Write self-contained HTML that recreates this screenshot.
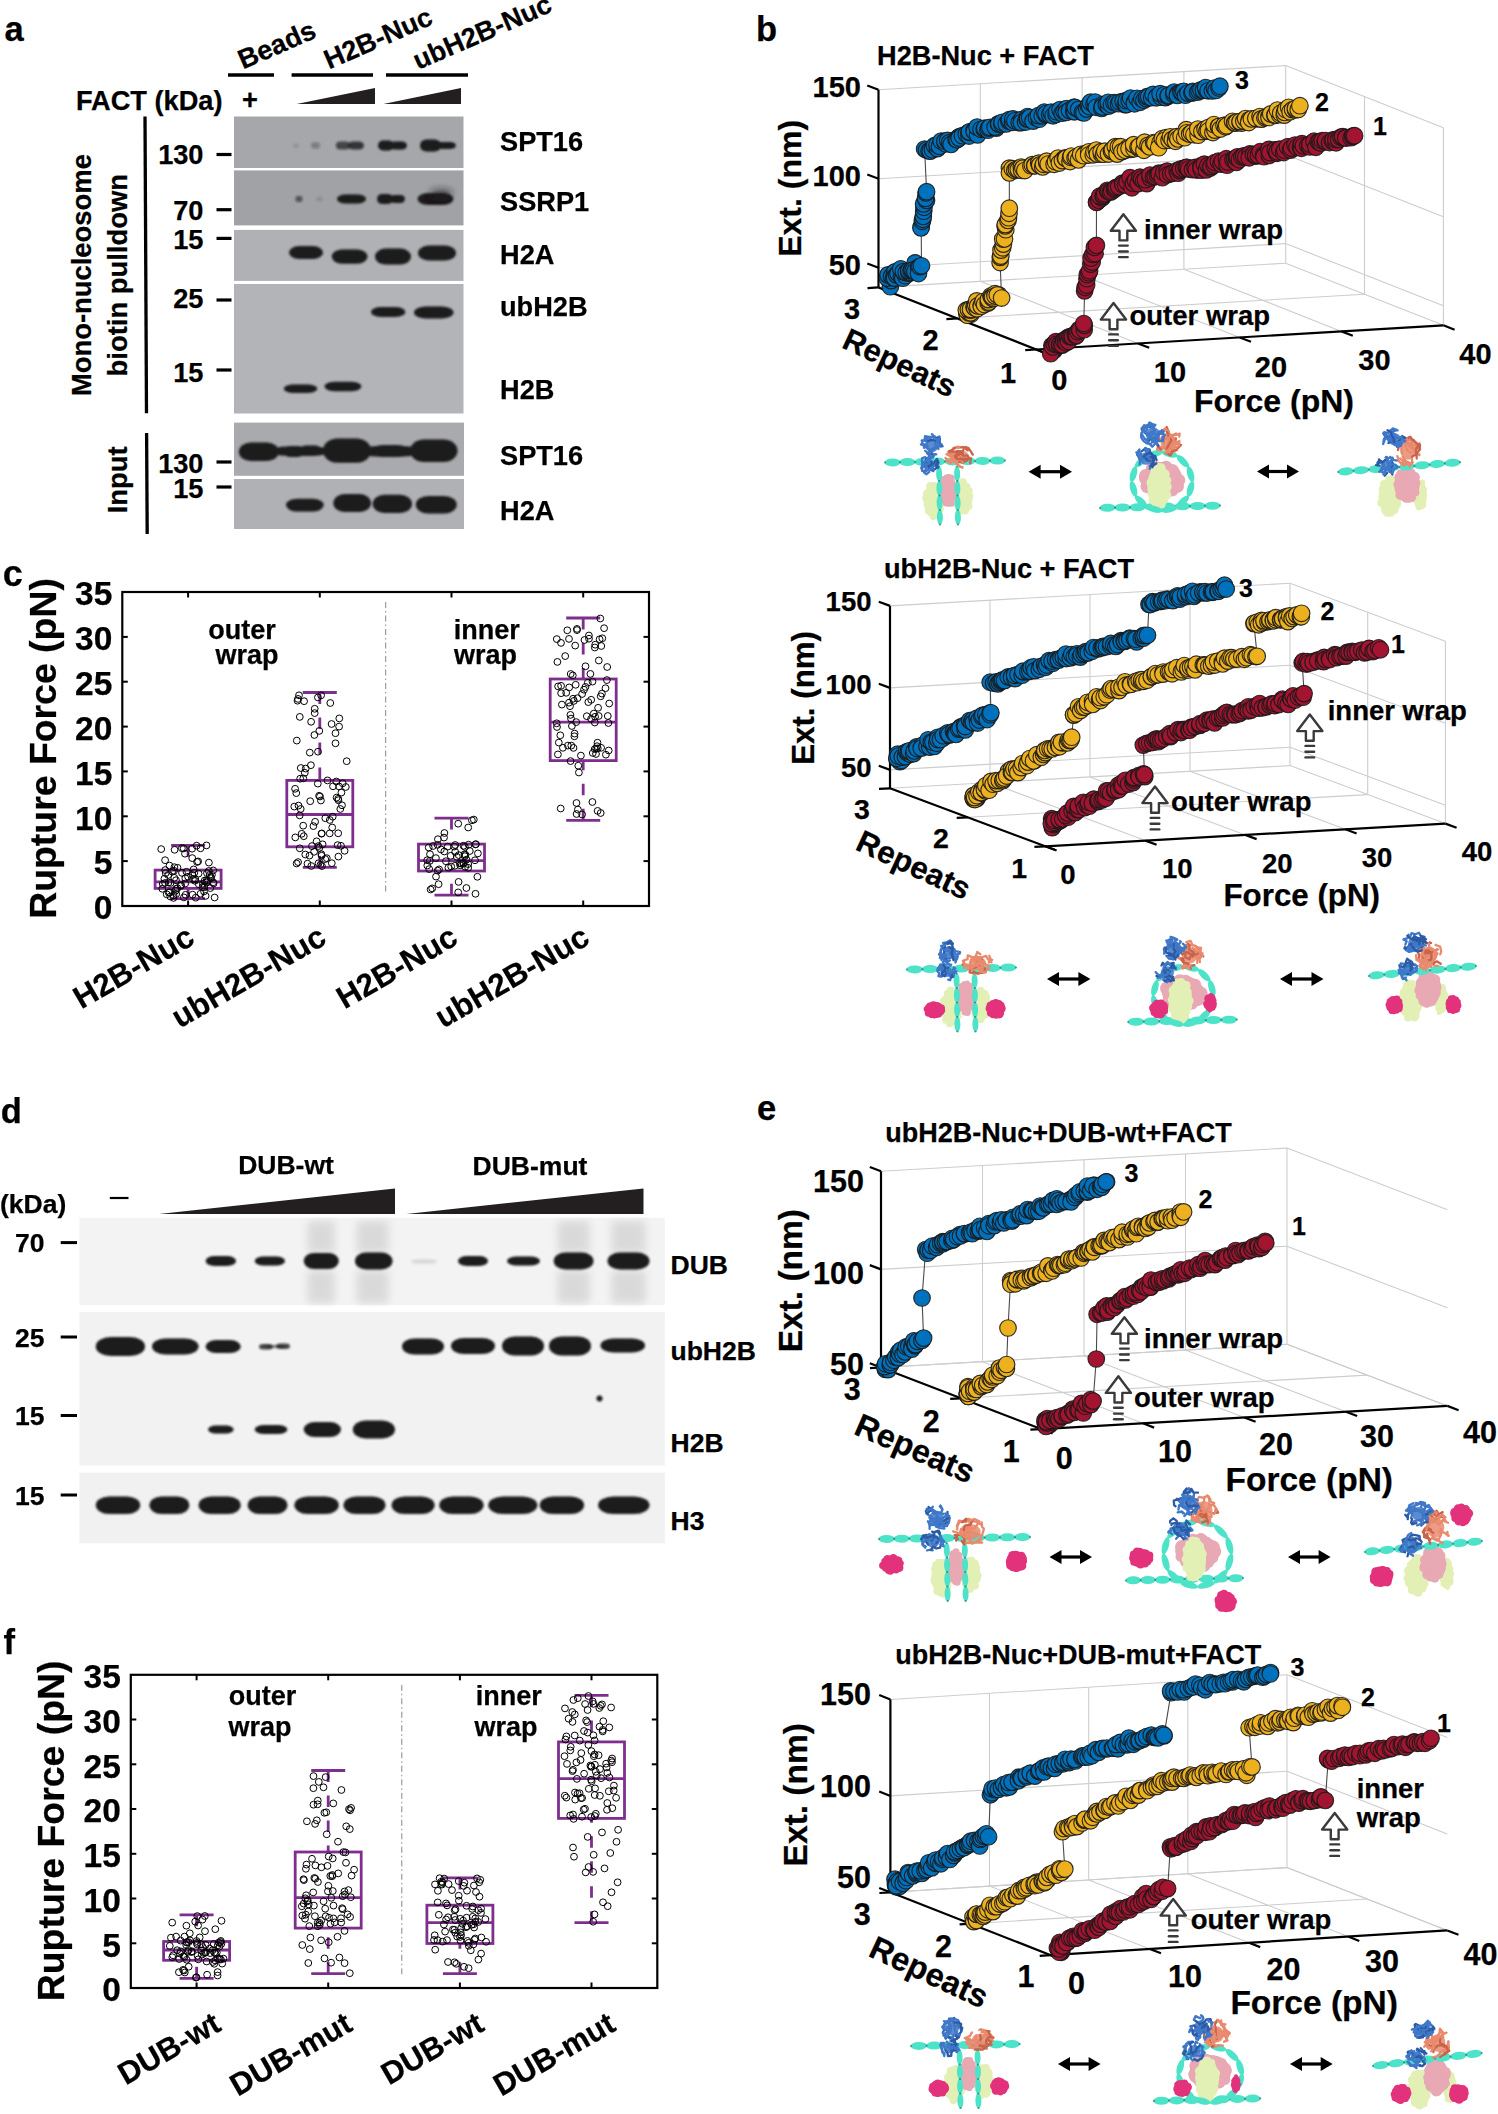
<!DOCTYPE html>
<html><head><meta charset="utf-8"><style>
html,body{margin:0;padding:0;background:#fff;}
svg{display:block;}
text{font-family:"Liberation Sans",sans-serif;font-weight:bold;fill:#000;stroke:#000;stroke-width:0.25px;}
</style></head><body>
<svg width="1498" height="2114" viewBox="0 0 1498 2114">
<defs>
<filter id="b1" x="-30%" y="-60%" width="160%" height="220%"><feGaussianBlur stdDeviation="1.3"/></filter>
<filter id="b2" x="-30%" y="-60%" width="160%" height="220%"><feGaussianBlur stdDeviation="3"/></filter>
<filter id="b3" x="-30%" y="-10%" width="160%" height="120%"><feGaussianBlur stdDeviation="4"/></filter>
<filter id="b05"><feGaussianBlur stdDeviation="0.5"/></filter>

</defs>
<rect width="1498" height="2114" fill="#fff"/>
<text x="4.5" y="41" font-size="34.5">a</text>
<text x="243" y="69.5" font-size="27.2" transform="rotate(-23.5 243 69.5)">Beads</text>
<text x="329" y="69.5" font-size="27.2" transform="rotate(-23.5 329 69.5)">H2B-Nuc</text>
<text x="418" y="70" font-size="27.2" transform="rotate(-23.5 418 70)">ubH2B-Nuc</text>
<line x1="228" y1="75" x2="274" y2="75" stroke="#000" stroke-width="3.5"/>
<line x1="291.6" y1="75" x2="373" y2="75" stroke="#000" stroke-width="3.5"/>
<line x1="386" y1="75" x2="468" y2="75" stroke="#000" stroke-width="3.5"/>
<text x="76" y="109.6" font-size="27.2">FACT (kDa)</text>
<text x="250" y="109" font-size="27.2" text-anchor="middle">+</text>
<polygon points="296.7,104 375,104 375,88" fill="#231f20"/>
<polygon points="383.4,104 461,104 461,88" fill="#231f20"/>
<line x1="145" y1="116.6" x2="146.5" y2="413.3" stroke="#000" stroke-width="3.3"/>
<line x1="146.6" y1="433" x2="147.2" y2="534" stroke="#000" stroke-width="3.3"/>
<text x="90.7" y="275.1" font-size="27.4" text-anchor="middle" transform="rotate(-90 90.7 275.1)">Mono-nucleosome</text>
<text x="126.8" y="275.2" font-size="27.4" text-anchor="middle" transform="rotate(-90 126.8 275.2)">biotin pulldown</text>
<text x="127.5" y="479.8" font-size="27.4" text-anchor="middle" transform="rotate(-90 127.5 479.8)">Input</text>
<text x="203.5" y="163.5" font-size="27.2" text-anchor="end">130</text>
<line x1="216.5" y1="154.5" x2="231.5" y2="154.5" stroke="#000" stroke-width="3.2"/>
<text x="203.5" y="219.7" font-size="27.2" text-anchor="end">70</text>
<line x1="216.5" y1="209.7" x2="231.5" y2="209.7" stroke="#000" stroke-width="3.2"/>
<text x="203.5" y="249" font-size="27.2" text-anchor="end">15</text>
<line x1="216.5" y1="238.4" x2="231.5" y2="238.4" stroke="#000" stroke-width="3.2"/>
<text x="203.5" y="308" font-size="27.2" text-anchor="end">25</text>
<line x1="216.5" y1="300" x2="231.5" y2="300" stroke="#000" stroke-width="3.2"/>
<text x="203.5" y="381.5" font-size="27.2" text-anchor="end">15</text>
<line x1="216.5" y1="370" x2="231.5" y2="370" stroke="#000" stroke-width="3.2"/>
<text x="203.5" y="472.8" font-size="27.2" text-anchor="end">130</text>
<line x1="216.5" y1="462" x2="231.5" y2="462" stroke="#000" stroke-width="3.2"/>
<text x="203.5" y="497.8" font-size="27.2" text-anchor="end">15</text>
<line x1="216.5" y1="487" x2="231.5" y2="487" stroke="#000" stroke-width="3.2"/>
<rect x="234" y="116.5" width="229.5" height="51.5" fill="#a6a7ab"/>
<rect x="234" y="170.4" width="229.5" height="55" fill="#a1a2a6"/>
<rect x="234" y="229.9" width="229.5" height="51" fill="#b0b1b5"/>
<rect x="234" y="284" width="229.5" height="129.5" fill="#b3b4b8"/>
<rect x="234" y="422.6" width="230" height="53.2" fill="#a9aaae"/>
<rect x="234" y="479" width="230" height="50" fill="#b0b1b5"/>
<g filter="url(#b1)">
<rect x="293" y="143" width="6" height="5" rx="2.5" ry="2.5" fill="#1c1a1b" opacity="0.1"/>
<rect x="311" y="142.5" width="9" height="6" rx="3" ry="3" fill="#1c1a1b" opacity="0.3"/>
<rect x="336" y="141.5" width="14" height="8" rx="4.2" ry="4" fill="#1c1a1b" opacity="0.7"/>
<rect x="348" y="141.5" width="16" height="8" rx="4.8" ry="4" fill="#1c1a1b" opacity="0.8"/>
<rect x="378" y="140.5" width="16" height="10" rx="5" ry="5" fill="#1c1a1b"/>
<rect x="390" y="141.5" width="17" height="8" rx="5.1" ry="4" fill="#1c1a1b"/>
<rect x="420" y="139.5" width="21" height="12" rx="6.3" ry="6" fill="#1c1a1b"/>
<rect x="436" y="142" width="20" height="7" rx="6" ry="3.5" fill="#1c1a1b"/>
<rect x="295.5" y="196" width="7" height="6" rx="3" ry="3" fill="#1c1a1b" opacity="0.6"/>
<rect x="316" y="196.5" width="7" height="5" rx="2.5" ry="2.5" fill="#1c1a1b" opacity="0.1"/>
<rect x="337" y="194.5" width="29" height="9" rx="8.7" ry="4.5" fill="#1c1a1b"/>
<rect x="377" y="194" width="16" height="10" rx="5" ry="5" fill="#1c1a1b"/>
<rect x="390" y="195" width="15" height="8" rx="4.5" ry="4" fill="#1c1a1b"/>
<rect x="417.5" y="193" width="36" height="12" rx="10.8" ry="6" fill="#1c1a1b"/>
<rect x="430" y="189" width="22" height="9" rx="6.6" ry="4.5" fill="#1c1a1b" filter="url(#b2)" opacity="0.6"/>
<rect x="289" y="246" width="34" height="13" rx="10.2" ry="6.5" fill="#1c1a1b"/>
<rect x="331.7" y="249.4" width="35.8" height="14.4" rx="10.7" ry="7.2" fill="#1c1a1b"/>
<rect x="375" y="248.6" width="36" height="16" rx="10.8" ry="8" fill="#1c1a1b"/>
<rect x="418" y="245.4" width="38" height="15.2" rx="11.4" ry="7.6" fill="#1c1a1b"/>
<rect x="371" y="307" width="34.4" height="10" rx="10.3" ry="5" fill="#1c1a1b"/>
<rect x="414" y="306.4" width="39.5" height="12.1" rx="11.8" ry="6.1" fill="#1c1a1b"/>
<rect x="283.7" y="384.5" width="33.6" height="8.5" rx="10.1" ry="4.2" fill="#1c1a1b"/>
<rect x="324.5" y="381.7" width="36.9" height="9.6" rx="11.1" ry="4.8" fill="#1c1a1b"/>
<rect x="238.8" y="442.6" width="40.1" height="18.4" rx="12" ry="9.2" fill="#1c1a1b"/>
<rect x="284.5" y="446" width="18.5" height="11" rx="5.5" ry="5.5" fill="#1c1a1b"/>
<rect x="300" y="445.5" width="21.3" height="10" rx="6.4" ry="5" fill="#1c1a1b"/>
<rect x="323" y="438.6" width="48" height="24.1" rx="14.4" ry="12" fill="#1c1a1b"/>
<rect x="371.8" y="445" width="36.8" height="12" rx="11" ry="6" fill="#1c1a1b"/>
<rect x="410" y="439.5" width="47.5" height="22.5" rx="14.2" ry="11.2" fill="#1c1a1b"/>
<rect x="270" y="446.5" width="60" height="9.5" rx="18" ry="4.8" fill="#1c1a1b"/>
<rect x="360" y="446" width="60" height="10.5" rx="18" ry="5.2" fill="#1c1a1b"/>
<rect x="286" y="498.7" width="37.7" height="12.8" rx="11.3" ry="6.4" fill="#1c1a1b"/>
<rect x="333.3" y="494" width="37.7" height="18" rx="11.3" ry="9" fill="#1c1a1b"/>
<rect x="372.6" y="494.7" width="39.4" height="18.3" rx="11.8" ry="9.2" fill="#1c1a1b"/>
<rect x="415.8" y="496" width="40.9" height="17.5" rx="12.3" ry="8.8" fill="#1c1a1b"/>
</g>
<text x="500" y="151" font-size="27.2">SPT16</text>
<text x="500" y="211.4" font-size="27.2">SSRP1</text>
<text x="500" y="264.4" font-size="27.2">H2A</text>
<text x="500" y="316.4" font-size="27.2">ubH2B</text>
<text x="500" y="398.6" font-size="27.2">H2B</text>
<text x="500" y="465.2" font-size="27.2">SPT16</text>
<text x="500" y="520.3" font-size="27.2">H2A</text>
<text x="2.8" y="586.4" font-size="36">c</text>
<line x1="385.7" y1="602" x2="385.7" y2="894" stroke="#888" stroke-width="1" stroke-dasharray="6 3 1.5 3"/>
<line x1="188.1" y1="845.3" x2="188.1" y2="870.1" stroke="#7e2f8e" stroke-width="2.8" stroke-dasharray="11.5 13.5"/>
<line x1="188.1" y1="898.6" x2="188.1" y2="888.4" stroke="#7e2f8e" stroke-width="2.8" stroke-dasharray="11.5 13.5"/>
<line x1="171.1" y1="845.3" x2="205.1" y2="845.3" stroke="#7e2f8e" stroke-width="2.8"/>
<line x1="171.1" y1="898.6" x2="205.1" y2="898.6" stroke="#7e2f8e" stroke-width="2.8"/>
<rect x="155.1" y="870.1" width="66" height="18.3" fill="none" stroke="#7e2f8e" stroke-width="2.8"/>
<line x1="155.1" y1="881.8" x2="221.1" y2="881.8" stroke="#7e2f8e" stroke-width="2.8"/>
<g fill="none" stroke="#000" stroke-width="1">
<circle cx="211" cy="878.2" r="3.4"/><circle cx="192.9" cy="879.1" r="3.4"/><circle cx="195.2" cy="879" r="3.4"/><circle cx="177.5" cy="867.8" r="3.4"/><circle cx="198.6" cy="873.6" r="3.4"/><circle cx="213.2" cy="870.4" r="3.4"/><circle cx="169.6" cy="892.3" r="3.4"/><circle cx="164.4" cy="878.7" r="3.4"/><circle cx="162.8" cy="884" r="3.4"/><circle cx="206.6" cy="880.4" r="3.4"/><circle cx="188.1" cy="876.7" r="3.4"/><circle cx="176.2" cy="893.9" r="3.4"/><circle cx="206.5" cy="845.4" r="3.4"/><circle cx="173.5" cy="895.4" r="3.4"/><circle cx="202.5" cy="887.1" r="3.4"/><circle cx="182" cy="872.9" r="3.4"/><circle cx="161.2" cy="849.1" r="3.4"/><circle cx="186.5" cy="871.8" r="3.4"/><circle cx="165.1" cy="860.2" r="3.4"/><circle cx="175.7" cy="890.7" r="3.4"/><circle cx="213.2" cy="882.3" r="3.4"/><circle cx="174.4" cy="867.2" r="3.4"/><circle cx="204.2" cy="887.3" r="3.4"/><circle cx="185.3" cy="878.2" r="3.4"/><circle cx="168.2" cy="875" r="3.4"/><circle cx="183.9" cy="897.4" r="3.4"/><circle cx="213.6" cy="883.5" r="3.4"/><circle cx="208.9" cy="862.6" r="3.4"/><circle cx="207.3" cy="881.2" r="3.4"/><circle cx="214.6" cy="897.5" r="3.4"/><circle cx="202.9" cy="883.7" r="3.4"/><circle cx="165.1" cy="883" r="3.4"/><circle cx="174.3" cy="877.8" r="3.4"/><circle cx="185.6" cy="894.8" r="3.4"/><circle cx="192.2" cy="858.1" r="3.4"/><circle cx="169.5" cy="865.6" r="3.4"/><circle cx="174.6" cy="849.8" r="3.4"/><circle cx="211.9" cy="874.9" r="3.4"/><circle cx="208.8" cy="871" r="3.4"/><circle cx="166.7" cy="894.3" r="3.4"/><circle cx="174" cy="870.8" r="3.4"/><circle cx="205.6" cy="895.9" r="3.4"/><circle cx="170.6" cy="883" r="3.4"/><circle cx="173.5" cy="897.9" r="3.4"/><circle cx="194.3" cy="872.8" r="3.4"/><circle cx="172.2" cy="871.6" r="3.4"/><circle cx="185.2" cy="883.5" r="3.4"/><circle cx="181.1" cy="885.2" r="3.4"/><circle cx="180.7" cy="886" r="3.4"/><circle cx="196.6" cy="845.7" r="3.4"/><circle cx="168.7" cy="892.6" r="3.4"/><circle cx="210.3" cy="888.1" r="3.4"/><circle cx="162.3" cy="888.8" r="3.4"/><circle cx="200.6" cy="893.7" r="3.4"/><circle cx="165.2" cy="870.1" r="3.4"/><circle cx="209.7" cy="874.9" r="3.4"/><circle cx="204" cy="891.4" r="3.4"/><circle cx="198.1" cy="861.4" r="3.4"/><circle cx="183.7" cy="848.5" r="3.4"/><circle cx="192.1" cy="848.7" r="3.4"/><circle cx="192.6" cy="894.7" r="3.4"/><circle cx="195.7" cy="897.7" r="3.4"/><circle cx="200.5" cy="848.3" r="3.4"/><circle cx="192.5" cy="875" r="3.4"/><circle cx="165.7" cy="873.1" r="3.4"/><circle cx="193.6" cy="869.4" r="3.4"/><circle cx="198.8" cy="884.2" r="3.4"/><circle cx="210.8" cy="877.2" r="3.4"/><circle cx="177.4" cy="888.2" r="3.4"/><circle cx="170.3" cy="896.5" r="3.4"/><circle cx="185" cy="853.7" r="3.4"/><circle cx="197.1" cy="862" r="3.4"/><circle cx="204.7" cy="880.5" r="3.4"/><circle cx="181.9" cy="848.2" r="3.4"/><circle cx="168.5" cy="882.6" r="3.4"/><circle cx="207" cy="873.1" r="3.4"/><circle cx="176.1" cy="888.9" r="3.4"/><circle cx="176" cy="880.2" r="3.4"/><circle cx="194.9" cy="880.8" r="3.4"/><circle cx="206.4" cy="882.6" r="3.4"/>
</g>
<line x1="319.8" y1="692.5" x2="319.8" y2="780.4" stroke="#7e2f8e" stroke-width="2.8" stroke-dasharray="11.5 13.5"/>
<line x1="319.8" y1="867.4" x2="319.8" y2="846.8" stroke="#7e2f8e" stroke-width="2.8" stroke-dasharray="11.5 13.5"/>
<line x1="302.8" y1="692.5" x2="336.8" y2="692.5" stroke="#7e2f8e" stroke-width="2.8"/>
<line x1="302.8" y1="867.4" x2="336.8" y2="867.4" stroke="#7e2f8e" stroke-width="2.8"/>
<rect x="286.8" y="780.4" width="66" height="66.4" fill="none" stroke="#7e2f8e" stroke-width="2.8"/>
<line x1="286.8" y1="814.5" x2="352.8" y2="814.5" stroke="#7e2f8e" stroke-width="2.8"/>
<g fill="none" stroke="#000" stroke-width="1">
<circle cx="296.8" cy="740.6" r="3.4"/><circle cx="295.1" cy="788.8" r="3.4"/><circle cx="309.5" cy="855.6" r="3.4"/><circle cx="300.2" cy="778.7" r="3.4"/><circle cx="337.6" cy="845.1" r="3.4"/><circle cx="295.3" cy="837.4" r="3.4"/><circle cx="326.8" cy="858.2" r="3.4"/><circle cx="344.6" cy="850.8" r="3.4"/><circle cx="318.5" cy="863.3" r="3.4"/><circle cx="318.3" cy="846.1" r="3.4"/><circle cx="307.5" cy="863.7" r="3.4"/><circle cx="320.9" cy="800.5" r="3.4"/><circle cx="314.1" cy="851.8" r="3.4"/><circle cx="297.5" cy="700.7" r="3.4"/><circle cx="299.8" cy="716.9" r="3.4"/><circle cx="342" cy="805.3" r="3.4"/><circle cx="340.3" cy="809" r="3.4"/><circle cx="317.9" cy="697.4" r="3.4"/><circle cx="331.8" cy="863.2" r="3.4"/><circle cx="331.6" cy="724" r="3.4"/><circle cx="345.8" cy="787" r="3.4"/><circle cx="335.5" cy="733.2" r="3.4"/><circle cx="339" cy="786.4" r="3.4"/><circle cx="316.6" cy="841.3" r="3.4"/><circle cx="319.1" cy="795.8" r="3.4"/><circle cx="296.3" cy="793.1" r="3.4"/><circle cx="310.9" cy="765.2" r="3.4"/><circle cx="300.8" cy="768" r="3.4"/><circle cx="338.2" cy="798.8" r="3.4"/><circle cx="319.4" cy="847.9" r="3.4"/><circle cx="304.8" cy="772.8" r="3.4"/><circle cx="332.2" cy="827.5" r="3.4"/><circle cx="338.4" cy="856.6" r="3.4"/><circle cx="313.4" cy="826.1" r="3.4"/><circle cx="304.1" cy="701.2" r="3.4"/><circle cx="321.1" cy="695.3" r="3.4"/><circle cx="321.8" cy="833.4" r="3.4"/><circle cx="294.3" cy="806.6" r="3.4"/><circle cx="314.4" cy="735" r="3.4"/><circle cx="319.3" cy="730.9" r="3.4"/><circle cx="321.9" cy="866.1" r="3.4"/><circle cx="342.7" cy="783.3" r="3.4"/><circle cx="299.7" cy="815.4" r="3.4"/><circle cx="341.4" cy="792.6" r="3.4"/><circle cx="303.2" cy="825.7" r="3.4"/><circle cx="299.8" cy="848.3" r="3.4"/><circle cx="303.3" cy="778.4" r="3.4"/><circle cx="310.2" cy="801.2" r="3.4"/><circle cx="298.5" cy="805.6" r="3.4"/><circle cx="320.4" cy="864.9" r="3.4"/><circle cx="321.5" cy="833.7" r="3.4"/><circle cx="315.1" cy="821.8" r="3.4"/><circle cx="303.8" cy="836.2" r="3.4"/><circle cx="321.4" cy="854.2" r="3.4"/><circle cx="339.1" cy="726.6" r="3.4"/><circle cx="336.6" cy="797.6" r="3.4"/><circle cx="309.8" cy="752.6" r="3.4"/><circle cx="346.7" cy="761.2" r="3.4"/><circle cx="305.7" cy="768.6" r="3.4"/><circle cx="298.1" cy="862.1" r="3.4"/><circle cx="335.5" cy="743.3" r="3.4"/><circle cx="329.8" cy="820" r="3.4"/><circle cx="329.7" cy="833.4" r="3.4"/><circle cx="299" cy="695.3" r="3.4"/><circle cx="320" cy="796.5" r="3.4"/><circle cx="296.6" cy="863.5" r="3.4"/><circle cx="322.6" cy="844.3" r="3.4"/><circle cx="300.7" cy="809" r="3.4"/><circle cx="338.2" cy="833.3" r="3.4"/><circle cx="298" cy="698.9" r="3.4"/><circle cx="317.8" cy="783.6" r="3.4"/><circle cx="318" cy="751.7" r="3.4"/><circle cx="325.3" cy="818.2" r="3.4"/><circle cx="338.4" cy="800.2" r="3.4"/><circle cx="332.7" cy="816.7" r="3.4"/><circle cx="301.7" cy="833.8" r="3.4"/><circle cx="341" cy="845.8" r="3.4"/><circle cx="339.3" cy="718.4" r="3.4"/><circle cx="325.2" cy="859.1" r="3.4"/><circle cx="336.3" cy="781.5" r="3.4"/><circle cx="333" cy="786.3" r="3.4"/><circle cx="314.7" cy="708.8" r="3.4"/><circle cx="330.3" cy="703" r="3.4"/><circle cx="314.7" cy="713.1" r="3.4"/><circle cx="311.3" cy="866" r="3.4"/><circle cx="312" cy="846.1" r="3.4"/><circle cx="305.3" cy="854.5" r="3.4"/><circle cx="311.1" cy="721.8" r="3.4"/><circle cx="321.6" cy="855.7" r="3.4"/><circle cx="327.5" cy="780.4" r="3.4"/>
</g>
<line x1="451.5" y1="818.1" x2="451.5" y2="844.1" stroke="#7e2f8e" stroke-width="2.8" stroke-dasharray="11.5 13.5"/>
<line x1="451.5" y1="895.2" x2="451.5" y2="871" stroke="#7e2f8e" stroke-width="2.8" stroke-dasharray="11.5 13.5"/>
<line x1="434.5" y1="818.1" x2="468.5" y2="818.1" stroke="#7e2f8e" stroke-width="2.8"/>
<line x1="434.5" y1="895.2" x2="468.5" y2="895.2" stroke="#7e2f8e" stroke-width="2.8"/>
<rect x="418.5" y="844.1" width="66" height="26.9" fill="none" stroke="#7e2f8e" stroke-width="2.8"/>
<line x1="418.5" y1="860.6" x2="484.5" y2="860.6" stroke="#7e2f8e" stroke-width="2.8"/>
<g fill="none" stroke="#000" stroke-width="1">
<circle cx="477.4" cy="876.8" r="3.4"/><circle cx="464.4" cy="854.4" r="3.4"/><circle cx="427.2" cy="860.2" r="3.4"/><circle cx="429.8" cy="860.9" r="3.4"/><circle cx="454.2" cy="846.6" r="3.4"/><circle cx="455.2" cy="845" r="3.4"/><circle cx="468.2" cy="827.5" r="3.4"/><circle cx="465.5" cy="854.9" r="3.4"/><circle cx="433.1" cy="846" r="3.4"/><circle cx="451.2" cy="866.5" r="3.4"/><circle cx="475.5" cy="893.8" r="3.4"/><circle cx="456.8" cy="856.8" r="3.4"/><circle cx="459.9" cy="863.3" r="3.4"/><circle cx="463.2" cy="863.4" r="3.4"/><circle cx="437.7" cy="870.6" r="3.4"/><circle cx="465.2" cy="866.8" r="3.4"/><circle cx="464.9" cy="846.9" r="3.4"/><circle cx="475.5" cy="844.4" r="3.4"/><circle cx="447.7" cy="846.6" r="3.4"/><circle cx="437.6" cy="844.8" r="3.4"/><circle cx="463.5" cy="845.8" r="3.4"/><circle cx="468.6" cy="844.7" r="3.4"/><circle cx="458.2" cy="892.4" r="3.4"/><circle cx="427.3" cy="865.5" r="3.4"/><circle cx="448.4" cy="867.7" r="3.4"/><circle cx="438.6" cy="884.2" r="3.4"/><circle cx="466.5" cy="859.7" r="3.4"/><circle cx="475.9" cy="844.2" r="3.4"/><circle cx="430.6" cy="889.5" r="3.4"/><circle cx="458.2" cy="823.7" r="3.4"/><circle cx="461.5" cy="863.7" r="3.4"/><circle cx="458.7" cy="855.1" r="3.4"/><circle cx="437.9" cy="839.2" r="3.4"/><circle cx="471.9" cy="820.3" r="3.4"/><circle cx="439.1" cy="869.4" r="3.4"/><circle cx="430" cy="854.2" r="3.4"/><circle cx="429.2" cy="869.1" r="3.4"/><circle cx="458.6" cy="881.9" r="3.4"/><circle cx="435.9" cy="858.1" r="3.4"/><circle cx="469.8" cy="851" r="3.4"/><circle cx="468.2" cy="867.8" r="3.4"/><circle cx="436" cy="876.6" r="3.4"/><circle cx="468.2" cy="864.1" r="3.4"/><circle cx="477.9" cy="853.4" r="3.4"/><circle cx="464.8" cy="856.2" r="3.4"/><circle cx="444.4" cy="833" r="3.4"/><circle cx="428.7" cy="847.5" r="3.4"/><circle cx="450.7" cy="855.8" r="3.4"/><circle cx="466.4" cy="888" r="3.4"/><circle cx="460.2" cy="865.3" r="3.4"/><circle cx="463.6" cy="862.8" r="3.4"/><circle cx="432.2" cy="888.4" r="3.4"/><circle cx="444.3" cy="851.5" r="3.4"/><circle cx="455.2" cy="851.9" r="3.4"/><circle cx="473.8" cy="819.6" r="3.4"/><circle cx="440.9" cy="849.4" r="3.4"/><circle cx="475" cy="860.3" r="3.4"/><circle cx="444" cy="837.6" r="3.4"/><circle cx="445.9" cy="861.2" r="3.4"/><circle cx="454.9" cy="865.8" r="3.4"/>
</g>
<line x1="583.2" y1="618" x2="583.2" y2="679" stroke="#7e2f8e" stroke-width="2.8" stroke-dasharray="11.5 13.5"/>
<line x1="583.2" y1="820.3" x2="583.2" y2="760.7" stroke="#7e2f8e" stroke-width="2.8" stroke-dasharray="11.5 13.5"/>
<line x1="566.2" y1="618" x2="600.2" y2="618" stroke="#7e2f8e" stroke-width="2.8"/>
<line x1="566.2" y1="820.3" x2="600.2" y2="820.3" stroke="#7e2f8e" stroke-width="2.8"/>
<rect x="550.2" y="679" width="66" height="81.6" fill="none" stroke="#7e2f8e" stroke-width="2.8"/>
<line x1="550.2" y1="722.1" x2="616.2" y2="722.1" stroke="#7e2f8e" stroke-width="2.8"/>
<g fill="none" stroke="#000" stroke-width="1">
<circle cx="601.3" cy="646" r="3.4"/><circle cx="597.1" cy="746.2" r="3.4"/><circle cx="557.4" cy="661.9" r="3.4"/><circle cx="586.8" cy="716.2" r="3.4"/><circle cx="599.6" cy="639.3" r="3.4"/><circle cx="598.7" cy="716" r="3.4"/><circle cx="596" cy="754" r="3.4"/><circle cx="590.4" cy="673.9" r="3.4"/><circle cx="591.2" cy="699.8" r="3.4"/><circle cx="597.5" cy="742.7" r="3.4"/><circle cx="577.5" cy="698.2" r="3.4"/><circle cx="592.5" cy="681.6" r="3.4"/><circle cx="595.1" cy="716.8" r="3.4"/><circle cx="578.3" cy="765.7" r="3.4"/><circle cx="602.3" cy="638.3" r="3.4"/><circle cx="604.1" cy="628.2" r="3.4"/><circle cx="584.5" cy="640" r="3.4"/><circle cx="578.9" cy="772.5" r="3.4"/><circle cx="596.2" cy="748.7" r="3.4"/><circle cx="565.2" cy="656.1" r="3.4"/><circle cx="571.9" cy="726" r="3.4"/><circle cx="572.8" cy="675.4" r="3.4"/><circle cx="598.1" cy="707.8" r="3.4"/><circle cx="580.9" cy="755.6" r="3.4"/><circle cx="558.1" cy="686.4" r="3.4"/><circle cx="567.9" cy="745.6" r="3.4"/><circle cx="588.3" cy="702.1" r="3.4"/><circle cx="571.3" cy="745.6" r="3.4"/><circle cx="573" cy="698.8" r="3.4"/><circle cx="582.1" cy="694" r="3.4"/><circle cx="605.5" cy="688.2" r="3.4"/><circle cx="607.8" cy="716" r="3.4"/><circle cx="558.8" cy="742.6" r="3.4"/><circle cx="577" cy="630.1" r="3.4"/><circle cx="571" cy="718.6" r="3.4"/><circle cx="569" cy="638.9" r="3.4"/><circle cx="576.2" cy="722.1" r="3.4"/><circle cx="588.9" cy="635.5" r="3.4"/><circle cx="573.5" cy="747.9" r="3.4"/><circle cx="584" cy="689.7" r="3.4"/><circle cx="570.6" cy="761.1" r="3.4"/><circle cx="597.8" cy="748.4" r="3.4"/><circle cx="601.9" cy="693.6" r="3.4"/><circle cx="570.7" cy="674" r="3.4"/><circle cx="582.1" cy="814.5" r="3.4"/><circle cx="587.8" cy="682.7" r="3.4"/><circle cx="598.8" cy="660.5" r="3.4"/><circle cx="561.1" cy="685.8" r="3.4"/><circle cx="585.5" cy="666.3" r="3.4"/><circle cx="601.1" cy="747.8" r="3.4"/><circle cx="560.3" cy="735.3" r="3.4"/><circle cx="594.8" cy="722.5" r="3.4"/><circle cx="561.9" cy="704.6" r="3.4"/><circle cx="608.4" cy="723" r="3.4"/><circle cx="556.8" cy="639.1" r="3.4"/><circle cx="569" cy="702.7" r="3.4"/><circle cx="556.7" cy="723.3" r="3.4"/><circle cx="567.3" cy="630.3" r="3.4"/><circle cx="576.5" cy="803" r="3.4"/><circle cx="574.4" cy="736.3" r="3.4"/><circle cx="570" cy="706.2" r="3.4"/><circle cx="573.9" cy="700.9" r="3.4"/><circle cx="595.2" cy="644.7" r="3.4"/><circle cx="561.1" cy="693.2" r="3.4"/><circle cx="592.8" cy="753" r="3.4"/><circle cx="577.9" cy="809.6" r="3.4"/><circle cx="561" cy="642.9" r="3.4"/><circle cx="562.9" cy="747.8" r="3.4"/><circle cx="605.9" cy="754.7" r="3.4"/><circle cx="591.1" cy="718.9" r="3.4"/><circle cx="577" cy="628.9" r="3.4"/><circle cx="557" cy="727" r="3.4"/><circle cx="609.2" cy="703.5" r="3.4"/><circle cx="589" cy="638.7" r="3.4"/><circle cx="574.6" cy="733.6" r="3.4"/><circle cx="576.6" cy="814" r="3.4"/><circle cx="600.7" cy="696.3" r="3.4"/><circle cx="597.6" cy="810.9" r="3.4"/><circle cx="575.2" cy="645.6" r="3.4"/><circle cx="594.7" cy="749.1" r="3.4"/><circle cx="594.8" cy="647.5" r="3.4"/><circle cx="607.2" cy="667" r="3.4"/><circle cx="560.7" cy="808.5" r="3.4"/><circle cx="593.8" cy="713.6" r="3.4"/><circle cx="575.7" cy="684.8" r="3.4"/><circle cx="608.7" cy="750.5" r="3.4"/><circle cx="585.5" cy="686.9" r="3.4"/><circle cx="570.4" cy="714.9" r="3.4"/><circle cx="600.3" cy="618.5" r="3.4"/><circle cx="600.7" cy="813" r="3.4"/><circle cx="569.2" cy="687.4" r="3.4"/><circle cx="566.2" cy="692.8" r="3.4"/><circle cx="557.9" cy="754.4" r="3.4"/><circle cx="606.9" cy="680.1" r="3.4"/><circle cx="592.4" cy="802" r="3.4"/>
</g>
<rect x="122.3" y="592" width="526.7" height="314" fill="none" stroke="#000" stroke-width="2.2"/>
<text x="112.3" y="919.3" font-size="33.5" text-anchor="end">0</text>
<line x1="122.3" y1="861.1" x2="127.8" y2="861.1" stroke="#000" stroke-width="2"/>
<line x1="649" y1="861.1" x2="643.5" y2="861.1" stroke="#000" stroke-width="2"/>
<text x="112.3" y="874.4" font-size="33.5" text-anchor="end">5</text>
<line x1="122.3" y1="816.3" x2="127.8" y2="816.3" stroke="#000" stroke-width="2"/>
<line x1="649" y1="816.3" x2="643.5" y2="816.3" stroke="#000" stroke-width="2"/>
<text x="112.3" y="829.6" font-size="33.5" text-anchor="end">10</text>
<line x1="122.3" y1="771.4" x2="127.8" y2="771.4" stroke="#000" stroke-width="2"/>
<line x1="649" y1="771.4" x2="643.5" y2="771.4" stroke="#000" stroke-width="2"/>
<text x="112.3" y="784.7" font-size="33.5" text-anchor="end">15</text>
<line x1="122.3" y1="726.6" x2="127.8" y2="726.6" stroke="#000" stroke-width="2"/>
<line x1="649" y1="726.6" x2="643.5" y2="726.6" stroke="#000" stroke-width="2"/>
<text x="112.3" y="739.9" font-size="33.5" text-anchor="end">20</text>
<line x1="122.3" y1="681.7" x2="127.8" y2="681.7" stroke="#000" stroke-width="2"/>
<line x1="649" y1="681.7" x2="643.5" y2="681.7" stroke="#000" stroke-width="2"/>
<text x="112.3" y="695" font-size="33.5" text-anchor="end">25</text>
<line x1="122.3" y1="636.9" x2="127.8" y2="636.9" stroke="#000" stroke-width="2"/>
<line x1="649" y1="636.9" x2="643.5" y2="636.9" stroke="#000" stroke-width="2"/>
<text x="112.3" y="650.2" font-size="33.5" text-anchor="end">30</text>
<text x="112.3" y="605.3" font-size="33.5" text-anchor="end">35</text>
<line x1="188.1" y1="906" x2="188.1" y2="900.5" stroke="#000" stroke-width="2"/>
<line x1="188.1" y1="592" x2="188.1" y2="597.5" stroke="#000" stroke-width="2"/>
<line x1="319.8" y1="906" x2="319.8" y2="900.5" stroke="#000" stroke-width="2"/>
<line x1="319.8" y1="592" x2="319.8" y2="597.5" stroke="#000" stroke-width="2"/>
<line x1="451.5" y1="906" x2="451.5" y2="900.5" stroke="#000" stroke-width="2"/>
<line x1="451.5" y1="592" x2="451.5" y2="597.5" stroke="#000" stroke-width="2"/>
<line x1="583.2" y1="906" x2="583.2" y2="900.5" stroke="#000" stroke-width="2"/>
<line x1="583.2" y1="592" x2="583.2" y2="597.5" stroke="#000" stroke-width="2"/>
<text x="56" y="748.5" font-size="37.4" text-anchor="middle" transform="rotate(-90 56 748.5)">Rupture Force (pN)</text>
<text x="196.4" y="943" font-size="31.5" text-anchor="end" transform="rotate(-30 196.4 943)">H2B-Nuc</text>
<text x="328.1" y="943" font-size="31.5" text-anchor="end" transform="rotate(-30 328.1 943)">ubH2B-Nuc</text>
<text x="459.8" y="943" font-size="31.5" text-anchor="end" transform="rotate(-30 459.8 943)">H2B-Nuc</text>
<text x="591.5" y="943" font-size="31.5" text-anchor="end" transform="rotate(-30 591.5 943)">ubH2B-Nuc</text>
<text x="242" y="639.3" font-size="27" text-anchor="middle">outer</text>
<text x="247" y="663.5" font-size="27" text-anchor="middle">wrap</text>
<text x="486.7" y="639.3" font-size="27" text-anchor="middle">inner</text>
<text x="485.5" y="663.5" font-size="27" text-anchor="middle">wrap</text>
<text x="3.6" y="1654" font-size="34.5">f</text>
<line x1="401.8" y1="1684.8" x2="401.8" y2="1976" stroke="#888" stroke-width="1" stroke-dasharray="6 3 1.5 3"/>
<line x1="196.6" y1="1914.8" x2="196.6" y2="1941.5" stroke="#7e2f8e" stroke-width="2.8" stroke-dasharray="11.5 13.5"/>
<line x1="196.6" y1="1978.3" x2="196.6" y2="1960.3" stroke="#7e2f8e" stroke-width="2.8" stroke-dasharray="11.5 13.5"/>
<line x1="179.6" y1="1914.8" x2="213.6" y2="1914.8" stroke="#7e2f8e" stroke-width="2.8"/>
<line x1="179.6" y1="1978.3" x2="213.6" y2="1978.3" stroke="#7e2f8e" stroke-width="2.8"/>
<rect x="163.6" y="1941.5" width="66" height="18.8" fill="none" stroke="#7e2f8e" stroke-width="2.8"/>
<line x1="163.6" y1="1950" x2="229.6" y2="1950" stroke="#7e2f8e" stroke-width="2.8"/>
<g fill="none" stroke="#000" stroke-width="1">
<circle cx="170.9" cy="1937.7" r="3.4"/><circle cx="176.1" cy="1936.6" r="3.4"/><circle cx="217.6" cy="1972.1" r="3.4"/><circle cx="186.9" cy="1942.2" r="3.4"/><circle cx="206.6" cy="1961.5" r="3.4"/><circle cx="172.2" cy="1922.6" r="3.4"/><circle cx="186.4" cy="1925.7" r="3.4"/><circle cx="201.1" cy="1944.3" r="3.4"/><circle cx="221.5" cy="1920.8" r="3.4"/><circle cx="202.7" cy="1947.1" r="3.4"/><circle cx="186.5" cy="1942.3" r="3.4"/><circle cx="204.8" cy="1916" r="3.4"/><circle cx="205.7" cy="1944.8" r="3.4"/><circle cx="198.3" cy="1959.3" r="3.4"/><circle cx="197" cy="1942.9" r="3.4"/><circle cx="205.3" cy="1952.6" r="3.4"/><circle cx="189.8" cy="1933.3" r="3.4"/><circle cx="201.8" cy="1954.7" r="3.4"/><circle cx="206" cy="1952.1" r="3.4"/><circle cx="223.4" cy="1958.6" r="3.4"/><circle cx="191.4" cy="1952.1" r="3.4"/><circle cx="197.3" cy="1916.1" r="3.4"/><circle cx="218" cy="1958.4" r="3.4"/><circle cx="188.5" cy="1950" r="3.4"/><circle cx="179.9" cy="1953.5" r="3.4"/><circle cx="212.6" cy="1950.2" r="3.4"/><circle cx="207.1" cy="1974.7" r="3.4"/><circle cx="214.3" cy="1952.5" r="3.4"/><circle cx="215.3" cy="1929.2" r="3.4"/><circle cx="201.2" cy="1950.4" r="3.4"/><circle cx="195.2" cy="1921.6" r="3.4"/><circle cx="188.7" cy="1966.7" r="3.4"/><circle cx="202.5" cy="1919.6" r="3.4"/><circle cx="196.6" cy="1941" r="3.4"/><circle cx="178.9" cy="1972.2" r="3.4"/><circle cx="184.1" cy="1970.5" r="3.4"/><circle cx="188.6" cy="1942.1" r="3.4"/><circle cx="183.4" cy="1956.2" r="3.4"/><circle cx="184.5" cy="1936.6" r="3.4"/><circle cx="180.8" cy="1951.4" r="3.4"/><circle cx="219.6" cy="1946.4" r="3.4"/><circle cx="190" cy="1940.4" r="3.4"/><circle cx="180.6" cy="1940.6" r="3.4"/><circle cx="210.1" cy="1953.1" r="3.4"/><circle cx="183.1" cy="1969.9" r="3.4"/><circle cx="173.1" cy="1955.3" r="3.4"/><circle cx="217.6" cy="1975.5" r="3.4"/><circle cx="196.5" cy="1977.3" r="3.4"/><circle cx="195.9" cy="1977.6" r="3.4"/><circle cx="169.8" cy="1945.9" r="3.4"/><circle cx="215.3" cy="1960.5" r="3.4"/><circle cx="177.2" cy="1950.2" r="3.4"/><circle cx="213.8" cy="1944" r="3.4"/><circle cx="204.2" cy="1953.1" r="3.4"/><circle cx="217.8" cy="1945.2" r="3.4"/><circle cx="215.4" cy="1953.5" r="3.4"/><circle cx="184.6" cy="1956.7" r="3.4"/><circle cx="197.1" cy="1944.5" r="3.4"/><circle cx="222.2" cy="1963.6" r="3.4"/><circle cx="216.8" cy="1952.6" r="3.4"/><circle cx="205" cy="1931.2" r="3.4"/><circle cx="172.3" cy="1957.2" r="3.4"/><circle cx="197.6" cy="1955.8" r="3.4"/><circle cx="199.7" cy="1937.4" r="3.4"/><circle cx="198.1" cy="1925.5" r="3.4"/><circle cx="220.8" cy="1940.9" r="3.4"/><circle cx="214.2" cy="1963.8" r="3.4"/><circle cx="179.2" cy="1959" r="3.4"/><circle cx="218.7" cy="1942.6" r="3.4"/><circle cx="209.6" cy="1948.6" r="3.4"/><circle cx="220.5" cy="1942" r="3.4"/><circle cx="212.9" cy="1962" r="3.4"/><circle cx="184.8" cy="1972.5" r="3.4"/><circle cx="219.6" cy="1959.2" r="3.4"/><circle cx="186.7" cy="1959.8" r="3.4"/><circle cx="187.6" cy="1951.9" r="3.4"/><circle cx="192" cy="1951.3" r="3.4"/><circle cx="186.2" cy="1945" r="3.4"/><circle cx="221.4" cy="1943.8" r="3.4"/><circle cx="220.9" cy="1959.5" r="3.4"/>
</g>
<line x1="328.2" y1="1770.5" x2="328.2" y2="1852" stroke="#7e2f8e" stroke-width="2.8" stroke-dasharray="11.5 13.5"/>
<line x1="328.2" y1="1973.7" x2="328.2" y2="1928" stroke="#7e2f8e" stroke-width="2.8" stroke-dasharray="11.5 13.5"/>
<line x1="311.2" y1="1770.5" x2="345.2" y2="1770.5" stroke="#7e2f8e" stroke-width="2.8"/>
<line x1="311.2" y1="1973.7" x2="345.2" y2="1973.7" stroke="#7e2f8e" stroke-width="2.8"/>
<rect x="295.2" y="1852" width="66" height="76.1" fill="none" stroke="#7e2f8e" stroke-width="2.8"/>
<line x1="295.2" y1="1897.6" x2="361.2" y2="1897.6" stroke="#7e2f8e" stroke-width="2.8"/>
<g fill="none" stroke="#000" stroke-width="1">
<circle cx="308.2" cy="1911.5" r="3.4"/><circle cx="308.7" cy="1904.4" r="3.4"/><circle cx="345.5" cy="1852.4" r="3.4"/><circle cx="344.5" cy="1891.5" r="3.4"/><circle cx="319.6" cy="1922.8" r="3.4"/><circle cx="332.7" cy="1858.5" r="3.4"/><circle cx="303.9" cy="1880.1" r="3.4"/><circle cx="337.5" cy="1936.8" r="3.4"/><circle cx="301.8" cy="1906.3" r="3.4"/><circle cx="325.7" cy="1916.3" r="3.4"/><circle cx="326.7" cy="1834.3" r="3.4"/><circle cx="302.3" cy="1945" r="3.4"/><circle cx="317.6" cy="1804.3" r="3.4"/><circle cx="351.6" cy="1875.6" r="3.4"/><circle cx="331.3" cy="1897.8" r="3.4"/><circle cx="350.8" cy="1897.2" r="3.4"/><circle cx="315.4" cy="1865.4" r="3.4"/><circle cx="313.4" cy="1788.2" r="3.4"/><circle cx="332.2" cy="1876.2" r="3.4"/><circle cx="331.1" cy="1962.7" r="3.4"/><circle cx="321.4" cy="1867.3" r="3.4"/><circle cx="313.5" cy="1804.7" r="3.4"/><circle cx="341" cy="1918.3" r="3.4"/><circle cx="317.9" cy="1882" r="3.4"/><circle cx="338" cy="1841.7" r="3.4"/><circle cx="308.3" cy="1963" r="3.4"/><circle cx="315.3" cy="1878.7" r="3.4"/><circle cx="344.9" cy="1894.5" r="3.4"/><circle cx="328.7" cy="1856.5" r="3.4"/><circle cx="321.3" cy="1920.4" r="3.4"/><circle cx="305.8" cy="1914.7" r="3.4"/><circle cx="325.2" cy="1908.7" r="3.4"/><circle cx="332.4" cy="1875" r="3.4"/><circle cx="347.6" cy="1914.4" r="3.4"/><circle cx="305" cy="1918.7" r="3.4"/><circle cx="351.1" cy="1807.9" r="3.4"/><circle cx="324.5" cy="1958.4" r="3.4"/><circle cx="344.6" cy="1963.1" r="3.4"/><circle cx="319.8" cy="1924.8" r="3.4"/><circle cx="350.1" cy="1916.9" r="3.4"/><circle cx="350.1" cy="1810.3" r="3.4"/><circle cx="309.8" cy="1949.1" r="3.4"/><circle cx="325.6" cy="1777.1" r="3.4"/><circle cx="334.7" cy="1922.4" r="3.4"/><circle cx="316.8" cy="1820.3" r="3.4"/><circle cx="310.4" cy="1937.5" r="3.4"/><circle cx="303.5" cy="1879.2" r="3.4"/><circle cx="346.2" cy="1826.3" r="3.4"/><circle cx="302.3" cy="1915.5" r="3.4"/><circle cx="342.1" cy="1908.2" r="3.4"/><circle cx="317.8" cy="1800.6" r="3.4"/><circle cx="321.1" cy="1940.3" r="3.4"/><circle cx="313.2" cy="1892.4" r="3.4"/><circle cx="305.3" cy="1898.3" r="3.4"/><circle cx="349.8" cy="1829.1" r="3.4"/><circle cx="349.8" cy="1973.2" r="3.4"/><circle cx="349" cy="1809.2" r="3.4"/><circle cx="309.3" cy="1926.1" r="3.4"/><circle cx="346" cy="1862.8" r="3.4"/><circle cx="307.3" cy="1901.4" r="3.4"/><circle cx="323.6" cy="1901.3" r="3.4"/><circle cx="314.3" cy="1878" r="3.4"/><circle cx="324.4" cy="1812.8" r="3.4"/><circle cx="315.1" cy="1823.9" r="3.4"/><circle cx="313.9" cy="1905.6" r="3.4"/><circle cx="339.4" cy="1957.5" r="3.4"/><circle cx="317.7" cy="1922.7" r="3.4"/><circle cx="312" cy="1858.8" r="3.4"/><circle cx="314.9" cy="1916.2" r="3.4"/><circle cx="313.5" cy="1776.1" r="3.4"/><circle cx="332.8" cy="1891" r="3.4"/><circle cx="342.7" cy="1896.2" r="3.4"/><circle cx="338.2" cy="1873.4" r="3.4"/><circle cx="326.3" cy="1812.3" r="3.4"/><circle cx="329" cy="1917.7" r="3.4"/><circle cx="303.7" cy="1903.6" r="3.4"/><circle cx="330.5" cy="1923.8" r="3.4"/><circle cx="328.4" cy="1885.8" r="3.4"/><circle cx="333.4" cy="1918.4" r="3.4"/><circle cx="328.7" cy="1942.2" r="3.4"/><circle cx="317.8" cy="1926.2" r="3.4"/><circle cx="306.9" cy="1821.3" r="3.4"/><circle cx="306.5" cy="1864.6" r="3.4"/><circle cx="348.4" cy="1890.1" r="3.4"/><circle cx="342.7" cy="1909.2" r="3.4"/><circle cx="333.5" cy="1905.6" r="3.4"/><circle cx="318.8" cy="1781.9" r="3.4"/><circle cx="307.8" cy="1900.4" r="3.4"/><circle cx="354.1" cy="1869.7" r="3.4"/><circle cx="341.2" cy="1922.5" r="3.4"/><circle cx="323.5" cy="1787.3" r="3.4"/><circle cx="341.4" cy="1790" r="3.4"/><circle cx="343.4" cy="1852.1" r="3.4"/><circle cx="306.1" cy="1895.3" r="3.4"/><circle cx="327.5" cy="1865.9" r="3.4"/><circle cx="305.9" cy="1868.8" r="3.4"/><circle cx="327.9" cy="1891.3" r="3.4"/><circle cx="344.5" cy="1930.9" r="3.4"/><circle cx="330.3" cy="1876" r="3.4"/><circle cx="333.3" cy="1803.4" r="3.4"/>
</g>
<line x1="459.9" y1="1877.9" x2="459.9" y2="1905.2" stroke="#7e2f8e" stroke-width="2.8" stroke-dasharray="11.5 13.5"/>
<line x1="459.9" y1="1973.7" x2="459.9" y2="1943.5" stroke="#7e2f8e" stroke-width="2.8" stroke-dasharray="11.5 13.5"/>
<line x1="442.9" y1="1877.9" x2="476.9" y2="1877.9" stroke="#7e2f8e" stroke-width="2.8"/>
<line x1="442.9" y1="1973.7" x2="476.9" y2="1973.7" stroke="#7e2f8e" stroke-width="2.8"/>
<rect x="426.9" y="1905.2" width="66" height="38.3" fill="none" stroke="#7e2f8e" stroke-width="2.8"/>
<line x1="426.9" y1="1922.7" x2="492.9" y2="1922.7" stroke="#7e2f8e" stroke-width="2.8"/>
<g fill="none" stroke="#000" stroke-width="1">
<circle cx="474.1" cy="1927.5" r="3.4"/><circle cx="472.2" cy="1908.9" r="3.4"/><circle cx="463.6" cy="1885.9" r="3.4"/><circle cx="468.6" cy="1942.8" r="3.4"/><circle cx="473.9" cy="1885.5" r="3.4"/><circle cx="448" cy="1917.3" r="3.4"/><circle cx="454.7" cy="1910.3" r="3.4"/><circle cx="442.7" cy="1941.6" r="3.4"/><circle cx="461.1" cy="1935.3" r="3.4"/><circle cx="437.5" cy="1940.1" r="3.4"/><circle cx="473.4" cy="1944.4" r="3.4"/><circle cx="475.2" cy="1938.5" r="3.4"/><circle cx="460.5" cy="1940.6" r="3.4"/><circle cx="479.5" cy="1896.7" r="3.4"/><circle cx="472.8" cy="1906.5" r="3.4"/><circle cx="477" cy="1878.4" r="3.4"/><circle cx="462.3" cy="1923.8" r="3.4"/><circle cx="464" cy="1966.8" r="3.4"/><circle cx="457.1" cy="1936.5" r="3.4"/><circle cx="452" cy="1890.1" r="3.4"/><circle cx="454.4" cy="1929.8" r="3.4"/><circle cx="445.1" cy="1931.6" r="3.4"/><circle cx="466.6" cy="1917.7" r="3.4"/><circle cx="468.8" cy="1945.8" r="3.4"/><circle cx="461.2" cy="1928.1" r="3.4"/><circle cx="437.9" cy="1890.8" r="3.4"/><circle cx="475.3" cy="1918.4" r="3.4"/><circle cx="434.7" cy="1935.3" r="3.4"/><circle cx="438.8" cy="1914.8" r="3.4"/><circle cx="463.1" cy="1920.7" r="3.4"/><circle cx="434" cy="1940" r="3.4"/><circle cx="455.5" cy="1909.2" r="3.4"/><circle cx="464.4" cy="1882.7" r="3.4"/><circle cx="478.2" cy="1922" r="3.4"/><circle cx="481.4" cy="1937.5" r="3.4"/><circle cx="454.5" cy="1962.3" r="3.4"/><circle cx="475.3" cy="1921.8" r="3.4"/><circle cx="472.7" cy="1916.8" r="3.4"/><circle cx="485.4" cy="1919.1" r="3.4"/><circle cx="468.6" cy="1968.2" r="3.4"/><circle cx="470.8" cy="1950.3" r="3.4"/><circle cx="444.2" cy="1878.6" r="3.4"/><circle cx="486.1" cy="1941.8" r="3.4"/><circle cx="466.1" cy="1927.2" r="3.4"/><circle cx="460" cy="1937" r="3.4"/><circle cx="471.5" cy="1924.8" r="3.4"/><circle cx="467" cy="1926.4" r="3.4"/><circle cx="481" cy="1912.9" r="3.4"/><circle cx="458.9" cy="1900.7" r="3.4"/><circle cx="454.3" cy="1916.8" r="3.4"/><circle cx="476" cy="1892" r="3.4"/><circle cx="455.2" cy="1920" r="3.4"/><circle cx="437.7" cy="1902.4" r="3.4"/><circle cx="456.3" cy="1963.8" r="3.4"/><circle cx="466.5" cy="1905.8" r="3.4"/><circle cx="479.2" cy="1882.3" r="3.4"/><circle cx="460.7" cy="1932.4" r="3.4"/><circle cx="458.7" cy="1881.1" r="3.4"/><circle cx="435" cy="1884.4" r="3.4"/><circle cx="435.2" cy="1949.7" r="3.4"/><circle cx="460.2" cy="1918.8" r="3.4"/><circle cx="447" cy="1940.1" r="3.4"/><circle cx="458.7" cy="1895.7" r="3.4"/><circle cx="455.2" cy="1932.7" r="3.4"/><circle cx="478.4" cy="1910.2" r="3.4"/><circle cx="473.5" cy="1924.3" r="3.4"/><circle cx="467" cy="1890.7" r="3.4"/><circle cx="481.1" cy="1953.6" r="3.4"/><circle cx="439.6" cy="1878.2" r="3.4"/><circle cx="448" cy="1962" r="3.4"/><circle cx="481.1" cy="1908.6" r="3.4"/><circle cx="443.9" cy="1924.5" r="3.4"/><circle cx="441.9" cy="1884.6" r="3.4"/><circle cx="447.1" cy="1905.4" r="3.4"/><circle cx="452.9" cy="1929.6" r="3.4"/><circle cx="446.1" cy="1919.5" r="3.4"/><circle cx="478.4" cy="1959.6" r="3.4"/><circle cx="441.2" cy="1881.8" r="3.4"/><circle cx="448.6" cy="1884.1" r="3.4"/><circle cx="474.6" cy="1939.7" r="3.4"/><circle cx="446" cy="1903.4" r="3.4"/><circle cx="467.5" cy="1940.9" r="3.4"/><circle cx="442.5" cy="1882.2" r="3.4"/><circle cx="441.3" cy="1883.8" r="3.4"/><circle cx="480.3" cy="1879.8" r="3.4"/>
</g>
<line x1="591.5" y1="1695.4" x2="591.5" y2="1741.9" stroke="#7e2f8e" stroke-width="2.8" stroke-dasharray="11.5 13.5"/>
<line x1="591.5" y1="1922.7" x2="591.5" y2="1818.4" stroke="#7e2f8e" stroke-width="2.8" stroke-dasharray="11.5 13.5"/>
<line x1="574.5" y1="1695.4" x2="608.5" y2="1695.4" stroke="#7e2f8e" stroke-width="2.8"/>
<line x1="574.5" y1="1922.7" x2="608.5" y2="1922.7" stroke="#7e2f8e" stroke-width="2.8"/>
<rect x="558.5" y="1741.9" width="66" height="76.5" fill="none" stroke="#7e2f8e" stroke-width="2.8"/>
<line x1="558.5" y1="1778.6" x2="624.5" y2="1778.6" stroke="#7e2f8e" stroke-width="2.8"/>
<g fill="none" stroke="#000" stroke-width="1">
<circle cx="593.4" cy="1703.9" r="3.4"/><circle cx="591.5" cy="1766.5" r="3.4"/><circle cx="612.3" cy="1808.2" r="3.4"/><circle cx="565.5" cy="1739.5" r="3.4"/><circle cx="611.5" cy="1892.3" r="3.4"/><circle cx="567" cy="1763.9" r="3.4"/><circle cx="587.7" cy="1732.6" r="3.4"/><circle cx="577.6" cy="1793.6" r="3.4"/><circle cx="573" cy="1814.5" r="3.4"/><circle cx="581.3" cy="1753.1" r="3.4"/><circle cx="573.4" cy="1700" r="3.4"/><circle cx="588.4" cy="1696" r="3.4"/><circle cx="591" cy="1766.8" r="3.4"/><circle cx="576.4" cy="1762.4" r="3.4"/><circle cx="582" cy="1816.7" r="3.4"/><circle cx="574.7" cy="1735.5" r="3.4"/><circle cx="564.8" cy="1795.7" r="3.4"/><circle cx="607.3" cy="1803" r="3.4"/><circle cx="602" cy="1704.4" r="3.4"/><circle cx="602.7" cy="1729.9" r="3.4"/><circle cx="588.4" cy="1744.9" r="3.4"/><circle cx="616.5" cy="1841.8" r="3.4"/><circle cx="599.5" cy="1726.7" r="3.4"/><circle cx="577.8" cy="1698.2" r="3.4"/><circle cx="573" cy="1847.5" r="3.4"/><circle cx="596.8" cy="1775.4" r="3.4"/><circle cx="572.5" cy="1771.1" r="3.4"/><circle cx="609.4" cy="1777.5" r="3.4"/><circle cx="594.5" cy="1914.4" r="3.4"/><circle cx="601.1" cy="1778.2" r="3.4"/><circle cx="593.2" cy="1921.7" r="3.4"/><circle cx="591.1" cy="1779.7" r="3.4"/><circle cx="580.6" cy="1760" r="3.4"/><circle cx="575.2" cy="1799.6" r="3.4"/><circle cx="607.7" cy="1906.2" r="3.4"/><circle cx="607" cy="1809.8" r="3.4"/><circle cx="599.9" cy="1795.8" r="3.4"/><circle cx="594.9" cy="1764.8" r="3.4"/><circle cx="609.3" cy="1727.4" r="3.4"/><circle cx="568.6" cy="1718.7" r="3.4"/><circle cx="564.5" cy="1756.2" r="3.4"/><circle cx="604.5" cy="1868.4" r="3.4"/><circle cx="570.7" cy="1746.8" r="3.4"/><circle cx="594.7" cy="1795" r="3.4"/><circle cx="588.8" cy="1788.8" r="3.4"/><circle cx="579.8" cy="1740.6" r="3.4"/><circle cx="606.1" cy="1763.7" r="3.4"/><circle cx="612.1" cy="1758.5" r="3.4"/><circle cx="607.3" cy="1772.9" r="3.4"/><circle cx="602.7" cy="1731.4" r="3.4"/><circle cx="613.7" cy="1790.5" r="3.4"/><circle cx="588.6" cy="1867" r="3.4"/><circle cx="594.8" cy="1816" r="3.4"/><circle cx="566.4" cy="1736.4" r="3.4"/><circle cx="587.7" cy="1836.9" r="3.4"/><circle cx="600" cy="1769.1" r="3.4"/><circle cx="593.8" cy="1756.2" r="3.4"/><circle cx="584" cy="1731" r="3.4"/><circle cx="610.3" cy="1853" r="3.4"/><circle cx="565" cy="1708.4" r="3.4"/><circle cx="606.6" cy="1767.5" r="3.4"/><circle cx="595.8" cy="1813.8" r="3.4"/><circle cx="576.9" cy="1778.9" r="3.4"/><circle cx="594.6" cy="1740.5" r="3.4"/><circle cx="572.3" cy="1712" r="3.4"/><circle cx="598.6" cy="1755.2" r="3.4"/><circle cx="585.1" cy="1704" r="3.4"/><circle cx="590.4" cy="1765.5" r="3.4"/><circle cx="603.3" cy="1721.2" r="3.4"/><circle cx="611.2" cy="1760.6" r="3.4"/><circle cx="600.7" cy="1705.8" r="3.4"/><circle cx="579.6" cy="1793.2" r="3.4"/><circle cx="584.1" cy="1773.7" r="3.4"/><circle cx="618.1" cy="1829.8" r="3.4"/><circle cx="595.8" cy="1771.8" r="3.4"/><circle cx="612" cy="1762.2" r="3.4"/><circle cx="573" cy="1769.8" r="3.4"/><circle cx="608.8" cy="1791.3" r="3.4"/><circle cx="592.7" cy="1701.4" r="3.4"/><circle cx="593.7" cy="1854.8" r="3.4"/><circle cx="616.1" cy="1797.8" r="3.4"/><circle cx="583.7" cy="1809.6" r="3.4"/><circle cx="585" cy="1808.8" r="3.4"/><circle cx="591.2" cy="1817" r="3.4"/><circle cx="586.1" cy="1720.4" r="3.4"/><circle cx="582.1" cy="1798" r="3.4"/><circle cx="613.9" cy="1785.6" r="3.4"/><circle cx="591.4" cy="1751.1" r="3.4"/><circle cx="585.7" cy="1872.4" r="3.4"/><circle cx="574.8" cy="1714.4" r="3.4"/><circle cx="595.1" cy="1788.4" r="3.4"/><circle cx="580.9" cy="1798.1" r="3.4"/><circle cx="611.1" cy="1707.5" r="3.4"/><circle cx="593.4" cy="1735.3" r="3.4"/><circle cx="593.1" cy="1871.9" r="3.4"/><circle cx="574" cy="1856.7" r="3.4"/><circle cx="566.4" cy="1797.6" r="3.4"/><circle cx="570.2" cy="1815.5" r="3.4"/><circle cx="603" cy="1902.3" r="3.4"/><circle cx="594.6" cy="1754.5" r="3.4"/><circle cx="587.1" cy="1722.1" r="3.4"/><circle cx="587.6" cy="1710" r="3.4"/><circle cx="599.3" cy="1708" r="3.4"/><circle cx="570.3" cy="1750.4" r="3.4"/><circle cx="575" cy="1792.5" r="3.4"/><circle cx="591.7" cy="1781.3" r="3.4"/><circle cx="602" cy="1832.4" r="3.4"/><circle cx="572.5" cy="1721.9" r="3.4"/><circle cx="573.6" cy="1818.9" r="3.4"/><circle cx="617.6" cy="1882.3" r="3.4"/>
</g>
<rect x="130.8" y="1674.8" width="526.5" height="313.2" fill="none" stroke="#000" stroke-width="2.2"/>
<text x="120.8" y="2001.3" font-size="33.5" text-anchor="end">0</text>
<line x1="130.8" y1="1943.3" x2="136.3" y2="1943.3" stroke="#000" stroke-width="2"/>
<line x1="657.3" y1="1943.3" x2="651.8" y2="1943.3" stroke="#000" stroke-width="2"/>
<text x="120.8" y="1956.6" font-size="33.5" text-anchor="end">5</text>
<line x1="130.8" y1="1898.5" x2="136.3" y2="1898.5" stroke="#000" stroke-width="2"/>
<line x1="657.3" y1="1898.5" x2="651.8" y2="1898.5" stroke="#000" stroke-width="2"/>
<text x="120.8" y="1911.8" font-size="33.5" text-anchor="end">10</text>
<line x1="130.8" y1="1853.8" x2="136.3" y2="1853.8" stroke="#000" stroke-width="2"/>
<line x1="657.3" y1="1853.8" x2="651.8" y2="1853.8" stroke="#000" stroke-width="2"/>
<text x="120.8" y="1867.1" font-size="33.5" text-anchor="end">15</text>
<line x1="130.8" y1="1809" x2="136.3" y2="1809" stroke="#000" stroke-width="2"/>
<line x1="657.3" y1="1809" x2="651.8" y2="1809" stroke="#000" stroke-width="2"/>
<text x="120.8" y="1822.3" font-size="33.5" text-anchor="end">20</text>
<line x1="130.8" y1="1764.3" x2="136.3" y2="1764.3" stroke="#000" stroke-width="2"/>
<line x1="657.3" y1="1764.3" x2="651.8" y2="1764.3" stroke="#000" stroke-width="2"/>
<text x="120.8" y="1777.6" font-size="33.5" text-anchor="end">25</text>
<line x1="130.8" y1="1719.5" x2="136.3" y2="1719.5" stroke="#000" stroke-width="2"/>
<line x1="657.3" y1="1719.5" x2="651.8" y2="1719.5" stroke="#000" stroke-width="2"/>
<text x="120.8" y="1732.8" font-size="33.5" text-anchor="end">30</text>
<text x="120.8" y="1688.1" font-size="33.5" text-anchor="end">35</text>
<line x1="196.6" y1="1988" x2="196.6" y2="1982.5" stroke="#000" stroke-width="2"/>
<line x1="196.6" y1="1674.8" x2="196.6" y2="1680.3" stroke="#000" stroke-width="2"/>
<line x1="328.2" y1="1988" x2="328.2" y2="1982.5" stroke="#000" stroke-width="2"/>
<line x1="328.2" y1="1674.8" x2="328.2" y2="1680.3" stroke="#000" stroke-width="2"/>
<line x1="459.9" y1="1988" x2="459.9" y2="1982.5" stroke="#000" stroke-width="2"/>
<line x1="459.9" y1="1674.8" x2="459.9" y2="1680.3" stroke="#000" stroke-width="2"/>
<line x1="591.5" y1="1988" x2="591.5" y2="1982.5" stroke="#000" stroke-width="2"/>
<line x1="591.5" y1="1674.8" x2="591.5" y2="1680.3" stroke="#000" stroke-width="2"/>
<text x="64" y="1830.9" font-size="37.4" text-anchor="middle" transform="rotate(-90 64 1830.9)">Rupture Force (pN)</text>
<text x="222.6" y="2029.5" font-size="31" text-anchor="end" transform="rotate(-30 222.6 2029.5)">DUB-wt</text>
<text x="354.2" y="2029.5" font-size="31" text-anchor="end" transform="rotate(-30 354.2 2029.5)">DUB-mut</text>
<text x="485.9" y="2029.5" font-size="31" text-anchor="end" transform="rotate(-30 485.9 2029.5)">DUB-wt</text>
<text x="617.5" y="2029.5" font-size="31" text-anchor="end" transform="rotate(-30 617.5 2029.5)">DUB-mut</text>
<text x="262.5" y="1704.7" font-size="27" text-anchor="middle">outer</text>
<text x="260" y="1735.5" font-size="27" text-anchor="middle">wrap</text>
<text x="508.8" y="1705" font-size="27" text-anchor="middle">inner</text>
<text x="506" y="1735.5" font-size="27" text-anchor="middle">wrap</text>
<text x="0.8" y="1122.5" font-size="34.5">d</text>
<text x="286" y="1173.5" font-size="26.5" text-anchor="middle">DUB-wt</text>
<text x="530" y="1175" font-size="26.5" text-anchor="middle">DUB-mut</text>
<text x="0" y="1213" font-size="26.5">(kDa)</text>
<line x1="109.8" y1="1198" x2="128.5" y2="1198" stroke="#000" stroke-width="2.2"/>
<polygon points="159,1214 395,1214 395,1188.4" fill="#231f20"/>
<polygon points="406.5,1214 643.5,1214 643.5,1188.4" fill="#231f20"/>
<rect x="79.4" y="1217.8" width="585.4" height="87.2" fill="#f3f3f3"/>
<rect x="79.4" y="1312.1" width="585.4" height="153.4" fill="#f2f2f2"/>
<rect x="79.4" y="1472.6" width="585.4" height="70.6" fill="#f1f1f1"/>
<text x="44.5" y="1252.1" font-size="26.5" text-anchor="end">70</text>
<line x1="60.7" y1="1242.6" x2="77" y2="1242.6" stroke="#000" stroke-width="3"/>
<text x="44.5" y="1346.5" font-size="26.5" text-anchor="end">25</text>
<line x1="60.7" y1="1337" x2="77" y2="1337" stroke="#000" stroke-width="3"/>
<text x="44.5" y="1425" font-size="26.5" text-anchor="end">15</text>
<line x1="60.7" y1="1415.5" x2="77" y2="1415.5" stroke="#000" stroke-width="3"/>
<text x="44.5" y="1504.5" font-size="26.5" text-anchor="end">15</text>
<line x1="60.7" y1="1495" x2="77" y2="1495" stroke="#000" stroke-width="3"/>
<rect x="307.7" y="1221" width="27.1" height="32" fill="#000" opacity="0.1" filter="url(#b3)"/>
<rect x="307.7" y="1270" width="27.1" height="33" fill="#000" opacity="0.1" filter="url(#b3)"/>
<rect x="356.8" y="1221" width="31.7" height="32" fill="#000" opacity="0.1" filter="url(#b3)"/>
<rect x="356.8" y="1270" width="31.7" height="33" fill="#000" opacity="0.1" filter="url(#b3)"/>
<rect x="557.7" y="1221" width="31.8" height="32" fill="#000" opacity="0.1" filter="url(#b3)"/>
<rect x="557.7" y="1270" width="31.8" height="33" fill="#000" opacity="0.1" filter="url(#b3)"/>
<rect x="611.5" y="1221" width="34" height="32" fill="#000" opacity="0.1" filter="url(#b3)"/>
<rect x="611.5" y="1270" width="34" height="33" fill="#000" opacity="0.1" filter="url(#b3)"/>
<g filter="url(#b1)">
<rect x="411" y="1259" width="26" height="5" rx="7.8" ry="2.5" fill="#1c1a1b" opacity="0.1"/>
<rect x="205.6" y="1256" width="30.4" height="10" rx="9.1" ry="5" fill="#1c1a1b"/>
<rect x="254.7" y="1256.5" width="30.3" height="9" rx="9.1" ry="4.5" fill="#1c1a1b"/>
<rect x="303.7" y="1253" width="35.1" height="16" rx="10.5" ry="8" fill="#1c1a1b"/>
<rect x="355" y="1252.5" width="37.5" height="17" rx="11.2" ry="8.5" fill="#1c1a1b"/>
<rect x="458" y="1256" width="30" height="10" rx="9" ry="5" fill="#1c1a1b"/>
<rect x="507" y="1256.5" width="33" height="9" rx="9.9" ry="4.5" fill="#1c1a1b"/>
<rect x="553.7" y="1252.5" width="39.8" height="17" rx="11.9" ry="8.5" fill="#1c1a1b"/>
<rect x="607.5" y="1252.5" width="42" height="17" rx="12.6" ry="8.5" fill="#1c1a1b"/>
<rect x="95.8" y="1337" width="49.2" height="19" rx="14.8" ry="9.5" fill="#1c1a1b"/>
<rect x="152" y="1338.5" width="46.6" height="16" rx="14" ry="8" fill="#1c1a1b"/>
<rect x="205.6" y="1340" width="35.1" height="13" rx="10.5" ry="6.5" fill="#1c1a1b"/>
<rect x="259" y="1344" width="14" height="5.5" rx="4.2" ry="2.8" fill="#1c1a1b" opacity="0.8"/>
<rect x="276" y="1343.5" width="14" height="5.5" rx="4.2" ry="2.8" fill="#1c1a1b" opacity="0.8"/>
<rect x="265" y="1345" width="20" height="3" rx="6" ry="1.5" fill="#1c1a1b" opacity="0.5"/>
<rect x="402" y="1338.5" width="42" height="16" rx="12.6" ry="8" fill="#1c1a1b"/>
<rect x="451" y="1338" width="44" height="16" rx="13.2" ry="8" fill="#1c1a1b"/>
<rect x="502" y="1336.5" width="42" height="19" rx="12.6" ry="9.5" fill="#1c1a1b"/>
<rect x="549" y="1336.5" width="42" height="19" rx="12.6" ry="9.5" fill="#1c1a1b"/>
<rect x="600.5" y="1338.5" width="44.5" height="14" rx="13.3" ry="7" fill="#1c1a1b"/>
<rect x="208" y="1425.5" width="25.6" height="8" rx="7.7" ry="4" fill="#1c1a1b"/>
<rect x="254.7" y="1425" width="32.7" height="9" rx="9.8" ry="4.5" fill="#1c1a1b"/>
<rect x="303.7" y="1422" width="37.3" height="15" rx="11.2" ry="7.5" fill="#1c1a1b"/>
<rect x="352.8" y="1420.5" width="42.2" height="18" rx="12.7" ry="9" fill="#1c1a1b"/>
<circle cx="599.5" cy="1398.5" r="3" fill="#1c1a1b"/>
<rect x="95.8" y="1496.5" width="44.4" height="17.5" rx="13.3" ry="8.8" fill="#1c1a1b"/>
<rect x="149.5" y="1496.5" width="39.8" height="17.5" rx="11.9" ry="8.8" fill="#1c1a1b"/>
<rect x="198.6" y="1496.5" width="42.1" height="17.5" rx="12.6" ry="8.8" fill="#1c1a1b"/>
<rect x="247.7" y="1496.5" width="39.7" height="17.5" rx="11.9" ry="8.8" fill="#1c1a1b"/>
<rect x="294.4" y="1496.5" width="44.4" height="17.5" rx="13.3" ry="8.8" fill="#1c1a1b"/>
<rect x="343.5" y="1496.5" width="42" height="17.5" rx="12.6" ry="8.8" fill="#1c1a1b"/>
<rect x="391.6" y="1496.5" width="43" height="17.5" rx="12.9" ry="8.8" fill="#1c1a1b"/>
<rect x="439.3" y="1496.5" width="44.3" height="17.5" rx="13.3" ry="8.8" fill="#1c1a1b"/>
<rect x="488.3" y="1496.5" width="49.1" height="17.5" rx="14.7" ry="8.8" fill="#1c1a1b"/>
<rect x="539.7" y="1496.5" width="44.4" height="17.5" rx="13.3" ry="8.8" fill="#1c1a1b"/>
<rect x="598.1" y="1496.5" width="51.4" height="17.5" rx="15.4" ry="8.8" fill="#1c1a1b"/>
</g>
<text x="670.5" y="1274.3" font-size="26.5">DUB</text>
<text x="670.5" y="1359.7" font-size="26.5">ubH2B</text>
<text x="670.5" y="1452.2" font-size="26.5">H2B</text>
<text x="670.5" y="1529.5" font-size="26.5">H3</text>
<line x1="980.3" y1="281.3" x2="980.3" y2="83.8" stroke="#cdcdcd" stroke-width="1.1"/>
<line x1="1082.1" y1="275.3" x2="1082.1" y2="77.7" stroke="#cdcdcd" stroke-width="1.1"/>
<line x1="1183.9" y1="269.2" x2="1183.9" y2="71.7" stroke="#cdcdcd" stroke-width="1.1"/>
<line x1="1285.7" y1="263.2" x2="1285.7" y2="65.6" stroke="#cdcdcd" stroke-width="1.1"/>
<line x1="878.5" y1="287.4" x2="1285.7" y2="263.2" stroke="#cdcdcd" stroke-width="1.1"/>
<line x1="878.5" y1="267.8" x2="1285.7" y2="243.6" stroke="#cdcdcd" stroke-width="1.1"/>
<line x1="878.5" y1="178.8" x2="1285.7" y2="154.6" stroke="#cdcdcd" stroke-width="1.1"/>
<line x1="878.5" y1="89.8" x2="1285.7" y2="65.6" stroke="#cdcdcd" stroke-width="1.1"/>
<line x1="980.3" y1="281.3" x2="1138" y2="343.4" stroke="#cdcdcd" stroke-width="1.1"/>
<line x1="1082.1" y1="275.3" x2="1239.8" y2="337.4" stroke="#cdcdcd" stroke-width="1.1"/>
<line x1="1183.9" y1="269.2" x2="1341.6" y2="331.4" stroke="#cdcdcd" stroke-width="1.1"/>
<line x1="957.4" y1="318.4" x2="1364.5" y2="294.2" stroke="#cdcdcd" stroke-width="1.1"/>
<line x1="1364.5" y1="294.2" x2="1364.5" y2="96.7" stroke="#cdcdcd" stroke-width="1.1"/>
<line x1="1443.4" y1="325.3" x2="1443.4" y2="127.7" stroke="#cdcdcd" stroke-width="1.1"/>
<line x1="1285.7" y1="263.2" x2="1443.4" y2="325.3" stroke="#cdcdcd" stroke-width="1.1"/>
<line x1="1285.7" y1="243.6" x2="1443.4" y2="305.7" stroke="#cdcdcd" stroke-width="1.1"/>
<line x1="1285.7" y1="154.6" x2="1443.4" y2="216.7" stroke="#cdcdcd" stroke-width="1.1"/>
<line x1="1285.7" y1="65.6" x2="1443.4" y2="127.7" stroke="#cdcdcd" stroke-width="1.1"/>
<line x1="878.5" y1="287.4" x2="878.5" y2="89.8" stroke="#000" stroke-width="2.2"/>
<line x1="878.5" y1="267.8" x2="867.3" y2="263.4" stroke="#000" stroke-width="2.2"/>
<line x1="878.5" y1="178.8" x2="867.3" y2="174.4" stroke="#000" stroke-width="2.2"/>
<line x1="878.5" y1="89.8" x2="867.3" y2="85.4" stroke="#000" stroke-width="2.2"/>
<line x1="878.5" y1="287.4" x2="1045.7" y2="353.2" stroke="#000" stroke-width="2.2"/>
<line x1="878.5" y1="287.4" x2="867.5" y2="288.1" stroke="#000" stroke-width="2.2"/>
<line x1="957.4" y1="318.4" x2="946.4" y2="319.1" stroke="#000" stroke-width="2.2"/>
<line x1="1036.2" y1="349.5" x2="1025.2" y2="350.2" stroke="#000" stroke-width="2.2"/>
<line x1="1036.2" y1="349.5" x2="1443.4" y2="325.3" stroke="#000" stroke-width="2.2"/>
<line x1="1036.2" y1="349.5" x2="1047.4" y2="353.9" stroke="#000" stroke-width="2.2"/>
<line x1="1138" y1="343.4" x2="1149.2" y2="347.8" stroke="#000" stroke-width="2.2"/>
<line x1="1239.8" y1="337.4" x2="1251" y2="341.8" stroke="#000" stroke-width="2.2"/>
<line x1="1341.6" y1="331.4" x2="1352.8" y2="335.7" stroke="#000" stroke-width="2.2"/>
<line x1="1443.4" y1="325.3" x2="1454.6" y2="329.7" stroke="#000" stroke-width="2.2"/>
<polyline points="887.3,278.1 888,274.9 891.6,276.3 894.5,272.6 894.9,271.9 893.6,277.7 894.6,278.1 896.6,274.9 898,273.4 901.4,276.9 902.8,278.2 900.8,268.8 905.5,275.7 903.4,271.6 906.2,272.6 909.2,273.1 908.8,271.2 910.1,272.4 908.8,270.7 911,270.5 915.1,262.9 911.9,270 913.2,270.5 914.9,271.5 918.6,267.2 918.5,273.5 919.9,266.6 921.5,265.8 921.2,227.1 921,227.9 922.3,221.3 922.8,219.3 923.3,216.4 923.7,211.2 924,207.2 923.6,203.9 926.5,200.4 925.5,198.4 926,192.9 926.6,191.7 924.6,149 926.5,150 929.1,150.9 930.3,151.2 932.5,149.8 934.5,145.7 937.4,148.6 937,144.8 939.5,146.4 941.2,141 945.4,143.8 944.9,141.2 947.6,140.4 949.5,142.6 951.1,144.4 956.1,139.2 957.1,139.8 959.1,137 959.6,136.5 959.1,138.1 962.4,135.7 966.3,134.1 969.1,136 969,132.3 969.4,131.8 974.2,130.3 974.2,131.5 977.6,134.9 977.1,127.1 981,129.3 984.2,129.3 985.9,128.6 984.7,128.2 988,130.2 988.7,128.1 989.9,127.3 996.3,128.1 995.1,127.1 998.4,123.9 998.9,124 1001.7,124.1 1002.1,122.3 1006.2,123.9 1008.9,121.1 1009.3,119.6 1012.5,122.3 1012.9,118.9 1014.9,120.8 1019.2,122.6 1021.6,119.6 1021.3,122.6 1025.6,122 1026.9,118.9 1027.5,116.5 1027.6,118.6 1029.6,117.6 1033.1,121.1 1036.5,117.9 1039.3,119.2 1038.4,115.6 1042.2,115.8 1045.8,114.7 1044.3,112.1 1046.1,113.6 1049.7,114.6 1051.1,112.2 1053.1,115.8 1056.1,114.4 1056.7,111.8 1060,109.6 1062.2,113.2 1064,111.4 1066.4,108.6 1066.2,112.4 1069.5,110.4 1073.7,111.7 1074.1,107 1074.9,111.7 1075.3,107.6 1078.6,109.4 1082.4,112.4 1084,113 1086.8,109.1 1088.4,105.5 1089.8,106.8 1090.5,102.2 1094,104.6 1095.2,102 1096.2,107.3 1101.7,108.4 1102.6,104.7 1102.4,106.9 1106.3,104.4 1108.4,106.2 1108.2,102.3 1111.5,104.8 1114,102.5 1115.9,103 1118.5,103.7 1119.9,102 1123.1,101.4 1125.1,104.7 1126.3,104.6 1126.3,100.7 1129.1,100.5 1130.6,98 1134.4,102.2 1134.5,103.8 1137,98.3 1140.1,102.3 1141.8,98.8 1143.9,100.2 1146.3,98.6 1146.9,96.7 1148.6,96.6 1151.6,97.7 1153.1,94.4 1156.9,96.4 1156.3,97.8 1161.1,97.2 1160.1,93.7 1165.3,97.6 1164.6,94.8 1168.1,96.3 1168.4,95.4 1173.8,94.4 1174.1,92.1 1177.9,93.5 1177.4,95.4 1180.9,92.1 1182.1,92.4 1183.8,91.3 1185.5,95.2 1187.9,93.1 1191.8,93.1 1192.8,91.3 1192.7,92 1197.6,92.2 1199.1,90.9 1200.9,89.9 1203.4,90.4 1206.1,88.5 1206.3,90.1 1205.6,87.6 1208.1,90.8 1212.4,91 1214.4,88.2 1216,90.5 1219,88 1219.9,86.2" fill="none" stroke="#4a4a4a" stroke-width="1.1"/>
<g fill="#0072bd" stroke="#1a1a1a" stroke-width="1.15" stroke-opacity="0.9">
<circle cx="889.2" cy="276.2" r="8.3"/><circle cx="891" cy="277.8" r="8.3"/><circle cx="891.1" cy="278.9" r="8.3"/><circle cx="892.2" cy="278.7" r="8.3"/><circle cx="889.3" cy="279.3" r="8.3"/><circle cx="890.4" cy="286.7" r="8.3"/><circle cx="892.2" cy="275" r="8.3"/><circle cx="888.8" cy="279" r="8.3"/><circle cx="891.2" cy="280.6" r="8.3"/><circle cx="891.7" cy="276.3" r="8.3"/><circle cx="887.3" cy="278.1" r="8.3"/><circle cx="888" cy="274.9" r="8.3"/><circle cx="891.6" cy="276.3" r="8.3"/><circle cx="894.5" cy="272.6" r="8.3"/><circle cx="894.9" cy="271.9" r="8.3"/><circle cx="893.6" cy="277.7" r="8.3"/><circle cx="894.6" cy="278.1" r="8.3"/><circle cx="896.6" cy="274.9" r="8.3"/><circle cx="898" cy="273.4" r="8.3"/><circle cx="901.4" cy="276.9" r="8.3"/><circle cx="902.8" cy="278.2" r="8.3"/><circle cx="900.8" cy="268.8" r="8.3"/><circle cx="905.5" cy="275.7" r="8.3"/><circle cx="903.4" cy="271.6" r="8.3"/><circle cx="906.2" cy="272.6" r="8.3"/><circle cx="909.2" cy="273.1" r="8.3"/><circle cx="908.8" cy="271.2" r="8.3"/><circle cx="910.1" cy="272.4" r="8.3"/><circle cx="908.8" cy="270.7" r="8.3"/><circle cx="911" cy="270.5" r="8.3"/><circle cx="915.1" cy="262.9" r="8.3"/><circle cx="911.9" cy="270" r="8.3"/><circle cx="913.2" cy="270.5" r="8.3"/><circle cx="914.9" cy="271.5" r="8.3"/><circle cx="918.6" cy="267.2" r="8.3"/><circle cx="918.5" cy="273.5" r="8.3"/><circle cx="919.9" cy="266.6" r="8.3"/><circle cx="921.5" cy="265.8" r="8.3"/><circle cx="921.2" cy="227.1" r="8.3"/><circle cx="921" cy="227.9" r="8.3"/><circle cx="922.3" cy="221.3" r="8.3"/><circle cx="922.8" cy="219.3" r="8.3"/><circle cx="923.3" cy="216.4" r="8.3"/><circle cx="923.7" cy="211.2" r="8.3"/><circle cx="924" cy="207.2" r="8.3"/><circle cx="923.6" cy="203.9" r="8.3"/><circle cx="926.5" cy="200.4" r="8.3"/><circle cx="925.5" cy="198.4" r="8.3"/><circle cx="926" cy="192.9" r="8.3"/><circle cx="926.6" cy="191.7" r="8.3"/><circle cx="924.6" cy="149" r="8.3"/><circle cx="926.5" cy="150" r="8.3"/><circle cx="929.1" cy="150.9" r="8.3"/><circle cx="930.3" cy="151.2" r="8.3"/><circle cx="932.5" cy="149.8" r="8.3"/><circle cx="934.5" cy="145.7" r="8.3"/><circle cx="937.4" cy="148.6" r="8.3"/><circle cx="937" cy="144.8" r="8.3"/><circle cx="939.5" cy="146.4" r="8.3"/><circle cx="941.2" cy="141" r="8.3"/><circle cx="945.4" cy="143.8" r="8.3"/><circle cx="944.9" cy="141.2" r="8.3"/><circle cx="947.6" cy="140.4" r="8.3"/><circle cx="949.5" cy="142.6" r="8.3"/><circle cx="951.1" cy="144.4" r="8.3"/><circle cx="956.1" cy="139.2" r="8.3"/><circle cx="957.1" cy="139.8" r="8.3"/><circle cx="959.1" cy="137" r="8.3"/><circle cx="959.6" cy="136.5" r="8.3"/><circle cx="959.1" cy="138.1" r="8.3"/><circle cx="962.4" cy="135.7" r="8.3"/><circle cx="966.3" cy="134.1" r="8.3"/><circle cx="969.1" cy="136" r="8.3"/><circle cx="969" cy="132.3" r="8.3"/><circle cx="969.4" cy="131.8" r="8.3"/><circle cx="974.2" cy="130.3" r="8.3"/><circle cx="974.2" cy="131.5" r="8.3"/><circle cx="977.6" cy="134.9" r="8.3"/><circle cx="977.1" cy="127.1" r="8.3"/><circle cx="981" cy="129.3" r="8.3"/><circle cx="984.2" cy="129.3" r="8.3"/><circle cx="985.9" cy="128.6" r="8.3"/><circle cx="984.7" cy="128.2" r="8.3"/><circle cx="988" cy="130.2" r="8.3"/><circle cx="988.7" cy="128.1" r="8.3"/><circle cx="989.9" cy="127.3" r="8.3"/><circle cx="996.3" cy="128.1" r="8.3"/><circle cx="995.1" cy="127.1" r="8.3"/><circle cx="998.4" cy="123.9" r="8.3"/><circle cx="998.9" cy="124" r="8.3"/><circle cx="1001.7" cy="124.1" r="8.3"/><circle cx="1002.1" cy="122.3" r="8.3"/><circle cx="1006.2" cy="123.9" r="8.3"/><circle cx="1008.9" cy="121.1" r="8.3"/><circle cx="1009.3" cy="119.6" r="8.3"/><circle cx="1012.5" cy="122.3" r="8.3"/><circle cx="1012.9" cy="118.9" r="8.3"/><circle cx="1014.9" cy="120.8" r="8.3"/><circle cx="1019.2" cy="122.6" r="8.3"/><circle cx="1021.6" cy="119.6" r="8.3"/><circle cx="1021.3" cy="122.6" r="8.3"/><circle cx="1025.6" cy="122" r="8.3"/><circle cx="1026.9" cy="118.9" r="8.3"/><circle cx="1027.5" cy="116.5" r="8.3"/><circle cx="1027.6" cy="118.6" r="8.3"/><circle cx="1029.6" cy="117.6" r="8.3"/><circle cx="1033.1" cy="121.1" r="8.3"/><circle cx="1036.5" cy="117.9" r="8.3"/><circle cx="1039.3" cy="119.2" r="8.3"/><circle cx="1038.4" cy="115.6" r="8.3"/><circle cx="1042.2" cy="115.8" r="8.3"/><circle cx="1045.8" cy="114.7" r="8.3"/><circle cx="1044.3" cy="112.1" r="8.3"/><circle cx="1046.1" cy="113.6" r="8.3"/><circle cx="1049.7" cy="114.6" r="8.3"/><circle cx="1051.1" cy="112.2" r="8.3"/><circle cx="1053.1" cy="115.8" r="8.3"/><circle cx="1056.1" cy="114.4" r="8.3"/><circle cx="1056.7" cy="111.8" r="8.3"/><circle cx="1060" cy="109.6" r="8.3"/><circle cx="1062.2" cy="113.2" r="8.3"/><circle cx="1064" cy="111.4" r="8.3"/><circle cx="1066.4" cy="108.6" r="8.3"/><circle cx="1066.2" cy="112.4" r="8.3"/><circle cx="1069.5" cy="110.4" r="8.3"/><circle cx="1073.7" cy="111.7" r="8.3"/><circle cx="1074.1" cy="107" r="8.3"/><circle cx="1074.9" cy="111.7" r="8.3"/><circle cx="1075.3" cy="107.6" r="8.3"/><circle cx="1078.6" cy="109.4" r="8.3"/><circle cx="1082.4" cy="112.4" r="8.3"/><circle cx="1084" cy="113" r="8.3"/><circle cx="1086.8" cy="109.1" r="8.3"/><circle cx="1088.4" cy="105.5" r="8.3"/><circle cx="1089.8" cy="106.8" r="8.3"/><circle cx="1090.5" cy="102.2" r="8.3"/><circle cx="1094" cy="104.6" r="8.3"/><circle cx="1095.2" cy="102" r="8.3"/><circle cx="1096.2" cy="107.3" r="8.3"/><circle cx="1101.7" cy="108.4" r="8.3"/><circle cx="1102.6" cy="104.7" r="8.3"/><circle cx="1102.4" cy="106.9" r="8.3"/><circle cx="1106.3" cy="104.4" r="8.3"/><circle cx="1108.4" cy="106.2" r="8.3"/><circle cx="1108.2" cy="102.3" r="8.3"/><circle cx="1111.5" cy="104.8" r="8.3"/><circle cx="1114" cy="102.5" r="8.3"/><circle cx="1115.9" cy="103" r="8.3"/><circle cx="1118.5" cy="103.7" r="8.3"/><circle cx="1119.9" cy="102" r="8.3"/><circle cx="1123.1" cy="101.4" r="8.3"/><circle cx="1125.1" cy="104.7" r="8.3"/><circle cx="1126.3" cy="104.6" r="8.3"/><circle cx="1126.3" cy="100.7" r="8.3"/><circle cx="1129.1" cy="100.5" r="8.3"/><circle cx="1130.6" cy="98" r="8.3"/><circle cx="1134.4" cy="102.2" r="8.3"/><circle cx="1134.5" cy="103.8" r="8.3"/><circle cx="1137" cy="98.3" r="8.3"/><circle cx="1140.1" cy="102.3" r="8.3"/><circle cx="1141.8" cy="98.8" r="8.3"/><circle cx="1143.9" cy="100.2" r="8.3"/><circle cx="1146.3" cy="98.6" r="8.3"/><circle cx="1146.9" cy="96.7" r="8.3"/><circle cx="1148.6" cy="96.6" r="8.3"/><circle cx="1151.6" cy="97.7" r="8.3"/><circle cx="1153.1" cy="94.4" r="8.3"/><circle cx="1156.9" cy="96.4" r="8.3"/><circle cx="1156.3" cy="97.8" r="8.3"/><circle cx="1161.1" cy="97.2" r="8.3"/><circle cx="1160.1" cy="93.7" r="8.3"/><circle cx="1165.3" cy="97.6" r="8.3"/><circle cx="1164.6" cy="94.8" r="8.3"/><circle cx="1168.1" cy="96.3" r="8.3"/><circle cx="1168.4" cy="95.4" r="8.3"/><circle cx="1173.8" cy="94.4" r="8.3"/><circle cx="1174.1" cy="92.1" r="8.3"/><circle cx="1177.9" cy="93.5" r="8.3"/><circle cx="1177.4" cy="95.4" r="8.3"/><circle cx="1180.9" cy="92.1" r="8.3"/><circle cx="1182.1" cy="92.4" r="8.3"/><circle cx="1183.8" cy="91.3" r="8.3"/><circle cx="1185.5" cy="95.2" r="8.3"/><circle cx="1187.9" cy="93.1" r="8.3"/><circle cx="1191.8" cy="93.1" r="8.3"/><circle cx="1192.8" cy="91.3" r="8.3"/><circle cx="1192.7" cy="92" r="8.3"/><circle cx="1197.6" cy="92.2" r="8.3"/><circle cx="1199.1" cy="90.9" r="8.3"/><circle cx="1200.9" cy="89.9" r="8.3"/><circle cx="1203.4" cy="90.4" r="8.3"/><circle cx="1206.1" cy="88.5" r="8.3"/><circle cx="1206.3" cy="90.1" r="8.3"/><circle cx="1205.6" cy="87.6" r="8.3"/><circle cx="1208.1" cy="90.8" r="8.3"/><circle cx="1212.4" cy="91" r="8.3"/><circle cx="1214.4" cy="88.2" r="8.3"/><circle cx="1216" cy="90.5" r="8.3"/><circle cx="1219" cy="88" r="8.3"/><circle cx="1219.9" cy="86.2" r="8.3"/>
</g>
<polyline points="966.3,310.2 970.7,312.8 968.4,309.6 971,310.1 970.5,309.3 974,306.9 974.7,307.8 977.1,308.8 975.6,304.5 976.7,300.9 977.7,305.9 981.3,305.4 981.3,306.2 985.4,302.8 983,301.5 984.5,304.5 988.2,303 988.8,302.1 988.4,299.6 991,295.8 991.5,297.1 993.1,298.6 992.5,296.9 995,293.7 995,295.9 998.7,294.9 997.3,294.9 1001.6,298 1000.1,262.5 1000.3,257.4 1000.8,256.1 1001,250.1 1002.7,247.8 1003.4,244.1 1002.7,239 1004.5,238.9 1005.8,229.7 1005.1,225.9 1005.3,224.6 1008,220.4 1008.5,217.7 1009,213.3 1009.3,208.2 1009.4,168.1 1009.4,172.9 1012.3,168.7 1014.8,170.4 1016.5,169.4 1018.3,169.6 1021.3,167 1021.6,170.4 1022.9,168.1 1024.8,170.5 1030.9,165.7 1032.3,164.7 1034.6,165.6 1035,165.8 1038.7,163.1 1039.6,165.2 1039.8,165 1042.7,166.9 1043.5,164.3 1046.8,163 1046.6,161.1 1048.2,164 1054.1,164.3 1056.1,160.3 1055.5,161.7 1058.1,158 1059.4,163 1063.6,159.1 1062.4,160.6 1065.3,157.9 1065.9,158.4 1070,161.5 1070.6,157.3 1071.3,156 1075.1,158 1076.3,157 1078.5,159.9 1080.6,154.3 1085.4,153.6 1083.7,155.7 1088.8,151.8 1088.7,155 1093.2,154.8 1094,151.8 1096.3,150 1097.4,154.1 1101.6,154.2 1101.1,151.6 1103.7,154.2 1104.8,151.2 1108.5,154 1111.5,151.1 1111.6,150.9 1112.4,149.8 1115.3,146.6 1117.1,154.1 1118.3,146.9 1120.6,146.7 1122,151.6 1127.6,147.9 1125.4,150.3 1130.6,149.4 1129,148.5 1134,148.8 1133.6,144.6 1138.4,148 1138.1,146.8 1139.3,146.2 1143.9,150.3 1146.3,143.8 1144.6,142.2 1148,145.4 1149.6,146.9 1153.6,142.5 1156.4,143.5 1154.9,143.1 1160,142.8 1158.7,147.7 1162.3,138.5 1166,137.7 1164.3,140.5 1169.1,140.2 1170.4,136.8 1172.3,139.4 1176.1,137.1 1175.5,141.3 1176.7,136.6 1177.9,138.9 1181.1,136 1184.7,137.7 1186.3,129.6 1186.7,132.8 1189.7,134.1 1191.5,132.9 1193.9,134.7 1198.1,135.2 1199.1,129.8 1197.8,129 1201.9,131.6 1205,129.1 1206.9,131.2 1208.3,127.5 1208.4,130.8 1212.9,132.5 1214.9,130.1 1213.9,124.5 1218.5,126.6 1218.9,126.5 1220.4,129 1224.7,125.3 1224,125.4 1225.7,126.8 1226.7,125.8 1232.5,121.3 1234.6,123.1 1235.1,122.9 1236.8,121.9 1240.1,122.2 1241.4,123.1 1240.1,121.5 1243.8,121.1 1245.6,118.6 1249.2,119.9 1248.7,122.5 1251.4,118.9 1256.5,118.8 1255.8,118.3 1260,116.5 1261.7,118.9 1261.1,119.1 1264.9,117.8 1266.2,116.9 1269.2,116 1269,117.5 1270.7,113.9 1274.9,115.4 1275.3,115 1279.6,114.7 1277.4,110 1280.7,113.2 1284.3,115.1 1284.6,112.4 1285.7,109.5 1288.6,107.3 1290.1,111.8 1292.6,109.6 1295.5,109.9 1295.4,108.4 1298.2,109.5 1299.9,105.7" fill="none" stroke="#4a4a4a" stroke-width="1.1"/>
<g fill="#edb120" stroke="#1a1a1a" stroke-width="1.15" stroke-opacity="0.9">
<circle cx="970" cy="312.5" r="8.3"/><circle cx="968" cy="312.7" r="8.3"/><circle cx="970.9" cy="314.2" r="8.3"/><circle cx="968" cy="314.7" r="8.3"/><circle cx="968" cy="313.7" r="8.3"/><circle cx="967.8" cy="314.7" r="8.3"/><circle cx="967.1" cy="313.7" r="8.3"/><circle cx="969.5" cy="313.5" r="8.3"/><circle cx="967.3" cy="315.2" r="8.3"/><circle cx="969" cy="312.9" r="8.3"/><circle cx="966.3" cy="310.2" r="8.3"/><circle cx="970.7" cy="312.8" r="8.3"/><circle cx="968.4" cy="309.6" r="8.3"/><circle cx="971" cy="310.1" r="8.3"/><circle cx="970.5" cy="309.3" r="8.3"/><circle cx="974" cy="306.9" r="8.3"/><circle cx="974.7" cy="307.8" r="8.3"/><circle cx="977.1" cy="308.8" r="8.3"/><circle cx="975.6" cy="304.5" r="8.3"/><circle cx="976.7" cy="300.9" r="8.3"/><circle cx="977.7" cy="305.9" r="8.3"/><circle cx="981.3" cy="305.4" r="8.3"/><circle cx="981.3" cy="306.2" r="8.3"/><circle cx="985.4" cy="302.8" r="8.3"/><circle cx="983" cy="301.5" r="8.3"/><circle cx="984.5" cy="304.5" r="8.3"/><circle cx="988.2" cy="303" r="8.3"/><circle cx="988.8" cy="302.1" r="8.3"/><circle cx="988.4" cy="299.6" r="8.3"/><circle cx="991" cy="295.8" r="8.3"/><circle cx="991.5" cy="297.1" r="8.3"/><circle cx="993.1" cy="298.6" r="8.3"/><circle cx="992.5" cy="296.9" r="8.3"/><circle cx="995" cy="293.7" r="8.3"/><circle cx="995" cy="295.9" r="8.3"/><circle cx="998.7" cy="294.9" r="8.3"/><circle cx="997.3" cy="294.9" r="8.3"/><circle cx="1001.6" cy="298" r="8.3"/><circle cx="1000.1" cy="262.5" r="8.3"/><circle cx="1000.3" cy="257.4" r="8.3"/><circle cx="1000.8" cy="256.1" r="8.3"/><circle cx="1001" cy="250.1" r="8.3"/><circle cx="1002.7" cy="247.8" r="8.3"/><circle cx="1003.4" cy="244.1" r="8.3"/><circle cx="1002.7" cy="239" r="8.3"/><circle cx="1004.5" cy="238.9" r="8.3"/><circle cx="1005.8" cy="229.7" r="8.3"/><circle cx="1005.1" cy="225.9" r="8.3"/><circle cx="1005.3" cy="224.6" r="8.3"/><circle cx="1008" cy="220.4" r="8.3"/><circle cx="1008.5" cy="217.7" r="8.3"/><circle cx="1009" cy="213.3" r="8.3"/><circle cx="1009.3" cy="208.2" r="8.3"/><circle cx="1009.4" cy="168.1" r="8.3"/><circle cx="1009.4" cy="172.9" r="8.3"/><circle cx="1012.3" cy="168.7" r="8.3"/><circle cx="1014.8" cy="170.4" r="8.3"/><circle cx="1016.5" cy="169.4" r="8.3"/><circle cx="1018.3" cy="169.6" r="8.3"/><circle cx="1021.3" cy="167" r="8.3"/><circle cx="1021.6" cy="170.4" r="8.3"/><circle cx="1022.9" cy="168.1" r="8.3"/><circle cx="1024.8" cy="170.5" r="8.3"/><circle cx="1030.9" cy="165.7" r="8.3"/><circle cx="1032.3" cy="164.7" r="8.3"/><circle cx="1034.6" cy="165.6" r="8.3"/><circle cx="1035" cy="165.8" r="8.3"/><circle cx="1038.7" cy="163.1" r="8.3"/><circle cx="1039.6" cy="165.2" r="8.3"/><circle cx="1039.8" cy="165" r="8.3"/><circle cx="1042.7" cy="166.9" r="8.3"/><circle cx="1043.5" cy="164.3" r="8.3"/><circle cx="1046.8" cy="163" r="8.3"/><circle cx="1046.6" cy="161.1" r="8.3"/><circle cx="1048.2" cy="164" r="8.3"/><circle cx="1054.1" cy="164.3" r="8.3"/><circle cx="1056.1" cy="160.3" r="8.3"/><circle cx="1055.5" cy="161.7" r="8.3"/><circle cx="1058.1" cy="158" r="8.3"/><circle cx="1059.4" cy="163" r="8.3"/><circle cx="1063.6" cy="159.1" r="8.3"/><circle cx="1062.4" cy="160.6" r="8.3"/><circle cx="1065.3" cy="157.9" r="8.3"/><circle cx="1065.9" cy="158.4" r="8.3"/><circle cx="1070" cy="161.5" r="8.3"/><circle cx="1070.6" cy="157.3" r="8.3"/><circle cx="1071.3" cy="156" r="8.3"/><circle cx="1075.1" cy="158" r="8.3"/><circle cx="1076.3" cy="157" r="8.3"/><circle cx="1078.5" cy="159.9" r="8.3"/><circle cx="1080.6" cy="154.3" r="8.3"/><circle cx="1085.4" cy="153.6" r="8.3"/><circle cx="1083.7" cy="155.7" r="8.3"/><circle cx="1088.8" cy="151.8" r="8.3"/><circle cx="1088.7" cy="155" r="8.3"/><circle cx="1093.2" cy="154.8" r="8.3"/><circle cx="1094" cy="151.8" r="8.3"/><circle cx="1096.3" cy="150" r="8.3"/><circle cx="1097.4" cy="154.1" r="8.3"/><circle cx="1101.6" cy="154.2" r="8.3"/><circle cx="1101.1" cy="151.6" r="8.3"/><circle cx="1103.7" cy="154.2" r="8.3"/><circle cx="1104.8" cy="151.2" r="8.3"/><circle cx="1108.5" cy="154" r="8.3"/><circle cx="1111.5" cy="151.1" r="8.3"/><circle cx="1111.6" cy="150.9" r="8.3"/><circle cx="1112.4" cy="149.8" r="8.3"/><circle cx="1115.3" cy="146.6" r="8.3"/><circle cx="1117.1" cy="154.1" r="8.3"/><circle cx="1118.3" cy="146.9" r="8.3"/><circle cx="1120.6" cy="146.7" r="8.3"/><circle cx="1122" cy="151.6" r="8.3"/><circle cx="1127.6" cy="147.9" r="8.3"/><circle cx="1125.4" cy="150.3" r="8.3"/><circle cx="1130.6" cy="149.4" r="8.3"/><circle cx="1129" cy="148.5" r="8.3"/><circle cx="1134" cy="148.8" r="8.3"/><circle cx="1133.6" cy="144.6" r="8.3"/><circle cx="1138.4" cy="148" r="8.3"/><circle cx="1138.1" cy="146.8" r="8.3"/><circle cx="1139.3" cy="146.2" r="8.3"/><circle cx="1143.9" cy="150.3" r="8.3"/><circle cx="1146.3" cy="143.8" r="8.3"/><circle cx="1144.6" cy="142.2" r="8.3"/><circle cx="1148" cy="145.4" r="8.3"/><circle cx="1149.6" cy="146.9" r="8.3"/><circle cx="1153.6" cy="142.5" r="8.3"/><circle cx="1156.4" cy="143.5" r="8.3"/><circle cx="1154.9" cy="143.1" r="8.3"/><circle cx="1160" cy="142.8" r="8.3"/><circle cx="1158.7" cy="147.7" r="8.3"/><circle cx="1162.3" cy="138.5" r="8.3"/><circle cx="1166" cy="137.7" r="8.3"/><circle cx="1164.3" cy="140.5" r="8.3"/><circle cx="1169.1" cy="140.2" r="8.3"/><circle cx="1170.4" cy="136.8" r="8.3"/><circle cx="1172.3" cy="139.4" r="8.3"/><circle cx="1176.1" cy="137.1" r="8.3"/><circle cx="1175.5" cy="141.3" r="8.3"/><circle cx="1176.7" cy="136.6" r="8.3"/><circle cx="1177.9" cy="138.9" r="8.3"/><circle cx="1181.1" cy="136" r="8.3"/><circle cx="1184.7" cy="137.7" r="8.3"/><circle cx="1186.3" cy="129.6" r="8.3"/><circle cx="1186.7" cy="132.8" r="8.3"/><circle cx="1189.7" cy="134.1" r="8.3"/><circle cx="1191.5" cy="132.9" r="8.3"/><circle cx="1193.9" cy="134.7" r="8.3"/><circle cx="1198.1" cy="135.2" r="8.3"/><circle cx="1199.1" cy="129.8" r="8.3"/><circle cx="1197.8" cy="129" r="8.3"/><circle cx="1201.9" cy="131.6" r="8.3"/><circle cx="1205" cy="129.1" r="8.3"/><circle cx="1206.9" cy="131.2" r="8.3"/><circle cx="1208.3" cy="127.5" r="8.3"/><circle cx="1208.4" cy="130.8" r="8.3"/><circle cx="1212.9" cy="132.5" r="8.3"/><circle cx="1214.9" cy="130.1" r="8.3"/><circle cx="1213.9" cy="124.5" r="8.3"/><circle cx="1218.5" cy="126.6" r="8.3"/><circle cx="1218.9" cy="126.5" r="8.3"/><circle cx="1220.4" cy="129" r="8.3"/><circle cx="1224.7" cy="125.3" r="8.3"/><circle cx="1224" cy="125.4" r="8.3"/><circle cx="1225.7" cy="126.8" r="8.3"/><circle cx="1226.7" cy="125.8" r="8.3"/><circle cx="1232.5" cy="121.3" r="8.3"/><circle cx="1234.6" cy="123.1" r="8.3"/><circle cx="1235.1" cy="122.9" r="8.3"/><circle cx="1236.8" cy="121.9" r="8.3"/><circle cx="1240.1" cy="122.2" r="8.3"/><circle cx="1241.4" cy="123.1" r="8.3"/><circle cx="1240.1" cy="121.5" r="8.3"/><circle cx="1243.8" cy="121.1" r="8.3"/><circle cx="1245.6" cy="118.6" r="8.3"/><circle cx="1249.2" cy="119.9" r="8.3"/><circle cx="1248.7" cy="122.5" r="8.3"/><circle cx="1251.4" cy="118.9" r="8.3"/><circle cx="1256.5" cy="118.8" r="8.3"/><circle cx="1255.8" cy="118.3" r="8.3"/><circle cx="1260" cy="116.5" r="8.3"/><circle cx="1261.7" cy="118.9" r="8.3"/><circle cx="1261.1" cy="119.1" r="8.3"/><circle cx="1264.9" cy="117.8" r="8.3"/><circle cx="1266.2" cy="116.9" r="8.3"/><circle cx="1269.2" cy="116" r="8.3"/><circle cx="1269" cy="117.5" r="8.3"/><circle cx="1270.7" cy="113.9" r="8.3"/><circle cx="1274.9" cy="115.4" r="8.3"/><circle cx="1275.3" cy="115" r="8.3"/><circle cx="1279.6" cy="114.7" r="8.3"/><circle cx="1277.4" cy="110" r="8.3"/><circle cx="1280.7" cy="113.2" r="8.3"/><circle cx="1284.3" cy="115.1" r="8.3"/><circle cx="1284.6" cy="112.4" r="8.3"/><circle cx="1285.7" cy="109.5" r="8.3"/><circle cx="1288.6" cy="107.3" r="8.3"/><circle cx="1290.1" cy="111.8" r="8.3"/><circle cx="1292.6" cy="109.6" r="8.3"/><circle cx="1295.5" cy="109.9" r="8.3"/><circle cx="1295.4" cy="108.4" r="8.3"/><circle cx="1298.2" cy="109.5" r="8.3"/><circle cx="1299.9" cy="105.7" r="8.3"/>
</g>
<polyline points="1050.7,353.7 1052.7,346.9 1054.2,344 1055.9,341.6 1056.8,344.2 1059.5,344.7 1059.8,344.5 1062,345.1 1063.6,340.4 1062.4,344.7 1063.8,341.1 1065.7,340.3 1066.2,342.8 1067.7,337.6 1068.4,341.4 1069.7,336.7 1071.1,336.5 1072.5,336.7 1075.8,336.2 1075.6,333.8 1075.5,334.5 1076.5,335.2 1077.8,331.8 1079.2,329.3 1079.9,330.2 1084.2,329.7 1084.3,325.4 1083.8,323.5 1084.6,290.9 1085.1,287.3 1086.6,285 1086.9,278.7 1087.3,274.5 1088.9,272.7 1089.6,270.8 1090.9,264.1 1092.2,262 1091.1,258 1092.8,254.4 1095.1,253.5 1094.4,247.4 1096.4,245.4 1096.5,202.3 1096.7,202.3 1098.8,200.2 1102,197.9 1099.7,196.2 1103.2,196.5 1103.5,195.1 1104.7,193.7 1107.4,190.3 1108.4,191.5 1110.4,192.2 1111.7,191.1 1114.4,189.5 1115.2,188.2 1116.3,187.3 1118.7,186.6 1122.5,183.1 1122.9,184.8 1125.4,184.9 1127.9,181.6 1127.2,181.9 1130.1,177.6 1131.9,187.8 1133.4,183.4 1135.4,180.4 1138.2,183.6 1140,177.1 1141.5,179.1 1143.7,180.8 1146.8,183.6 1145.5,179.7 1150,177.9 1150,175 1153.6,177 1155.2,176.5 1157.4,175.2 1158.7,173.2 1159.2,174 1162.3,177.7 1163.8,172.5 1167.2,171.1 1167.4,174.8 1171,173.5 1170.7,173.7 1173.3,172.9 1177,170.6 1178.2,173.2 1179.8,170.6 1180.4,169.1 1183.7,168.3 1186.1,167.4 1187.1,167.3 1188.6,169 1192.4,169.6 1195,167.4 1197.4,169.8 1196.3,169.8 1200.9,165.9 1201.3,170.1 1201.2,167.3 1204.3,164.1 1206.4,169.9 1207.9,165.6 1210.4,167.9 1211,166.4 1214,165.1 1214.8,162.5 1218.4,161.2 1221.1,164.1 1223.6,162.5 1222.4,161.3 1227.1,165.2 1226.3,158.7 1227.8,162 1232.9,159.6 1234.6,159 1236.3,162.4 1236.5,157.8 1237.4,156.8 1239.4,159.7 1241.9,156.9 1243.6,155.9 1245.8,156.9 1249.8,153.9 1249.2,157.8 1253.4,154.4 1255.9,156.1 1255.7,155.3 1258.3,155.3 1260.1,151.7 1263.5,154.9 1264.9,155.6 1264,156.7 1269.3,155.4 1268.8,149.4 1270,152.6 1275.2,149.9 1277,153.3 1278.4,149.7 1277.2,151.8 1279.8,149.2 1283.6,152.5 1284.7,150.2 1288.3,147 1287.4,146.8 1290.6,150.1 1291.5,148.1 1295,145 1297,147.3 1300.4,146.9 1301.5,148.3 1301.9,143.6 1303.4,145.8 1307.7,145.5 1309.7,146 1309.8,146.9 1310,144.2 1314,141.2 1315.9,147.3 1318.3,141.8 1319.6,141.6 1320.9,143 1322.3,140.7 1325.1,141.7 1325.5,140.5 1329.6,142.5 1332.4,141 1333.2,139.9 1336.1,142.8 1335.9,139.4 1338.5,139.4 1340.9,137.2 1343.2,137.4 1342.6,136.6 1345.9,137.3 1345.8,138.1 1351.1,137.7 1352.6,136.4 1353.4,135.8 1354.6,135.7" fill="none" stroke="#4a4a4a" stroke-width="1.1"/>
<g fill="#a2142f" stroke="#1a1a1a" stroke-width="1.15" stroke-opacity="0.9">
<circle cx="1051.9" cy="345.5" r="8.3"/><circle cx="1054.8" cy="346" r="8.3"/><circle cx="1054" cy="350.4" r="8.3"/><circle cx="1054.1" cy="347.7" r="8.3"/><circle cx="1054.9" cy="348.8" r="8.3"/><circle cx="1055.3" cy="345.2" r="8.3"/><circle cx="1052.3" cy="348.7" r="8.3"/><circle cx="1055.5" cy="347.8" r="8.3"/><circle cx="1055.1" cy="346.9" r="8.3"/><circle cx="1055.9" cy="343.8" r="8.3"/><circle cx="1050.7" cy="353.7" r="8.3"/><circle cx="1052.7" cy="346.9" r="8.3"/><circle cx="1054.2" cy="344" r="8.3"/><circle cx="1055.9" cy="341.6" r="8.3"/><circle cx="1056.8" cy="344.2" r="8.3"/><circle cx="1059.5" cy="344.7" r="8.3"/><circle cx="1059.8" cy="344.5" r="8.3"/><circle cx="1062" cy="345.1" r="8.3"/><circle cx="1063.6" cy="340.4" r="8.3"/><circle cx="1062.4" cy="344.7" r="8.3"/><circle cx="1063.8" cy="341.1" r="8.3"/><circle cx="1065.7" cy="340.3" r="8.3"/><circle cx="1066.2" cy="342.8" r="8.3"/><circle cx="1067.7" cy="337.6" r="8.3"/><circle cx="1068.4" cy="341.4" r="8.3"/><circle cx="1069.7" cy="336.7" r="8.3"/><circle cx="1071.1" cy="336.5" r="8.3"/><circle cx="1072.5" cy="336.7" r="8.3"/><circle cx="1075.8" cy="336.2" r="8.3"/><circle cx="1075.6" cy="333.8" r="8.3"/><circle cx="1075.5" cy="334.5" r="8.3"/><circle cx="1076.5" cy="335.2" r="8.3"/><circle cx="1077.8" cy="331.8" r="8.3"/><circle cx="1079.2" cy="329.3" r="8.3"/><circle cx="1079.9" cy="330.2" r="8.3"/><circle cx="1084.2" cy="329.7" r="8.3"/><circle cx="1084.3" cy="325.4" r="8.3"/><circle cx="1083.8" cy="323.5" r="8.3"/><circle cx="1084.6" cy="290.9" r="8.3"/><circle cx="1085.1" cy="287.3" r="8.3"/><circle cx="1086.6" cy="285" r="8.3"/><circle cx="1086.9" cy="278.7" r="8.3"/><circle cx="1087.3" cy="274.5" r="8.3"/><circle cx="1088.9" cy="272.7" r="8.3"/><circle cx="1089.6" cy="270.8" r="8.3"/><circle cx="1090.9" cy="264.1" r="8.3"/><circle cx="1092.2" cy="262" r="8.3"/><circle cx="1091.1" cy="258" r="8.3"/><circle cx="1092.8" cy="254.4" r="8.3"/><circle cx="1095.1" cy="253.5" r="8.3"/><circle cx="1094.4" cy="247.4" r="8.3"/><circle cx="1096.4" cy="245.4" r="8.3"/><circle cx="1096.5" cy="202.3" r="8.3"/><circle cx="1096.7" cy="202.3" r="8.3"/><circle cx="1098.8" cy="200.2" r="8.3"/><circle cx="1102" cy="197.9" r="8.3"/><circle cx="1099.7" cy="196.2" r="8.3"/><circle cx="1103.2" cy="196.5" r="8.3"/><circle cx="1103.5" cy="195.1" r="8.3"/><circle cx="1104.7" cy="193.7" r="8.3"/><circle cx="1107.4" cy="190.3" r="8.3"/><circle cx="1108.4" cy="191.5" r="8.3"/><circle cx="1110.4" cy="192.2" r="8.3"/><circle cx="1111.7" cy="191.1" r="8.3"/><circle cx="1114.4" cy="189.5" r="8.3"/><circle cx="1115.2" cy="188.2" r="8.3"/><circle cx="1116.3" cy="187.3" r="8.3"/><circle cx="1118.7" cy="186.6" r="8.3"/><circle cx="1122.5" cy="183.1" r="8.3"/><circle cx="1122.9" cy="184.8" r="8.3"/><circle cx="1125.4" cy="184.9" r="8.3"/><circle cx="1127.9" cy="181.6" r="8.3"/><circle cx="1127.2" cy="181.9" r="8.3"/><circle cx="1130.1" cy="177.6" r="8.3"/><circle cx="1131.9" cy="187.8" r="8.3"/><circle cx="1133.4" cy="183.4" r="8.3"/><circle cx="1135.4" cy="180.4" r="8.3"/><circle cx="1138.2" cy="183.6" r="8.3"/><circle cx="1140" cy="177.1" r="8.3"/><circle cx="1141.5" cy="179.1" r="8.3"/><circle cx="1143.7" cy="180.8" r="8.3"/><circle cx="1146.8" cy="183.6" r="8.3"/><circle cx="1145.5" cy="179.7" r="8.3"/><circle cx="1150" cy="177.9" r="8.3"/><circle cx="1150" cy="175" r="8.3"/><circle cx="1153.6" cy="177" r="8.3"/><circle cx="1155.2" cy="176.5" r="8.3"/><circle cx="1157.4" cy="175.2" r="8.3"/><circle cx="1158.7" cy="173.2" r="8.3"/><circle cx="1159.2" cy="174" r="8.3"/><circle cx="1162.3" cy="177.7" r="8.3"/><circle cx="1163.8" cy="172.5" r="8.3"/><circle cx="1167.2" cy="171.1" r="8.3"/><circle cx="1167.4" cy="174.8" r="8.3"/><circle cx="1171" cy="173.5" r="8.3"/><circle cx="1170.7" cy="173.7" r="8.3"/><circle cx="1173.3" cy="172.9" r="8.3"/><circle cx="1177" cy="170.6" r="8.3"/><circle cx="1178.2" cy="173.2" r="8.3"/><circle cx="1179.8" cy="170.6" r="8.3"/><circle cx="1180.4" cy="169.1" r="8.3"/><circle cx="1183.7" cy="168.3" r="8.3"/><circle cx="1186.1" cy="167.4" r="8.3"/><circle cx="1187.1" cy="167.3" r="8.3"/><circle cx="1188.6" cy="169" r="8.3"/><circle cx="1192.4" cy="169.6" r="8.3"/><circle cx="1195" cy="167.4" r="8.3"/><circle cx="1197.4" cy="169.8" r="8.3"/><circle cx="1196.3" cy="169.8" r="8.3"/><circle cx="1200.9" cy="165.9" r="8.3"/><circle cx="1201.3" cy="170.1" r="8.3"/><circle cx="1201.2" cy="167.3" r="8.3"/><circle cx="1204.3" cy="164.1" r="8.3"/><circle cx="1206.4" cy="169.9" r="8.3"/><circle cx="1207.9" cy="165.6" r="8.3"/><circle cx="1210.4" cy="167.9" r="8.3"/><circle cx="1211" cy="166.4" r="8.3"/><circle cx="1214" cy="165.1" r="8.3"/><circle cx="1214.8" cy="162.5" r="8.3"/><circle cx="1218.4" cy="161.2" r="8.3"/><circle cx="1221.1" cy="164.1" r="8.3"/><circle cx="1223.6" cy="162.5" r="8.3"/><circle cx="1222.4" cy="161.3" r="8.3"/><circle cx="1227.1" cy="165.2" r="8.3"/><circle cx="1226.3" cy="158.7" r="8.3"/><circle cx="1227.8" cy="162" r="8.3"/><circle cx="1232.9" cy="159.6" r="8.3"/><circle cx="1234.6" cy="159" r="8.3"/><circle cx="1236.3" cy="162.4" r="8.3"/><circle cx="1236.5" cy="157.8" r="8.3"/><circle cx="1237.4" cy="156.8" r="8.3"/><circle cx="1239.4" cy="159.7" r="8.3"/><circle cx="1241.9" cy="156.9" r="8.3"/><circle cx="1243.6" cy="155.9" r="8.3"/><circle cx="1245.8" cy="156.9" r="8.3"/><circle cx="1249.8" cy="153.9" r="8.3"/><circle cx="1249.2" cy="157.8" r="8.3"/><circle cx="1253.4" cy="154.4" r="8.3"/><circle cx="1255.9" cy="156.1" r="8.3"/><circle cx="1255.7" cy="155.3" r="8.3"/><circle cx="1258.3" cy="155.3" r="8.3"/><circle cx="1260.1" cy="151.7" r="8.3"/><circle cx="1263.5" cy="154.9" r="8.3"/><circle cx="1264.9" cy="155.6" r="8.3"/><circle cx="1264" cy="156.7" r="8.3"/><circle cx="1269.3" cy="155.4" r="8.3"/><circle cx="1268.8" cy="149.4" r="8.3"/><circle cx="1270" cy="152.6" r="8.3"/><circle cx="1275.2" cy="149.9" r="8.3"/><circle cx="1277" cy="153.3" r="8.3"/><circle cx="1278.4" cy="149.7" r="8.3"/><circle cx="1277.2" cy="151.8" r="8.3"/><circle cx="1279.8" cy="149.2" r="8.3"/><circle cx="1283.6" cy="152.5" r="8.3"/><circle cx="1284.7" cy="150.2" r="8.3"/><circle cx="1288.3" cy="147" r="8.3"/><circle cx="1287.4" cy="146.8" r="8.3"/><circle cx="1290.6" cy="150.1" r="8.3"/><circle cx="1291.5" cy="148.1" r="8.3"/><circle cx="1295" cy="145" r="8.3"/><circle cx="1297" cy="147.3" r="8.3"/><circle cx="1300.4" cy="146.9" r="8.3"/><circle cx="1301.5" cy="148.3" r="8.3"/><circle cx="1301.9" cy="143.6" r="8.3"/><circle cx="1303.4" cy="145.8" r="8.3"/><circle cx="1307.7" cy="145.5" r="8.3"/><circle cx="1309.7" cy="146" r="8.3"/><circle cx="1309.8" cy="146.9" r="8.3"/><circle cx="1310" cy="144.2" r="8.3"/><circle cx="1314" cy="141.2" r="8.3"/><circle cx="1315.9" cy="147.3" r="8.3"/><circle cx="1318.3" cy="141.8" r="8.3"/><circle cx="1319.6" cy="141.6" r="8.3"/><circle cx="1320.9" cy="143" r="8.3"/><circle cx="1322.3" cy="140.7" r="8.3"/><circle cx="1325.1" cy="141.7" r="8.3"/><circle cx="1325.5" cy="140.5" r="8.3"/><circle cx="1329.6" cy="142.5" r="8.3"/><circle cx="1332.4" cy="141" r="8.3"/><circle cx="1333.2" cy="139.9" r="8.3"/><circle cx="1336.1" cy="142.8" r="8.3"/><circle cx="1335.9" cy="139.4" r="8.3"/><circle cx="1338.5" cy="139.4" r="8.3"/><circle cx="1340.9" cy="137.2" r="8.3"/><circle cx="1343.2" cy="137.4" r="8.3"/><circle cx="1342.6" cy="136.6" r="8.3"/><circle cx="1345.9" cy="137.3" r="8.3"/><circle cx="1345.8" cy="138.1" r="8.3"/><circle cx="1351.1" cy="137.7" r="8.3"/><circle cx="1352.6" cy="136.4" r="8.3"/><circle cx="1353.4" cy="135.8" r="8.3"/><circle cx="1354.6" cy="135.7" r="8.3"/>
</g>
<text x="756" y="41.3" font-size="34.5">b</text>
<text x="877" y="64.9" font-size="27.2">H2B-Nuc + FACT</text>
<text x="861" y="96.7" font-size="29" text-anchor="end">150</text>
<text x="861" y="186" font-size="29" text-anchor="end">100</text>
<text x="861" y="275" font-size="29" text-anchor="end">50</text>
<text x="801" y="188.4" font-size="32" text-anchor="middle" transform="rotate(-90 801 188.4)">Ext. (nm)</text>
<text x="852" y="318.5" font-size="29" text-anchor="middle">3</text>
<text x="930.5" y="349.5" font-size="29" text-anchor="middle">2</text>
<text x="1008" y="382.5" font-size="29" text-anchor="middle">1</text>
<text x="840.5" y="347" font-size="31" transform="rotate(25 840.5 347)">Repeats</text>
<text x="1059.3" y="390" font-size="29" text-anchor="middle">0</text>
<text x="1170" y="381.5" font-size="29" text-anchor="middle">10</text>
<text x="1271" y="376.5" font-size="29" text-anchor="middle">20</text>
<text x="1374.5" y="370" font-size="29" text-anchor="middle">30</text>
<text x="1475.5" y="363.5" font-size="29" text-anchor="middle">40</text>
<text x="1194" y="412" font-size="32">Force (pN)</text>
<text x="1235" y="88.7" font-size="25">3</text>
<text x="1315" y="111.4" font-size="25">2</text>
<text x="1373" y="135.3" font-size="25">1</text>
<text x="1144" y="239" font-size="27.5">inner wrap</text>
<text x="1129.5" y="325" font-size="27.5">outer wrap</text>
<polygon points="1123.4,214.2 1136,230.8 1127.3,230.8 1127.3,240.4 1119.5,240.4 1119.5,230.8 1110.8,230.8" fill="#fff" stroke="#3a3a3a" stroke-width="2.4" stroke-linejoin="round"/>
<line x1="1119.1" y1="245.6" x2="1127.7" y2="245.6" stroke="#3a3a3a" stroke-width="2.4" stroke-linecap="round"/>
<line x1="1119.1" y1="251.5" x2="1127.7" y2="251.5" stroke="#3a3a3a" stroke-width="2.4" stroke-linecap="round"/>
<line x1="1119.1" y1="257.1" x2="1127.7" y2="257.1" stroke="#3a3a3a" stroke-width="2.4" stroke-linecap="round"/>
<polygon points="1113.5,303 1126.1,319.6 1117.4,319.6 1117.4,329.2 1109.6,329.2 1109.6,319.6 1100.9,319.6" fill="#fff" stroke="#3a3a3a" stroke-width="2.4" stroke-linejoin="round"/>
<line x1="1109.2" y1="334.4" x2="1117.8" y2="334.4" stroke="#3a3a3a" stroke-width="2.4" stroke-linecap="round"/>
<line x1="1109.2" y1="340.3" x2="1117.8" y2="340.3" stroke="#3a3a3a" stroke-width="2.4" stroke-linecap="round"/>
<line x1="1109.2" y1="345.9" x2="1117.8" y2="345.9" stroke="#3a3a3a" stroke-width="2.4" stroke-linecap="round"/>
<line x1="990" y1="782.6" x2="990" y2="600.3" stroke="#cdcdcd" stroke-width="1.1"/>
<line x1="1090" y1="776.9" x2="1090" y2="594.6" stroke="#cdcdcd" stroke-width="1.1"/>
<line x1="1190" y1="771.3" x2="1190" y2="588.9" stroke="#cdcdcd" stroke-width="1.1"/>
<line x1="1290" y1="765.6" x2="1290" y2="583.2" stroke="#cdcdcd" stroke-width="1.1"/>
<line x1="890" y1="788.3" x2="1290" y2="765.6" stroke="#cdcdcd" stroke-width="1.1"/>
<line x1="890" y1="769.9" x2="1290" y2="747.2" stroke="#cdcdcd" stroke-width="1.1"/>
<line x1="890" y1="687.9" x2="1290" y2="665.2" stroke="#cdcdcd" stroke-width="1.1"/>
<line x1="890" y1="605.9" x2="1290" y2="583.2" stroke="#cdcdcd" stroke-width="1.1"/>
<line x1="990" y1="782.6" x2="1145.4" y2="840.6" stroke="#cdcdcd" stroke-width="1.1"/>
<line x1="1090" y1="776.9" x2="1245.4" y2="834.9" stroke="#cdcdcd" stroke-width="1.1"/>
<line x1="1190" y1="771.3" x2="1345.4" y2="829.3" stroke="#cdcdcd" stroke-width="1.1"/>
<line x1="967.7" y1="817.3" x2="1367.7" y2="794.6" stroke="#cdcdcd" stroke-width="1.1"/>
<line x1="1367.7" y1="794.6" x2="1367.7" y2="612.2" stroke="#cdcdcd" stroke-width="1.1"/>
<line x1="1445.4" y1="823.6" x2="1445.4" y2="641.2" stroke="#cdcdcd" stroke-width="1.1"/>
<line x1="1290" y1="765.6" x2="1445.4" y2="823.6" stroke="#cdcdcd" stroke-width="1.1"/>
<line x1="1290" y1="747.2" x2="1445.4" y2="805.2" stroke="#cdcdcd" stroke-width="1.1"/>
<line x1="1290" y1="665.2" x2="1445.4" y2="723.2" stroke="#cdcdcd" stroke-width="1.1"/>
<line x1="1290" y1="583.2" x2="1445.4" y2="641.2" stroke="#cdcdcd" stroke-width="1.1"/>
<line x1="890" y1="788.3" x2="890" y2="605.9" stroke="#000" stroke-width="2.2"/>
<line x1="890" y1="769.9" x2="878.8" y2="765.7" stroke="#000" stroke-width="2.2"/>
<line x1="890" y1="687.9" x2="878.8" y2="683.7" stroke="#000" stroke-width="2.2"/>
<line x1="890" y1="605.9" x2="878.8" y2="601.7" stroke="#000" stroke-width="2.2"/>
<line x1="890" y1="788.3" x2="1054.7" y2="849.8" stroke="#000" stroke-width="2.2"/>
<line x1="890" y1="788.3" x2="879" y2="788.9" stroke="#000" stroke-width="2.2"/>
<line x1="967.7" y1="817.3" x2="956.7" y2="817.9" stroke="#000" stroke-width="2.2"/>
<line x1="1045.4" y1="846.3" x2="1034.4" y2="846.9" stroke="#000" stroke-width="2.2"/>
<line x1="1045.4" y1="846.3" x2="1445.4" y2="823.6" stroke="#000" stroke-width="2.2"/>
<line x1="1045.4" y1="846.3" x2="1056.6" y2="850.5" stroke="#000" stroke-width="2.2"/>
<line x1="1145.4" y1="840.6" x2="1156.6" y2="844.8" stroke="#000" stroke-width="2.2"/>
<line x1="1245.4" y1="834.9" x2="1256.6" y2="839.1" stroke="#000" stroke-width="2.2"/>
<line x1="1345.4" y1="829.3" x2="1356.6" y2="833.5" stroke="#000" stroke-width="2.2"/>
<line x1="1445.4" y1="823.6" x2="1456.6" y2="827.8" stroke="#000" stroke-width="2.2"/>
<polyline points="896.9,758.2 898.3,756 902.3,757 905.4,756.6 906.5,751.8 908.1,753.3 910.5,754.3 908.4,751.3 909.5,750.8 913.6,753.6 914.2,750.9 916.6,746.9 917.1,748.5 922.1,747.1 922.6,745 921.2,748.1 927,746.2 929.7,747.1 928.1,739.8 931.2,742.1 934.3,746.4 932.9,742.2 937.7,737.3 936.8,743.2 937.7,739.5 943.3,738 940.4,739.5 943.2,735.7 947.7,732.9 949,735.2 949,734.3 953.5,731.6 954.5,733.5 955.8,732.6 956,734.4 958.7,729.1 960.9,726.9 960.1,728.1 965.3,729.9 964.5,725.4 965.3,726.5 969.6,720.5 971.5,721.7 972.7,720 973.4,722.6 977.1,718.2 977.7,723 979.3,720 981.9,716.6 982.8,715.1 985.8,714.7 987.1,719.5 990.1,712.8 990.2,714.7 990.9,712.8 990.2,682.2 993.7,683.2 996.1,681.9 997.9,683.9 999.3,682.4 1001,681.3 1001.7,680.4 1002.7,679.9 1004.5,680.6 1008.2,676.9 1011.7,676.6 1011.5,677.2 1015.1,678.6 1014.6,675.3 1018,674.6 1022.2,675.2 1023.4,671.9 1022.9,671.2 1028.7,670.8 1027.9,671.6 1029.9,671.1 1031.1,667.5 1033.7,666.8 1034.9,670.6 1040.2,667.4 1039.3,669.3 1041.2,666.3 1044.6,665 1045.7,667.3 1046.9,665 1049.1,660.6 1052.9,663.3 1052.1,661 1055.6,659.6 1058.2,659.5 1058.6,660.1 1061,658 1063.3,657.3 1066.2,658.5 1065.9,654 1070.3,657.9 1071.7,654.5 1074.3,656.6 1076.9,653.8 1076.9,655.5 1080.3,657.1 1081.5,654.6 1084.1,653.6 1085.6,651.6 1086.8,652.9 1088.4,652.8 1092.2,651.2 1093.5,647.5 1098,648.9 1097,648 1101.3,647.9 1102.7,646.7 1103.3,646.3 1104.1,647 1106.5,646.7 1110.6,645.7 1110.9,643.4 1113.7,645.1 1115.9,646.4 1117.6,644.5 1121.1,640.6 1121.5,641.7 1124.2,641.1 1124.8,641.4 1127,640.3 1129.7,638.1 1129.8,639 1134.4,638.6 1136.6,641.9 1135.9,639.2 1141.3,638 1143.3,638.2 1143.2,635.7 1145,635.4 1147.5,635.3 1149,604.4 1150.3,604.5 1152.4,601.6 1154.1,602.9 1154.2,602.6 1158.7,601.7 1161.2,601.3 1162.1,600.2 1162.6,600.8 1165.6,600.7 1167.1,599.1 1169,599.5 1172.8,600.6 1175.4,597.5 1177.6,595.8 1178.2,597 1179.7,599.1 1180.5,596.8 1185.6,596.8 1185.6,594.6 1189.4,595.5 1189.1,593.3 1192.5,591.3 1193.8,596.4 1195,594.7 1200.1,591.9 1198.7,592.9 1203.2,592.9 1202.9,592 1205.2,591.7 1207.1,593 1211.4,591.9 1212.7,592.3 1213.6,591.8 1217.8,590.9 1218.6,591.3 1221.1,589.3 1223.1,588.3 1224.5,585.2 1226.2,589" fill="none" stroke="#4a4a4a" stroke-width="1.1"/>
<g fill="#0072bd" stroke="#1a1a1a" stroke-width="1.15" stroke-opacity="0.9">
<circle cx="900.1" cy="758.3" r="8.3"/><circle cx="901.7" cy="754.1" r="8.3"/><circle cx="900.7" cy="759" r="8.3"/><circle cx="899.3" cy="758.2" r="8.3"/><circle cx="901.7" cy="755.3" r="8.3"/><circle cx="897.6" cy="754.2" r="8.3"/><circle cx="899.3" cy="758.6" r="8.3"/><circle cx="899.9" cy="761.6" r="8.3"/><circle cx="897.1" cy="758.9" r="8.3"/><circle cx="901.6" cy="760.5" r="8.3"/><circle cx="896.9" cy="758.2" r="8.3"/><circle cx="898.3" cy="756" r="8.3"/><circle cx="902.3" cy="757" r="8.3"/><circle cx="905.4" cy="756.6" r="8.3"/><circle cx="906.5" cy="751.8" r="8.3"/><circle cx="908.1" cy="753.3" r="8.3"/><circle cx="910.5" cy="754.3" r="8.3"/><circle cx="908.4" cy="751.3" r="8.3"/><circle cx="909.5" cy="750.8" r="8.3"/><circle cx="913.6" cy="753.6" r="8.3"/><circle cx="914.2" cy="750.9" r="8.3"/><circle cx="916.6" cy="746.9" r="8.3"/><circle cx="917.1" cy="748.5" r="8.3"/><circle cx="922.1" cy="747.1" r="8.3"/><circle cx="922.6" cy="745" r="8.3"/><circle cx="921.2" cy="748.1" r="8.3"/><circle cx="927" cy="746.2" r="8.3"/><circle cx="929.7" cy="747.1" r="8.3"/><circle cx="928.1" cy="739.8" r="8.3"/><circle cx="931.2" cy="742.1" r="8.3"/><circle cx="934.3" cy="746.4" r="8.3"/><circle cx="932.9" cy="742.2" r="8.3"/><circle cx="937.7" cy="737.3" r="8.3"/><circle cx="936.8" cy="743.2" r="8.3"/><circle cx="937.7" cy="739.5" r="8.3"/><circle cx="943.3" cy="738" r="8.3"/><circle cx="940.4" cy="739.5" r="8.3"/><circle cx="943.2" cy="735.7" r="8.3"/><circle cx="947.7" cy="732.9" r="8.3"/><circle cx="949" cy="735.2" r="8.3"/><circle cx="949" cy="734.3" r="8.3"/><circle cx="953.5" cy="731.6" r="8.3"/><circle cx="954.5" cy="733.5" r="8.3"/><circle cx="955.8" cy="732.6" r="8.3"/><circle cx="956" cy="734.4" r="8.3"/><circle cx="958.7" cy="729.1" r="8.3"/><circle cx="960.9" cy="726.9" r="8.3"/><circle cx="960.1" cy="728.1" r="8.3"/><circle cx="965.3" cy="729.9" r="8.3"/><circle cx="964.5" cy="725.4" r="8.3"/><circle cx="965.3" cy="726.5" r="8.3"/><circle cx="969.6" cy="720.5" r="8.3"/><circle cx="971.5" cy="721.7" r="8.3"/><circle cx="972.7" cy="720" r="8.3"/><circle cx="973.4" cy="722.6" r="8.3"/><circle cx="977.1" cy="718.2" r="8.3"/><circle cx="977.7" cy="723" r="8.3"/><circle cx="979.3" cy="720" r="8.3"/><circle cx="981.9" cy="716.6" r="8.3"/><circle cx="982.8" cy="715.1" r="8.3"/><circle cx="985.8" cy="714.7" r="8.3"/><circle cx="987.1" cy="719.5" r="8.3"/><circle cx="990.1" cy="712.8" r="8.3"/><circle cx="990.2" cy="714.7" r="8.3"/><circle cx="990.9" cy="712.8" r="8.3"/><circle cx="990.2" cy="682.2" r="8.3"/><circle cx="993.7" cy="683.2" r="8.3"/><circle cx="996.1" cy="681.9" r="8.3"/><circle cx="997.9" cy="683.9" r="8.3"/><circle cx="999.3" cy="682.4" r="8.3"/><circle cx="1001" cy="681.3" r="8.3"/><circle cx="1001.7" cy="680.4" r="8.3"/><circle cx="1002.7" cy="679.9" r="8.3"/><circle cx="1004.5" cy="680.6" r="8.3"/><circle cx="1008.2" cy="676.9" r="8.3"/><circle cx="1011.7" cy="676.6" r="8.3"/><circle cx="1011.5" cy="677.2" r="8.3"/><circle cx="1015.1" cy="678.6" r="8.3"/><circle cx="1014.6" cy="675.3" r="8.3"/><circle cx="1018" cy="674.6" r="8.3"/><circle cx="1022.2" cy="675.2" r="8.3"/><circle cx="1023.4" cy="671.9" r="8.3"/><circle cx="1022.9" cy="671.2" r="8.3"/><circle cx="1028.7" cy="670.8" r="8.3"/><circle cx="1027.9" cy="671.6" r="8.3"/><circle cx="1029.9" cy="671.1" r="8.3"/><circle cx="1031.1" cy="667.5" r="8.3"/><circle cx="1033.7" cy="666.8" r="8.3"/><circle cx="1034.9" cy="670.6" r="8.3"/><circle cx="1040.2" cy="667.4" r="8.3"/><circle cx="1039.3" cy="669.3" r="8.3"/><circle cx="1041.2" cy="666.3" r="8.3"/><circle cx="1044.6" cy="665" r="8.3"/><circle cx="1045.7" cy="667.3" r="8.3"/><circle cx="1046.9" cy="665" r="8.3"/><circle cx="1049.1" cy="660.6" r="8.3"/><circle cx="1052.9" cy="663.3" r="8.3"/><circle cx="1052.1" cy="661" r="8.3"/><circle cx="1055.6" cy="659.6" r="8.3"/><circle cx="1058.2" cy="659.5" r="8.3"/><circle cx="1058.6" cy="660.1" r="8.3"/><circle cx="1061" cy="658" r="8.3"/><circle cx="1063.3" cy="657.3" r="8.3"/><circle cx="1066.2" cy="658.5" r="8.3"/><circle cx="1065.9" cy="654" r="8.3"/><circle cx="1070.3" cy="657.9" r="8.3"/><circle cx="1071.7" cy="654.5" r="8.3"/><circle cx="1074.3" cy="656.6" r="8.3"/><circle cx="1076.9" cy="653.8" r="8.3"/><circle cx="1076.9" cy="655.5" r="8.3"/><circle cx="1080.3" cy="657.1" r="8.3"/><circle cx="1081.5" cy="654.6" r="8.3"/><circle cx="1084.1" cy="653.6" r="8.3"/><circle cx="1085.6" cy="651.6" r="8.3"/><circle cx="1086.8" cy="652.9" r="8.3"/><circle cx="1088.4" cy="652.8" r="8.3"/><circle cx="1092.2" cy="651.2" r="8.3"/><circle cx="1093.5" cy="647.5" r="8.3"/><circle cx="1098" cy="648.9" r="8.3"/><circle cx="1097" cy="648" r="8.3"/><circle cx="1101.3" cy="647.9" r="8.3"/><circle cx="1102.7" cy="646.7" r="8.3"/><circle cx="1103.3" cy="646.3" r="8.3"/><circle cx="1104.1" cy="647" r="8.3"/><circle cx="1106.5" cy="646.7" r="8.3"/><circle cx="1110.6" cy="645.7" r="8.3"/><circle cx="1110.9" cy="643.4" r="8.3"/><circle cx="1113.7" cy="645.1" r="8.3"/><circle cx="1115.9" cy="646.4" r="8.3"/><circle cx="1117.6" cy="644.5" r="8.3"/><circle cx="1121.1" cy="640.6" r="8.3"/><circle cx="1121.5" cy="641.7" r="8.3"/><circle cx="1124.2" cy="641.1" r="8.3"/><circle cx="1124.8" cy="641.4" r="8.3"/><circle cx="1127" cy="640.3" r="8.3"/><circle cx="1129.7" cy="638.1" r="8.3"/><circle cx="1129.8" cy="639" r="8.3"/><circle cx="1134.4" cy="638.6" r="8.3"/><circle cx="1136.6" cy="641.9" r="8.3"/><circle cx="1135.9" cy="639.2" r="8.3"/><circle cx="1141.3" cy="638" r="8.3"/><circle cx="1143.3" cy="638.2" r="8.3"/><circle cx="1143.2" cy="635.7" r="8.3"/><circle cx="1145" cy="635.4" r="8.3"/><circle cx="1147.5" cy="635.3" r="8.3"/><circle cx="1149" cy="604.4" r="8.3"/><circle cx="1150.3" cy="604.5" r="8.3"/><circle cx="1152.4" cy="601.6" r="8.3"/><circle cx="1154.1" cy="602.9" r="8.3"/><circle cx="1154.2" cy="602.6" r="8.3"/><circle cx="1158.7" cy="601.7" r="8.3"/><circle cx="1161.2" cy="601.3" r="8.3"/><circle cx="1162.1" cy="600.2" r="8.3"/><circle cx="1162.6" cy="600.8" r="8.3"/><circle cx="1165.6" cy="600.7" r="8.3"/><circle cx="1167.1" cy="599.1" r="8.3"/><circle cx="1169" cy="599.5" r="8.3"/><circle cx="1172.8" cy="600.6" r="8.3"/><circle cx="1175.4" cy="597.5" r="8.3"/><circle cx="1177.6" cy="595.8" r="8.3"/><circle cx="1178.2" cy="597" r="8.3"/><circle cx="1179.7" cy="599.1" r="8.3"/><circle cx="1180.5" cy="596.8" r="8.3"/><circle cx="1185.6" cy="596.8" r="8.3"/><circle cx="1185.6" cy="594.6" r="8.3"/><circle cx="1189.4" cy="595.5" r="8.3"/><circle cx="1189.1" cy="593.3" r="8.3"/><circle cx="1192.5" cy="591.3" r="8.3"/><circle cx="1193.8" cy="596.4" r="8.3"/><circle cx="1195" cy="594.7" r="8.3"/><circle cx="1200.1" cy="591.9" r="8.3"/><circle cx="1198.7" cy="592.9" r="8.3"/><circle cx="1203.2" cy="592.9" r="8.3"/><circle cx="1202.9" cy="592" r="8.3"/><circle cx="1205.2" cy="591.7" r="8.3"/><circle cx="1207.1" cy="593" r="8.3"/><circle cx="1211.4" cy="591.9" r="8.3"/><circle cx="1212.7" cy="592.3" r="8.3"/><circle cx="1213.6" cy="591.8" r="8.3"/><circle cx="1217.8" cy="590.9" r="8.3"/><circle cx="1218.6" cy="591.3" r="8.3"/><circle cx="1221.1" cy="589.3" r="8.3"/><circle cx="1223.1" cy="588.3" r="8.3"/><circle cx="1224.5" cy="585.2" r="8.3"/><circle cx="1226.2" cy="589" r="8.3"/>
</g>
<polyline points="974.6,797.6 977,795.7 978.8,792 981.5,793 982.2,789.4 981.3,792.5 985.2,790.8 984.4,789.4 985.8,785.5 989.1,790.2 991,781.4 993.1,784.2 997.1,783.4 996,780.6 999.2,780.5 1002.8,780.7 1003.2,779.5 1004.3,778.1 1008.4,771.4 1006.7,776 1011.4,772.5 1011.5,769.1 1012.3,772.4 1013.9,769.1 1016.6,768.7 1017.9,772.6 1022,766.7 1021.2,767.6 1022.6,763.5 1026.8,765.7 1028,762.1 1032,759.2 1029.8,758.5 1034.3,760.7 1033.5,760.9 1036.8,754.7 1041.3,757.3 1043.6,754.4 1044.5,751.7 1045.2,752.6 1044.8,750.4 1047.6,748.8 1050.1,748.6 1052.2,748.9 1055.4,747.4 1058.6,745.5 1058.9,742.4 1059.6,746.8 1062.7,742.9 1061.4,742.3 1067.4,742.9 1068.5,740 1069.8,740.6 1070.9,740 1071.7,737.2 1073.6,715.1 1073.6,714.7 1075.8,713.8 1078.5,706.8 1080.6,710.4 1082.7,707.2 1084.6,707 1087.5,705.5 1087.5,702.3 1092.5,701.3 1092.7,704.4 1096.6,696.8 1099.6,699.5 1100.5,700.5 1100.4,697.7 1104.2,696.8 1106.9,694.7 1110.1,690 1113.5,688.8 1111.2,688.5 1113.7,689.3 1119,690.6 1119,687 1122,687.2 1125,681.8 1126.2,685.2 1130.4,684 1130.9,684.4 1135.7,681.3 1136.8,682.7 1139.2,680.2 1141.5,681.4 1142,679.7 1143.8,681.3 1147,680.2 1151.5,676.8 1151.3,676.6 1155,675.3 1155.5,673.5 1158.2,674.8 1163.3,672 1163,674.1 1168.5,671.9 1170.2,672.2 1172.1,673.8 1172.9,669.6 1176.8,667.7 1181.3,671.9 1183.1,669.8 1184.3,665.5 1188,670 1187.9,668.2 1190.5,667.3 1192.9,666.6 1194.9,669.9 1196.3,664.2 1203.3,664.9 1204.5,664.8 1205,665.4 1208.8,666.2 1211.5,665.2 1214.8,665 1213.4,662 1217.7,661.1 1222.3,662.1 1222.6,663.9 1224.5,658.1 1227.8,661.1 1230.1,657.7 1231.8,657.7 1233.8,659.1 1236.9,659.1 1241.8,656.7 1244.4,659.3 1247.4,656.8 1246.6,657.7 1250.4,654.7 1252.2,655.5 1255.9,656.5 1257.2,656.3 1253.9,623.6 1254.4,623 1257.3,622 1258.7,624.8 1261.6,620.4 1261.4,623.2 1264.4,622.2 1264,620.8 1268,621.5 1269.6,620.8 1270,619.9 1273.2,619.9 1273.6,620.8 1275.9,619.7 1275.8,617.6 1280.5,619.8 1280.9,619.6 1282.3,618.2 1282.7,618.8 1286.5,616.5 1286.5,617.9 1287.9,621.6 1289.7,615.9 1292.1,618.4 1294.1,616.6 1297.6,615.4 1296.8,614.9 1300.3,616.5 1301.3,616.8 1301.6,613.3" fill="none" stroke="#4a4a4a" stroke-width="1.1"/>
<g fill="#edb120" stroke="#1a1a1a" stroke-width="1.15" stroke-opacity="0.9">
<circle cx="973.4" cy="798.9" r="8.3"/><circle cx="976.9" cy="798.4" r="8.3"/><circle cx="973.6" cy="795.5" r="8.3"/><circle cx="973.4" cy="797.5" r="8.3"/><circle cx="975.1" cy="798.5" r="8.3"/><circle cx="975.9" cy="797.5" r="8.3"/><circle cx="976.5" cy="798.4" r="8.3"/><circle cx="973.2" cy="798.1" r="8.3"/><circle cx="974.9" cy="799.5" r="8.3"/><circle cx="973.5" cy="795.6" r="8.3"/><circle cx="974.6" cy="797.6" r="8.3"/><circle cx="977" cy="795.7" r="8.3"/><circle cx="978.8" cy="792" r="8.3"/><circle cx="981.5" cy="793" r="8.3"/><circle cx="982.2" cy="789.4" r="8.3"/><circle cx="981.3" cy="792.5" r="8.3"/><circle cx="985.2" cy="790.8" r="8.3"/><circle cx="984.4" cy="789.4" r="8.3"/><circle cx="985.8" cy="785.5" r="8.3"/><circle cx="989.1" cy="790.2" r="8.3"/><circle cx="991" cy="781.4" r="8.3"/><circle cx="993.1" cy="784.2" r="8.3"/><circle cx="997.1" cy="783.4" r="8.3"/><circle cx="996" cy="780.6" r="8.3"/><circle cx="999.2" cy="780.5" r="8.3"/><circle cx="1002.8" cy="780.7" r="8.3"/><circle cx="1003.2" cy="779.5" r="8.3"/><circle cx="1004.3" cy="778.1" r="8.3"/><circle cx="1008.4" cy="771.4" r="8.3"/><circle cx="1006.7" cy="776" r="8.3"/><circle cx="1011.4" cy="772.5" r="8.3"/><circle cx="1011.5" cy="769.1" r="8.3"/><circle cx="1012.3" cy="772.4" r="8.3"/><circle cx="1013.9" cy="769.1" r="8.3"/><circle cx="1016.6" cy="768.7" r="8.3"/><circle cx="1017.9" cy="772.6" r="8.3"/><circle cx="1022" cy="766.7" r="8.3"/><circle cx="1021.2" cy="767.6" r="8.3"/><circle cx="1022.6" cy="763.5" r="8.3"/><circle cx="1026.8" cy="765.7" r="8.3"/><circle cx="1028" cy="762.1" r="8.3"/><circle cx="1032" cy="759.2" r="8.3"/><circle cx="1029.8" cy="758.5" r="8.3"/><circle cx="1034.3" cy="760.7" r="8.3"/><circle cx="1033.5" cy="760.9" r="8.3"/><circle cx="1036.8" cy="754.7" r="8.3"/><circle cx="1041.3" cy="757.3" r="8.3"/><circle cx="1043.6" cy="754.4" r="8.3"/><circle cx="1044.5" cy="751.7" r="8.3"/><circle cx="1045.2" cy="752.6" r="8.3"/><circle cx="1044.8" cy="750.4" r="8.3"/><circle cx="1047.6" cy="748.8" r="8.3"/><circle cx="1050.1" cy="748.6" r="8.3"/><circle cx="1052.2" cy="748.9" r="8.3"/><circle cx="1055.4" cy="747.4" r="8.3"/><circle cx="1058.6" cy="745.5" r="8.3"/><circle cx="1058.9" cy="742.4" r="8.3"/><circle cx="1059.6" cy="746.8" r="8.3"/><circle cx="1062.7" cy="742.9" r="8.3"/><circle cx="1061.4" cy="742.3" r="8.3"/><circle cx="1067.4" cy="742.9" r="8.3"/><circle cx="1068.5" cy="740" r="8.3"/><circle cx="1069.8" cy="740.6" r="8.3"/><circle cx="1070.9" cy="740" r="8.3"/><circle cx="1071.7" cy="737.2" r="8.3"/><circle cx="1073.6" cy="715.1" r="8.3"/><circle cx="1073.6" cy="714.7" r="8.3"/><circle cx="1075.8" cy="713.8" r="8.3"/><circle cx="1078.5" cy="706.8" r="8.3"/><circle cx="1080.6" cy="710.4" r="8.3"/><circle cx="1082.7" cy="707.2" r="8.3"/><circle cx="1084.6" cy="707" r="8.3"/><circle cx="1087.5" cy="705.5" r="8.3"/><circle cx="1087.5" cy="702.3" r="8.3"/><circle cx="1092.5" cy="701.3" r="8.3"/><circle cx="1092.7" cy="704.4" r="8.3"/><circle cx="1096.6" cy="696.8" r="8.3"/><circle cx="1099.6" cy="699.5" r="8.3"/><circle cx="1100.5" cy="700.5" r="8.3"/><circle cx="1100.4" cy="697.7" r="8.3"/><circle cx="1104.2" cy="696.8" r="8.3"/><circle cx="1106.9" cy="694.7" r="8.3"/><circle cx="1110.1" cy="690" r="8.3"/><circle cx="1113.5" cy="688.8" r="8.3"/><circle cx="1111.2" cy="688.5" r="8.3"/><circle cx="1113.7" cy="689.3" r="8.3"/><circle cx="1119" cy="690.6" r="8.3"/><circle cx="1119" cy="687" r="8.3"/><circle cx="1122" cy="687.2" r="8.3"/><circle cx="1125" cy="681.8" r="8.3"/><circle cx="1126.2" cy="685.2" r="8.3"/><circle cx="1130.4" cy="684" r="8.3"/><circle cx="1130.9" cy="684.4" r="8.3"/><circle cx="1135.7" cy="681.3" r="8.3"/><circle cx="1136.8" cy="682.7" r="8.3"/><circle cx="1139.2" cy="680.2" r="8.3"/><circle cx="1141.5" cy="681.4" r="8.3"/><circle cx="1142" cy="679.7" r="8.3"/><circle cx="1143.8" cy="681.3" r="8.3"/><circle cx="1147" cy="680.2" r="8.3"/><circle cx="1151.5" cy="676.8" r="8.3"/><circle cx="1151.3" cy="676.6" r="8.3"/><circle cx="1155" cy="675.3" r="8.3"/><circle cx="1155.5" cy="673.5" r="8.3"/><circle cx="1158.2" cy="674.8" r="8.3"/><circle cx="1163.3" cy="672" r="8.3"/><circle cx="1163" cy="674.1" r="8.3"/><circle cx="1168.5" cy="671.9" r="8.3"/><circle cx="1170.2" cy="672.2" r="8.3"/><circle cx="1172.1" cy="673.8" r="8.3"/><circle cx="1172.9" cy="669.6" r="8.3"/><circle cx="1176.8" cy="667.7" r="8.3"/><circle cx="1181.3" cy="671.9" r="8.3"/><circle cx="1183.1" cy="669.8" r="8.3"/><circle cx="1184.3" cy="665.5" r="8.3"/><circle cx="1188" cy="670" r="8.3"/><circle cx="1187.9" cy="668.2" r="8.3"/><circle cx="1190.5" cy="667.3" r="8.3"/><circle cx="1192.9" cy="666.6" r="8.3"/><circle cx="1194.9" cy="669.9" r="8.3"/><circle cx="1196.3" cy="664.2" r="8.3"/><circle cx="1203.3" cy="664.9" r="8.3"/><circle cx="1204.5" cy="664.8" r="8.3"/><circle cx="1205" cy="665.4" r="8.3"/><circle cx="1208.8" cy="666.2" r="8.3"/><circle cx="1211.5" cy="665.2" r="8.3"/><circle cx="1214.8" cy="665" r="8.3"/><circle cx="1213.4" cy="662" r="8.3"/><circle cx="1217.7" cy="661.1" r="8.3"/><circle cx="1222.3" cy="662.1" r="8.3"/><circle cx="1222.6" cy="663.9" r="8.3"/><circle cx="1224.5" cy="658.1" r="8.3"/><circle cx="1227.8" cy="661.1" r="8.3"/><circle cx="1230.1" cy="657.7" r="8.3"/><circle cx="1231.8" cy="657.7" r="8.3"/><circle cx="1233.8" cy="659.1" r="8.3"/><circle cx="1236.9" cy="659.1" r="8.3"/><circle cx="1241.8" cy="656.7" r="8.3"/><circle cx="1244.4" cy="659.3" r="8.3"/><circle cx="1247.4" cy="656.8" r="8.3"/><circle cx="1246.6" cy="657.7" r="8.3"/><circle cx="1250.4" cy="654.7" r="8.3"/><circle cx="1252.2" cy="655.5" r="8.3"/><circle cx="1255.9" cy="656.5" r="8.3"/><circle cx="1257.2" cy="656.3" r="8.3"/><circle cx="1253.9" cy="623.6" r="8.3"/><circle cx="1254.4" cy="623" r="8.3"/><circle cx="1257.3" cy="622" r="8.3"/><circle cx="1258.7" cy="624.8" r="8.3"/><circle cx="1261.6" cy="620.4" r="8.3"/><circle cx="1261.4" cy="623.2" r="8.3"/><circle cx="1264.4" cy="622.2" r="8.3"/><circle cx="1264" cy="620.8" r="8.3"/><circle cx="1268" cy="621.5" r="8.3"/><circle cx="1269.6" cy="620.8" r="8.3"/><circle cx="1270" cy="619.9" r="8.3"/><circle cx="1273.2" cy="619.9" r="8.3"/><circle cx="1273.6" cy="620.8" r="8.3"/><circle cx="1275.9" cy="619.7" r="8.3"/><circle cx="1275.8" cy="617.6" r="8.3"/><circle cx="1280.5" cy="619.8" r="8.3"/><circle cx="1280.9" cy="619.6" r="8.3"/><circle cx="1282.3" cy="618.2" r="8.3"/><circle cx="1282.7" cy="618.8" r="8.3"/><circle cx="1286.5" cy="616.5" r="8.3"/><circle cx="1286.5" cy="617.9" r="8.3"/><circle cx="1287.9" cy="621.6" r="8.3"/><circle cx="1289.7" cy="615.9" r="8.3"/><circle cx="1292.1" cy="618.4" r="8.3"/><circle cx="1294.1" cy="616.6" r="8.3"/><circle cx="1297.6" cy="615.4" r="8.3"/><circle cx="1296.8" cy="614.9" r="8.3"/><circle cx="1300.3" cy="616.5" r="8.3"/><circle cx="1301.3" cy="616.8" r="8.3"/><circle cx="1301.6" cy="613.3" r="8.3"/>
</g>
<polyline points="1051.3,823.6 1053.9,822.3 1054.6,820.3 1059.6,820.9 1060.3,820.4 1059.2,819.5 1062.7,818.9 1068,817.2 1065.6,815.2 1067.6,812.9 1072.1,811.1 1075.2,812.6 1073.7,806.4 1077.3,809.7 1078.8,809.6 1078.4,805.9 1083.2,802.3 1084.7,807.6 1087.2,805.1 1089.3,806.2 1088.6,802.2 1093.8,799.1 1092.3,803.2 1097.8,801.1 1098.4,801.5 1099,799.9 1102.1,799.9 1103.9,798.6 1105.9,798.2 1106.6,790.8 1108.6,790.8 1110.6,792.7 1114.7,790.9 1115.2,789.6 1118.4,785.2 1118.7,789.8 1121.4,786.1 1122,783 1122.8,785.9 1125.4,780.3 1128.7,784 1132.9,782.6 1133.6,780 1133.6,778.2 1134,777.6 1138.7,775.5 1139.3,776.9 1143.4,773.9 1144.8,776.6 1144.5,774.6 1143.3,745.1 1146.8,743.4 1149.7,742.8 1152.8,742.4 1154.9,739.6 1156.6,738.9 1158.3,741.7 1158.5,739.6 1160.8,740 1163,738.8 1166.7,736.3 1170.5,736.6 1169.7,733.7 1170.7,735.8 1175.5,732.6 1178,729.6 1181,732.5 1181.9,729.6 1184.6,729.3 1184.1,730.4 1188.7,729.8 1189.6,730.2 1191.4,727.2 1191.7,727.7 1195.1,726.4 1199.8,725.4 1200.1,725 1200,723.7 1204.1,723.4 1207,720.1 1209.9,720.3 1210.6,720.7 1212.6,719.1 1214.6,722.9 1217.5,718.3 1219.6,717.6 1222.7,717.9 1222.8,715.3 1224.6,713.7 1226.8,712.4 1230.3,714 1232,714.8 1234.7,714 1235.5,714.8 1239.1,713.7 1240.6,712.7 1242.2,710.6 1246.3,709.2 1248.3,706.8 1248.3,710.9 1251,710.1 1254.2,706.7 1257.5,705.3 1258.7,708.2 1259.6,703.5 1262.4,707.8 1265.9,706.6 1266.4,706.8 1270.1,705.4 1271.8,703.9 1274.4,705.6 1275.2,703.6 1279,704.5 1282.3,699.2 1282.4,700.5 1285.9,703.3 1288.2,704.4 1290.7,698.4 1291.3,699 1293.1,695.8 1295.3,700 1298.4,697 1300.9,695.7 1303.1,697.2 1304.1,693.6 1302.2,663 1303.3,661.4 1306.3,664 1307.2,661.6 1308.7,663.3 1314.4,661.1 1313,662.3 1318.2,659.8 1317.7,660.9 1323.6,661.6 1324.1,657.4 1325.3,659.4 1329.3,658.3 1329.8,659.5 1334.7,654.7 1336.8,655.2 1336.5,657.7 1340,656.4 1342,656 1346,656.1 1347.2,652.4 1349.1,652.2 1352.1,651.3 1352.4,652.4 1355.3,652.3 1357.8,651.3 1361.8,650.1 1364.5,652.9 1367.2,652.1 1369.5,648.8 1369,648.4 1373.1,651.5 1375,650.4 1378.7,647.8 1380.5,649.8" fill="none" stroke="#4a4a4a" stroke-width="1.1"/>
<g fill="#a2142f" stroke="#1a1a1a" stroke-width="1.15" stroke-opacity="0.9">
<circle cx="1052.3" cy="820.2" r="8.3"/><circle cx="1052.3" cy="827.6" r="8.3"/><circle cx="1054.1" cy="819.5" r="8.3"/><circle cx="1051.6" cy="818.7" r="8.3"/><circle cx="1054.8" cy="822.9" r="8.3"/><circle cx="1054.2" cy="824.5" r="8.3"/><circle cx="1055.2" cy="822.8" r="8.3"/><circle cx="1055.9" cy="823.1" r="8.3"/><circle cx="1052.9" cy="820.9" r="8.3"/><circle cx="1052.3" cy="820.5" r="8.3"/><circle cx="1051.3" cy="823.6" r="8.3"/><circle cx="1053.9" cy="822.3" r="8.3"/><circle cx="1054.6" cy="820.3" r="8.3"/><circle cx="1059.6" cy="820.9" r="8.3"/><circle cx="1060.3" cy="820.4" r="8.3"/><circle cx="1059.2" cy="819.5" r="8.3"/><circle cx="1062.7" cy="818.9" r="8.3"/><circle cx="1068" cy="817.2" r="8.3"/><circle cx="1065.6" cy="815.2" r="8.3"/><circle cx="1067.6" cy="812.9" r="8.3"/><circle cx="1072.1" cy="811.1" r="8.3"/><circle cx="1075.2" cy="812.6" r="8.3"/><circle cx="1073.7" cy="806.4" r="8.3"/><circle cx="1077.3" cy="809.7" r="8.3"/><circle cx="1078.8" cy="809.6" r="8.3"/><circle cx="1078.4" cy="805.9" r="8.3"/><circle cx="1083.2" cy="802.3" r="8.3"/><circle cx="1084.7" cy="807.6" r="8.3"/><circle cx="1087.2" cy="805.1" r="8.3"/><circle cx="1089.3" cy="806.2" r="8.3"/><circle cx="1088.6" cy="802.2" r="8.3"/><circle cx="1093.8" cy="799.1" r="8.3"/><circle cx="1092.3" cy="803.2" r="8.3"/><circle cx="1097.8" cy="801.1" r="8.3"/><circle cx="1098.4" cy="801.5" r="8.3"/><circle cx="1099" cy="799.9" r="8.3"/><circle cx="1102.1" cy="799.9" r="8.3"/><circle cx="1103.9" cy="798.6" r="8.3"/><circle cx="1105.9" cy="798.2" r="8.3"/><circle cx="1106.6" cy="790.8" r="8.3"/><circle cx="1108.6" cy="790.8" r="8.3"/><circle cx="1110.6" cy="792.7" r="8.3"/><circle cx="1114.7" cy="790.9" r="8.3"/><circle cx="1115.2" cy="789.6" r="8.3"/><circle cx="1118.4" cy="785.2" r="8.3"/><circle cx="1118.7" cy="789.8" r="8.3"/><circle cx="1121.4" cy="786.1" r="8.3"/><circle cx="1122" cy="783" r="8.3"/><circle cx="1122.8" cy="785.9" r="8.3"/><circle cx="1125.4" cy="780.3" r="8.3"/><circle cx="1128.7" cy="784" r="8.3"/><circle cx="1132.9" cy="782.6" r="8.3"/><circle cx="1133.6" cy="780" r="8.3"/><circle cx="1133.6" cy="778.2" r="8.3"/><circle cx="1134" cy="777.6" r="8.3"/><circle cx="1138.7" cy="775.5" r="8.3"/><circle cx="1139.3" cy="776.9" r="8.3"/><circle cx="1143.4" cy="773.9" r="8.3"/><circle cx="1144.8" cy="776.6" r="8.3"/><circle cx="1144.5" cy="774.6" r="8.3"/><circle cx="1143.3" cy="745.1" r="8.3"/><circle cx="1146.8" cy="743.4" r="8.3"/><circle cx="1149.7" cy="742.8" r="8.3"/><circle cx="1152.8" cy="742.4" r="8.3"/><circle cx="1154.9" cy="739.6" r="8.3"/><circle cx="1156.6" cy="738.9" r="8.3"/><circle cx="1158.3" cy="741.7" r="8.3"/><circle cx="1158.5" cy="739.6" r="8.3"/><circle cx="1160.8" cy="740" r="8.3"/><circle cx="1163" cy="738.8" r="8.3"/><circle cx="1166.7" cy="736.3" r="8.3"/><circle cx="1170.5" cy="736.6" r="8.3"/><circle cx="1169.7" cy="733.7" r="8.3"/><circle cx="1170.7" cy="735.8" r="8.3"/><circle cx="1175.5" cy="732.6" r="8.3"/><circle cx="1178" cy="729.6" r="8.3"/><circle cx="1181" cy="732.5" r="8.3"/><circle cx="1181.9" cy="729.6" r="8.3"/><circle cx="1184.6" cy="729.3" r="8.3"/><circle cx="1184.1" cy="730.4" r="8.3"/><circle cx="1188.7" cy="729.8" r="8.3"/><circle cx="1189.6" cy="730.2" r="8.3"/><circle cx="1191.4" cy="727.2" r="8.3"/><circle cx="1191.7" cy="727.7" r="8.3"/><circle cx="1195.1" cy="726.4" r="8.3"/><circle cx="1199.8" cy="725.4" r="8.3"/><circle cx="1200.1" cy="725" r="8.3"/><circle cx="1200" cy="723.7" r="8.3"/><circle cx="1204.1" cy="723.4" r="8.3"/><circle cx="1207" cy="720.1" r="8.3"/><circle cx="1209.9" cy="720.3" r="8.3"/><circle cx="1210.6" cy="720.7" r="8.3"/><circle cx="1212.6" cy="719.1" r="8.3"/><circle cx="1214.6" cy="722.9" r="8.3"/><circle cx="1217.5" cy="718.3" r="8.3"/><circle cx="1219.6" cy="717.6" r="8.3"/><circle cx="1222.7" cy="717.9" r="8.3"/><circle cx="1222.8" cy="715.3" r="8.3"/><circle cx="1224.6" cy="713.7" r="8.3"/><circle cx="1226.8" cy="712.4" r="8.3"/><circle cx="1230.3" cy="714" r="8.3"/><circle cx="1232" cy="714.8" r="8.3"/><circle cx="1234.7" cy="714" r="8.3"/><circle cx="1235.5" cy="714.8" r="8.3"/><circle cx="1239.1" cy="713.7" r="8.3"/><circle cx="1240.6" cy="712.7" r="8.3"/><circle cx="1242.2" cy="710.6" r="8.3"/><circle cx="1246.3" cy="709.2" r="8.3"/><circle cx="1248.3" cy="706.8" r="8.3"/><circle cx="1248.3" cy="710.9" r="8.3"/><circle cx="1251" cy="710.1" r="8.3"/><circle cx="1254.2" cy="706.7" r="8.3"/><circle cx="1257.5" cy="705.3" r="8.3"/><circle cx="1258.7" cy="708.2" r="8.3"/><circle cx="1259.6" cy="703.5" r="8.3"/><circle cx="1262.4" cy="707.8" r="8.3"/><circle cx="1265.9" cy="706.6" r="8.3"/><circle cx="1266.4" cy="706.8" r="8.3"/><circle cx="1270.1" cy="705.4" r="8.3"/><circle cx="1271.8" cy="703.9" r="8.3"/><circle cx="1274.4" cy="705.6" r="8.3"/><circle cx="1275.2" cy="703.6" r="8.3"/><circle cx="1279" cy="704.5" r="8.3"/><circle cx="1282.3" cy="699.2" r="8.3"/><circle cx="1282.4" cy="700.5" r="8.3"/><circle cx="1285.9" cy="703.3" r="8.3"/><circle cx="1288.2" cy="704.4" r="8.3"/><circle cx="1290.7" cy="698.4" r="8.3"/><circle cx="1291.3" cy="699" r="8.3"/><circle cx="1293.1" cy="695.8" r="8.3"/><circle cx="1295.3" cy="700" r="8.3"/><circle cx="1298.4" cy="697" r="8.3"/><circle cx="1300.9" cy="695.7" r="8.3"/><circle cx="1303.1" cy="697.2" r="8.3"/><circle cx="1304.1" cy="693.6" r="8.3"/><circle cx="1302.2" cy="663" r="8.3"/><circle cx="1303.3" cy="661.4" r="8.3"/><circle cx="1306.3" cy="664" r="8.3"/><circle cx="1307.2" cy="661.6" r="8.3"/><circle cx="1308.7" cy="663.3" r="8.3"/><circle cx="1314.4" cy="661.1" r="8.3"/><circle cx="1313" cy="662.3" r="8.3"/><circle cx="1318.2" cy="659.8" r="8.3"/><circle cx="1317.7" cy="660.9" r="8.3"/><circle cx="1323.6" cy="661.6" r="8.3"/><circle cx="1324.1" cy="657.4" r="8.3"/><circle cx="1325.3" cy="659.4" r="8.3"/><circle cx="1329.3" cy="658.3" r="8.3"/><circle cx="1329.8" cy="659.5" r="8.3"/><circle cx="1334.7" cy="654.7" r="8.3"/><circle cx="1336.8" cy="655.2" r="8.3"/><circle cx="1336.5" cy="657.7" r="8.3"/><circle cx="1340" cy="656.4" r="8.3"/><circle cx="1342" cy="656" r="8.3"/><circle cx="1346" cy="656.1" r="8.3"/><circle cx="1347.2" cy="652.4" r="8.3"/><circle cx="1349.1" cy="652.2" r="8.3"/><circle cx="1352.1" cy="651.3" r="8.3"/><circle cx="1352.4" cy="652.4" r="8.3"/><circle cx="1355.3" cy="652.3" r="8.3"/><circle cx="1357.8" cy="651.3" r="8.3"/><circle cx="1361.8" cy="650.1" r="8.3"/><circle cx="1364.5" cy="652.9" r="8.3"/><circle cx="1367.2" cy="652.1" r="8.3"/><circle cx="1369.5" cy="648.8" r="8.3"/><circle cx="1369" cy="648.4" r="8.3"/><circle cx="1373.1" cy="651.5" r="8.3"/><circle cx="1375" cy="650.4" r="8.3"/><circle cx="1378.7" cy="647.8" r="8.3"/><circle cx="1380.5" cy="649.8" r="8.3"/>
</g>
<text x="884" y="578" font-size="27.2">ubH2B-Nuc + FACT</text>
<text x="871.5" y="610.5" font-size="27.5" text-anchor="end">150</text>
<text x="871.5" y="693.5" font-size="27.5" text-anchor="end">100</text>
<text x="871.5" y="777" font-size="27.5" text-anchor="end">50</text>
<text x="813.6" y="697.9" font-size="31.3" text-anchor="middle" transform="rotate(-90 813.6 697.9)">Ext. (nm)</text>
<text x="862" y="819" font-size="28.5" text-anchor="middle">3</text>
<text x="941" y="847.5" font-size="28.5" text-anchor="middle">2</text>
<text x="1019.3" y="877.5" font-size="28.5" text-anchor="middle">1</text>
<text x="854" y="849" font-size="31.3" transform="rotate(25 854 849)">Repeats</text>
<text x="1067.8" y="883.5" font-size="27.5" text-anchor="middle">0</text>
<text x="1177.3" y="878.4" font-size="27.5" text-anchor="middle">10</text>
<text x="1277.2" y="872.5" font-size="27.5" text-anchor="middle">20</text>
<text x="1377" y="866.8" font-size="27.5" text-anchor="middle">30</text>
<text x="1477" y="861" font-size="27.5" text-anchor="middle">40</text>
<text x="1223.5" y="906" font-size="31.3">Force (pN)</text>
<text x="1239" y="597" font-size="25">3</text>
<text x="1320.5" y="620" font-size="25">2</text>
<text x="1391" y="653" font-size="25">1</text>
<text x="1327.7" y="720" font-size="27.5">inner wrap</text>
<text x="1170.9" y="811" font-size="27.5">outer wrap</text>
<polygon points="1309.8,714.5 1322.4,731.1 1313.7,731.1 1313.7,740.7 1305.9,740.7 1305.9,731.1 1297.2,731.1" fill="#fff" stroke="#3a3a3a" stroke-width="2.4" stroke-linejoin="round"/>
<line x1="1305.5" y1="745.9" x2="1314.1" y2="745.9" stroke="#3a3a3a" stroke-width="2.4" stroke-linecap="round"/>
<line x1="1305.5" y1="751.8" x2="1314.1" y2="751.8" stroke="#3a3a3a" stroke-width="2.4" stroke-linecap="round"/>
<line x1="1305.5" y1="757.4" x2="1314.1" y2="757.4" stroke="#3a3a3a" stroke-width="2.4" stroke-linecap="round"/>
<polygon points="1155,786.5 1167.6,803.1 1158.9,803.1 1158.9,812.7 1151.1,812.7 1151.1,803.1 1142.4,803.1" fill="#fff" stroke="#3a3a3a" stroke-width="2.4" stroke-linejoin="round"/>
<line x1="1150.7" y1="817.9" x2="1159.3" y2="817.9" stroke="#3a3a3a" stroke-width="2.4" stroke-linecap="round"/>
<line x1="1150.7" y1="823.8" x2="1159.3" y2="823.8" stroke="#3a3a3a" stroke-width="2.4" stroke-linecap="round"/>
<line x1="1150.7" y1="829.4" x2="1159.3" y2="829.4" stroke="#3a3a3a" stroke-width="2.4" stroke-linecap="round"/>
<line x1="982.5" y1="1361.7" x2="982.5" y2="1165.5" stroke="#cdcdcd" stroke-width="1.1"/>
<line x1="1084" y1="1355.9" x2="1084" y2="1159.7" stroke="#cdcdcd" stroke-width="1.1"/>
<line x1="1185.5" y1="1350.1" x2="1185.5" y2="1153.9" stroke="#cdcdcd" stroke-width="1.1"/>
<line x1="1287" y1="1344.3" x2="1287" y2="1148.1" stroke="#cdcdcd" stroke-width="1.1"/>
<line x1="881" y1="1367.5" x2="1287" y2="1344.3" stroke="#cdcdcd" stroke-width="1.1"/>
<line x1="881" y1="1367.5" x2="1287" y2="1344.3" stroke="#cdcdcd" stroke-width="1.1"/>
<line x1="881" y1="1269.4" x2="1287" y2="1246.2" stroke="#cdcdcd" stroke-width="1.1"/>
<line x1="881" y1="1171.3" x2="1287" y2="1148.1" stroke="#cdcdcd" stroke-width="1.1"/>
<line x1="982.5" y1="1361.7" x2="1142.9" y2="1423.3" stroke="#cdcdcd" stroke-width="1.1"/>
<line x1="1084" y1="1355.9" x2="1244.4" y2="1417.5" stroke="#cdcdcd" stroke-width="1.1"/>
<line x1="1185.5" y1="1350.1" x2="1345.9" y2="1411.7" stroke="#cdcdcd" stroke-width="1.1"/>
<line x1="961.2" y1="1398.3" x2="1367.2" y2="1375.1" stroke="#cdcdcd" stroke-width="1.1"/>
<line x1="1287" y1="1344.3" x2="1447.4" y2="1405.9" stroke="#cdcdcd" stroke-width="1.1"/>
<line x1="1287" y1="1344.3" x2="1447.4" y2="1405.9" stroke="#cdcdcd" stroke-width="1.1"/>
<line x1="1287" y1="1246.2" x2="1447.4" y2="1307.8" stroke="#cdcdcd" stroke-width="1.1"/>
<line x1="1287" y1="1148.1" x2="1447.4" y2="1209.7" stroke="#cdcdcd" stroke-width="1.1"/>
<line x1="881" y1="1367.5" x2="881" y2="1171.3" stroke="#000" stroke-width="2.2"/>
<line x1="881" y1="1367.5" x2="869.8" y2="1363.2" stroke="#000" stroke-width="2.2"/>
<line x1="881" y1="1269.4" x2="869.8" y2="1265.1" stroke="#000" stroke-width="2.2"/>
<line x1="881" y1="1171.3" x2="869.8" y2="1167" stroke="#000" stroke-width="2.2"/>
<line x1="881" y1="1367.5" x2="1051" y2="1432.8" stroke="#000" stroke-width="2.2"/>
<line x1="881" y1="1367.5" x2="870" y2="1368.1" stroke="#000" stroke-width="2.2"/>
<line x1="961.2" y1="1398.3" x2="950.2" y2="1398.9" stroke="#000" stroke-width="2.2"/>
<line x1="1041.4" y1="1429.1" x2="1030.4" y2="1429.7" stroke="#000" stroke-width="2.2"/>
<line x1="1041.4" y1="1429.1" x2="1447.4" y2="1405.9" stroke="#000" stroke-width="2.2"/>
<line x1="1041.4" y1="1429.1" x2="1052.6" y2="1433.4" stroke="#000" stroke-width="2.2"/>
<line x1="1142.9" y1="1423.3" x2="1154.1" y2="1427.6" stroke="#000" stroke-width="2.2"/>
<line x1="1244.4" y1="1417.5" x2="1255.6" y2="1421.8" stroke="#000" stroke-width="2.2"/>
<line x1="1345.9" y1="1411.7" x2="1357.1" y2="1416" stroke="#000" stroke-width="2.2"/>
<line x1="1447.4" y1="1405.9" x2="1458.6" y2="1410.2" stroke="#000" stroke-width="2.2"/>
<polyline points="884.7,1366.6 885.6,1363.8 890.3,1364.9 890.4,1364.7 890.6,1362.4 893.9,1360.2 895.7,1357.1 898.3,1357.6 898.7,1352.2 899.7,1354 900.9,1350.1 903,1354.5 905.2,1351.9 906.2,1346.8 908.8,1346.4 912,1345.9 911.9,1349.1 915,1345.8 913.8,1340.8 915.1,1344.7 915.4,1344.6 917.4,1341.3 921.9,1340.4 923.6,1338.1 922,1298 925.7,1249.6 927.2,1253.2 928.2,1250.1 930.7,1250.3 932.3,1246 936.6,1247.4 937.6,1244.8 940.7,1243.3 942.8,1241.6 943,1243.8 942.9,1242.1 945.3,1241.9 947.2,1241.6 951.9,1240.5 952.3,1238.3 953.8,1239.4 959.8,1234.7 957.4,1236.8 960.5,1236 964.5,1234 964.5,1233.5 969.5,1233.1 971.1,1232.1 972.3,1233.7 975,1230.4 978.3,1231.2 979.8,1230.6 979.8,1226.3 980.3,1229.7 984.6,1227.8 986.9,1231.4 988.7,1223.7 989,1225.8 994.2,1225.6 995.1,1221.8 996.6,1220.7 1000.5,1222.2 1001.4,1219.8 1003.7,1222.9 1006.4,1220.1 1006.2,1220.2 1010.9,1219.5 1011.8,1221.1 1013.2,1217.3 1013,1219.7 1019.1,1215.8 1020.8,1216.2 1020.5,1213.9 1023.6,1214.3 1026.7,1215.6 1027.5,1209.6 1031.4,1210.3 1032.2,1211.2 1032.9,1210.9 1036.5,1211.4 1038.9,1211.2 1040.2,1206 1042.1,1207.3 1043.3,1207.9 1047.7,1204.6 1049.2,1204.2 1051.5,1204 1052.9,1200.4 1056.6,1204.4 1056.8,1198.8 1058.3,1200.6 1060.2,1203 1063,1201.6 1067,1201.4 1066.1,1201.4 1071.5,1198.9 1071,1201.9 1075.2,1197.2 1074.6,1197.3 1076.1,1195 1079.1,1193.5 1079.8,1191.8 1084.3,1190.9 1087.3,1192.1 1087.5,1191.5 1087.5,1186 1090.8,1190.1 1094.1,1185.2 1092.9,1185.7 1097.1,1189.3 1100.4,1186.5 1101.7,1187.4 1102.4,1184.3 1106.6,1181.8 1106.1,1181.9" fill="none" stroke="#4a4a4a" stroke-width="1.1"/>
<g fill="#0072bd" stroke="#1a1a1a" stroke-width="1.15" stroke-opacity="0.9">
<circle cx="886.6" cy="1368.6" r="8.3"/><circle cx="885.4" cy="1369.4" r="8.3"/><circle cx="887.7" cy="1365.9" r="8.3"/><circle cx="887.5" cy="1367.1" r="8.3"/><circle cx="885.2" cy="1365.6" r="8.3"/><circle cx="885.5" cy="1366.9" r="8.3"/><circle cx="887.1" cy="1367.1" r="8.3"/><circle cx="886.1" cy="1365.4" r="8.3"/><circle cx="888.1" cy="1369.6" r="8.3"/><circle cx="887" cy="1365.4" r="8.3"/><circle cx="884.7" cy="1366.6" r="8.3"/><circle cx="885.6" cy="1363.8" r="8.3"/><circle cx="890.3" cy="1364.9" r="8.3"/><circle cx="890.4" cy="1364.7" r="8.3"/><circle cx="890.6" cy="1362.4" r="8.3"/><circle cx="893.9" cy="1360.2" r="8.3"/><circle cx="895.7" cy="1357.1" r="8.3"/><circle cx="898.3" cy="1357.6" r="8.3"/><circle cx="898.7" cy="1352.2" r="8.3"/><circle cx="899.7" cy="1354" r="8.3"/><circle cx="900.9" cy="1350.1" r="8.3"/><circle cx="903" cy="1354.5" r="8.3"/><circle cx="905.2" cy="1351.9" r="8.3"/><circle cx="906.2" cy="1346.8" r="8.3"/><circle cx="908.8" cy="1346.4" r="8.3"/><circle cx="912" cy="1345.9" r="8.3"/><circle cx="911.9" cy="1349.1" r="8.3"/><circle cx="915" cy="1345.8" r="8.3"/><circle cx="913.8" cy="1340.8" r="8.3"/><circle cx="915.1" cy="1344.7" r="8.3"/><circle cx="915.4" cy="1344.6" r="8.3"/><circle cx="917.4" cy="1341.3" r="8.3"/><circle cx="921.9" cy="1340.4" r="8.3"/><circle cx="923.6" cy="1338.1" r="8.3"/><circle cx="922" cy="1298" r="8.3"/><circle cx="925.7" cy="1249.6" r="8.3"/><circle cx="927.2" cy="1253.2" r="8.3"/><circle cx="928.2" cy="1250.1" r="8.3"/><circle cx="930.7" cy="1250.3" r="8.3"/><circle cx="932.3" cy="1246" r="8.3"/><circle cx="936.6" cy="1247.4" r="8.3"/><circle cx="937.6" cy="1244.8" r="8.3"/><circle cx="940.7" cy="1243.3" r="8.3"/><circle cx="942.8" cy="1241.6" r="8.3"/><circle cx="943" cy="1243.8" r="8.3"/><circle cx="942.9" cy="1242.1" r="8.3"/><circle cx="945.3" cy="1241.9" r="8.3"/><circle cx="947.2" cy="1241.6" r="8.3"/><circle cx="951.9" cy="1240.5" r="8.3"/><circle cx="952.3" cy="1238.3" r="8.3"/><circle cx="953.8" cy="1239.4" r="8.3"/><circle cx="959.8" cy="1234.7" r="8.3"/><circle cx="957.4" cy="1236.8" r="8.3"/><circle cx="960.5" cy="1236" r="8.3"/><circle cx="964.5" cy="1234" r="8.3"/><circle cx="964.5" cy="1233.5" r="8.3"/><circle cx="969.5" cy="1233.1" r="8.3"/><circle cx="971.1" cy="1232.1" r="8.3"/><circle cx="972.3" cy="1233.7" r="8.3"/><circle cx="975" cy="1230.4" r="8.3"/><circle cx="978.3" cy="1231.2" r="8.3"/><circle cx="979.8" cy="1230.6" r="8.3"/><circle cx="979.8" cy="1226.3" r="8.3"/><circle cx="980.3" cy="1229.7" r="8.3"/><circle cx="984.6" cy="1227.8" r="8.3"/><circle cx="986.9" cy="1231.4" r="8.3"/><circle cx="988.7" cy="1223.7" r="8.3"/><circle cx="989" cy="1225.8" r="8.3"/><circle cx="994.2" cy="1225.6" r="8.3"/><circle cx="995.1" cy="1221.8" r="8.3"/><circle cx="996.6" cy="1220.7" r="8.3"/><circle cx="1000.5" cy="1222.2" r="8.3"/><circle cx="1001.4" cy="1219.8" r="8.3"/><circle cx="1003.7" cy="1222.9" r="8.3"/><circle cx="1006.4" cy="1220.1" r="8.3"/><circle cx="1006.2" cy="1220.2" r="8.3"/><circle cx="1010.9" cy="1219.5" r="8.3"/><circle cx="1011.8" cy="1221.1" r="8.3"/><circle cx="1013.2" cy="1217.3" r="8.3"/><circle cx="1013" cy="1219.7" r="8.3"/><circle cx="1019.1" cy="1215.8" r="8.3"/><circle cx="1020.8" cy="1216.2" r="8.3"/><circle cx="1020.5" cy="1213.9" r="8.3"/><circle cx="1023.6" cy="1214.3" r="8.3"/><circle cx="1026.7" cy="1215.6" r="8.3"/><circle cx="1027.5" cy="1209.6" r="8.3"/><circle cx="1031.4" cy="1210.3" r="8.3"/><circle cx="1032.2" cy="1211.2" r="8.3"/><circle cx="1032.9" cy="1210.9" r="8.3"/><circle cx="1036.5" cy="1211.4" r="8.3"/><circle cx="1038.9" cy="1211.2" r="8.3"/><circle cx="1040.2" cy="1206" r="8.3"/><circle cx="1042.1" cy="1207.3" r="8.3"/><circle cx="1043.3" cy="1207.9" r="8.3"/><circle cx="1047.7" cy="1204.6" r="8.3"/><circle cx="1049.2" cy="1204.2" r="8.3"/><circle cx="1051.5" cy="1204" r="8.3"/><circle cx="1052.9" cy="1200.4" r="8.3"/><circle cx="1056.6" cy="1204.4" r="8.3"/><circle cx="1056.8" cy="1198.8" r="8.3"/><circle cx="1058.3" cy="1200.6" r="8.3"/><circle cx="1060.2" cy="1203" r="8.3"/><circle cx="1063" cy="1201.6" r="8.3"/><circle cx="1067" cy="1201.4" r="8.3"/><circle cx="1066.1" cy="1201.4" r="8.3"/><circle cx="1071.5" cy="1198.9" r="8.3"/><circle cx="1071" cy="1201.9" r="8.3"/><circle cx="1075.2" cy="1197.2" r="8.3"/><circle cx="1074.6" cy="1197.3" r="8.3"/><circle cx="1076.1" cy="1195" r="8.3"/><circle cx="1079.1" cy="1193.5" r="8.3"/><circle cx="1079.8" cy="1191.8" r="8.3"/><circle cx="1084.3" cy="1190.9" r="8.3"/><circle cx="1087.3" cy="1192.1" r="8.3"/><circle cx="1087.5" cy="1191.5" r="8.3"/><circle cx="1087.5" cy="1186" r="8.3"/><circle cx="1090.8" cy="1190.1" r="8.3"/><circle cx="1094.1" cy="1185.2" r="8.3"/><circle cx="1092.9" cy="1185.7" r="8.3"/><circle cx="1097.1" cy="1189.3" r="8.3"/><circle cx="1100.4" cy="1186.5" r="8.3"/><circle cx="1101.7" cy="1187.4" r="8.3"/><circle cx="1102.4" cy="1184.3" r="8.3"/><circle cx="1106.6" cy="1181.8" r="8.3"/><circle cx="1106.1" cy="1181.9" r="8.3"/>
</g>
<polyline points="968.1,1387.8 969.6,1391.2 973.7,1387.6 974,1392.1 974.1,1389 977,1387.6 976.5,1389.5 981.2,1386.6 980.3,1383.4 982.7,1385.3 986.7,1384.6 988.4,1380.5 987.6,1381.9 990.2,1378.7 991.5,1379.5 992.6,1376.9 992.6,1375.3 997.2,1375.8 999.6,1372.2 999.4,1368.1 1001.1,1370.3 1004.5,1367.5 1006.4,1368.4 1006.6,1364.5 1008,1328 1010.6,1280.6 1011.9,1281.4 1010.8,1284.2 1015.4,1283.8 1017.3,1279.9 1016.9,1279.4 1022,1278.4 1021.3,1280.1 1024,1280.8 1025.7,1279.5 1030.4,1276.5 1030.9,1277.8 1032.9,1276.5 1032.6,1276 1035.6,1275.2 1036.3,1275 1040.6,1273.4 1041.4,1272 1041.9,1273.5 1047.5,1270.7 1046.2,1273.3 1047.9,1265.9 1051.9,1270 1052.1,1271 1053.7,1268.2 1057.5,1264.5 1059,1265.6 1059.1,1265.4 1060.8,1265.2 1064.4,1264.7 1065.4,1263.2 1068.5,1260.5 1068.7,1259.1 1071.7,1260.7 1072.1,1258.9 1075,1258.9 1077.4,1257.3 1076.9,1257.7 1081.2,1258 1083.3,1252.3 1084.2,1253.3 1085.4,1252.1 1087.9,1251.7 1088.2,1251.4 1090.1,1249.4 1092.4,1251.9 1093.9,1246.8 1094.5,1247.3 1099.1,1245.8 1102.2,1245.8 1100.3,1245.6 1101.8,1245.3 1104.1,1240.4 1107.2,1241 1109,1240.8 1109.4,1242.6 1112,1237.5 1114.1,1239.2 1115.2,1237.2 1120.1,1238.7 1118.9,1239.6 1122.4,1236.5 1122.1,1232.2 1127.4,1237 1127.2,1234.3 1130,1233.6 1132.6,1230.1 1133.1,1229 1135.2,1231.3 1136.2,1233.7 1137.1,1227.4 1138.2,1226.3 1142.6,1226.4 1142.5,1227.4 1145.5,1228.4 1148.2,1224.1 1148.3,1227.1 1149.5,1222.9 1154,1221.5 1157,1222.5 1155,1220.4 1158.1,1221.9 1162.1,1218.3 1162.7,1218.7 1164.1,1218.6 1167.8,1220.7 1167.3,1217.3 1172.2,1218.2 1171.3,1217.1 1172,1220.2 1175.1,1217.9 1180.3,1212 1180.1,1215.4 1180.7,1217.3 1183.6,1211.9" fill="none" stroke="#4a4a4a" stroke-width="1.1"/>
<g fill="#edb120" stroke="#1a1a1a" stroke-width="1.15" stroke-opacity="0.9">
<circle cx="967.5" cy="1392.9" r="8.3"/><circle cx="968" cy="1393.2" r="8.3"/><circle cx="968.6" cy="1391.1" r="8.3"/><circle cx="968.4" cy="1396.5" r="8.3"/><circle cx="969.5" cy="1393.5" r="8.3"/><circle cx="967.1" cy="1394.6" r="8.3"/><circle cx="968.3" cy="1396.5" r="8.3"/><circle cx="969.8" cy="1392.9" r="8.3"/><circle cx="967.9" cy="1386.7" r="8.3"/><circle cx="967.5" cy="1393.4" r="8.3"/><circle cx="968.1" cy="1387.8" r="8.3"/><circle cx="969.6" cy="1391.2" r="8.3"/><circle cx="973.7" cy="1387.6" r="8.3"/><circle cx="974" cy="1392.1" r="8.3"/><circle cx="974.1" cy="1389" r="8.3"/><circle cx="977" cy="1387.6" r="8.3"/><circle cx="976.5" cy="1389.5" r="8.3"/><circle cx="981.2" cy="1386.6" r="8.3"/><circle cx="980.3" cy="1383.4" r="8.3"/><circle cx="982.7" cy="1385.3" r="8.3"/><circle cx="986.7" cy="1384.6" r="8.3"/><circle cx="988.4" cy="1380.5" r="8.3"/><circle cx="987.6" cy="1381.9" r="8.3"/><circle cx="990.2" cy="1378.7" r="8.3"/><circle cx="991.5" cy="1379.5" r="8.3"/><circle cx="992.6" cy="1376.9" r="8.3"/><circle cx="992.6" cy="1375.3" r="8.3"/><circle cx="997.2" cy="1375.8" r="8.3"/><circle cx="999.6" cy="1372.2" r="8.3"/><circle cx="999.4" cy="1368.1" r="8.3"/><circle cx="1001.1" cy="1370.3" r="8.3"/><circle cx="1004.5" cy="1367.5" r="8.3"/><circle cx="1006.4" cy="1368.4" r="8.3"/><circle cx="1006.6" cy="1364.5" r="8.3"/><circle cx="1008" cy="1328" r="8.3"/><circle cx="1010.6" cy="1280.6" r="8.3"/><circle cx="1011.9" cy="1281.4" r="8.3"/><circle cx="1010.8" cy="1284.2" r="8.3"/><circle cx="1015.4" cy="1283.8" r="8.3"/><circle cx="1017.3" cy="1279.9" r="8.3"/><circle cx="1016.9" cy="1279.4" r="8.3"/><circle cx="1022" cy="1278.4" r="8.3"/><circle cx="1021.3" cy="1280.1" r="8.3"/><circle cx="1024" cy="1280.8" r="8.3"/><circle cx="1025.7" cy="1279.5" r="8.3"/><circle cx="1030.4" cy="1276.5" r="8.3"/><circle cx="1030.9" cy="1277.8" r="8.3"/><circle cx="1032.9" cy="1276.5" r="8.3"/><circle cx="1032.6" cy="1276" r="8.3"/><circle cx="1035.6" cy="1275.2" r="8.3"/><circle cx="1036.3" cy="1275" r="8.3"/><circle cx="1040.6" cy="1273.4" r="8.3"/><circle cx="1041.4" cy="1272" r="8.3"/><circle cx="1041.9" cy="1273.5" r="8.3"/><circle cx="1047.5" cy="1270.7" r="8.3"/><circle cx="1046.2" cy="1273.3" r="8.3"/><circle cx="1047.9" cy="1265.9" r="8.3"/><circle cx="1051.9" cy="1270" r="8.3"/><circle cx="1052.1" cy="1271" r="8.3"/><circle cx="1053.7" cy="1268.2" r="8.3"/><circle cx="1057.5" cy="1264.5" r="8.3"/><circle cx="1059" cy="1265.6" r="8.3"/><circle cx="1059.1" cy="1265.4" r="8.3"/><circle cx="1060.8" cy="1265.2" r="8.3"/><circle cx="1064.4" cy="1264.7" r="8.3"/><circle cx="1065.4" cy="1263.2" r="8.3"/><circle cx="1068.5" cy="1260.5" r="8.3"/><circle cx="1068.7" cy="1259.1" r="8.3"/><circle cx="1071.7" cy="1260.7" r="8.3"/><circle cx="1072.1" cy="1258.9" r="8.3"/><circle cx="1075" cy="1258.9" r="8.3"/><circle cx="1077.4" cy="1257.3" r="8.3"/><circle cx="1076.9" cy="1257.7" r="8.3"/><circle cx="1081.2" cy="1258" r="8.3"/><circle cx="1083.3" cy="1252.3" r="8.3"/><circle cx="1084.2" cy="1253.3" r="8.3"/><circle cx="1085.4" cy="1252.1" r="8.3"/><circle cx="1087.9" cy="1251.7" r="8.3"/><circle cx="1088.2" cy="1251.4" r="8.3"/><circle cx="1090.1" cy="1249.4" r="8.3"/><circle cx="1092.4" cy="1251.9" r="8.3"/><circle cx="1093.9" cy="1246.8" r="8.3"/><circle cx="1094.5" cy="1247.3" r="8.3"/><circle cx="1099.1" cy="1245.8" r="8.3"/><circle cx="1102.2" cy="1245.8" r="8.3"/><circle cx="1100.3" cy="1245.6" r="8.3"/><circle cx="1101.8" cy="1245.3" r="8.3"/><circle cx="1104.1" cy="1240.4" r="8.3"/><circle cx="1107.2" cy="1241" r="8.3"/><circle cx="1109" cy="1240.8" r="8.3"/><circle cx="1109.4" cy="1242.6" r="8.3"/><circle cx="1112" cy="1237.5" r="8.3"/><circle cx="1114.1" cy="1239.2" r="8.3"/><circle cx="1115.2" cy="1237.2" r="8.3"/><circle cx="1120.1" cy="1238.7" r="8.3"/><circle cx="1118.9" cy="1239.6" r="8.3"/><circle cx="1122.4" cy="1236.5" r="8.3"/><circle cx="1122.1" cy="1232.2" r="8.3"/><circle cx="1127.4" cy="1237" r="8.3"/><circle cx="1127.2" cy="1234.3" r="8.3"/><circle cx="1130" cy="1233.6" r="8.3"/><circle cx="1132.6" cy="1230.1" r="8.3"/><circle cx="1133.1" cy="1229" r="8.3"/><circle cx="1135.2" cy="1231.3" r="8.3"/><circle cx="1136.2" cy="1233.7" r="8.3"/><circle cx="1137.1" cy="1227.4" r="8.3"/><circle cx="1138.2" cy="1226.3" r="8.3"/><circle cx="1142.6" cy="1226.4" r="8.3"/><circle cx="1142.5" cy="1227.4" r="8.3"/><circle cx="1145.5" cy="1228.4" r="8.3"/><circle cx="1148.2" cy="1224.1" r="8.3"/><circle cx="1148.3" cy="1227.1" r="8.3"/><circle cx="1149.5" cy="1222.9" r="8.3"/><circle cx="1154" cy="1221.5" r="8.3"/><circle cx="1157" cy="1222.5" r="8.3"/><circle cx="1155" cy="1220.4" r="8.3"/><circle cx="1158.1" cy="1221.9" r="8.3"/><circle cx="1162.1" cy="1218.3" r="8.3"/><circle cx="1162.7" cy="1218.7" r="8.3"/><circle cx="1164.1" cy="1218.6" r="8.3"/><circle cx="1167.8" cy="1220.7" r="8.3"/><circle cx="1167.3" cy="1217.3" r="8.3"/><circle cx="1172.2" cy="1218.2" r="8.3"/><circle cx="1171.3" cy="1217.1" r="8.3"/><circle cx="1172" cy="1220.2" r="8.3"/><circle cx="1175.1" cy="1217.9" r="8.3"/><circle cx="1180.3" cy="1212" r="8.3"/><circle cx="1180.1" cy="1215.4" r="8.3"/><circle cx="1180.7" cy="1217.3" r="8.3"/><circle cx="1183.6" cy="1211.9" r="8.3"/>
</g>
<polyline points="1047.3,1421.7 1046.6,1421.8 1049.9,1420.4 1054.4,1418.6 1055.7,1420 1057.1,1417.6 1058.9,1419.2 1062,1416.7 1062.3,1415.8 1067.6,1413.5 1066.9,1415.2 1068.5,1414.2 1072.9,1409.1 1072.7,1410.8 1074.1,1412.4 1078,1410.2 1079,1410.2 1083.3,1413 1081.5,1403.4 1085.1,1406.2 1087,1403.6 1090.8,1404.6 1090.6,1399.7 1093.1,1401.1 1096.3,1359 1097.1,1314.3 1100.6,1312.9 1103,1312.3 1102.1,1312.9 1103.9,1308.1 1107.5,1312.1 1106.7,1305.9 1108.1,1310.5 1111.5,1306.1 1113.4,1305.4 1114,1307.7 1117.1,1304.2 1116.7,1304.9 1120,1301.5 1120.4,1300.5 1122.5,1299.5 1125.6,1300 1124.7,1296.7 1127.2,1298.5 1130.4,1295.2 1133.2,1296.2 1133.6,1293.3 1137.6,1294.5 1135.7,1292.3 1139.5,1290.6 1141.5,1287.4 1140.9,1291.6 1143.4,1286.5 1145.5,1285 1147.2,1287.8 1150.7,1287.1 1150.3,1287 1150.9,1280.1 1156.8,1282.6 1156.5,1282.4 1159.1,1282.1 1159.3,1280 1162.8,1280.9 1162.7,1278.8 1164.9,1279.8 1168.9,1279 1168.5,1277.8 1169.9,1276.1 1173,1275 1174.7,1274.4 1176.8,1273 1177.9,1275 1179.1,1273.8 1180.7,1269.8 1182.3,1273.6 1184.8,1273.2 1185.8,1270.5 1190.7,1269.7 1189.6,1268 1192.4,1268.8 1197.2,1267.9 1198,1264.7 1200.2,1268.2 1202.5,1265.9 1201.2,1266.3 1204,1264.1 1205.2,1260.6 1206.6,1264.2 1209.1,1264.6 1212.7,1263.3 1215.2,1263.7 1214.9,1264.6 1216.9,1262.5 1220.5,1258.6 1222.1,1258.6 1222.3,1257.6 1225.6,1256.1 1225.2,1260.1 1227,1257.5 1232.1,1255.1 1232.7,1255.6 1231.9,1255.4 1235.6,1250.5 1236,1253.6 1237.9,1254.7 1240.1,1252.6 1242.9,1250.8 1245,1250.3 1247.8,1250.6 1248.5,1250.9 1252,1247.7 1252.1,1249.4 1253.7,1246.5 1257.4,1245.2 1258.9,1248.6 1258.5,1246.3 1261.8,1247.5 1262.7,1244.3 1265.1,1241.3 1265.8,1242.9" fill="none" stroke="#4a4a4a" stroke-width="1.1"/>
<g fill="#a2142f" stroke="#1a1a1a" stroke-width="1.15" stroke-opacity="0.9">
<circle cx="1045.8" cy="1424.1" r="8.3"/><circle cx="1045" cy="1422.1" r="8.3"/><circle cx="1049.8" cy="1424.8" r="8.3"/><circle cx="1045.6" cy="1424.2" r="8.3"/><circle cx="1046.8" cy="1422.1" r="8.3"/><circle cx="1049.1" cy="1423.7" r="8.3"/><circle cx="1045.2" cy="1420.1" r="8.3"/><circle cx="1047.4" cy="1418.6" r="8.3"/><circle cx="1046" cy="1426.5" r="8.3"/><circle cx="1046.8" cy="1423" r="8.3"/><circle cx="1047.3" cy="1421.7" r="8.3"/><circle cx="1046.6" cy="1421.8" r="8.3"/><circle cx="1049.9" cy="1420.4" r="8.3"/><circle cx="1054.4" cy="1418.6" r="8.3"/><circle cx="1055.7" cy="1420" r="8.3"/><circle cx="1057.1" cy="1417.6" r="8.3"/><circle cx="1058.9" cy="1419.2" r="8.3"/><circle cx="1062" cy="1416.7" r="8.3"/><circle cx="1062.3" cy="1415.8" r="8.3"/><circle cx="1067.6" cy="1413.5" r="8.3"/><circle cx="1066.9" cy="1415.2" r="8.3"/><circle cx="1068.5" cy="1414.2" r="8.3"/><circle cx="1072.9" cy="1409.1" r="8.3"/><circle cx="1072.7" cy="1410.8" r="8.3"/><circle cx="1074.1" cy="1412.4" r="8.3"/><circle cx="1078" cy="1410.2" r="8.3"/><circle cx="1079" cy="1410.2" r="8.3"/><circle cx="1083.3" cy="1413" r="8.3"/><circle cx="1081.5" cy="1403.4" r="8.3"/><circle cx="1085.1" cy="1406.2" r="8.3"/><circle cx="1087" cy="1403.6" r="8.3"/><circle cx="1090.8" cy="1404.6" r="8.3"/><circle cx="1090.6" cy="1399.7" r="8.3"/><circle cx="1093.1" cy="1401.1" r="8.3"/><circle cx="1096.3" cy="1359" r="8.3"/><circle cx="1097.1" cy="1314.3" r="8.3"/><circle cx="1100.6" cy="1312.9" r="8.3"/><circle cx="1103" cy="1312.3" r="8.3"/><circle cx="1102.1" cy="1312.9" r="8.3"/><circle cx="1103.9" cy="1308.1" r="8.3"/><circle cx="1107.5" cy="1312.1" r="8.3"/><circle cx="1106.7" cy="1305.9" r="8.3"/><circle cx="1108.1" cy="1310.5" r="8.3"/><circle cx="1111.5" cy="1306.1" r="8.3"/><circle cx="1113.4" cy="1305.4" r="8.3"/><circle cx="1114" cy="1307.7" r="8.3"/><circle cx="1117.1" cy="1304.2" r="8.3"/><circle cx="1116.7" cy="1304.9" r="8.3"/><circle cx="1120" cy="1301.5" r="8.3"/><circle cx="1120.4" cy="1300.5" r="8.3"/><circle cx="1122.5" cy="1299.5" r="8.3"/><circle cx="1125.6" cy="1300" r="8.3"/><circle cx="1124.7" cy="1296.7" r="8.3"/><circle cx="1127.2" cy="1298.5" r="8.3"/><circle cx="1130.4" cy="1295.2" r="8.3"/><circle cx="1133.2" cy="1296.2" r="8.3"/><circle cx="1133.6" cy="1293.3" r="8.3"/><circle cx="1137.6" cy="1294.5" r="8.3"/><circle cx="1135.7" cy="1292.3" r="8.3"/><circle cx="1139.5" cy="1290.6" r="8.3"/><circle cx="1141.5" cy="1287.4" r="8.3"/><circle cx="1140.9" cy="1291.6" r="8.3"/><circle cx="1143.4" cy="1286.5" r="8.3"/><circle cx="1145.5" cy="1285" r="8.3"/><circle cx="1147.2" cy="1287.8" r="8.3"/><circle cx="1150.7" cy="1287.1" r="8.3"/><circle cx="1150.3" cy="1287" r="8.3"/><circle cx="1150.9" cy="1280.1" r="8.3"/><circle cx="1156.8" cy="1282.6" r="8.3"/><circle cx="1156.5" cy="1282.4" r="8.3"/><circle cx="1159.1" cy="1282.1" r="8.3"/><circle cx="1159.3" cy="1280" r="8.3"/><circle cx="1162.8" cy="1280.9" r="8.3"/><circle cx="1162.7" cy="1278.8" r="8.3"/><circle cx="1164.9" cy="1279.8" r="8.3"/><circle cx="1168.9" cy="1279" r="8.3"/><circle cx="1168.5" cy="1277.8" r="8.3"/><circle cx="1169.9" cy="1276.1" r="8.3"/><circle cx="1173" cy="1275" r="8.3"/><circle cx="1174.7" cy="1274.4" r="8.3"/><circle cx="1176.8" cy="1273" r="8.3"/><circle cx="1177.9" cy="1275" r="8.3"/><circle cx="1179.1" cy="1273.8" r="8.3"/><circle cx="1180.7" cy="1269.8" r="8.3"/><circle cx="1182.3" cy="1273.6" r="8.3"/><circle cx="1184.8" cy="1273.2" r="8.3"/><circle cx="1185.8" cy="1270.5" r="8.3"/><circle cx="1190.7" cy="1269.7" r="8.3"/><circle cx="1189.6" cy="1268" r="8.3"/><circle cx="1192.4" cy="1268.8" r="8.3"/><circle cx="1197.2" cy="1267.9" r="8.3"/><circle cx="1198" cy="1264.7" r="8.3"/><circle cx="1200.2" cy="1268.2" r="8.3"/><circle cx="1202.5" cy="1265.9" r="8.3"/><circle cx="1201.2" cy="1266.3" r="8.3"/><circle cx="1204" cy="1264.1" r="8.3"/><circle cx="1205.2" cy="1260.6" r="8.3"/><circle cx="1206.6" cy="1264.2" r="8.3"/><circle cx="1209.1" cy="1264.6" r="8.3"/><circle cx="1212.7" cy="1263.3" r="8.3"/><circle cx="1215.2" cy="1263.7" r="8.3"/><circle cx="1214.9" cy="1264.6" r="8.3"/><circle cx="1216.9" cy="1262.5" r="8.3"/><circle cx="1220.5" cy="1258.6" r="8.3"/><circle cx="1222.1" cy="1258.6" r="8.3"/><circle cx="1222.3" cy="1257.6" r="8.3"/><circle cx="1225.6" cy="1256.1" r="8.3"/><circle cx="1225.2" cy="1260.1" r="8.3"/><circle cx="1227" cy="1257.5" r="8.3"/><circle cx="1232.1" cy="1255.1" r="8.3"/><circle cx="1232.7" cy="1255.6" r="8.3"/><circle cx="1231.9" cy="1255.4" r="8.3"/><circle cx="1235.6" cy="1250.5" r="8.3"/><circle cx="1236" cy="1253.6" r="8.3"/><circle cx="1237.9" cy="1254.7" r="8.3"/><circle cx="1240.1" cy="1252.6" r="8.3"/><circle cx="1242.9" cy="1250.8" r="8.3"/><circle cx="1245" cy="1250.3" r="8.3"/><circle cx="1247.8" cy="1250.6" r="8.3"/><circle cx="1248.5" cy="1250.9" r="8.3"/><circle cx="1252" cy="1247.7" r="8.3"/><circle cx="1252.1" cy="1249.4" r="8.3"/><circle cx="1253.7" cy="1246.5" r="8.3"/><circle cx="1257.4" cy="1245.2" r="8.3"/><circle cx="1258.9" cy="1248.6" r="8.3"/><circle cx="1258.5" cy="1246.3" r="8.3"/><circle cx="1261.8" cy="1247.5" r="8.3"/><circle cx="1262.7" cy="1244.3" r="8.3"/><circle cx="1265.1" cy="1241.3" r="8.3"/><circle cx="1265.8" cy="1242.9" r="8.3"/>
</g>
<text x="757" y="1119.5" font-size="34.5">e</text>
<text x="885.3" y="1141.8" font-size="27">ubH2B-Nuc+DUB-wt+FACT</text>
<text x="864" y="1192" font-size="30.5" text-anchor="end">150</text>
<text x="864" y="1283.5" font-size="30.5" text-anchor="end">100</text>
<text x="864" y="1375" font-size="30.5" text-anchor="end">50</text>
<text x="802" y="1280.7" font-size="33.5" text-anchor="middle" transform="rotate(-90 802 1280.7)">Ext. (nm)</text>
<text x="852.3" y="1400.3" font-size="30.5" text-anchor="middle">3</text>
<text x="931.2" y="1432.4" font-size="30.5" text-anchor="middle">2</text>
<text x="1011.2" y="1462" font-size="30.5" text-anchor="middle">1</text>
<text x="852.6" y="1433.5" font-size="32.5" transform="rotate(23.5 852.6 1433.5)">Repeats</text>
<text x="1064.2" y="1469.3" font-size="30.5" text-anchor="middle">0</text>
<text x="1175" y="1462" font-size="30.5" text-anchor="middle">10</text>
<text x="1276" y="1454.5" font-size="30.5" text-anchor="middle">20</text>
<text x="1377" y="1447" font-size="30.5" text-anchor="middle">30</text>
<text x="1480" y="1443" font-size="30.5" text-anchor="middle">40</text>
<text x="1225.5" y="1491" font-size="33.5">Force (pN)</text>
<text x="1124.4" y="1182" font-size="25">3</text>
<text x="1198.4" y="1208" font-size="25">2</text>
<text x="1292" y="1235" font-size="25">1</text>
<text x="1144" y="1347.5" font-size="27.5">inner wrap</text>
<text x="1134" y="1406.5" font-size="27.5">outer wrap</text>
<polygon points="1124.4,1317.2 1137,1333.8 1128.3,1333.8 1128.3,1343.4 1120.5,1343.4 1120.5,1333.8 1111.8,1333.8" fill="#fff" stroke="#3a3a3a" stroke-width="2.4" stroke-linejoin="round"/>
<line x1="1120.1" y1="1348.6" x2="1128.7" y2="1348.6" stroke="#3a3a3a" stroke-width="2.4" stroke-linecap="round"/>
<line x1="1120.1" y1="1354.5" x2="1128.7" y2="1354.5" stroke="#3a3a3a" stroke-width="2.4" stroke-linecap="round"/>
<line x1="1120.1" y1="1360.1" x2="1128.7" y2="1360.1" stroke="#3a3a3a" stroke-width="2.4" stroke-linecap="round"/>
<polygon points="1118.4,1376.3 1131,1392.9 1122.3,1392.9 1122.3,1402.5 1114.5,1402.5 1114.5,1392.9 1105.8,1392.9" fill="#fff" stroke="#3a3a3a" stroke-width="2.4" stroke-linejoin="round"/>
<line x1="1114.1" y1="1407.7" x2="1122.7" y2="1407.7" stroke="#3a3a3a" stroke-width="2.4" stroke-linecap="round"/>
<line x1="1114.1" y1="1413.6" x2="1122.7" y2="1413.6" stroke="#3a3a3a" stroke-width="2.4" stroke-linecap="round"/>
<line x1="1114.1" y1="1419.2" x2="1122.7" y2="1419.2" stroke="#3a3a3a" stroke-width="2.4" stroke-linecap="round"/>
<line x1="989.5" y1="1886.1" x2="989.5" y2="1693.3" stroke="#cdcdcd" stroke-width="1.1"/>
<line x1="1088.7" y1="1880" x2="1088.7" y2="1687.2" stroke="#cdcdcd" stroke-width="1.1"/>
<line x1="1187.8" y1="1873.8" x2="1187.8" y2="1681" stroke="#cdcdcd" stroke-width="1.1"/>
<line x1="1287" y1="1867.6" x2="1287" y2="1674.8" stroke="#cdcdcd" stroke-width="1.1"/>
<line x1="890.4" y1="1892.3" x2="1287" y2="1867.6" stroke="#cdcdcd" stroke-width="1.1"/>
<line x1="890.4" y1="1892.3" x2="1287" y2="1867.6" stroke="#cdcdcd" stroke-width="1.1"/>
<line x1="890.4" y1="1795.9" x2="1287" y2="1771.2" stroke="#cdcdcd" stroke-width="1.1"/>
<line x1="890.4" y1="1699.5" x2="1287" y2="1674.8" stroke="#cdcdcd" stroke-width="1.1"/>
<line x1="989.5" y1="1886.1" x2="1149.8" y2="1948.9" stroke="#cdcdcd" stroke-width="1.1"/>
<line x1="1088.7" y1="1880" x2="1249" y2="1942.8" stroke="#cdcdcd" stroke-width="1.1"/>
<line x1="1187.8" y1="1873.8" x2="1348.1" y2="1936.6" stroke="#cdcdcd" stroke-width="1.1"/>
<line x1="970.5" y1="1923.7" x2="1367.2" y2="1899" stroke="#cdcdcd" stroke-width="1.1"/>
<line x1="1287" y1="1867.6" x2="1447.3" y2="1930.4" stroke="#cdcdcd" stroke-width="1.1"/>
<line x1="1287" y1="1867.6" x2="1447.3" y2="1930.4" stroke="#cdcdcd" stroke-width="1.1"/>
<line x1="1287" y1="1771.2" x2="1447.3" y2="1834" stroke="#cdcdcd" stroke-width="1.1"/>
<line x1="1287" y1="1674.8" x2="1447.3" y2="1737.6" stroke="#cdcdcd" stroke-width="1.1"/>
<line x1="890.4" y1="1892.3" x2="890.4" y2="1699.5" stroke="#000" stroke-width="2.2"/>
<line x1="890.4" y1="1892.3" x2="879.2" y2="1887.9" stroke="#000" stroke-width="2.2"/>
<line x1="890.4" y1="1795.9" x2="879.2" y2="1791.5" stroke="#000" stroke-width="2.2"/>
<line x1="890.4" y1="1699.5" x2="879.2" y2="1695.1" stroke="#000" stroke-width="2.2"/>
<line x1="890.4" y1="1892.3" x2="1060.3" y2="1958.9" stroke="#000" stroke-width="2.2"/>
<line x1="890.4" y1="1892.3" x2="879.4" y2="1893" stroke="#000" stroke-width="2.2"/>
<line x1="970.5" y1="1923.7" x2="959.6" y2="1924.4" stroke="#000" stroke-width="2.2"/>
<line x1="1050.7" y1="1955.1" x2="1039.7" y2="1955.8" stroke="#000" stroke-width="2.2"/>
<line x1="1050.7" y1="1955.1" x2="1447.3" y2="1930.4" stroke="#000" stroke-width="2.2"/>
<line x1="1050.7" y1="1955.1" x2="1061.9" y2="1959.5" stroke="#000" stroke-width="2.2"/>
<line x1="1149.8" y1="1948.9" x2="1161" y2="1953.3" stroke="#000" stroke-width="2.2"/>
<line x1="1249" y1="1942.8" x2="1260.2" y2="1947.1" stroke="#000" stroke-width="2.2"/>
<line x1="1348.1" y1="1936.6" x2="1359.3" y2="1941" stroke="#000" stroke-width="2.2"/>
<line x1="1447.3" y1="1930.4" x2="1458.5" y2="1934.8" stroke="#000" stroke-width="2.2"/>
<polyline points="897.3,1881.3 896.3,1885.7 900.6,1881.2 899.6,1881.8 903.8,1881.8 903.1,1883.2 906,1880.7 906.8,1877.5 908.2,1872.6 908.9,1873.7 912.6,1875.9 916.5,1873.9 915.9,1872.3 916.9,1871.1 921.9,1873.4 920.2,1870.9 925,1870.4 927.1,1868 926.8,1869.4 929,1866.8 928.7,1862.8 931.7,1867.9 935.4,1863.3 934.8,1862.2 935.6,1860 938.6,1861.7 940.9,1863.8 942.4,1859.3 942.9,1857.7 947,1855.1 946.4,1857.5 947.6,1853.6 949.9,1859.5 953.6,1855.4 955,1852.9 954.7,1851.8 959.4,1849.8 957.6,1850.6 960.4,1848.8 963.2,1847.1 964,1847.7 967.3,1845 968,1845.3 967.9,1844.5 969.4,1843.4 970.6,1841.2 974.5,1840.4 977.9,1841.3 979.7,1846 980.2,1839.5 981.4,1838.3 983.3,1836.2 985.3,1835.8 986.4,1833.8 988.6,1836.7 990.4,1794.8 991.8,1792.8 992.1,1788.8 995.8,1789.6 995.4,1788 998.3,1789.5 1001.5,1787.6 1003.7,1784.6 1006.4,1787.8 1009.5,1786.9 1008.6,1782.5 1012.5,1782.2 1012.1,1782 1018.8,1777.2 1018.5,1780.8 1020.9,1777.9 1021.8,1778.3 1026.6,1776.9 1026.3,1775.2 1030.4,1773.6 1030.3,1773.2 1034.8,1776.1 1038.6,1771.4 1040.8,1771.9 1039.6,1770.6 1043.3,1767.9 1044.1,1772 1047.1,1766.7 1048.7,1766.2 1051.4,1768.1 1054.6,1768.4 1055.7,1764.2 1059.2,1763.6 1063.1,1763.8 1063,1762.1 1065.1,1759.3 1068.9,1762.6 1068.8,1760.8 1071,1759 1075.4,1761 1075,1759.4 1081.7,1757 1082.3,1755.8 1083.9,1756 1085.3,1757.2 1088.2,1757 1090.4,1753 1091.9,1755.8 1096.7,1750.7 1095.7,1749.7 1098.5,1752.4 1101.7,1748.7 1103.2,1748.3 1106.8,1749 1106.9,1748 1112.4,1748 1113.2,1748.1 1117.9,1748.8 1116.1,1744.6 1120.2,1742.4 1123.3,1744.7 1127,1744.9 1128.5,1743.7 1128.9,1738.1 1132.1,1741 1133.4,1744.3 1135.1,1741.8 1138.2,1740.9 1139.5,1740.7 1143.3,1739.2 1143.4,1738.3 1146.6,1736.5 1151.3,1735.1 1154.2,1737.4 1154.9,1737.1 1156.3,1736.9 1157.9,1737.9 1162.3,1733.9 1164,1735.9 1164,1735.3 1171.1,1692.7 1170.6,1690.9 1174,1691.3 1177.6,1692 1180.2,1689.5 1184.1,1691.9 1183.7,1689.7 1188.3,1688.5 1191.6,1686.8 1193.3,1687 1195.5,1684 1199.8,1685.3 1201.7,1687.8 1205.2,1689.8 1206.1,1686.3 1209.7,1682.6 1212.2,1684.1 1215.6,1684.1 1215.6,1684.7 1220.3,1683.8 1223.5,1682.3 1225,1683.7 1228.6,1681.9 1232.5,1682 1231.2,1680.8 1233.2,1679.6 1237.8,1679.4 1241.5,1680.7 1243.8,1681.8 1245.8,1679.4 1248.8,1677.4 1251.8,1676.8 1254.9,1676.1 1256.5,1675.6 1257.8,1675.1 1262.8,1677.2 1264.4,1676.1 1266.5,1674.4 1270.5,1672.5 1270.4,1674" fill="none" stroke="#4a4a4a" stroke-width="1.1"/>
<g fill="#0072bd" stroke="#1a1a1a" stroke-width="1.15" stroke-opacity="0.9">
<circle cx="897.3" cy="1883.5" r="8.3"/><circle cx="899.3" cy="1885.5" r="8.3"/><circle cx="895" cy="1879.2" r="8.3"/><circle cx="895.4" cy="1884.4" r="8.3"/><circle cx="897.8" cy="1884" r="8.3"/><circle cx="896.9" cy="1884" r="8.3"/><circle cx="898.5" cy="1880.7" r="8.3"/><circle cx="895.8" cy="1885.7" r="8.3"/><circle cx="896.2" cy="1886.8" r="8.3"/><circle cx="899.6" cy="1886.4" r="8.3"/><circle cx="897.3" cy="1881.3" r="8.3"/><circle cx="896.3" cy="1885.7" r="8.3"/><circle cx="900.6" cy="1881.2" r="8.3"/><circle cx="899.6" cy="1881.8" r="8.3"/><circle cx="903.8" cy="1881.8" r="8.3"/><circle cx="903.1" cy="1883.2" r="8.3"/><circle cx="906" cy="1880.7" r="8.3"/><circle cx="906.8" cy="1877.5" r="8.3"/><circle cx="908.2" cy="1872.6" r="8.3"/><circle cx="908.9" cy="1873.7" r="8.3"/><circle cx="912.6" cy="1875.9" r="8.3"/><circle cx="916.5" cy="1873.9" r="8.3"/><circle cx="915.9" cy="1872.3" r="8.3"/><circle cx="916.9" cy="1871.1" r="8.3"/><circle cx="921.9" cy="1873.4" r="8.3"/><circle cx="920.2" cy="1870.9" r="8.3"/><circle cx="925" cy="1870.4" r="8.3"/><circle cx="927.1" cy="1868" r="8.3"/><circle cx="926.8" cy="1869.4" r="8.3"/><circle cx="929" cy="1866.8" r="8.3"/><circle cx="928.7" cy="1862.8" r="8.3"/><circle cx="931.7" cy="1867.9" r="8.3"/><circle cx="935.4" cy="1863.3" r="8.3"/><circle cx="934.8" cy="1862.2" r="8.3"/><circle cx="935.6" cy="1860" r="8.3"/><circle cx="938.6" cy="1861.7" r="8.3"/><circle cx="940.9" cy="1863.8" r="8.3"/><circle cx="942.4" cy="1859.3" r="8.3"/><circle cx="942.9" cy="1857.7" r="8.3"/><circle cx="947" cy="1855.1" r="8.3"/><circle cx="946.4" cy="1857.5" r="8.3"/><circle cx="947.6" cy="1853.6" r="8.3"/><circle cx="949.9" cy="1859.5" r="8.3"/><circle cx="953.6" cy="1855.4" r="8.3"/><circle cx="955" cy="1852.9" r="8.3"/><circle cx="954.7" cy="1851.8" r="8.3"/><circle cx="959.4" cy="1849.8" r="8.3"/><circle cx="957.6" cy="1850.6" r="8.3"/><circle cx="960.4" cy="1848.8" r="8.3"/><circle cx="963.2" cy="1847.1" r="8.3"/><circle cx="964" cy="1847.7" r="8.3"/><circle cx="967.3" cy="1845" r="8.3"/><circle cx="968" cy="1845.3" r="8.3"/><circle cx="967.9" cy="1844.5" r="8.3"/><circle cx="969.4" cy="1843.4" r="8.3"/><circle cx="970.6" cy="1841.2" r="8.3"/><circle cx="974.5" cy="1840.4" r="8.3"/><circle cx="977.9" cy="1841.3" r="8.3"/><circle cx="979.7" cy="1846" r="8.3"/><circle cx="980.2" cy="1839.5" r="8.3"/><circle cx="981.4" cy="1838.3" r="8.3"/><circle cx="983.3" cy="1836.2" r="8.3"/><circle cx="985.3" cy="1835.8" r="8.3"/><circle cx="986.4" cy="1833.8" r="8.3"/><circle cx="988.6" cy="1836.7" r="8.3"/><circle cx="990.4" cy="1794.8" r="8.3"/><circle cx="991.8" cy="1792.8" r="8.3"/><circle cx="992.1" cy="1788.8" r="8.3"/><circle cx="995.8" cy="1789.6" r="8.3"/><circle cx="995.4" cy="1788" r="8.3"/><circle cx="998.3" cy="1789.5" r="8.3"/><circle cx="1001.5" cy="1787.6" r="8.3"/><circle cx="1003.7" cy="1784.6" r="8.3"/><circle cx="1006.4" cy="1787.8" r="8.3"/><circle cx="1009.5" cy="1786.9" r="8.3"/><circle cx="1008.6" cy="1782.5" r="8.3"/><circle cx="1012.5" cy="1782.2" r="8.3"/><circle cx="1012.1" cy="1782" r="8.3"/><circle cx="1018.8" cy="1777.2" r="8.3"/><circle cx="1018.5" cy="1780.8" r="8.3"/><circle cx="1020.9" cy="1777.9" r="8.3"/><circle cx="1021.8" cy="1778.3" r="8.3"/><circle cx="1026.6" cy="1776.9" r="8.3"/><circle cx="1026.3" cy="1775.2" r="8.3"/><circle cx="1030.4" cy="1773.6" r="8.3"/><circle cx="1030.3" cy="1773.2" r="8.3"/><circle cx="1034.8" cy="1776.1" r="8.3"/><circle cx="1038.6" cy="1771.4" r="8.3"/><circle cx="1040.8" cy="1771.9" r="8.3"/><circle cx="1039.6" cy="1770.6" r="8.3"/><circle cx="1043.3" cy="1767.9" r="8.3"/><circle cx="1044.1" cy="1772" r="8.3"/><circle cx="1047.1" cy="1766.7" r="8.3"/><circle cx="1048.7" cy="1766.2" r="8.3"/><circle cx="1051.4" cy="1768.1" r="8.3"/><circle cx="1054.6" cy="1768.4" r="8.3"/><circle cx="1055.7" cy="1764.2" r="8.3"/><circle cx="1059.2" cy="1763.6" r="8.3"/><circle cx="1063.1" cy="1763.8" r="8.3"/><circle cx="1063" cy="1762.1" r="8.3"/><circle cx="1065.1" cy="1759.3" r="8.3"/><circle cx="1068.9" cy="1762.6" r="8.3"/><circle cx="1068.8" cy="1760.8" r="8.3"/><circle cx="1071" cy="1759" r="8.3"/><circle cx="1075.4" cy="1761" r="8.3"/><circle cx="1075" cy="1759.4" r="8.3"/><circle cx="1081.7" cy="1757" r="8.3"/><circle cx="1082.3" cy="1755.8" r="8.3"/><circle cx="1083.9" cy="1756" r="8.3"/><circle cx="1085.3" cy="1757.2" r="8.3"/><circle cx="1088.2" cy="1757" r="8.3"/><circle cx="1090.4" cy="1753" r="8.3"/><circle cx="1091.9" cy="1755.8" r="8.3"/><circle cx="1096.7" cy="1750.7" r="8.3"/><circle cx="1095.7" cy="1749.7" r="8.3"/><circle cx="1098.5" cy="1752.4" r="8.3"/><circle cx="1101.7" cy="1748.7" r="8.3"/><circle cx="1103.2" cy="1748.3" r="8.3"/><circle cx="1106.8" cy="1749" r="8.3"/><circle cx="1106.9" cy="1748" r="8.3"/><circle cx="1112.4" cy="1748" r="8.3"/><circle cx="1113.2" cy="1748.1" r="8.3"/><circle cx="1117.9" cy="1748.8" r="8.3"/><circle cx="1116.1" cy="1744.6" r="8.3"/><circle cx="1120.2" cy="1742.4" r="8.3"/><circle cx="1123.3" cy="1744.7" r="8.3"/><circle cx="1127" cy="1744.9" r="8.3"/><circle cx="1128.5" cy="1743.7" r="8.3"/><circle cx="1128.9" cy="1738.1" r="8.3"/><circle cx="1132.1" cy="1741" r="8.3"/><circle cx="1133.4" cy="1744.3" r="8.3"/><circle cx="1135.1" cy="1741.8" r="8.3"/><circle cx="1138.2" cy="1740.9" r="8.3"/><circle cx="1139.5" cy="1740.7" r="8.3"/><circle cx="1143.3" cy="1739.2" r="8.3"/><circle cx="1143.4" cy="1738.3" r="8.3"/><circle cx="1146.6" cy="1736.5" r="8.3"/><circle cx="1151.3" cy="1735.1" r="8.3"/><circle cx="1154.2" cy="1737.4" r="8.3"/><circle cx="1154.9" cy="1737.1" r="8.3"/><circle cx="1156.3" cy="1736.9" r="8.3"/><circle cx="1157.9" cy="1737.9" r="8.3"/><circle cx="1162.3" cy="1733.9" r="8.3"/><circle cx="1164" cy="1735.9" r="8.3"/><circle cx="1164" cy="1735.3" r="8.3"/><circle cx="1171.1" cy="1692.7" r="8.3"/><circle cx="1170.6" cy="1690.9" r="8.3"/><circle cx="1174" cy="1691.3" r="8.3"/><circle cx="1177.6" cy="1692" r="8.3"/><circle cx="1180.2" cy="1689.5" r="8.3"/><circle cx="1184.1" cy="1691.9" r="8.3"/><circle cx="1183.7" cy="1689.7" r="8.3"/><circle cx="1188.3" cy="1688.5" r="8.3"/><circle cx="1191.6" cy="1686.8" r="8.3"/><circle cx="1193.3" cy="1687" r="8.3"/><circle cx="1195.5" cy="1684" r="8.3"/><circle cx="1199.8" cy="1685.3" r="8.3"/><circle cx="1201.7" cy="1687.8" r="8.3"/><circle cx="1205.2" cy="1689.8" r="8.3"/><circle cx="1206.1" cy="1686.3" r="8.3"/><circle cx="1209.7" cy="1682.6" r="8.3"/><circle cx="1212.2" cy="1684.1" r="8.3"/><circle cx="1215.6" cy="1684.1" r="8.3"/><circle cx="1215.6" cy="1684.7" r="8.3"/><circle cx="1220.3" cy="1683.8" r="8.3"/><circle cx="1223.5" cy="1682.3" r="8.3"/><circle cx="1225" cy="1683.7" r="8.3"/><circle cx="1228.6" cy="1681.9" r="8.3"/><circle cx="1232.5" cy="1682" r="8.3"/><circle cx="1231.2" cy="1680.8" r="8.3"/><circle cx="1233.2" cy="1679.6" r="8.3"/><circle cx="1237.8" cy="1679.4" r="8.3"/><circle cx="1241.5" cy="1680.7" r="8.3"/><circle cx="1243.8" cy="1681.8" r="8.3"/><circle cx="1245.8" cy="1679.4" r="8.3"/><circle cx="1248.8" cy="1677.4" r="8.3"/><circle cx="1251.8" cy="1676.8" r="8.3"/><circle cx="1254.9" cy="1676.1" r="8.3"/><circle cx="1256.5" cy="1675.6" r="8.3"/><circle cx="1257.8" cy="1675.1" r="8.3"/><circle cx="1262.8" cy="1677.2" r="8.3"/><circle cx="1264.4" cy="1676.1" r="8.3"/><circle cx="1266.5" cy="1674.4" r="8.3"/><circle cx="1270.5" cy="1672.5" r="8.3"/><circle cx="1270.4" cy="1674" r="8.3"/>
</g>
<polyline points="976.5,1920.6 976.6,1914.3 976.4,1914.1 980.3,1914.7 981.7,1914.8 983.2,1916.4 983.7,1914 984.8,1914.9 985.2,1912.1 987.9,1909.8 989.9,1905.3 993,1911.6 994.3,1906.6 996.6,1906.1 996.7,1906.7 1000.8,1904.2 999.4,1903.8 1002.9,1903.3 1005.6,1899.7 1004.7,1901.7 1006.4,1897.7 1008.1,1897.3 1010.3,1898.7 1014.9,1895.7 1012.9,1895 1016.6,1895.4 1016.4,1895.3 1017.4,1896.1 1018.7,1890.7 1021.5,1890.6 1024.3,1887.4 1024.9,1889 1026.5,1887.8 1030.7,1885.2 1029,1885.5 1034.5,1885.7 1036.5,1882.2 1034.2,1884 1035.4,1883.7 1038.1,1885 1042.2,1881.1 1042.9,1882 1044.5,1882.8 1047.7,1879.6 1045.4,1882 1046.8,1877.4 1049.9,1874.3 1053.4,1873.2 1052.9,1873 1055.9,1875.2 1059.4,1868.8 1059.9,1871.7 1061.5,1872.4 1060.4,1869.5 1064.8,1869.1 1062.4,1831.7 1063.9,1828.5 1067.8,1827.2 1069.1,1827.9 1072.3,1825.2 1072.8,1827.2 1075.1,1823.5 1076.8,1826.6 1082.1,1823 1084.3,1820.2 1084.5,1819.8 1085,1819.2 1090.5,1820.8 1092.6,1817.3 1095.4,1813.5 1096.9,1811.4 1097.2,1814 1099.9,1812.1 1103.9,1810.2 1104.6,1810.4 1106.4,1806.5 1109.4,1807.2 1110.9,1806.1 1114.9,1802.9 1118.1,1806 1120.9,1801.7 1119.8,1803 1123.5,1801.5 1126.1,1796.3 1131.2,1797.9 1130.4,1800.4 1132.7,1795.3 1135,1794.1 1138.4,1795.1 1139.7,1790.6 1140.5,1790.5 1146.6,1789.6 1147,1790.7 1151.4,1787.2 1153.6,1785.1 1153.9,1786.7 1157.1,1786.4 1159.9,1784.2 1161.4,1780.7 1164,1782.8 1167.8,1781.9 1170.5,1781.1 1172.1,1782.1 1172,1778.4 1173.8,1777.2 1177,1778.3 1181.7,1778.1 1183.5,1778.4 1186.1,1776.9 1189.1,1776.4 1190.2,1775.1 1194,1776.3 1195.3,1775.9 1196.4,1777.4 1200.2,1775.5 1203.2,1772.9 1207,1773.1 1207.7,1775.7 1212.4,1774.6 1212.1,1772.3 1215,1773.2 1216.4,1773.9 1221.2,1771.1 1226,1774.5 1228.5,1771.9 1229.3,1771.5 1232.5,1769.9 1234.9,1771.2 1237.1,1769.7 1238.4,1771.5 1243.5,1768.9 1246.8,1775.3 1246.1,1772.8 1249.9,1766.8 1252,1766.9 1249.1,1727.7 1252.9,1726.5 1255,1727.3 1256.7,1724.8 1260.3,1726 1260.6,1722.8 1266.4,1723.9 1267.7,1726.4 1268.4,1723 1271.9,1721.2 1275.6,1718.7 1277.7,1722.8 1279.9,1721.9 1280.5,1719.4 1284.8,1720.1 1287.1,1720.3 1287.9,1721.3 1290.6,1717.3 1293.2,1722.6 1294.3,1718.2 1298.1,1715.3 1298.9,1716 1304.7,1716.4 1305.1,1715.1 1308.3,1717.2 1312.2,1710.8 1312.9,1714.1 1315.9,1713.4 1318.1,1712.1 1320.9,1712.9 1321.6,1712 1325.4,1709.5 1328,1707.3 1330.6,1713.1 1332.4,1708.5 1335,1707.2 1338,1710.5 1337.4,1705.6 1342,1705.8 1342.4,1707.3" fill="none" stroke="#4a4a4a" stroke-width="1.1"/>
<g fill="#edb120" stroke="#1a1a1a" stroke-width="1.15" stroke-opacity="0.9">
<circle cx="977.8" cy="1917.5" r="8.3"/><circle cx="976.5" cy="1918.6" r="8.3"/><circle cx="973" cy="1917" r="8.3"/><circle cx="977.4" cy="1915.8" r="8.3"/><circle cx="975.6" cy="1918.3" r="8.3"/><circle cx="976.8" cy="1915.5" r="8.3"/><circle cx="973.8" cy="1921.6" r="8.3"/><circle cx="977.9" cy="1917.8" r="8.3"/><circle cx="975.4" cy="1916.4" r="8.3"/><circle cx="977.4" cy="1916.7" r="8.3"/><circle cx="976.5" cy="1920.6" r="8.3"/><circle cx="976.6" cy="1914.3" r="8.3"/><circle cx="976.4" cy="1914.1" r="8.3"/><circle cx="980.3" cy="1914.7" r="8.3"/><circle cx="981.7" cy="1914.8" r="8.3"/><circle cx="983.2" cy="1916.4" r="8.3"/><circle cx="983.7" cy="1914" r="8.3"/><circle cx="984.8" cy="1914.9" r="8.3"/><circle cx="985.2" cy="1912.1" r="8.3"/><circle cx="987.9" cy="1909.8" r="8.3"/><circle cx="989.9" cy="1905.3" r="8.3"/><circle cx="993" cy="1911.6" r="8.3"/><circle cx="994.3" cy="1906.6" r="8.3"/><circle cx="996.6" cy="1906.1" r="8.3"/><circle cx="996.7" cy="1906.7" r="8.3"/><circle cx="1000.8" cy="1904.2" r="8.3"/><circle cx="999.4" cy="1903.8" r="8.3"/><circle cx="1002.9" cy="1903.3" r="8.3"/><circle cx="1005.6" cy="1899.7" r="8.3"/><circle cx="1004.7" cy="1901.7" r="8.3"/><circle cx="1006.4" cy="1897.7" r="8.3"/><circle cx="1008.1" cy="1897.3" r="8.3"/><circle cx="1010.3" cy="1898.7" r="8.3"/><circle cx="1014.9" cy="1895.7" r="8.3"/><circle cx="1012.9" cy="1895" r="8.3"/><circle cx="1016.6" cy="1895.4" r="8.3"/><circle cx="1016.4" cy="1895.3" r="8.3"/><circle cx="1017.4" cy="1896.1" r="8.3"/><circle cx="1018.7" cy="1890.7" r="8.3"/><circle cx="1021.5" cy="1890.6" r="8.3"/><circle cx="1024.3" cy="1887.4" r="8.3"/><circle cx="1024.9" cy="1889" r="8.3"/><circle cx="1026.5" cy="1887.8" r="8.3"/><circle cx="1030.7" cy="1885.2" r="8.3"/><circle cx="1029" cy="1885.5" r="8.3"/><circle cx="1034.5" cy="1885.7" r="8.3"/><circle cx="1036.5" cy="1882.2" r="8.3"/><circle cx="1034.2" cy="1884" r="8.3"/><circle cx="1035.4" cy="1883.7" r="8.3"/><circle cx="1038.1" cy="1885" r="8.3"/><circle cx="1042.2" cy="1881.1" r="8.3"/><circle cx="1042.9" cy="1882" r="8.3"/><circle cx="1044.5" cy="1882.8" r="8.3"/><circle cx="1047.7" cy="1879.6" r="8.3"/><circle cx="1045.4" cy="1882" r="8.3"/><circle cx="1046.8" cy="1877.4" r="8.3"/><circle cx="1049.9" cy="1874.3" r="8.3"/><circle cx="1053.4" cy="1873.2" r="8.3"/><circle cx="1052.9" cy="1873" r="8.3"/><circle cx="1055.9" cy="1875.2" r="8.3"/><circle cx="1059.4" cy="1868.8" r="8.3"/><circle cx="1059.9" cy="1871.7" r="8.3"/><circle cx="1061.5" cy="1872.4" r="8.3"/><circle cx="1060.4" cy="1869.5" r="8.3"/><circle cx="1064.8" cy="1869.1" r="8.3"/><circle cx="1062.4" cy="1831.7" r="8.3"/><circle cx="1063.9" cy="1828.5" r="8.3"/><circle cx="1067.8" cy="1827.2" r="8.3"/><circle cx="1069.1" cy="1827.9" r="8.3"/><circle cx="1072.3" cy="1825.2" r="8.3"/><circle cx="1072.8" cy="1827.2" r="8.3"/><circle cx="1075.1" cy="1823.5" r="8.3"/><circle cx="1076.8" cy="1826.6" r="8.3"/><circle cx="1082.1" cy="1823" r="8.3"/><circle cx="1084.3" cy="1820.2" r="8.3"/><circle cx="1084.5" cy="1819.8" r="8.3"/><circle cx="1085" cy="1819.2" r="8.3"/><circle cx="1090.5" cy="1820.8" r="8.3"/><circle cx="1092.6" cy="1817.3" r="8.3"/><circle cx="1095.4" cy="1813.5" r="8.3"/><circle cx="1096.9" cy="1811.4" r="8.3"/><circle cx="1097.2" cy="1814" r="8.3"/><circle cx="1099.9" cy="1812.1" r="8.3"/><circle cx="1103.9" cy="1810.2" r="8.3"/><circle cx="1104.6" cy="1810.4" r="8.3"/><circle cx="1106.4" cy="1806.5" r="8.3"/><circle cx="1109.4" cy="1807.2" r="8.3"/><circle cx="1110.9" cy="1806.1" r="8.3"/><circle cx="1114.9" cy="1802.9" r="8.3"/><circle cx="1118.1" cy="1806" r="8.3"/><circle cx="1120.9" cy="1801.7" r="8.3"/><circle cx="1119.8" cy="1803" r="8.3"/><circle cx="1123.5" cy="1801.5" r="8.3"/><circle cx="1126.1" cy="1796.3" r="8.3"/><circle cx="1131.2" cy="1797.9" r="8.3"/><circle cx="1130.4" cy="1800.4" r="8.3"/><circle cx="1132.7" cy="1795.3" r="8.3"/><circle cx="1135" cy="1794.1" r="8.3"/><circle cx="1138.4" cy="1795.1" r="8.3"/><circle cx="1139.7" cy="1790.6" r="8.3"/><circle cx="1140.5" cy="1790.5" r="8.3"/><circle cx="1146.6" cy="1789.6" r="8.3"/><circle cx="1147" cy="1790.7" r="8.3"/><circle cx="1151.4" cy="1787.2" r="8.3"/><circle cx="1153.6" cy="1785.1" r="8.3"/><circle cx="1153.9" cy="1786.7" r="8.3"/><circle cx="1157.1" cy="1786.4" r="8.3"/><circle cx="1159.9" cy="1784.2" r="8.3"/><circle cx="1161.4" cy="1780.7" r="8.3"/><circle cx="1164" cy="1782.8" r="8.3"/><circle cx="1167.8" cy="1781.9" r="8.3"/><circle cx="1170.5" cy="1781.1" r="8.3"/><circle cx="1172.1" cy="1782.1" r="8.3"/><circle cx="1172" cy="1778.4" r="8.3"/><circle cx="1173.8" cy="1777.2" r="8.3"/><circle cx="1177" cy="1778.3" r="8.3"/><circle cx="1181.7" cy="1778.1" r="8.3"/><circle cx="1183.5" cy="1778.4" r="8.3"/><circle cx="1186.1" cy="1776.9" r="8.3"/><circle cx="1189.1" cy="1776.4" r="8.3"/><circle cx="1190.2" cy="1775.1" r="8.3"/><circle cx="1194" cy="1776.3" r="8.3"/><circle cx="1195.3" cy="1775.9" r="8.3"/><circle cx="1196.4" cy="1777.4" r="8.3"/><circle cx="1200.2" cy="1775.5" r="8.3"/><circle cx="1203.2" cy="1772.9" r="8.3"/><circle cx="1207" cy="1773.1" r="8.3"/><circle cx="1207.7" cy="1775.7" r="8.3"/><circle cx="1212.4" cy="1774.6" r="8.3"/><circle cx="1212.1" cy="1772.3" r="8.3"/><circle cx="1215" cy="1773.2" r="8.3"/><circle cx="1216.4" cy="1773.9" r="8.3"/><circle cx="1221.2" cy="1771.1" r="8.3"/><circle cx="1226" cy="1774.5" r="8.3"/><circle cx="1228.5" cy="1771.9" r="8.3"/><circle cx="1229.3" cy="1771.5" r="8.3"/><circle cx="1232.5" cy="1769.9" r="8.3"/><circle cx="1234.9" cy="1771.2" r="8.3"/><circle cx="1237.1" cy="1769.7" r="8.3"/><circle cx="1238.4" cy="1771.5" r="8.3"/><circle cx="1243.5" cy="1768.9" r="8.3"/><circle cx="1246.8" cy="1775.3" r="8.3"/><circle cx="1246.1" cy="1772.8" r="8.3"/><circle cx="1249.9" cy="1766.8" r="8.3"/><circle cx="1252" cy="1766.9" r="8.3"/><circle cx="1249.1" cy="1727.7" r="8.3"/><circle cx="1252.9" cy="1726.5" r="8.3"/><circle cx="1255" cy="1727.3" r="8.3"/><circle cx="1256.7" cy="1724.8" r="8.3"/><circle cx="1260.3" cy="1726" r="8.3"/><circle cx="1260.6" cy="1722.8" r="8.3"/><circle cx="1266.4" cy="1723.9" r="8.3"/><circle cx="1267.7" cy="1726.4" r="8.3"/><circle cx="1268.4" cy="1723" r="8.3"/><circle cx="1271.9" cy="1721.2" r="8.3"/><circle cx="1275.6" cy="1718.7" r="8.3"/><circle cx="1277.7" cy="1722.8" r="8.3"/><circle cx="1279.9" cy="1721.9" r="8.3"/><circle cx="1280.5" cy="1719.4" r="8.3"/><circle cx="1284.8" cy="1720.1" r="8.3"/><circle cx="1287.1" cy="1720.3" r="8.3"/><circle cx="1287.9" cy="1721.3" r="8.3"/><circle cx="1290.6" cy="1717.3" r="8.3"/><circle cx="1293.2" cy="1722.6" r="8.3"/><circle cx="1294.3" cy="1718.2" r="8.3"/><circle cx="1298.1" cy="1715.3" r="8.3"/><circle cx="1298.9" cy="1716" r="8.3"/><circle cx="1304.7" cy="1716.4" r="8.3"/><circle cx="1305.1" cy="1715.1" r="8.3"/><circle cx="1308.3" cy="1717.2" r="8.3"/><circle cx="1312.2" cy="1710.8" r="8.3"/><circle cx="1312.9" cy="1714.1" r="8.3"/><circle cx="1315.9" cy="1713.4" r="8.3"/><circle cx="1318.1" cy="1712.1" r="8.3"/><circle cx="1320.9" cy="1712.9" r="8.3"/><circle cx="1321.6" cy="1712" r="8.3"/><circle cx="1325.4" cy="1709.5" r="8.3"/><circle cx="1328" cy="1707.3" r="8.3"/><circle cx="1330.6" cy="1713.1" r="8.3"/><circle cx="1332.4" cy="1708.5" r="8.3"/><circle cx="1335" cy="1707.2" r="8.3"/><circle cx="1338" cy="1710.5" r="8.3"/><circle cx="1337.4" cy="1705.6" r="8.3"/><circle cx="1342" cy="1705.8" r="8.3"/><circle cx="1342.4" cy="1707.3" r="8.3"/>
</g>
<polyline points="1059,1949 1060.6,1945 1063.8,1943.1 1062.9,1946.1 1067.3,1942.5 1066.5,1942.5 1069.5,1938 1073.2,1936.3 1072,1938.2 1075.2,1938.4 1077.4,1937.8 1080.3,1935.3 1082.3,1930.9 1085,1933.4 1085.6,1931.5 1086,1931 1089.3,1928.8 1093.4,1929.5 1094.6,1930.2 1097.3,1925.7 1098.7,1927.4 1100.1,1924 1100.8,1924.2 1102.8,1921.2 1107.4,1919.1 1105.9,1922.2 1110.2,1921.4 1110.7,1914 1115.7,1916.4 1115.5,1911.7 1117.3,1912.4 1120.4,1908.6 1119.4,1912.4 1123.2,1912 1124.5,1909.9 1127.3,1907.1 1130,1909.8 1129.7,1906.8 1133.5,1904.9 1134.7,1903.5 1138.3,1904.5 1142.6,1896.8 1141.7,1902.3 1144.7,1900.9 1146.1,1893.6 1147,1898.8 1150.9,1899.5 1153.2,1895.8 1153.5,1896.5 1153.7,1896.4 1156.8,1892.3 1158.8,1889.7 1162.1,1891.3 1163,1887.3 1167.6,1888.6 1170.4,1846.8 1171,1848.8 1173.5,1847.6 1174.6,1845.7 1175.6,1847.4 1176.4,1847 1182.3,1844.3 1182.6,1841.5 1185.5,1843.1 1186.9,1839.1 1190.8,1841.5 1192.3,1838.6 1191.7,1835 1194.3,1835.9 1196.6,1831.5 1196.7,1835.7 1199.3,1831.6 1202.2,1831.6 1205.4,1832.3 1206.2,1826.9 1209.5,1831.7 1210.7,1825.9 1210.9,1828.3 1215.3,1827.4 1214.3,1827.6 1217.4,1824.7 1221.3,1824.7 1222.8,1823.6 1225.9,1820.6 1228.5,1821.6 1228.9,1821.5 1230.6,1818.4 1232.7,1821.2 1234.2,1814.5 1237.3,1815.4 1240.2,1815.7 1241.4,1815.1 1243.6,1814.9 1244.9,1812.9 1249.5,1815.6 1249.7,1813.2 1253,1813.5 1255.5,1817.5 1254.9,1811.5 1256.6,1813.4 1259,1812.3 1262.1,1809 1264.7,1807.9 1269.1,1806 1268.1,1810.7 1270.3,1809.3 1275.4,1809.8 1277.2,1807.3 1277.2,1807.6 1281.8,1806.6 1282.7,1808.2 1283.5,1804 1285.7,1802.7 1288.6,1804.3 1290,1805.1 1292.2,1800.7 1295.9,1798.8 1299.1,1802.4 1298.8,1803.1 1302.1,1800.6 1302.9,1798.7 1307.1,1800.6 1308.5,1801 1310.5,1801.3 1314.5,1800.4 1314.3,1800.5 1319.3,1799.7 1320.2,1797.8 1320.9,1796.9 1325.3,1800.4 1328.2,1759.8 1327.6,1758.4 1331.5,1761.2 1334,1758.5 1338.9,1758.4 1340.7,1756.4 1344.6,1757.1 1344.9,1755 1348.4,1757.4 1350.2,1755.3 1352.3,1756.6 1355.9,1753.5 1359.7,1755.7 1360,1753.3 1365.8,1754.9 1367.1,1752.8 1368.6,1750.8 1371.3,1750.6 1374.8,1753.3 1378.6,1748.7 1381.6,1750.9 1383.7,1748.3 1385.2,1749.9 1390.2,1748.8 1391.9,1748.3 1394,1744.6 1397.8,1746.6 1401.3,1745.6 1402.5,1744.1 1405.5,1747.3 1406.8,1744.7 1409,1744.4 1414.1,1741.8 1415.1,1742.3 1417.5,1743.3 1420.5,1743.2 1422.7,1741.7 1425.1,1743.3 1429.5,1740.8 1431,1738.3" fill="none" stroke="#4a4a4a" stroke-width="1.1"/>
<g fill="#a2142f" stroke="#1a1a1a" stroke-width="1.15" stroke-opacity="0.9">
<circle cx="1059.3" cy="1945.8" r="8.3"/><circle cx="1061.2" cy="1948.1" r="8.3"/><circle cx="1059.2" cy="1948.6" r="8.3"/><circle cx="1059.5" cy="1944.3" r="8.3"/><circle cx="1059.3" cy="1948.9" r="8.3"/><circle cx="1061.3" cy="1952.3" r="8.3"/><circle cx="1061.9" cy="1950.6" r="8.3"/><circle cx="1059.9" cy="1942.3" r="8.3"/><circle cx="1059.3" cy="1952.2" r="8.3"/><circle cx="1057.4" cy="1948.1" r="8.3"/><circle cx="1059" cy="1949" r="8.3"/><circle cx="1060.6" cy="1945" r="8.3"/><circle cx="1063.8" cy="1943.1" r="8.3"/><circle cx="1062.9" cy="1946.1" r="8.3"/><circle cx="1067.3" cy="1942.5" r="8.3"/><circle cx="1066.5" cy="1942.5" r="8.3"/><circle cx="1069.5" cy="1938" r="8.3"/><circle cx="1073.2" cy="1936.3" r="8.3"/><circle cx="1072" cy="1938.2" r="8.3"/><circle cx="1075.2" cy="1938.4" r="8.3"/><circle cx="1077.4" cy="1937.8" r="8.3"/><circle cx="1080.3" cy="1935.3" r="8.3"/><circle cx="1082.3" cy="1930.9" r="8.3"/><circle cx="1085" cy="1933.4" r="8.3"/><circle cx="1085.6" cy="1931.5" r="8.3"/><circle cx="1086" cy="1931" r="8.3"/><circle cx="1089.3" cy="1928.8" r="8.3"/><circle cx="1093.4" cy="1929.5" r="8.3"/><circle cx="1094.6" cy="1930.2" r="8.3"/><circle cx="1097.3" cy="1925.7" r="8.3"/><circle cx="1098.7" cy="1927.4" r="8.3"/><circle cx="1100.1" cy="1924" r="8.3"/><circle cx="1100.8" cy="1924.2" r="8.3"/><circle cx="1102.8" cy="1921.2" r="8.3"/><circle cx="1107.4" cy="1919.1" r="8.3"/><circle cx="1105.9" cy="1922.2" r="8.3"/><circle cx="1110.2" cy="1921.4" r="8.3"/><circle cx="1110.7" cy="1914" r="8.3"/><circle cx="1115.7" cy="1916.4" r="8.3"/><circle cx="1115.5" cy="1911.7" r="8.3"/><circle cx="1117.3" cy="1912.4" r="8.3"/><circle cx="1120.4" cy="1908.6" r="8.3"/><circle cx="1119.4" cy="1912.4" r="8.3"/><circle cx="1123.2" cy="1912" r="8.3"/><circle cx="1124.5" cy="1909.9" r="8.3"/><circle cx="1127.3" cy="1907.1" r="8.3"/><circle cx="1130" cy="1909.8" r="8.3"/><circle cx="1129.7" cy="1906.8" r="8.3"/><circle cx="1133.5" cy="1904.9" r="8.3"/><circle cx="1134.7" cy="1903.5" r="8.3"/><circle cx="1138.3" cy="1904.5" r="8.3"/><circle cx="1142.6" cy="1896.8" r="8.3"/><circle cx="1141.7" cy="1902.3" r="8.3"/><circle cx="1144.7" cy="1900.9" r="8.3"/><circle cx="1146.1" cy="1893.6" r="8.3"/><circle cx="1147" cy="1898.8" r="8.3"/><circle cx="1150.9" cy="1899.5" r="8.3"/><circle cx="1153.2" cy="1895.8" r="8.3"/><circle cx="1153.5" cy="1896.5" r="8.3"/><circle cx="1153.7" cy="1896.4" r="8.3"/><circle cx="1156.8" cy="1892.3" r="8.3"/><circle cx="1158.8" cy="1889.7" r="8.3"/><circle cx="1162.1" cy="1891.3" r="8.3"/><circle cx="1163" cy="1887.3" r="8.3"/><circle cx="1167.6" cy="1888.6" r="8.3"/><circle cx="1170.4" cy="1846.8" r="8.3"/><circle cx="1171" cy="1848.8" r="8.3"/><circle cx="1173.5" cy="1847.6" r="8.3"/><circle cx="1174.6" cy="1845.7" r="8.3"/><circle cx="1175.6" cy="1847.4" r="8.3"/><circle cx="1176.4" cy="1847" r="8.3"/><circle cx="1182.3" cy="1844.3" r="8.3"/><circle cx="1182.6" cy="1841.5" r="8.3"/><circle cx="1185.5" cy="1843.1" r="8.3"/><circle cx="1186.9" cy="1839.1" r="8.3"/><circle cx="1190.8" cy="1841.5" r="8.3"/><circle cx="1192.3" cy="1838.6" r="8.3"/><circle cx="1191.7" cy="1835" r="8.3"/><circle cx="1194.3" cy="1835.9" r="8.3"/><circle cx="1196.6" cy="1831.5" r="8.3"/><circle cx="1196.7" cy="1835.7" r="8.3"/><circle cx="1199.3" cy="1831.6" r="8.3"/><circle cx="1202.2" cy="1831.6" r="8.3"/><circle cx="1205.4" cy="1832.3" r="8.3"/><circle cx="1206.2" cy="1826.9" r="8.3"/><circle cx="1209.5" cy="1831.7" r="8.3"/><circle cx="1210.7" cy="1825.9" r="8.3"/><circle cx="1210.9" cy="1828.3" r="8.3"/><circle cx="1215.3" cy="1827.4" r="8.3"/><circle cx="1214.3" cy="1827.6" r="8.3"/><circle cx="1217.4" cy="1824.7" r="8.3"/><circle cx="1221.3" cy="1824.7" r="8.3"/><circle cx="1222.8" cy="1823.6" r="8.3"/><circle cx="1225.9" cy="1820.6" r="8.3"/><circle cx="1228.5" cy="1821.6" r="8.3"/><circle cx="1228.9" cy="1821.5" r="8.3"/><circle cx="1230.6" cy="1818.4" r="8.3"/><circle cx="1232.7" cy="1821.2" r="8.3"/><circle cx="1234.2" cy="1814.5" r="8.3"/><circle cx="1237.3" cy="1815.4" r="8.3"/><circle cx="1240.2" cy="1815.7" r="8.3"/><circle cx="1241.4" cy="1815.1" r="8.3"/><circle cx="1243.6" cy="1814.9" r="8.3"/><circle cx="1244.9" cy="1812.9" r="8.3"/><circle cx="1249.5" cy="1815.6" r="8.3"/><circle cx="1249.7" cy="1813.2" r="8.3"/><circle cx="1253" cy="1813.5" r="8.3"/><circle cx="1255.5" cy="1817.5" r="8.3"/><circle cx="1254.9" cy="1811.5" r="8.3"/><circle cx="1256.6" cy="1813.4" r="8.3"/><circle cx="1259" cy="1812.3" r="8.3"/><circle cx="1262.1" cy="1809" r="8.3"/><circle cx="1264.7" cy="1807.9" r="8.3"/><circle cx="1269.1" cy="1806" r="8.3"/><circle cx="1268.1" cy="1810.7" r="8.3"/><circle cx="1270.3" cy="1809.3" r="8.3"/><circle cx="1275.4" cy="1809.8" r="8.3"/><circle cx="1277.2" cy="1807.3" r="8.3"/><circle cx="1277.2" cy="1807.6" r="8.3"/><circle cx="1281.8" cy="1806.6" r="8.3"/><circle cx="1282.7" cy="1808.2" r="8.3"/><circle cx="1283.5" cy="1804" r="8.3"/><circle cx="1285.7" cy="1802.7" r="8.3"/><circle cx="1288.6" cy="1804.3" r="8.3"/><circle cx="1290" cy="1805.1" r="8.3"/><circle cx="1292.2" cy="1800.7" r="8.3"/><circle cx="1295.9" cy="1798.8" r="8.3"/><circle cx="1299.1" cy="1802.4" r="8.3"/><circle cx="1298.8" cy="1803.1" r="8.3"/><circle cx="1302.1" cy="1800.6" r="8.3"/><circle cx="1302.9" cy="1798.7" r="8.3"/><circle cx="1307.1" cy="1800.6" r="8.3"/><circle cx="1308.5" cy="1801" r="8.3"/><circle cx="1310.5" cy="1801.3" r="8.3"/><circle cx="1314.5" cy="1800.4" r="8.3"/><circle cx="1314.3" cy="1800.5" r="8.3"/><circle cx="1319.3" cy="1799.7" r="8.3"/><circle cx="1320.2" cy="1797.8" r="8.3"/><circle cx="1320.9" cy="1796.9" r="8.3"/><circle cx="1325.3" cy="1800.4" r="8.3"/><circle cx="1328.2" cy="1759.8" r="8.3"/><circle cx="1327.6" cy="1758.4" r="8.3"/><circle cx="1331.5" cy="1761.2" r="8.3"/><circle cx="1334" cy="1758.5" r="8.3"/><circle cx="1338.9" cy="1758.4" r="8.3"/><circle cx="1340.7" cy="1756.4" r="8.3"/><circle cx="1344.6" cy="1757.1" r="8.3"/><circle cx="1344.9" cy="1755" r="8.3"/><circle cx="1348.4" cy="1757.4" r="8.3"/><circle cx="1350.2" cy="1755.3" r="8.3"/><circle cx="1352.3" cy="1756.6" r="8.3"/><circle cx="1355.9" cy="1753.5" r="8.3"/><circle cx="1359.7" cy="1755.7" r="8.3"/><circle cx="1360" cy="1753.3" r="8.3"/><circle cx="1365.8" cy="1754.9" r="8.3"/><circle cx="1367.1" cy="1752.8" r="8.3"/><circle cx="1368.6" cy="1750.8" r="8.3"/><circle cx="1371.3" cy="1750.6" r="8.3"/><circle cx="1374.8" cy="1753.3" r="8.3"/><circle cx="1378.6" cy="1748.7" r="8.3"/><circle cx="1381.6" cy="1750.9" r="8.3"/><circle cx="1383.7" cy="1748.3" r="8.3"/><circle cx="1385.2" cy="1749.9" r="8.3"/><circle cx="1390.2" cy="1748.8" r="8.3"/><circle cx="1391.9" cy="1748.3" r="8.3"/><circle cx="1394" cy="1744.6" r="8.3"/><circle cx="1397.8" cy="1746.6" r="8.3"/><circle cx="1401.3" cy="1745.6" r="8.3"/><circle cx="1402.5" cy="1744.1" r="8.3"/><circle cx="1405.5" cy="1747.3" r="8.3"/><circle cx="1406.8" cy="1744.7" r="8.3"/><circle cx="1409" cy="1744.4" r="8.3"/><circle cx="1414.1" cy="1741.8" r="8.3"/><circle cx="1415.1" cy="1742.3" r="8.3"/><circle cx="1417.5" cy="1743.3" r="8.3"/><circle cx="1420.5" cy="1743.2" r="8.3"/><circle cx="1422.7" cy="1741.7" r="8.3"/><circle cx="1425.1" cy="1743.3" r="8.3"/><circle cx="1429.5" cy="1740.8" r="8.3"/><circle cx="1431" cy="1738.3" r="8.3"/>
</g>
<text x="895.2" y="1663.5" font-size="27">ubH2B-Nuc+DUB-mut+FACT</text>
<text x="871" y="1704.5" font-size="30.5" text-anchor="end">150</text>
<text x="871" y="1796.5" font-size="30.5" text-anchor="end">100</text>
<text x="871" y="1888" font-size="30.5" text-anchor="end">50</text>
<text x="807.5" y="1794.8" font-size="33.5" text-anchor="middle" transform="rotate(-90 807.5 1794.8)">Ext. (nm)</text>
<text x="862.2" y="1925" font-size="30.5" text-anchor="middle">3</text>
<text x="943.5" y="1957" font-size="30.5" text-anchor="middle">2</text>
<text x="1026" y="1987" font-size="30.5" text-anchor="middle">1</text>
<text x="867" y="1955.5" font-size="32.5" transform="rotate(25 867 1955.5)">Repeats</text>
<text x="1076.5" y="1994" font-size="30.5" text-anchor="middle">0</text>
<text x="1185" y="1987" font-size="30.5" text-anchor="middle">10</text>
<text x="1283.4" y="1979.5" font-size="30.5" text-anchor="middle">20</text>
<text x="1382" y="1972" font-size="30.5" text-anchor="middle">30</text>
<text x="1480.5" y="1964.5" font-size="30.5" text-anchor="middle">40</text>
<text x="1230.4" y="2014" font-size="33.5">Force (pN)</text>
<text x="1290.5" y="1676" font-size="25">3</text>
<text x="1361" y="1706" font-size="25">2</text>
<text x="1437" y="1731.8" font-size="25">1</text>
<text x="1356.7" y="1798" font-size="27.5">inner</text>
<text x="1356.7" y="1827" font-size="27.5">wrap</text>
<text x="1190.7" y="1928.5" font-size="27.5">outer wrap</text>
<polygon points="1334.7,1813 1347.3,1829.6 1338.6,1829.6 1338.6,1839.2 1330.8,1839.2 1330.8,1829.6 1322.1,1829.6" fill="#fff" stroke="#3a3a3a" stroke-width="2.4" stroke-linejoin="round"/>
<line x1="1330.4" y1="1844.4" x2="1339" y2="1844.4" stroke="#3a3a3a" stroke-width="2.4" stroke-linecap="round"/>
<line x1="1330.4" y1="1850.3" x2="1339" y2="1850.3" stroke="#3a3a3a" stroke-width="2.4" stroke-linecap="round"/>
<line x1="1330.4" y1="1855.9" x2="1339" y2="1855.9" stroke="#3a3a3a" stroke-width="2.4" stroke-linecap="round"/>
<polygon points="1173.2,1899 1185.8,1915.6 1177.1,1915.6 1177.1,1925.2 1169.3,1925.2 1169.3,1915.6 1160.6,1915.6" fill="#fff" stroke="#3a3a3a" stroke-width="2.4" stroke-linejoin="round"/>
<line x1="1168.9" y1="1930.4" x2="1177.5" y2="1930.4" stroke="#3a3a3a" stroke-width="2.4" stroke-linecap="round"/>
<line x1="1168.9" y1="1936.3" x2="1177.5" y2="1936.3" stroke="#3a3a3a" stroke-width="2.4" stroke-linecap="round"/>
<line x1="1168.9" y1="1941.9" x2="1177.5" y2="1941.9" stroke="#3a3a3a" stroke-width="2.4" stroke-linecap="round"/>
<g fill="#e2f0b6">
<ellipse cx="934" cy="500.5" rx="10.3" ry="18.1" fill="#e2f0b6"/>
<circle cx="941" cy="501.4" r="3.4" fill="#e2f0b6"/>
<circle cx="940.6" cy="509.2" r="3.2" fill="#e2f0b6"/>
<circle cx="938.5" cy="512" r="3.8" fill="#e2f0b6"/>
<circle cx="936.9" cy="515.4" r="3.8" fill="#e2f0b6"/>
<circle cx="933.1" cy="517.1" r="3.1" fill="#e2f0b6"/>
<circle cx="928.4" cy="511.3" r="3.3" fill="#e2f0b6"/>
<circle cx="926.9" cy="504.4" r="3.2" fill="#e2f0b6"/>
<circle cx="926.4" cy="498.2" r="4.1" fill="#e2f0b6"/>
<circle cx="926.7" cy="493.5" r="3.8" fill="#e2f0b6"/>
<circle cx="930" cy="486.1" r="3.8" fill="#e2f0b6"/>
<circle cx="933" cy="485.5" r="3.5" fill="#e2f0b6"/>
<circle cx="934.4" cy="485.7" r="3.4" fill="#e2f0b6"/>
<circle cx="938.9" cy="488.9" r="3.4" fill="#e2f0b6"/>
<circle cx="940.9" cy="492.1" r="3.9" fill="#e2f0b6"/>
</g>
<g fill="#e2f0b6">
<ellipse cx="963" cy="497.5" rx="9.5" ry="16.3" fill="#e2f0b6"/>
<circle cx="970.1" cy="495.7" r="3.3" fill="#e2f0b6"/>
<circle cx="968.7" cy="506.2" r="3.7" fill="#e2f0b6"/>
<circle cx="966.7" cy="509.3" r="2.9" fill="#e2f0b6"/>
<circle cx="965" cy="510.5" r="4" fill="#e2f0b6"/>
<circle cx="960.5" cy="511.2" r="3.3" fill="#e2f0b6"/>
<circle cx="957.9" cy="506.7" r="3.1" fill="#e2f0b6"/>
<circle cx="956.9" cy="503.5" r="3.9" fill="#e2f0b6"/>
<circle cx="956.4" cy="498.1" r="3.4" fill="#e2f0b6"/>
<circle cx="956.8" cy="493.7" r="3.6" fill="#e2f0b6"/>
<circle cx="959.4" cy="486.2" r="3.3" fill="#e2f0b6"/>
<circle cx="962.8" cy="482.1" r="3.9" fill="#e2f0b6"/>
<circle cx="963.2" cy="482.8" r="3.5" fill="#e2f0b6"/>
<circle cx="966.9" cy="486.3" r="3.4" fill="#e2f0b6"/>
<circle cx="969.6" cy="490.7" r="3.1" fill="#e2f0b6"/>
</g>
<g fill="#e8a8b4">
<ellipse cx="948" cy="490.5" rx="8.6" ry="16.3" fill="#e8a8b4"/>
<circle cx="954" cy="490.5" r="3.5" fill="#e8a8b4"/>
<circle cx="954" cy="495.9" r="2.7" fill="#e8a8b4"/>
<circle cx="951.4" cy="503.4" r="3.2" fill="#e8a8b4"/>
<circle cx="950.5" cy="502.8" r="3.6" fill="#e8a8b4"/>
<circle cx="945.6" cy="503.7" r="2.6" fill="#e8a8b4"/>
<circle cx="943" cy="499.8" r="3.1" fill="#e8a8b4"/>
<circle cx="942.7" cy="499.4" r="2.7" fill="#e8a8b4"/>
<circle cx="941.7" cy="490.6" r="3.5" fill="#e8a8b4"/>
<circle cx="942.5" cy="484.5" r="3.4" fill="#e8a8b4"/>
<circle cx="943.7" cy="479.4" r="3.3" fill="#e8a8b4"/>
<circle cx="946.4" cy="477.2" r="2.8" fill="#e8a8b4"/>
<circle cx="949" cy="476.7" r="2.8" fill="#e8a8b4"/>
<circle cx="951.1" cy="478.2" r="3.6" fill="#e8a8b4"/>
<circle cx="953.6" cy="486.3" r="3.3" fill="#e8a8b4"/>
</g>
<ellipse cx="939.1" cy="473.8" rx="7.7" ry="3" fill="#4de3c9" transform="rotate(89 939.1 473.8)"/>
<ellipse cx="939.4" cy="488.2" rx="7.7" ry="3" fill="#4de3c9" transform="rotate(89 939.4 488.2)"/>
<ellipse cx="939.6" cy="502.8" rx="7.7" ry="3" fill="#4de3c9" transform="rotate(89 939.6 502.8)"/>
<ellipse cx="939.9" cy="517.2" rx="7.7" ry="3" fill="#4de3c9" transform="rotate(89 939.9 517.2)"/>
<circle cx="939" cy="466.5" r="1.1" fill="#1f5f55" opacity="0.6"/>
<circle cx="939.2" cy="481" r="1.1" fill="#1f5f55" opacity="0.6"/>
<circle cx="939.5" cy="495.5" r="1.1" fill="#1f5f55" opacity="0.6"/>
<circle cx="939.8" cy="510" r="1.1" fill="#1f5f55" opacity="0.6"/>
<circle cx="940" cy="524.5" r="1.1" fill="#1f5f55" opacity="0.6"/>
<ellipse cx="957.1" cy="473.8" rx="7.7" ry="3" fill="#4de3c9" transform="rotate(89 957.1 473.8)"/>
<ellipse cx="957.4" cy="488.2" rx="7.7" ry="3" fill="#4de3c9" transform="rotate(89 957.4 488.2)"/>
<ellipse cx="957.6" cy="502.8" rx="7.7" ry="3" fill="#4de3c9" transform="rotate(89 957.6 502.8)"/>
<ellipse cx="957.9" cy="517.2" rx="7.7" ry="3" fill="#4de3c9" transform="rotate(89 957.9 517.2)"/>
<circle cx="957" cy="466.5" r="1.1" fill="#1f5f55" opacity="0.6"/>
<circle cx="957.2" cy="481" r="1.1" fill="#1f5f55" opacity="0.6"/>
<circle cx="957.5" cy="495.5" r="1.1" fill="#1f5f55" opacity="0.6"/>
<circle cx="957.8" cy="510" r="1.1" fill="#1f5f55" opacity="0.6"/>
<circle cx="958" cy="524.5" r="1.1" fill="#1f5f55" opacity="0.6"/>
<ellipse cx="892.5" cy="462.4" rx="7.9" ry="4" fill="#4de3c9" transform="rotate(-1 892.5 462.4)"/>
<ellipse cx="907.5" cy="462.1" rx="7.9" ry="4" fill="#4de3c9" transform="rotate(-1 907.5 462.1)"/>
<ellipse cx="922.5" cy="461.9" rx="7.9" ry="4" fill="#4de3c9" transform="rotate(-1 922.5 461.9)"/>
<ellipse cx="937.5" cy="461.6" rx="7.9" ry="4" fill="#4de3c9" transform="rotate(-1 937.5 461.6)"/>
<ellipse cx="952.5" cy="461.4" rx="7.9" ry="4" fill="#4de3c9" transform="rotate(-1 952.5 461.4)"/>
<ellipse cx="967.5" cy="461.1" rx="7.9" ry="4" fill="#4de3c9" transform="rotate(-1 967.5 461.1)"/>
<ellipse cx="982.5" cy="460.9" rx="7.9" ry="4" fill="#4de3c9" transform="rotate(-1 982.5 460.9)"/>
<ellipse cx="997.5" cy="460.6" rx="7.9" ry="4" fill="#4de3c9" transform="rotate(-1 997.5 460.6)"/>
<circle cx="885" cy="462.5" r="1.1" fill="#1f5f55" opacity="0.6"/>
<circle cx="900" cy="462.2" r="1.1" fill="#1f5f55" opacity="0.6"/>
<circle cx="915" cy="462" r="1.1" fill="#1f5f55" opacity="0.6"/>
<circle cx="930" cy="461.8" r="1.1" fill="#1f5f55" opacity="0.6"/>
<circle cx="945" cy="461.5" r="1.1" fill="#1f5f55" opacity="0.6"/>
<circle cx="960" cy="461.2" r="1.1" fill="#1f5f55" opacity="0.6"/>
<circle cx="975" cy="461" r="1.1" fill="#1f5f55" opacity="0.6"/>
<circle cx="990" cy="460.8" r="1.1" fill="#1f5f55" opacity="0.6"/>
<circle cx="1005" cy="460.5" r="1.1" fill="#1f5f55" opacity="0.6"/>
<g fill="none" stroke-linecap="round" stroke-linejoin="round">
<ellipse cx="960" cy="456.5" rx="8.8" ry="6.6" fill="#e98a6e" opacity="0.85"/>
<polyline points="961.1,460.1 966.1,459.4 971.1,458.4 970.6,459.5 970.3,463.3" fill="none" stroke="#c8644a" stroke-width="2.3"/>
<polyline points="967.3,460.3 963.1,462.5 958,461.9 954.1,459.4 957.3,456.4" fill="none" stroke="#c8644a" stroke-width="2.3"/>
<polyline points="953.5,459.9 953,456.1 948.4,454.3 948.5,454.2 948.4,454.7" fill="none" stroke="#c8644a" stroke-width="2.3"/>
<polyline points="960,466.3 956.4,463.5 953.5,460.4 949,462.2 946.7,458.7" fill="none" stroke="#e98a6e" stroke-width="2.3"/>
<polyline points="972.8,454.6 970.6,451.1 968.2,447.8 963.1,447.1 958.1,447.7" fill="none" stroke="#c8644a" stroke-width="2.3"/>
<polyline points="950.2,463.5 950.1,462.8 950.4,462.7 951.2,463 946.7,461.2" fill="none" stroke="#e98a6e" stroke-width="2.3"/>
<polyline points="949.2,453.5 954,454.7 952.8,458.5 950.3,461.8 951.1,462.4" fill="none" stroke="#e98a6e" stroke-width="2.3"/>
<polyline points="969.7,459.2 967.6,455.7 962.5,455.5 962.3,451.7 957.2,451" fill="none" stroke="#c8644a" stroke-width="2.3"/>
<polyline points="950.8,451.8 955.7,452.8 956,456.6 959.9,459.1 962.7,462.3" fill="none" stroke="#e98a6e" stroke-width="2.3"/>
<polyline points="950.9,460.3 950.7,456.4 946.5,454.3 949.5,452.4 949.4,452.5" fill="none" stroke="#e98a6e" stroke-width="2.3"/>
<polyline points="956.5,451.6 951.7,452.9 952.4,456.7 953.8,460.4 948.9,461.3" fill="none" stroke="#e98a6e" stroke-width="2.3"/>
<polyline points="965.6,458.6 960.5,458.9 958.3,455.5 961.9,452.7 963.7,449.1" fill="none" stroke="#c8644a" stroke-width="2.3"/>
<polyline points="965.7,449.1 966.3,449.2 967.7,450.4 965.8,446.9 966.1,447.6" fill="none" stroke="#c8644a" stroke-width="2.3"/>
<polyline points="953.2,448 957.9,446.6 958.3,446.9 959.1,447.1 957.3,447.7" fill="none" stroke="#e98a6e" stroke-width="2.3"/>
<polyline points="958.8,452 953.7,451.7 948.5,451.5 951.2,450.3 955.2,447.9" fill="none" stroke="#c8644a" stroke-width="2.3"/>
<polyline points="953.7,459 956.9,462 958.1,465.7 962.4,467.8 962.5,467" fill="none" stroke="#e98a6e" stroke-width="2.3"/>
<polyline points="958.8,456.9 958.1,460.7 953.1,461.3 948,461.3 945.5,458" fill="none" stroke="#e98a6e" stroke-width="2.3"/>
<polyline points="962.9,459.4 957.8,459.1 955.1,455.9 958,452.7 962.9,453.9" fill="none" stroke="#c8644a" stroke-width="2.3"/>
</g>
<g fill="none" stroke-linecap="round" stroke-linejoin="round">
<ellipse cx="932" cy="445.5" rx="6.3" ry="6.6" fill="#3f78c8" opacity="0.85"/>
<polyline points="932,448.8 935.6,448.2 939,446.5 942.6,446.3 940.4,443.6" fill="none" stroke="#3f78c8" stroke-width="2.3"/>
<polyline points="938.4,437.9 939,440.3 939.3,436.5 939,437.4 937.7,437.2" fill="none" stroke="#3f78c8" stroke-width="2.3"/>
<polyline points="934.9,436.5 933.1,436.7 934.1,437.1 931.8,434.1 933.1,435.2" fill="none" stroke="#3f78c8" stroke-width="2.3"/>
<polyline points="933.5,454.6 931.4,453.9 927.7,453.6 927.2,453.1 929.7,455.9" fill="none" stroke="#2b5aa6" stroke-width="2.3"/>
<polyline points="927.7,453.9 930,450.8 933.2,449.1 935.9,446.4 938.5,449" fill="none" stroke="#3f78c8" stroke-width="2.3"/>
<polyline points="935.1,444.2 936.4,440.6 939.9,441.6 939.8,441.5 939.2,437.7" fill="none" stroke="#3f78c8" stroke-width="2.3"/>
<polyline points="931.3,439.8 928.5,437.4 925,436.1 924.9,437.4 924.5,440.4" fill="none" stroke="#3f78c8" stroke-width="2.3"/>
<polyline points="941.4,445.6 939.2,442.5 939.8,438.7 939.1,438.7 937.6,438.1" fill="none" stroke="#2b5aa6" stroke-width="2.3"/>
<polyline points="929.1,440.5 925.4,440.7 925.4,440.5 921.7,440.5 922.6,443.5" fill="none" stroke="#3f78c8" stroke-width="2.3"/>
<polyline points="927.7,448.7 930.8,450.7 929.4,454.2 928.1,453.2 925.2,450.8" fill="none" stroke="#3f78c8" stroke-width="2.3"/>
<polyline points="929.7,452.7 932.6,450.3 934.9,447.2 937.8,444.9 941.4,444.3" fill="none" stroke="#3f78c8" stroke-width="2.3"/>
<polyline points="927.8,447.2 926.2,443.7 927.9,440.3 925.9,437.1 925.3,440.5" fill="none" stroke="#3f78c8" stroke-width="2.3"/>
<polyline points="928.2,441.1 931.7,439.9 935.3,440.7 938.2,438.3 936.2,437.8" fill="none" stroke="#2b5aa6" stroke-width="2.3"/>
<polyline points="932.2,452.5 929.7,449.7 926.6,447.7 924.5,444.5 920.9,444.5" fill="none" stroke="#3f78c8" stroke-width="2.3"/>
<polyline points="927.2,445.7 924.1,447.9 924,446.6 922.2,443.2 922.6,444.4" fill="none" stroke="#3f78c8" stroke-width="2.3"/>
<polyline points="936.3,454.4 934.4,454.4 935,454 933.1,457.2 931.7,456.2" fill="none" stroke="#3f78c8" stroke-width="2.3"/>
<polyline points="927.2,436.7 929.8,436.9 933.4,437.5 936.6,439.4 937.9,443" fill="none" stroke="#3f78c8" stroke-width="2.3"/>
<polyline points="935.5,438.9 939.2,439.4 939.6,441.4 939.2,440.8 939.4,437" fill="none" stroke="#3f78c8" stroke-width="2.3"/>
</g>
<g fill="none" stroke-linecap="round" stroke-linejoin="round">
<ellipse cx="929" cy="464.5" rx="5.5" ry="5.5" fill="#3f78c8" opacity="0.85"/>
<polyline points="929.6,458.4 926.4,458.2 925.5,461.2 926.7,464.2 929.6,465.6" fill="none" stroke="#2b5aa6" stroke-width="2.3"/>
<polyline points="925.9,463.7 924.4,466.5 921.5,467.8 922.2,470.9 925.4,470.9" fill="none" stroke="#3f78c8" stroke-width="2.3"/>
<polyline points="925.7,466.5 923.4,464.2 921.9,461.4 922.2,458.2 925.3,457.2" fill="none" stroke="#3f78c8" stroke-width="2.3"/>
<polyline points="928.5,464.9 925.3,465.3 923.6,462.6 926.1,460.6 928,458" fill="none" stroke="#3f78c8" stroke-width="2.3"/>
<polyline points="922.7,462.6 925.5,464.1 928.6,465 929.7,462 929.1,458.8" fill="none" stroke="#3f78c8" stroke-width="2.3"/>
<polyline points="926.2,466.5 925.6,469.6 923.9,472.3 926.5,474.2 929.4,471.9" fill="none" stroke="#3f78c8" stroke-width="2.3"/>
<polyline points="935.7,465.7 938.1,467.8 937.1,465.3 938.5,462.5 937.1,459.6" fill="none" stroke="#2b5aa6" stroke-width="2.3"/>
<polyline points="929.4,459.3 932.2,457.8 931.9,457.6 929.1,456.1 927.4,458.8" fill="none" stroke="#3f78c8" stroke-width="2.3"/>
<polyline points="934,464.5 934.9,461.4 937.1,459.1 936.9,460.7 937.3,463.9" fill="none" stroke="#2b5aa6" stroke-width="2.3"/>
<polyline points="932.3,464.9 933,468 933.1,471.2 933.7,470.5 932.9,470.9" fill="none" stroke="#3f78c8" stroke-width="2.3"/>
<polyline points="932.3,470.3 929.2,469.2 928.5,466.1 931.6,465.1 931.6,461.9" fill="none" stroke="#2b5aa6" stroke-width="2.3"/>
<polyline points="926.3,471 929,469.2 932.2,469.5 933.2,466.4 935.7,464.5" fill="none" stroke="#3f78c8" stroke-width="2.3"/>
<polyline points="935,469 937.6,467.1 936.8,464 936.6,463.5 936.1,465.1" fill="none" stroke="#2b5aa6" stroke-width="2.3"/>
<polyline points="924.3,466.8 921.5,468.2 922,465.7 922.3,462.6 922.3,462.2" fill="none" stroke="#3f78c8" stroke-width="2.3"/>
</g>
<line x1="1036.6" y1="471.7" x2="1064" y2="471.7" stroke="#000" stroke-width="3.2"/>
<polygon points="1028.6,471.7 1040.6,464.7 1040.6,478.7" fill="#000"/>
<polygon points="1072,471.7 1060,464.7 1060,478.7" fill="#000"/>
<ellipse cx="1107.5" cy="507.8" rx="7.9" ry="4" fill="#4de3c9" transform="rotate(-1.2 1107.5 507.8)"/>
<ellipse cx="1122.5" cy="507.5" rx="7.9" ry="4" fill="#4de3c9" transform="rotate(-1.2 1122.5 507.5)"/>
<ellipse cx="1137.5" cy="507.2" rx="7.9" ry="4" fill="#4de3c9" transform="rotate(-1.2 1137.5 507.2)"/>
<ellipse cx="1152.5" cy="506.9" rx="7.9" ry="4" fill="#4de3c9" transform="rotate(-1.2 1152.5 506.9)"/>
<ellipse cx="1167.5" cy="506.6" rx="7.9" ry="4" fill="#4de3c9" transform="rotate(-1.2 1167.5 506.6)"/>
<ellipse cx="1182.5" cy="506.3" rx="7.9" ry="4" fill="#4de3c9" transform="rotate(-1.2 1182.5 506.3)"/>
<ellipse cx="1197.5" cy="506" rx="7.9" ry="4" fill="#4de3c9" transform="rotate(-1.2 1197.5 506)"/>
<ellipse cx="1212.5" cy="505.7" rx="7.9" ry="4" fill="#4de3c9" transform="rotate(-1.2 1212.5 505.7)"/>
<circle cx="1100" cy="508" r="1.1" fill="#1f5f55" opacity="0.6"/>
<circle cx="1115" cy="507.7" r="1.1" fill="#1f5f55" opacity="0.6"/>
<circle cx="1130" cy="507.4" r="1.1" fill="#1f5f55" opacity="0.6"/>
<circle cx="1145" cy="507.1" r="1.1" fill="#1f5f55" opacity="0.6"/>
<circle cx="1160" cy="506.8" r="1.1" fill="#1f5f55" opacity="0.6"/>
<circle cx="1175" cy="506.4" r="1.1" fill="#1f5f55" opacity="0.6"/>
<circle cx="1190" cy="506.1" r="1.1" fill="#1f5f55" opacity="0.6"/>
<circle cx="1205" cy="505.8" r="1.1" fill="#1f5f55" opacity="0.6"/>
<circle cx="1220" cy="505.5" r="1.1" fill="#1f5f55" opacity="0.6"/>
<g fill="#e8a8b4">
<ellipse cx="1162" cy="479.5" rx="20.6" ry="17.5" fill="#e8a8b4"/>
<circle cx="1179" cy="480.2" r="6.2" fill="#e8a8b4"/>
<circle cx="1176.9" cy="485.9" r="7.1" fill="#e8a8b4"/>
<circle cx="1171.9" cy="489.5" r="6.9" fill="#e8a8b4"/>
<circle cx="1167.3" cy="492.3" r="5.4" fill="#e8a8b4"/>
<circle cx="1156.3" cy="491.4" r="6.6" fill="#e8a8b4"/>
<circle cx="1153.3" cy="490.5" r="5.6" fill="#e8a8b4"/>
<circle cx="1147.7" cy="486.2" r="7.2" fill="#e8a8b4"/>
<circle cx="1146.5" cy="478.6" r="7.4" fill="#e8a8b4"/>
<circle cx="1145.9" cy="475.9" r="7" fill="#e8a8b4"/>
<circle cx="1152.7" cy="468.9" r="7" fill="#e8a8b4"/>
<circle cx="1156.2" cy="467.2" r="5.9" fill="#e8a8b4"/>
<circle cx="1166.1" cy="467" r="6.2" fill="#e8a8b4"/>
<circle cx="1173" cy="470" r="5.8" fill="#e8a8b4"/>
<circle cx="1174.9" cy="473.1" r="5.5" fill="#e8a8b4"/>
</g>
<g fill="#e2f0b6">
<ellipse cx="1159" cy="486.5" rx="11.6" ry="21.5" fill="#e2f0b6"/>
<circle cx="1167.9" cy="486.8" r="3.8" fill="#e2f0b6"/>
<circle cx="1167" cy="495.3" r="4.2" fill="#e2f0b6"/>
<circle cx="1164.5" cy="499.7" r="3.8" fill="#e2f0b6"/>
<circle cx="1161.7" cy="504.6" r="3.9" fill="#e2f0b6"/>
<circle cx="1155.6" cy="504.6" r="3.6" fill="#e2f0b6"/>
<circle cx="1152.8" cy="500.3" r="4.3" fill="#e2f0b6"/>
<circle cx="1151.5" cy="494.6" r="3.5" fill="#e2f0b6"/>
<circle cx="1150.7" cy="483" r="4.1" fill="#e2f0b6"/>
<circle cx="1150.7" cy="481.6" r="3.7" fill="#e2f0b6"/>
<circle cx="1154" cy="470" r="3.6" fill="#e2f0b6"/>
<circle cx="1158" cy="466.6" r="3.8" fill="#e2f0b6"/>
<circle cx="1160.9" cy="468.1" r="4.8" fill="#e2f0b6"/>
<circle cx="1165.3" cy="473.9" r="4.4" fill="#e2f0b6"/>
<circle cx="1167.5" cy="480.2" r="3.8" fill="#e2f0b6"/>
</g>
<ellipse cx="1169.6" cy="453.9" rx="8.2" ry="3.3" fill="#4de3c9" transform="rotate(14.6 1169.6 453.9)"/>
<ellipse cx="1182.9" cy="461.3" rx="8.2" ry="3.3" fill="#4de3c9" transform="rotate(44.1 1182.9 461.3)"/>
<ellipse cx="1190.5" cy="474.1" rx="8.2" ry="3.3" fill="#4de3c9" transform="rotate(74.6 1190.5 474.1)"/>
<ellipse cx="1190.5" cy="488.9" rx="8.2" ry="3.3" fill="#4de3c9" transform="rotate(105.4 1190.5 488.9)"/>
<ellipse cx="1182.9" cy="501.7" rx="8.2" ry="3.3" fill="#4de3c9" transform="rotate(135.9 1182.9 501.7)"/>
<ellipse cx="1169.6" cy="509.1" rx="8.2" ry="3.3" fill="#4de3c9" transform="rotate(165.4 1169.6 509.1)"/>
<ellipse cx="1154.4" cy="509.1" rx="8.2" ry="3.3" fill="#4de3c9" transform="rotate(-165.4 1154.4 509.1)"/>
<ellipse cx="1141.1" cy="501.7" rx="8.2" ry="3.3" fill="#4de3c9" transform="rotate(-135.9 1141.1 501.7)"/>
<ellipse cx="1133.5" cy="488.9" rx="8.2" ry="3.3" fill="#4de3c9" transform="rotate(-105.4 1133.5 488.9)"/>
<ellipse cx="1133.5" cy="474.1" rx="8.2" ry="3.3" fill="#4de3c9" transform="rotate(-74.6 1133.5 474.1)"/>
<ellipse cx="1141.1" cy="461.3" rx="8.2" ry="3.3" fill="#4de3c9" transform="rotate(-44.1 1141.1 461.3)"/>
<ellipse cx="1154.4" cy="453.9" rx="8.2" ry="3.3" fill="#4de3c9" transform="rotate(-14.6 1154.4 453.9)"/>
<g fill="none" stroke-linecap="round" stroke-linejoin="round">
<ellipse cx="1168" cy="441.5" rx="7.7" ry="8.2" fill="#e98a6e" opacity="0.85"/>
<polyline points="1165.5,437.2 1169.8,436 1168.5,431.4 1166.6,427 1166.6,428" fill="none" stroke="#c8644a" stroke-width="2.3"/>
<polyline points="1169.2,452.1 1167.2,447.8 1167.9,443.1 1172.4,442.8 1175.3,446.4" fill="none" stroke="#e98a6e" stroke-width="2.3"/>
<polyline points="1161.9,431 1157.7,432.6 1157.7,434.8 1160.4,433.5 1164,430.6" fill="none" stroke="#c8644a" stroke-width="2.3"/>
<polyline points="1171.3,447.6 1172.3,442.9 1170.3,438.6 1165.8,439.1 1161.9,436.7" fill="none" stroke="#e98a6e" stroke-width="2.3"/>
<polyline points="1175.9,438.3 1175,443 1179.3,444.4 1179.1,443.8 1178.5,441.5" fill="none" stroke="#c8644a" stroke-width="2.3"/>
<polyline points="1177.8,448.3 1181,444.9 1179.6,445.9 1176.7,449.6 1172.5,451.2" fill="none" stroke="#c8644a" stroke-width="2.3"/>
<polyline points="1178,444.3 1173.7,442.9 1174,438.1 1170.3,435.3 1167.5,431.6" fill="none" stroke="#e98a6e" stroke-width="2.3"/>
<polyline points="1164.4,441.7 1164,446.5 1161.4,450.4 1157,449.4 1157.4,448.2" fill="none" stroke="#e98a6e" stroke-width="2.3"/>
<polyline points="1165.2,453.5 1167.6,449.5 1169.4,445.1 1168.6,440.4 1165.6,436.8" fill="none" stroke="#e98a6e" stroke-width="2.3"/>
<polyline points="1161,446.7 1165,448.7 1168.8,451.3 1173.1,452.6 1176.5,449.5" fill="none" stroke="#e98a6e" stroke-width="2.3"/>
<polyline points="1168.4,431.4 1164.9,428.4 1163.8,429.8 1166.9,430.6 1168.6,430.9" fill="none" stroke="#e98a6e" stroke-width="2.3"/>
<polyline points="1176.5,450.2 1172.1,450.9 1170.6,455.5 1168.4,454.2 1166.3,453.1" fill="none" stroke="#c8644a" stroke-width="2.3"/>
<polyline points="1179.4,440.9 1178.9,445.7 1174.8,447.6 1170.7,449.5 1166.4,448.1" fill="none" stroke="#e98a6e" stroke-width="2.3"/>
<polyline points="1166.4,453 1169,449.1 1172.2,445.8 1174,441.4 1178.4,442.3" fill="none" stroke="#e98a6e" stroke-width="2.3"/>
<polyline points="1176,433.4 1172.1,435.6 1168.8,438.8 1165.2,436 1161.7,433" fill="none" stroke="#e98a6e" stroke-width="2.3"/>
<polyline points="1166.7,448.3 1169.1,444.3 1171.4,440.2 1168.9,436.2 1166.9,431.9" fill="none" stroke="#c8644a" stroke-width="2.3"/>
<polyline points="1159.7,438.5 1156.7,442.1 1158,446.7 1159.9,448.3 1160.6,449.1" fill="none" stroke="#c8644a" stroke-width="2.3"/>
<polyline points="1168.4,438.9 1171,435 1175.5,435.2 1179.7,433.7 1179.3,436.7" fill="none" stroke="#e98a6e" stroke-width="2.3"/>
</g>
<g fill="none" stroke-linecap="round" stroke-linejoin="round">
<ellipse cx="1153" cy="434.5" rx="7.2" ry="7.2" fill="#3f78c8" opacity="0.85"/>
<polyline points="1160.7,433.6 1164.8,434.6 1163.7,436 1163.2,440.1 1159.1,441.1" fill="none" stroke="#3f78c8" stroke-width="2.3"/>
<polyline points="1145.6,433.3 1143.8,429.6 1143.9,425.4 1144.1,426.7 1144.1,427.9" fill="none" stroke="#3f78c8" stroke-width="2.3"/>
<polyline points="1148.1,442.3 1150.1,438.7 1154.3,438.9 1155.8,442.8 1158.6,445.8" fill="none" stroke="#2b5aa6" stroke-width="2.3"/>
<polyline points="1151.1,425.1 1149.8,425.7 1146.2,427.8 1142,428.2 1144.4,427.4" fill="none" stroke="#3f78c8" stroke-width="2.3"/>
<polyline points="1152.9,427.2 1154.9,430.8 1152.4,434.1 1150.4,437.8 1146.7,439.6" fill="none" stroke="#3f78c8" stroke-width="2.3"/>
<polyline points="1162.5,437.3 1163,441.4 1162.8,440.2 1162.5,439.7 1162,439.8" fill="none" stroke="#3f78c8" stroke-width="2.3"/>
<polyline points="1154.5,437.2 1158.3,435.5 1159.6,431.5 1163.7,431.8 1161.9,430" fill="none" stroke="#3f78c8" stroke-width="2.3"/>
<polyline points="1152.9,440.1 1155,443.7 1152.2,446.7 1149.6,443.8 1150,443.8" fill="none" stroke="#3f78c8" stroke-width="2.3"/>
<polyline points="1148.2,441.5 1144.9,439 1144.4,438.2 1142,434.8 1142.4,434.8" fill="none" stroke="#3f78c8" stroke-width="2.3"/>
<polyline points="1147.6,435.1 1144.4,432.4 1147.1,429.2 1147.3,425.1 1151.4,425.1" fill="none" stroke="#3f78c8" stroke-width="2.3"/>
<polyline points="1151.7,442.7 1153.3,438.9 1149.6,436.8 1146.9,433.7 1144.1,430.6" fill="none" stroke="#3f78c8" stroke-width="2.3"/>
<polyline points="1150.8,444.1 1146.7,443.3 1143.4,440.8 1141.2,437.3 1141.3,433.1" fill="none" stroke="#3f78c8" stroke-width="2.3"/>
<polyline points="1147.5,426 1149.6,422.4 1153.1,424.4 1154.1,424.8 1154.4,424.8" fill="none" stroke="#3f78c8" stroke-width="2.3"/>
<polyline points="1152.6,431.2 1149,433.2 1148.8,437.3 1152.6,439.1 1156.1,441.3" fill="none" stroke="#3f78c8" stroke-width="2.3"/>
<polyline points="1142.6,432.5 1141.5,428.5 1144.4,425.5 1148.9,426 1153,426.5" fill="none" stroke="#3f78c8" stroke-width="2.3"/>
<polyline points="1151,437.7 1151.8,433.6 1155.9,434.1 1157.2,438 1155.5,441.8" fill="none" stroke="#3f78c8" stroke-width="2.3"/>
<polyline points="1162.7,432.5 1158.6,432.1 1158.1,436.3 1157.2,440.3 1156.9,444.5" fill="none" stroke="#3f78c8" stroke-width="2.3"/>
<polyline points="1149,427 1153,428.2 1155.4,424.8 1154,424.9 1149.9,425.7" fill="none" stroke="#3f78c8" stroke-width="2.3"/>
</g>
<g fill="none" stroke-linecap="round" stroke-linejoin="round">
<ellipse cx="1146" cy="458.5" rx="6.6" ry="6.3" fill="#3f78c8" opacity="0.85"/>
<polyline points="1137,455 1140.8,455 1142.8,458.1 1140.1,460.8 1139.6,464.4" fill="none" stroke="#3f78c8" stroke-width="2.3"/>
<polyline points="1152.3,465.8 1149.6,466.1 1150.7,465.3 1149.7,468.8 1150.7,467.3" fill="none" stroke="#3f78c8" stroke-width="2.3"/>
<polyline points="1141.8,451.1 1145,449 1148.7,449.7 1149.5,450.3 1149.4,450.3" fill="none" stroke="#2b5aa6" stroke-width="2.3"/>
<polyline points="1139.5,458.9 1138.6,455.3 1136.3,452.4 1137.3,452.5 1139.5,449.5" fill="none" stroke="#3f78c8" stroke-width="2.3"/>
<polyline points="1152.9,463.2 1153.8,459.7 1152.9,456.1 1151,452.9 1147.1,452.8" fill="none" stroke="#2b5aa6" stroke-width="2.3"/>
<polyline points="1150,453.1 1149.6,449.5 1149.1,449.7 1145.4,448.7 1144.5,449.3" fill="none" stroke="#2b5aa6" stroke-width="2.3"/>
<polyline points="1151.4,463.7 1152.5,467.2 1153.1,465.5 1156.3,463.5 1155.4,463.5" fill="none" stroke="#2b5aa6" stroke-width="2.3"/>
<polyline points="1151.8,465.9 1151.1,466.1 1152.3,463.9 1153.8,460.5 1152.4,457.1" fill="none" stroke="#2b5aa6" stroke-width="2.3"/>
<polyline points="1145.1,457.2 1147.1,460.3 1150.9,461 1154.5,459.6 1155,456" fill="none" stroke="#2b5aa6" stroke-width="2.3"/>
<polyline points="1145.6,451.4 1145.2,447.8 1147.4,449.2 1148.9,450.2 1146.9,450.4" fill="none" stroke="#3f78c8" stroke-width="2.3"/>
<polyline points="1148,457.8 1151.8,457.1 1155.6,456.7 1155.3,456.6 1156.6,460.1" fill="none" stroke="#2b5aa6" stroke-width="2.3"/>
<polyline points="1139.6,459.3 1138,456 1140.9,453.6 1139.1,450.4 1138.6,453.5" fill="none" stroke="#3f78c8" stroke-width="2.3"/>
<polyline points="1150.9,460.6 1148.8,457.5 1145.3,455.9 1147,452.6 1148.9,449.5" fill="none" stroke="#3f78c8" stroke-width="2.3"/>
<polyline points="1143.5,456.6 1146.3,454.1 1150,453.2 1153.2,455.2 1154.2,458.8" fill="none" stroke="#2b5aa6" stroke-width="2.3"/>
</g>
<line x1="1265" y1="471.5" x2="1291" y2="471.5" stroke="#000" stroke-width="3.2"/>
<polygon points="1257,471.5 1269,464.5 1269,478.5" fill="#000"/>
<polygon points="1299,471.5 1287,464.5 1287,478.5" fill="#000"/>
<g fill="#e2f0b6">
<ellipse cx="1390" cy="497" rx="11.2" ry="18.9" fill="#e2f0b6"/>
<circle cx="1397.8" cy="496.7" r="4" fill="#e2f0b6"/>
<circle cx="1397" cy="503.6" r="4.3" fill="#e2f0b6"/>
<circle cx="1395.1" cy="510.2" r="3.4" fill="#e2f0b6"/>
<circle cx="1390.7" cy="512.4" r="4.4" fill="#e2f0b6"/>
<circle cx="1387.2" cy="512.7" r="4.1" fill="#e2f0b6"/>
<circle cx="1385.6" cy="510.3" r="4.3" fill="#e2f0b6"/>
<circle cx="1381.9" cy="502.8" r="4.7" fill="#e2f0b6"/>
<circle cx="1382" cy="496.3" r="3.6" fill="#e2f0b6"/>
<circle cx="1383.2" cy="489.4" r="4.6" fill="#e2f0b6"/>
<circle cx="1384.3" cy="484.5" r="4.5" fill="#e2f0b6"/>
<circle cx="1389.2" cy="479.7" r="4.2" fill="#e2f0b6"/>
<circle cx="1392.1" cy="480" r="4.5" fill="#e2f0b6"/>
<circle cx="1394.3" cy="482.7" r="3.8" fill="#e2f0b6"/>
<circle cx="1396.6" cy="488.4" r="4.2" fill="#e2f0b6"/>
</g>
<g fill="#e2f0b6">
<ellipse cx="1420" cy="495" rx="6.9" ry="14.6" fill="#e2f0b6"/>
<circle cx="1424.7" cy="494.5" r="2.1" fill="#e2f0b6"/>
<circle cx="1424.1" cy="501.9" r="2.4" fill="#e2f0b6"/>
<circle cx="1423.5" cy="505.4" r="2.6" fill="#e2f0b6"/>
<circle cx="1421.8" cy="506.7" r="2.6" fill="#e2f0b6"/>
<circle cx="1418.6" cy="508.1" r="2.5" fill="#e2f0b6"/>
<circle cx="1417.1" cy="506.1" r="2.1" fill="#e2f0b6"/>
<circle cx="1415.7" cy="501.3" r="2.5" fill="#e2f0b6"/>
<circle cx="1415.3" cy="494.1" r="2.6" fill="#e2f0b6"/>
<circle cx="1415.3" cy="491.8" r="2.2" fill="#e2f0b6"/>
<circle cx="1416.6" cy="486.2" r="2.7" fill="#e2f0b6"/>
<circle cx="1418.3" cy="482.1" r="2.5" fill="#e2f0b6"/>
<circle cx="1421.8" cy="483.4" r="2.8" fill="#e2f0b6"/>
<circle cx="1422.2" cy="482.4" r="2.8" fill="#e2f0b6"/>
<circle cx="1424.7" cy="489.4" r="2.4" fill="#e2f0b6"/>
</g>
<g fill="#e8a8b4">
<ellipse cx="1407" cy="485" rx="12.5" ry="17.2" fill="#e8a8b4"/>
<circle cx="1415.3" cy="482.9" r="5" fill="#e8a8b4"/>
<circle cx="1415.5" cy="492.2" r="3.9" fill="#e8a8b4"/>
<circle cx="1411.5" cy="497.4" r="4.6" fill="#e8a8b4"/>
<circle cx="1409.3" cy="498.4" r="4.3" fill="#e8a8b4"/>
<circle cx="1406.2" cy="498.3" r="4.5" fill="#e8a8b4"/>
<circle cx="1400.4" cy="494.9" r="5" fill="#e8a8b4"/>
<circle cx="1398.7" cy="489.2" r="4" fill="#e8a8b4"/>
<circle cx="1397.5" cy="484.4" r="4" fill="#e8a8b4"/>
<circle cx="1399.3" cy="477.2" r="4.9" fill="#e8a8b4"/>
<circle cx="1400.8" cy="474" r="4.7" fill="#e8a8b4"/>
<circle cx="1405.3" cy="470.7" r="4" fill="#e8a8b4"/>
<circle cx="1407.5" cy="471.3" r="4.2" fill="#e8a8b4"/>
<circle cx="1411.3" cy="472.9" r="4.4" fill="#e8a8b4"/>
<circle cx="1414.8" cy="477.2" r="5.1" fill="#e8a8b4"/>
</g>
<ellipse cx="1345.9" cy="471.4" rx="8" ry="4" fill="#4de3c9" transform="rotate(-4.6 1345.9 471.4)"/>
<ellipse cx="1361.1" cy="470.2" rx="8" ry="4" fill="#4de3c9" transform="rotate(-4.6 1361.1 470.2)"/>
<ellipse cx="1376.3" cy="468.9" rx="8" ry="4" fill="#4de3c9" transform="rotate(-4.6 1376.3 468.9)"/>
<ellipse cx="1391.5" cy="467.7" rx="8" ry="4" fill="#4de3c9" transform="rotate(-4.6 1391.5 467.7)"/>
<ellipse cx="1406.8" cy="466.5" rx="8" ry="4" fill="#4de3c9" transform="rotate(-4.6 1406.8 466.5)"/>
<ellipse cx="1422" cy="465.3" rx="8" ry="4" fill="#4de3c9" transform="rotate(-4.6 1422 465.3)"/>
<ellipse cx="1437.2" cy="464" rx="8" ry="4" fill="#4de3c9" transform="rotate(-4.6 1437.2 464)"/>
<ellipse cx="1452.4" cy="462.8" rx="8" ry="4" fill="#4de3c9" transform="rotate(-4.6 1452.4 462.8)"/>
<circle cx="1338.3" cy="472" r="1.1" fill="#1f5f55" opacity="0.6"/>
<circle cx="1353.5" cy="470.8" r="1.1" fill="#1f5f55" opacity="0.6"/>
<circle cx="1368.7" cy="469.6" r="1.1" fill="#1f5f55" opacity="0.6"/>
<circle cx="1383.9" cy="468.3" r="1.1" fill="#1f5f55" opacity="0.6"/>
<circle cx="1399.2" cy="467.1" r="1.1" fill="#1f5f55" opacity="0.6"/>
<circle cx="1414.4" cy="465.9" r="1.1" fill="#1f5f55" opacity="0.6"/>
<circle cx="1429.6" cy="464.6" r="1.1" fill="#1f5f55" opacity="0.6"/>
<circle cx="1444.8" cy="463.4" r="1.1" fill="#1f5f55" opacity="0.6"/>
<circle cx="1460" cy="462.2" r="1.1" fill="#1f5f55" opacity="0.6"/>
<g fill="none" stroke-linecap="round" stroke-linejoin="round">
<ellipse cx="1408" cy="451" rx="7.7" ry="8.8" fill="#e98a6e" opacity="0.85"/>
<polyline points="1413.7,442.6 1409.3,443 1404.8,442.5 1402.5,438.1 1406.2,439.3" fill="none" stroke="#e98a6e" stroke-width="2.3"/>
<polyline points="1411.5,440.8 1409.9,445.6 1412.9,449.3 1416.7,446.5 1415.5,441.6" fill="none" stroke="#e98a6e" stroke-width="2.3"/>
<polyline points="1402.4,460.6 1402.5,460.8 1403.6,465.7 1406.3,464.5 1408.7,463.3" fill="none" stroke="#e98a6e" stroke-width="2.3"/>
<polyline points="1411.9,458 1412.3,463.1 1412.8,462.4 1412.3,462.4 1409.6,466.5" fill="none" stroke="#e98a6e" stroke-width="2.3"/>
<polyline points="1411.3,452.7 1407.3,450.5 1405.4,445.9 1405.8,440.8 1410.2,439.8" fill="none" stroke="#e98a6e" stroke-width="2.3"/>
<polyline points="1403.5,460 1407.6,462 1406.7,462.1 1403,465 1402.7,463.7" fill="none" stroke="#e98a6e" stroke-width="2.3"/>
<polyline points="1414.1,448.1 1409.7,447.3 1407.9,442.6 1408.5,437.5 1411.3,440.2" fill="none" stroke="#e98a6e" stroke-width="2.3"/>
<polyline points="1404.6,441.9 1401.1,438.7 1400.1,441.6 1399.4,445.2 1397.9,450" fill="none" stroke="#c8644a" stroke-width="2.3"/>
<polyline points="1415.9,447.9 1420.2,449.3 1418,446.6 1418.1,448 1419.5,443.1" fill="none" stroke="#e98a6e" stroke-width="2.3"/>
<polyline points="1413.7,440 1415,442.3 1418.8,445 1418.1,444.8 1416.7,443.6" fill="none" stroke="#c8644a" stroke-width="2.3"/>
<polyline points="1413.1,440.6 1410.2,436.7 1407.1,438.7 1403,436.8 1402.6,438.1" fill="none" stroke="#c8644a" stroke-width="2.3"/>
<polyline points="1402,453.5 1401.3,448.4 1401,443.3 1401.1,442.8 1402.5,438" fill="none" stroke="#e98a6e" stroke-width="2.3"/>
<polyline points="1411.7,443.9 1413.2,448.7 1415.3,453.3 1419.4,455.2 1419.1,454" fill="none" stroke="#e98a6e" stroke-width="2.3"/>
<polyline points="1418.5,448.4 1415.2,445 1410.7,445.3 1406.6,443.4 1406.6,438.3" fill="none" stroke="#e98a6e" stroke-width="2.3"/>
<polyline points="1416.7,458.5 1416.5,453.4 1419.7,449.8 1420,444.7 1419.5,445.8" fill="none" stroke="#c8644a" stroke-width="2.3"/>
<polyline points="1397.3,456.1 1398.8,460.9 1402,464.4 1405.3,460.9 1402.7,456.7" fill="none" stroke="#e98a6e" stroke-width="2.3"/>
<polyline points="1409.1,464.5 1410.8,463.1 1408.1,462.3 1403.7,461.5 1400.1,458.4" fill="none" stroke="#e98a6e" stroke-width="2.3"/>
<polyline points="1412.1,456.5 1416.2,454.4 1416.1,449.2 1418.7,445.1 1416.9,443.7" fill="none" stroke="#c8644a" stroke-width="2.3"/>
</g>
<g fill="none" stroke-linecap="round" stroke-linejoin="round">
<ellipse cx="1394" cy="439" rx="6.9" ry="6.1" fill="#3f78c8" opacity="0.85"/>
<polyline points="1398.7,441.3 1401.3,438.5 1405.2,438 1404.6,438.1 1402.2,436" fill="none" stroke="#2b5aa6" stroke-width="2.3"/>
<polyline points="1393.3,440.9 1389.6,439.4 1385.8,438.4 1383.5,441.3 1384,439.7" fill="none" stroke="#3f78c8" stroke-width="2.3"/>
<polyline points="1401.6,439.7 1405.3,441 1404.7,440.8 1403.9,441.5 1403.6,440" fill="none" stroke="#3f78c8" stroke-width="2.3"/>
<polyline points="1392.4,436.7 1392.5,433.1 1393,429.6 1393.7,430 1397.6,430.4" fill="none" stroke="#3f78c8" stroke-width="2.3"/>
<polyline points="1388.4,443.1 1391.3,440.7 1391.4,437.2 1387.4,437 1385.2,434" fill="none" stroke="#2b5aa6" stroke-width="2.3"/>
<polyline points="1393.1,431.6 1396.2,429.4 1396.5,430 1392.9,428.4 1391,430.2" fill="none" stroke="#3f78c8" stroke-width="2.3"/>
<polyline points="1398.3,446.4 1394.6,445 1391.9,442.4 1392.8,439 1389.2,437.5" fill="none" stroke="#3f78c8" stroke-width="2.3"/>
<polyline points="1388.4,440.3 1391.5,438.1 1389.3,435.2 1392.2,432.7 1395.2,430.4" fill="none" stroke="#3f78c8" stroke-width="2.3"/>
<polyline points="1388.8,437.7 1385.6,435.7 1385.3,436.4 1383.3,433.3 1388.2,433.1" fill="none" stroke="#2b5aa6" stroke-width="2.3"/>
<polyline points="1398.6,443 1402.6,443.3 1400.6,444.4 1400.2,444.8 1397,446.9" fill="none" stroke="#3f78c8" stroke-width="2.3"/>
<polyline points="1383.8,439.1 1385.5,436.9 1386.5,433.5 1386.2,434 1386.6,433.8" fill="none" stroke="#3f78c8" stroke-width="2.3"/>
<polyline points="1388.2,437.5 1390.3,440.5 1394,441.9 1397,444.2 1400.5,445.9" fill="none" stroke="#3f78c8" stroke-width="2.3"/>
<polyline points="1392.7,440.5 1393.8,437.2 1397.6,438.2 1401.3,436.8 1403,440" fill="none" stroke="#3f78c8" stroke-width="2.3"/>
<polyline points="1401.6,442.4 1397.6,442 1394.5,439.8 1396.6,436.8 1394.4,433.9" fill="none" stroke="#3f78c8" stroke-width="2.3"/>
<polyline points="1394.4,437.3 1395.4,440.7 1397.9,443.4 1401.4,445.1 1401.3,444.9" fill="none" stroke="#3f78c8" stroke-width="2.3"/>
<polyline points="1389.5,430.8 1388.1,433.2 1384.2,432.2 1384.5,433.4 1384.6,434.9" fill="none" stroke="#3f78c8" stroke-width="2.3"/>
<polyline points="1394,442.1 1393.6,438.6 1391.9,435.5 1390.9,432.1 1387.5,430.2" fill="none" stroke="#2b5aa6" stroke-width="2.3"/>
<polyline points="1384,442.1 1384.2,441.2 1384.3,440.6 1383.1,444 1383.6,442.8" fill="none" stroke="#3f78c8" stroke-width="2.3"/>
</g>
<g fill="none" stroke-linecap="round" stroke-linejoin="round">
<ellipse cx="1387" cy="465.5" rx="6.1" ry="6.1" fill="#3f78c8" opacity="0.85"/>
<polyline points="1392,461.8 1393.5,465 1391.3,467.7 1391,471.2 1392.4,474.5" fill="none" stroke="#2b5aa6" stroke-width="2.3"/>
<polyline points="1378.5,463.2 1381.9,462.3 1383.4,465.5 1383.5,469 1380.7,471.1" fill="none" stroke="#3f78c8" stroke-width="2.3"/>
<polyline points="1390,468.4 1389.2,471.8 1392.6,472.8 1393.1,471.7 1393.8,469.9" fill="none" stroke="#3f78c8" stroke-width="2.3"/>
<polyline points="1380.1,463.2 1383.6,462.9 1383.7,466.4 1381.6,469.2 1379.2,471.8" fill="none" stroke="#3f78c8" stroke-width="2.3"/>
<polyline points="1388.1,463.2 1391.5,464.2 1395,464.6 1397.7,466.9 1396.9,467" fill="none" stroke="#3f78c8" stroke-width="2.3"/>
<polyline points="1388.4,458.2 1385.3,459.9 1382.7,462.2 1379.8,460.2 1377.4,462.8" fill="none" stroke="#2b5aa6" stroke-width="2.3"/>
<polyline points="1389.2,468.6 1386,470.1 1383.9,473 1380.8,471.4 1381.4,467.9" fill="none" stroke="#3f78c8" stroke-width="2.3"/>
<polyline points="1387,473 1384.7,475.7 1385.3,475.1 1385.4,474.6 1385.4,474.3" fill="none" stroke="#2b5aa6" stroke-width="2.3"/>
<polyline points="1390.4,464.2 1390.9,460.7 1392.5,457.6 1393.3,459.9 1396.8,460.6" fill="none" stroke="#3f78c8" stroke-width="2.3"/>
<polyline points="1389,465.9 1387.5,462.7 1387.6,459.1 1390.4,457 1390.8,457.5" fill="none" stroke="#3f78c8" stroke-width="2.3"/>
<polyline points="1379.6,465.6 1376.1,465.1 1376.9,465 1378.7,463 1379,459.5" fill="none" stroke="#2b5aa6" stroke-width="2.3"/>
<polyline points="1389.1,466.5 1385.9,468 1385.2,471.4 1383.4,474.5 1384.6,474.2" fill="none" stroke="#3f78c8" stroke-width="2.3"/>
<polyline points="1386.1,456.9 1387,457.1 1386.5,457.2 1386.7,457.2 1385.5,457.6" fill="none" stroke="#3f78c8" stroke-width="2.3"/>
<polyline points="1386.5,470.1 1390,469.9 1393.2,468.4 1396.7,468.2 1395.4,465.5" fill="none" stroke="#3f78c8" stroke-width="2.3"/>
</g>
<g fill="#e2f0b6">
<ellipse cx="951.5" cy="1007.5" rx="10.3" ry="18.1" fill="#e2f0b6"/>
<circle cx="958.8" cy="1005.3" r="3.5" fill="#e2f0b6"/>
<circle cx="957.9" cy="1015.9" r="3.7" fill="#e2f0b6"/>
<circle cx="956.2" cy="1020" r="3.8" fill="#e2f0b6"/>
<circle cx="951.8" cy="1023" r="3.1" fill="#e2f0b6"/>
<circle cx="949.7" cy="1023.4" r="3.7" fill="#e2f0b6"/>
<circle cx="946.4" cy="1019.6" r="4.3" fill="#e2f0b6"/>
<circle cx="944.1" cy="1012.9" r="3.6" fill="#e2f0b6"/>
<circle cx="944.3" cy="1007" r="3.2" fill="#e2f0b6"/>
<circle cx="944.4" cy="1000.8" r="4.4" fill="#e2f0b6"/>
<circle cx="947.5" cy="993.4" r="3.6" fill="#e2f0b6"/>
<circle cx="950.7" cy="990.6" r="4.1" fill="#e2f0b6"/>
<circle cx="952.3" cy="991.7" r="3.1" fill="#e2f0b6"/>
<circle cx="955.2" cy="993.8" r="3.7" fill="#e2f0b6"/>
<circle cx="958.5" cy="1001.4" r="3.9" fill="#e2f0b6"/>
</g>
<g fill="#e2f0b6">
<ellipse cx="980.5" cy="1004.5" rx="9.5" ry="16.3" fill="#e2f0b6"/>
<circle cx="987.9" cy="1002.5" r="3.2" fill="#e2f0b6"/>
<circle cx="987.3" cy="1009.9" r="3.7" fill="#e2f0b6"/>
<circle cx="985.5" cy="1014.7" r="3.6" fill="#e2f0b6"/>
<circle cx="980.7" cy="1019.5" r="3.7" fill="#e2f0b6"/>
<circle cx="978.6" cy="1018.1" r="4" fill="#e2f0b6"/>
<circle cx="975.4" cy="1014.7" r="3.7" fill="#e2f0b6"/>
<circle cx="974.5" cy="1010.4" r="3.6" fill="#e2f0b6"/>
<circle cx="974" cy="1002.5" r="2.9" fill="#e2f0b6"/>
<circle cx="975.3" cy="996.7" r="3.2" fill="#e2f0b6"/>
<circle cx="975.3" cy="994.8" r="3.8" fill="#e2f0b6"/>
<circle cx="980.1" cy="989.7" r="2.9" fill="#e2f0b6"/>
<circle cx="981" cy="990.6" r="3.6" fill="#e2f0b6"/>
<circle cx="984.7" cy="994" r="3.9" fill="#e2f0b6"/>
<circle cx="986.4" cy="997.2" r="3.7" fill="#e2f0b6"/>
</g>
<g fill="#e8a8b4">
<ellipse cx="965.5" cy="997.5" rx="8.6" ry="16.3" fill="#e8a8b4"/>
<circle cx="972" cy="998.4" r="2.8" fill="#e8a8b4"/>
<circle cx="971.5" cy="1002.3" r="3.6" fill="#e8a8b4"/>
<circle cx="969.7" cy="1007.6" r="3.3" fill="#e8a8b4"/>
<circle cx="967.3" cy="1012.5" r="3.5" fill="#e8a8b4"/>
<circle cx="964.7" cy="1012.4" r="3" fill="#e8a8b4"/>
<circle cx="960.5" cy="1007.7" r="3.5" fill="#e8a8b4"/>
<circle cx="960.3" cy="1005.2" r="2.9" fill="#e8a8b4"/>
<circle cx="959.5" cy="997.8" r="2.8" fill="#e8a8b4"/>
<circle cx="959.5" cy="990.7" r="2.7" fill="#e8a8b4"/>
<circle cx="961.8" cy="986.2" r="3.3" fill="#e8a8b4"/>
<circle cx="964.1" cy="984.2" r="3" fill="#e8a8b4"/>
<circle cx="967.3" cy="983" r="2.6" fill="#e8a8b4"/>
<circle cx="969.8" cy="986.4" r="3.6" fill="#e8a8b4"/>
<circle cx="971.5" cy="993.4" r="3.6" fill="#e8a8b4"/>
</g>
<ellipse cx="956.6" cy="980.8" rx="7.7" ry="3" fill="#4de3c9" transform="rotate(89 956.6 980.8)"/>
<ellipse cx="956.9" cy="995.2" rx="7.7" ry="3" fill="#4de3c9" transform="rotate(89 956.9 995.2)"/>
<ellipse cx="957.1" cy="1009.8" rx="7.7" ry="3" fill="#4de3c9" transform="rotate(89 957.1 1009.8)"/>
<ellipse cx="957.4" cy="1024.2" rx="7.7" ry="3" fill="#4de3c9" transform="rotate(89 957.4 1024.2)"/>
<circle cx="956.5" cy="973.5" r="1.1" fill="#1f5f55" opacity="0.6"/>
<circle cx="956.8" cy="988" r="1.1" fill="#1f5f55" opacity="0.6"/>
<circle cx="957" cy="1002.5" r="1.1" fill="#1f5f55" opacity="0.6"/>
<circle cx="957.2" cy="1017" r="1.1" fill="#1f5f55" opacity="0.6"/>
<circle cx="957.5" cy="1031.5" r="1.1" fill="#1f5f55" opacity="0.6"/>
<ellipse cx="974.6" cy="980.8" rx="7.7" ry="3" fill="#4de3c9" transform="rotate(89 974.6 980.8)"/>
<ellipse cx="974.9" cy="995.2" rx="7.7" ry="3" fill="#4de3c9" transform="rotate(89 974.9 995.2)"/>
<ellipse cx="975.1" cy="1009.8" rx="7.7" ry="3" fill="#4de3c9" transform="rotate(89 975.1 1009.8)"/>
<ellipse cx="975.4" cy="1024.2" rx="7.7" ry="3" fill="#4de3c9" transform="rotate(89 975.4 1024.2)"/>
<circle cx="974.5" cy="973.5" r="1.1" fill="#1f5f55" opacity="0.6"/>
<circle cx="974.8" cy="988" r="1.1" fill="#1f5f55" opacity="0.6"/>
<circle cx="975" cy="1002.5" r="1.1" fill="#1f5f55" opacity="0.6"/>
<circle cx="975.2" cy="1017" r="1.1" fill="#1f5f55" opacity="0.6"/>
<circle cx="975.5" cy="1031.5" r="1.1" fill="#1f5f55" opacity="0.6"/>
<ellipse cx="914.6" cy="969.4" rx="8.2" ry="4" fill="#4de3c9" transform="rotate(-1 914.6 969.4)"/>
<ellipse cx="930.2" cy="969.1" rx="8.2" ry="4" fill="#4de3c9" transform="rotate(-1 930.2 969.1)"/>
<ellipse cx="945.8" cy="968.8" rx="8.2" ry="4" fill="#4de3c9" transform="rotate(-1 945.8 968.8)"/>
<ellipse cx="961.4" cy="968.5" rx="8.2" ry="4" fill="#4de3c9" transform="rotate(-1 961.4 968.5)"/>
<ellipse cx="977" cy="968.2" rx="8.2" ry="4" fill="#4de3c9" transform="rotate(-1 977 968.2)"/>
<ellipse cx="992.6" cy="967.9" rx="8.2" ry="4" fill="#4de3c9" transform="rotate(-1 992.6 967.9)"/>
<ellipse cx="1008.2" cy="967.6" rx="8.2" ry="4" fill="#4de3c9" transform="rotate(-1 1008.2 967.6)"/>
<circle cx="906.8" cy="969.5" r="1.1" fill="#1f5f55" opacity="0.6"/>
<circle cx="922.4" cy="969.2" r="1.1" fill="#1f5f55" opacity="0.6"/>
<circle cx="938" cy="968.9" r="1.1" fill="#1f5f55" opacity="0.6"/>
<circle cx="953.6" cy="968.6" r="1.1" fill="#1f5f55" opacity="0.6"/>
<circle cx="969.2" cy="968.4" r="1.1" fill="#1f5f55" opacity="0.6"/>
<circle cx="984.8" cy="968.1" r="1.1" fill="#1f5f55" opacity="0.6"/>
<circle cx="1000.4" cy="967.8" r="1.1" fill="#1f5f55" opacity="0.6"/>
<circle cx="1016" cy="967.5" r="1.1" fill="#1f5f55" opacity="0.6"/>
<g fill="none" stroke-linecap="round" stroke-linejoin="round">
<ellipse cx="977.5" cy="963.5" rx="8.8" ry="6.6" fill="#e98a6e" opacity="0.85"/>
<polyline points="972.8,970.9 971.2,967.2 970.7,963.4 970.9,959.6 974.3,956.8" fill="none" stroke="#e98a6e" stroke-width="2.3"/>
<polyline points="982.4,961.3 981.3,957.5 986,955.9 988,959.4 991.5,962.3" fill="none" stroke="#e98a6e" stroke-width="2.3"/>
<polyline points="989.8,959.6 988.8,962.6 992.2,959.8 990.7,959.3 989.2,955.7" fill="none" stroke="#e98a6e" stroke-width="2.3"/>
<polyline points="974.6,973.4 969.6,972.4 970.1,968.6 974.9,967.3 979.4,965.5" fill="none" stroke="#c8644a" stroke-width="2.3"/>
<polyline points="981.7,966.2 979.1,969.5 981.4,972.9 979.2,972.7 974.4,974" fill="none" stroke="#e98a6e" stroke-width="2.3"/>
<polyline points="977.8,959.2 982.5,960.6 983.3,964.4 983.9,968.2 989,968.8" fill="none" stroke="#e98a6e" stroke-width="2.3"/>
<polyline points="979.5,967 981.3,970.6 985.8,972.3 986.7,968.7 987.2,968.2" fill="none" stroke="#e98a6e" stroke-width="2.3"/>
<polyline points="973.8,971.7 978.1,973.8 979.3,973.2 984.3,972.3 984.9,968.5" fill="none" stroke="#c8644a" stroke-width="2.3"/>
<polyline points="969.5,967.5 974.6,967.5 978.8,965.3 977.5,961.6 982,959.7" fill="none" stroke="#c8644a" stroke-width="2.3"/>
<polyline points="972.7,960.4 977.6,959.3 982.1,961.2 985.4,964.2 989.7,966.3" fill="none" stroke="#e98a6e" stroke-width="2.3"/>
<polyline points="967.7,964.9 962.6,964.4 964.3,965.8 964.7,964.7 963.5,961" fill="none" stroke="#c8644a" stroke-width="2.3"/>
<polyline points="966.7,966.3 970.7,968.8 974.5,966.3 978.9,964.3 983.3,962.3" fill="none" stroke="#e98a6e" stroke-width="2.3"/>
<polyline points="982.1,968.2 979.8,971.6 980.7,971.6 980.5,971.8 985.6,972" fill="none" stroke="#e98a6e" stroke-width="2.3"/>
<polyline points="980.8,957.1 975.7,957.3 975.2,961.1 975.3,965 971.1,967.2" fill="none" stroke="#e98a6e" stroke-width="2.3"/>
<polyline points="967.7,969.1 968.9,965.4 964.1,964.1 964.6,964.3 964.5,968.2" fill="none" stroke="#e98a6e" stroke-width="2.3"/>
<polyline points="980.8,962.4 979,958.8 976,955.7 977.2,952 980.4,954.2" fill="none" stroke="#e98a6e" stroke-width="2.3"/>
<polyline points="972.1,958.3 976.8,956.7 980.5,959.3 978.1,962.7 977.6,966.5" fill="none" stroke="#e98a6e" stroke-width="2.3"/>
<polyline points="972.2,957.1 967.7,955.4 967.6,959.2 962.9,960.8 963.9,962.5" fill="none" stroke="#e98a6e" stroke-width="2.3"/>
</g>
<g fill="none" stroke-linecap="round" stroke-linejoin="round">
<ellipse cx="949.5" cy="952.5" rx="6.3" ry="6.6" fill="#3f78c8" opacity="0.85"/>
<polyline points="949.6,953.1 952.8,951.2 956.5,951.4 960.1,952.2 959.4,953.1" fill="none" stroke="#3f78c8" stroke-width="2.3"/>
<polyline points="949.6,958.5 945.9,958.5 943.1,956 939.9,958 940.5,955.1" fill="none" stroke="#3f78c8" stroke-width="2.3"/>
<polyline points="950.4,943 951.9,943.8 949.9,940.5 946.7,942.3 943,942.9" fill="none" stroke="#3f78c8" stroke-width="2.3"/>
<polyline points="957.5,955.1 957.1,959 956.7,958.9 955.4,962.5 955.8,960.8" fill="none" stroke="#3f78c8" stroke-width="2.3"/>
<polyline points="947.3,961.4 945,958.5 943.6,954.9 944.2,951.1 942.8,947.6" fill="none" stroke="#2b5aa6" stroke-width="2.3"/>
<polyline points="954.4,959 954.8,958.9 957.8,956.5 957.1,957.2 955.6,960.7" fill="none" stroke="#3f78c8" stroke-width="2.3"/>
<polyline points="945,947.8 944.7,943.9 948.3,943 951.8,944.1 953,947.8" fill="none" stroke="#2b5aa6" stroke-width="2.3"/>
<polyline points="946.2,954.5 942.6,954.3 938.9,954.5 940.8,951.5 941.1,950.7" fill="none" stroke="#3f78c8" stroke-width="2.3"/>
<polyline points="952.7,943.3 952.6,943.5 952.9,943.9 950.6,940.9 947.7,944.1" fill="none" stroke="#2b5aa6" stroke-width="2.3"/>
<polyline points="943.8,944.7 943.9,945 945.6,944.5 944.7,945.4 941,945.9" fill="none" stroke="#3f78c8" stroke-width="2.3"/>
<polyline points="942.2,946.8 940.6,950.2 940.9,952 941,952.7 941.1,953.4" fill="none" stroke="#3f78c8" stroke-width="2.3"/>
<polyline points="944.7,961.2 946.4,961.2 942.7,961.9 944.3,961.7 943.3,958.4" fill="none" stroke="#3f78c8" stroke-width="2.3"/>
<polyline points="949.9,960.4 946.7,962.4 945.1,960.4 941.9,958.4 941.6,956.3" fill="none" stroke="#3f78c8" stroke-width="2.3"/>
<polyline points="946.3,956.5 942.7,956.3 941.4,959.9 941.4,956.8 941.3,954.9" fill="none" stroke="#3f78c8" stroke-width="2.3"/>
<polyline points="954.6,949.3 951.1,950.6 949.9,954.2 952.5,956.9 956.2,957" fill="none" stroke="#3f78c8" stroke-width="2.3"/>
<polyline points="943.9,949.4 947.3,950.9 951,951 952.7,954.4 954.4,957.8" fill="none" stroke="#3f78c8" stroke-width="2.3"/>
<polyline points="947.5,947.8 951,949.1 953.5,952 956,954.7 959.6,953.7" fill="none" stroke="#3f78c8" stroke-width="2.3"/>
<polyline points="953.5,960.1 952.4,956.4 951.8,952.6 952.8,948.9 949.4,947.3" fill="none" stroke="#2b5aa6" stroke-width="2.3"/>
</g>
<g fill="none" stroke-linecap="round" stroke-linejoin="round">
<ellipse cx="946.5" cy="971.5" rx="5.5" ry="5.5" fill="#3f78c8" opacity="0.85"/>
<polyline points="951.2,964.7 950.5,964.6 949.4,964.5 950.6,965.6 950,965.3" fill="none" stroke="#3f78c8" stroke-width="2.3"/>
<polyline points="952.5,971.8 949.6,973.2 946.4,972.8 943.6,971.3 940.7,969.9" fill="none" stroke="#3f78c8" stroke-width="2.3"/>
<polyline points="952.8,971.8 956,972.3 955,970.9 953.7,972.9 956.4,971.2" fill="none" stroke="#3f78c8" stroke-width="2.3"/>
<polyline points="943,964.7 943.5,964.6 940.3,964.5 938.8,967.4 940.4,970.1" fill="none" stroke="#3f78c8" stroke-width="2.3"/>
<polyline points="948.3,967.5 946.7,970.3 946,973.4 944.7,976.3 941.7,975" fill="none" stroke="#2b5aa6" stroke-width="2.3"/>
<polyline points="943.3,964.3 945.4,964.6 948.6,963.9 948.1,964 946.9,964.1" fill="none" stroke="#3f78c8" stroke-width="2.3"/>
<polyline points="947.3,971.8 948.8,974.6 950.9,977 950.2,980.2 948.2,979.6" fill="none" stroke="#3f78c8" stroke-width="2.3"/>
<polyline points="951.6,975 954.1,973 953.8,973.7 953.2,976.8 950.9,977.5" fill="none" stroke="#2b5aa6" stroke-width="2.3"/>
<polyline points="953.8,975.2 953.6,973.1 952.5,970.1 955.3,968.5 953.6,967.3" fill="none" stroke="#3f78c8" stroke-width="2.3"/>
<polyline points="940.2,967.7 940.9,966.9 937.9,968 937.4,971.2 939.4,973.6" fill="none" stroke="#3f78c8" stroke-width="2.3"/>
<polyline points="940.3,976.7 940,975.6 941.6,976.6 938.4,976.1 939.4,973" fill="none" stroke="#3f78c8" stroke-width="2.3"/>
<polyline points="948.4,971.2 946,969.2 942.8,968.6 941.2,965.8 943.8,963.9" fill="none" stroke="#3f78c8" stroke-width="2.3"/>
<polyline points="946.7,970.1 943.6,969.6 940.4,969.2 937.4,970.2 939,968.7" fill="none" stroke="#3f78c8" stroke-width="2.3"/>
<polyline points="943.5,965.3 945.5,967.8 944.5,970.9 941.9,972.6 943,975.6" fill="none" stroke="#2b5aa6" stroke-width="2.3"/>
</g>
<g fill="#e3327c">
<ellipse cx="934.5" cy="1010" rx="9.9" ry="8.2" fill="#e3327c"/>
<circle cx="942.2" cy="1010.5" r="3" fill="#e3327c"/>
<circle cx="941" cy="1012" r="3.1" fill="#e3327c"/>
<circle cx="938.6" cy="1014.4" r="3.2" fill="#e3327c"/>
<circle cx="934.3" cy="1015.3" r="3.1" fill="#e3327c"/>
<circle cx="931.8" cy="1015.2" r="3.1" fill="#e3327c"/>
<circle cx="928.4" cy="1013" r="3.7" fill="#e3327c"/>
<circle cx="926.5" cy="1009.1" r="2.9" fill="#e3327c"/>
<circle cx="928.2" cy="1007.5" r="3.2" fill="#e3327c"/>
<circle cx="929.7" cy="1005.7" r="3.2" fill="#e3327c"/>
<circle cx="933.3" cy="1004.6" r="3.4" fill="#e3327c"/>
<circle cx="938.3" cy="1005.5" r="3" fill="#e3327c"/>
<circle cx="941.4" cy="1008" r="3.6" fill="#e3327c"/>
</g>
<g fill="#e3327c">
<ellipse cx="995.5" cy="1009" rx="9" ry="8.9" fill="#e3327c"/>
<circle cx="1001.7" cy="1008.6" r="4" fill="#e3327c"/>
<circle cx="1000" cy="1012.9" r="4.1" fill="#e3327c"/>
<circle cx="999.2" cy="1014.3" r="4.1" fill="#e3327c"/>
<circle cx="996" cy="1015.2" r="3.6" fill="#e3327c"/>
<circle cx="992.9" cy="1014.9" r="3.4" fill="#e3327c"/>
<circle cx="990.5" cy="1012.9" r="3.6" fill="#e3327c"/>
<circle cx="989.1" cy="1008.5" r="3.5" fill="#e3327c"/>
<circle cx="990.3" cy="1005.6" r="3.8" fill="#e3327c"/>
<circle cx="992.9" cy="1003.4" r="3.5" fill="#e3327c"/>
<circle cx="995.8" cy="1002.7" r="3.8" fill="#e3327c"/>
<circle cx="999" cy="1003.6" r="3.5" fill="#e3327c"/>
<circle cx="1000.9" cy="1005.5" r="3.8" fill="#e3327c"/>
</g>
<line x1="1055" y1="979" x2="1082.4" y2="979" stroke="#000" stroke-width="3.2"/>
<polygon points="1047,979 1059,972 1059,986" fill="#000"/>
<polygon points="1090.4,979 1078.4,972 1078.4,986" fill="#000"/>
<ellipse cx="1136" cy="1021.8" rx="8.2" ry="4" fill="#4de3c9" transform="rotate(-1.3 1136 1021.8)"/>
<ellipse cx="1151.5" cy="1021.5" rx="8.2" ry="4" fill="#4de3c9" transform="rotate(-1.3 1151.5 1021.5)"/>
<ellipse cx="1167" cy="1021.1" rx="8.2" ry="4" fill="#4de3c9" transform="rotate(-1.3 1167 1021.1)"/>
<ellipse cx="1182.5" cy="1020.8" rx="8.2" ry="4" fill="#4de3c9" transform="rotate(-1.3 1182.5 1020.8)"/>
<ellipse cx="1198" cy="1020.4" rx="8.2" ry="4" fill="#4de3c9" transform="rotate(-1.3 1198 1020.4)"/>
<ellipse cx="1213.5" cy="1020" rx="8.2" ry="4" fill="#4de3c9" transform="rotate(-1.3 1213.5 1020)"/>
<ellipse cx="1229" cy="1019.7" rx="8.2" ry="4" fill="#4de3c9" transform="rotate(-1.3 1229 1019.7)"/>
<circle cx="1128.2" cy="1022" r="1.1" fill="#1f5f55" opacity="0.6"/>
<circle cx="1143.7" cy="1021.6" r="1.1" fill="#1f5f55" opacity="0.6"/>
<circle cx="1159.2" cy="1021.3" r="1.1" fill="#1f5f55" opacity="0.6"/>
<circle cx="1174.7" cy="1020.9" r="1.1" fill="#1f5f55" opacity="0.6"/>
<circle cx="1190.3" cy="1020.6" r="1.1" fill="#1f5f55" opacity="0.6"/>
<circle cx="1205.8" cy="1020.2" r="1.1" fill="#1f5f55" opacity="0.6"/>
<circle cx="1221.3" cy="1019.9" r="1.1" fill="#1f5f55" opacity="0.6"/>
<circle cx="1236.8" cy="1019.5" r="1.1" fill="#1f5f55" opacity="0.6"/>
<g fill="#e8a8b4">
<ellipse cx="1183.4" cy="993.5" rx="20.6" ry="17.5" fill="#e8a8b4"/>
<circle cx="1200.3" cy="993.7" r="7.3" fill="#e8a8b4"/>
<circle cx="1198.2" cy="998.9" r="7" fill="#e8a8b4"/>
<circle cx="1192.4" cy="1004.3" r="5.3" fill="#e8a8b4"/>
<circle cx="1183.9" cy="1006.1" r="6.9" fill="#e8a8b4"/>
<circle cx="1177" cy="1004.3" r="5.8" fill="#e8a8b4"/>
<circle cx="1173.2" cy="1003.6" r="6.5" fill="#e8a8b4"/>
<circle cx="1169.2" cy="999.6" r="6.6" fill="#e8a8b4"/>
<circle cx="1167.6" cy="993.5" r="5.5" fill="#e8a8b4"/>
<circle cx="1167.5" cy="988.6" r="7.4" fill="#e8a8b4"/>
<circle cx="1172" cy="984.8" r="5.7" fill="#e8a8b4"/>
<circle cx="1179.7" cy="981.1" r="6.8" fill="#e8a8b4"/>
<circle cx="1185.8" cy="980.2" r="5.5" fill="#e8a8b4"/>
<circle cx="1195.4" cy="984.4" r="5.6" fill="#e8a8b4"/>
<circle cx="1198.4" cy="990.4" r="5.6" fill="#e8a8b4"/>
</g>
<g fill="#e2f0b6">
<ellipse cx="1180.4" cy="1000.5" rx="11.6" ry="21.5" fill="#e2f0b6"/>
<circle cx="1189.5" cy="1000.9" r="4.1" fill="#e2f0b6"/>
<circle cx="1188.6" cy="1006.5" r="3.5" fill="#e2f0b6"/>
<circle cx="1185.1" cy="1016.2" r="4" fill="#e2f0b6"/>
<circle cx="1181.5" cy="1020.2" r="4.7" fill="#e2f0b6"/>
<circle cx="1180" cy="1020.8" r="3.7" fill="#e2f0b6"/>
<circle cx="1175.6" cy="1015.6" r="4.8" fill="#e2f0b6"/>
<circle cx="1172.5" cy="1008.7" r="4.4" fill="#e2f0b6"/>
<circle cx="1172.1" cy="999.8" r="4.4" fill="#e2f0b6"/>
<circle cx="1173" cy="990.4" r="4.4" fill="#e2f0b6"/>
<circle cx="1174.5" cy="988.5" r="3.9" fill="#e2f0b6"/>
<circle cx="1177.4" cy="982.5" r="4.1" fill="#e2f0b6"/>
<circle cx="1181.1" cy="982.4" r="4.4" fill="#e2f0b6"/>
<circle cx="1186.3" cy="985.4" r="4.3" fill="#e2f0b6"/>
<circle cx="1187.6" cy="992.4" r="4.1" fill="#e2f0b6"/>
</g>
<ellipse cx="1191" cy="967.9" rx="8.2" ry="3.3" fill="#4de3c9" transform="rotate(14.6 1191 967.9)"/>
<ellipse cx="1204.3" cy="975.3" rx="8.2" ry="3.3" fill="#4de3c9" transform="rotate(44.1 1204.3 975.3)"/>
<ellipse cx="1211.9" cy="988.1" rx="8.2" ry="3.3" fill="#4de3c9" transform="rotate(74.6 1211.9 988.1)"/>
<ellipse cx="1211.9" cy="1002.9" rx="8.2" ry="3.3" fill="#4de3c9" transform="rotate(105.4 1211.9 1002.9)"/>
<ellipse cx="1204.3" cy="1015.7" rx="8.2" ry="3.3" fill="#4de3c9" transform="rotate(135.9 1204.3 1015.7)"/>
<ellipse cx="1191" cy="1023.1" rx="8.2" ry="3.3" fill="#4de3c9" transform="rotate(165.4 1191 1023.1)"/>
<ellipse cx="1175.8" cy="1023.1" rx="8.2" ry="3.3" fill="#4de3c9" transform="rotate(-165.4 1175.8 1023.1)"/>
<ellipse cx="1162.5" cy="1015.7" rx="8.2" ry="3.3" fill="#4de3c9" transform="rotate(-135.9 1162.5 1015.7)"/>
<ellipse cx="1154.9" cy="1002.9" rx="8.2" ry="3.3" fill="#4de3c9" transform="rotate(-105.4 1154.9 1002.9)"/>
<ellipse cx="1154.9" cy="988.1" rx="8.2" ry="3.3" fill="#4de3c9" transform="rotate(-74.6 1154.9 988.1)"/>
<ellipse cx="1162.5" cy="975.3" rx="8.2" ry="3.3" fill="#4de3c9" transform="rotate(-44.1 1162.5 975.3)"/>
<ellipse cx="1175.8" cy="967.9" rx="8.2" ry="3.3" fill="#4de3c9" transform="rotate(-14.6 1175.8 967.9)"/>
<g fill="none" stroke-linecap="round" stroke-linejoin="round">
<ellipse cx="1189.4" cy="955.5" rx="7.7" ry="8.2" fill="#e98a6e" opacity="0.85"/>
<polyline points="1196.1,958 1198.2,953.7 1202.6,953.3 1199.2,957.3 1199.9,962" fill="none" stroke="#e98a6e" stroke-width="2.3"/>
<polyline points="1186.3,948 1188.6,943.8 1186.6,945 1183.3,948.2 1178.8,947.8" fill="none" stroke="#c8644a" stroke-width="2.3"/>
<polyline points="1188,964.7 1190.8,968.6 1190,968 1187.2,966.1 1183.1,968.1" fill="none" stroke="#c8644a" stroke-width="2.3"/>
<polyline points="1197.3,962.9 1197.4,958.1 1201.4,955.8 1199.6,951.3 1197.5,949.4" fill="none" stroke="#e98a6e" stroke-width="2.3"/>
<polyline points="1193.2,955.2 1197.5,954 1200.3,950.2 1199.4,953.9 1203.3,956.3" fill="none" stroke="#c8644a" stroke-width="2.3"/>
<polyline points="1192.6,947.8 1195.6,951.4 1200.1,951.4 1202.5,955.4 1199.5,958.7" fill="none" stroke="#e98a6e" stroke-width="2.3"/>
<polyline points="1187.1,945.7 1191.5,945.1 1192.5,945.3 1190.6,940.9 1186.3,942.2" fill="none" stroke="#e98a6e" stroke-width="2.3"/>
<polyline points="1187.7,964.7 1183.7,966.8 1184.1,966.4 1186.6,966.4 1185.1,965.3" fill="none" stroke="#e98a6e" stroke-width="2.3"/>
<polyline points="1187.8,951.9 1191.3,955 1189.4,959.3 1185.3,957.2 1185.6,952.4" fill="none" stroke="#c8644a" stroke-width="2.3"/>
<polyline points="1193.4,950.7 1196.6,947.4 1201.1,947.8 1200.1,952.1 1199.5,955" fill="none" stroke="#e98a6e" stroke-width="2.3"/>
<polyline points="1188.5,963.6 1184.1,963 1183,958.4 1178.6,958.2 1178.7,957.1" fill="none" stroke="#c8644a" stroke-width="2.3"/>
<polyline points="1196.1,952.5 1199,948.8 1195.5,945.8 1193.6,945.3 1194.5,945.9" fill="none" stroke="#e98a6e" stroke-width="2.3"/>
<polyline points="1180,958.2 1183,961.8 1185.5,965.7 1190,966 1194.4,965.2" fill="none" stroke="#c8644a" stroke-width="2.3"/>
<polyline points="1188.1,967 1186.3,965.9 1182.5,968.5 1182,966.5 1182.8,966.2" fill="none" stroke="#e98a6e" stroke-width="2.3"/>
<polyline points="1193,956.7 1193.4,951.9 1189.3,949.8 1189.4,945 1188.9,944.9" fill="none" stroke="#c8644a" stroke-width="2.3"/>
<polyline points="1194.6,954 1190.1,954 1186.1,951.7 1182.4,954.5 1179.3,951.1" fill="none" stroke="#c8644a" stroke-width="2.3"/>
<polyline points="1186,950.2 1182.1,948 1178.3,950.6 1175.6,954.4 1179.6,958.1" fill="none" stroke="#e98a6e" stroke-width="2.3"/>
<polyline points="1190.4,965.8 1186.1,967.3 1184.2,965 1185.7,965.5 1189.2,968.6" fill="none" stroke="#e98a6e" stroke-width="2.3"/>
</g>
<g fill="none" stroke-linecap="round" stroke-linejoin="round">
<ellipse cx="1174.4" cy="948.5" rx="7.2" ry="7.2" fill="#3f78c8" opacity="0.85"/>
<polyline points="1183.6,949 1183.5,950 1183.6,950.1 1185.9,946.5 1182.8,943.7" fill="none" stroke="#3f78c8" stroke-width="2.3"/>
<polyline points="1174,945 1169.8,944.8 1168,948.5 1163.9,949.5 1164.6,947.6" fill="none" stroke="#2b5aa6" stroke-width="2.3"/>
<polyline points="1178.6,948.3 1177.8,952.4 1175.2,955.7 1173.3,959.4 1170.9,957.2" fill="none" stroke="#3f78c8" stroke-width="2.3"/>
<polyline points="1178.5,954.3 1181.4,951.2 1179.1,947.7 1175.1,948.9 1171.5,946.8" fill="none" stroke="#3f78c8" stroke-width="2.3"/>
<polyline points="1166.3,955.7 1169.1,958.8 1173.3,959.2 1174.7,955.3 1176.8,951.7" fill="none" stroke="#3f78c8" stroke-width="2.3"/>
<polyline points="1166.8,942.4 1169.6,939.3 1173.5,938 1175.5,938.8 1177,939.4" fill="none" stroke="#3f78c8" stroke-width="2.3"/>
<polyline points="1174.3,942.5 1174.1,946.6 1170,946.9 1165.8,947.3 1164.8,951.3" fill="none" stroke="#3f78c8" stroke-width="2.3"/>
<polyline points="1167.7,944 1168.4,948.1 1164.4,949.5 1164.2,953.7 1164.5,953.1" fill="none" stroke="#3f78c8" stroke-width="2.3"/>
<polyline points="1168.3,955.3 1172.5,955.2 1175.3,958.2 1178.4,955.5 1176.3,951.9" fill="none" stroke="#2b5aa6" stroke-width="2.3"/>
<polyline points="1177,949.2 1178.1,945.2 1180.7,941.9 1180.7,941.6 1180,941" fill="none" stroke="#3f78c8" stroke-width="2.3"/>
<polyline points="1181.4,952.5 1177.3,952.4 1173.8,954.8 1170.3,956.9 1171.3,957.3" fill="none" stroke="#3f78c8" stroke-width="2.3"/>
<polyline points="1167.7,946.9 1169.1,943 1172.4,940.5 1170.5,936.8 1172.2,937.4" fill="none" stroke="#3f78c8" stroke-width="2.3"/>
<polyline points="1175.9,946.3 1179.8,947.7 1183.9,948.4 1183.6,949.9 1183.7,949.3" fill="none" stroke="#3f78c8" stroke-width="2.3"/>
<polyline points="1174.2,944.7 1175.7,940.8 1173.1,937.6 1175.5,938.8 1177.3,939.7" fill="none" stroke="#3f78c8" stroke-width="2.3"/>
<polyline points="1173.6,944.1 1173.1,948.2 1175.4,951.6 1173,955 1168.9,955.3" fill="none" stroke="#2b5aa6" stroke-width="2.3"/>
<polyline points="1176.4,943.1 1178.4,946.8 1179.4,950.8 1183.5,950.7 1183.7,949.5" fill="none" stroke="#3f78c8" stroke-width="2.3"/>
<polyline points="1166.1,948.5 1166.3,952.7 1170.3,953.7 1174,955.7 1175.4,959.6" fill="none" stroke="#2b5aa6" stroke-width="2.3"/>
<polyline points="1172.1,948.4 1171.6,944.2 1170.8,940.2 1170.3,940.2 1166.2,940.7" fill="none" stroke="#3f78c8" stroke-width="2.3"/>
</g>
<g fill="none" stroke-linecap="round" stroke-linejoin="round">
<ellipse cx="1167.4" cy="972.5" rx="6.6" ry="6.3" fill="#3f78c8" opacity="0.85"/>
<polyline points="1172.1,966.8 1175.9,967.7 1176,969 1175.7,968.6 1174.9,967.8" fill="none" stroke="#3f78c8" stroke-width="2.3"/>
<polyline points="1167,975.2 1164.3,977.8 1160.9,976.1 1157.6,977.9 1158.1,975.2" fill="none" stroke="#3f78c8" stroke-width="2.3"/>
<polyline points="1170,971.8 1167.6,974.7 1163.9,974 1160.3,975.3 1156.5,976" fill="none" stroke="#2b5aa6" stroke-width="2.3"/>
<polyline points="1169.7,979.5 1167.2,982.2 1165.7,981.4 1164.1,980.3 1163,979.6" fill="none" stroke="#3f78c8" stroke-width="2.3"/>
<polyline points="1170.7,981.2 1168,978.5 1165.3,981.1 1164.5,980.7 1166.3,980.7" fill="none" stroke="#2b5aa6" stroke-width="2.3"/>
<polyline points="1172.5,964.8 1170.1,964.6 1169.7,964.5 1173.4,963.4 1174,967.3" fill="none" stroke="#2b5aa6" stroke-width="2.3"/>
<polyline points="1162.5,971.6 1162.1,975.3 1158.3,974.8 1155.6,972.1 1156.8,973.5" fill="none" stroke="#3f78c8" stroke-width="2.3"/>
<polyline points="1173.3,968.3 1170.8,965.5 1173.5,962.9 1170.3,963.6 1166.6,964.5" fill="none" stroke="#2b5aa6" stroke-width="2.3"/>
<polyline points="1168.6,970.1 1164.8,969.3 1165.3,965.6 1162.8,962.8 1161.5,965.5" fill="none" stroke="#2b5aa6" stroke-width="2.3"/>
<polyline points="1170.1,964.7 1167.7,961.9 1164.9,964.6 1163.5,968 1165.6,971.1" fill="none" stroke="#3f78c8" stroke-width="2.3"/>
<polyline points="1163.9,970.5 1166.2,973.5 1169.4,975.6 1172.2,978.1 1169.9,981" fill="none" stroke="#2b5aa6" stroke-width="2.3"/>
<polyline points="1165.5,977.2 1169.1,976 1172.9,976.9 1173.9,980.4 1171,980.5" fill="none" stroke="#2b5aa6" stroke-width="2.3"/>
<polyline points="1170.4,967.7 1174.1,966.9 1174.2,966.9 1174.3,967 1174.9,968.4" fill="none" stroke="#2b5aa6" stroke-width="2.3"/>
<polyline points="1169.2,972.4 1166.4,974.9 1162.6,974.8 1159.8,977.3 1160.4,977.9" fill="none" stroke="#3f78c8" stroke-width="2.3"/>
</g>
<g fill="#e3327c">
<ellipse cx="1158.6" cy="1008.8" rx="8.6" ry="8.8" fill="#e3327c"/>
<circle cx="1164.1" cy="1007.9" r="4" fill="#e3327c"/>
<circle cx="1164.5" cy="1011" r="3.6" fill="#e3327c"/>
<circle cx="1161.3" cy="1014.1" r="3.8" fill="#e3327c"/>
<circle cx="1159.7" cy="1015.3" r="3.3" fill="#e3327c"/>
<circle cx="1156.3" cy="1014.9" r="3.2" fill="#e3327c"/>
<circle cx="1154.1" cy="1012.6" r="3.5" fill="#e3327c"/>
<circle cx="1152.7" cy="1008.1" r="3.6" fill="#e3327c"/>
<circle cx="1153.3" cy="1006.5" r="3.1" fill="#e3327c"/>
<circle cx="1156.6" cy="1002.9" r="3.1" fill="#e3327c"/>
<circle cx="1158.1" cy="1002.6" r="2.9" fill="#e3327c"/>
<circle cx="1161" cy="1003.5" r="3.9" fill="#e3327c"/>
<circle cx="1163.9" cy="1005.6" r="3.8" fill="#e3327c"/>
</g>
<g fill="#e3327c">
<ellipse cx="1210.3" cy="1002.8" rx="6" ry="8.4" fill="#e3327c"/>
<circle cx="1214.6" cy="1004.1" r="2.4" fill="#e3327c"/>
<circle cx="1214.2" cy="1006.2" r="2.3" fill="#e3327c"/>
<circle cx="1212.8" cy="1008" r="2.7" fill="#e3327c"/>
<circle cx="1209.9" cy="1010.1" r="2.4" fill="#e3327c"/>
<circle cx="1207.6" cy="1008.7" r="2" fill="#e3327c"/>
<circle cx="1206.7" cy="1006" r="2.7" fill="#e3327c"/>
<circle cx="1205.8" cy="1003.9" r="2.7" fill="#e3327c"/>
<circle cx="1207" cy="998.5" r="2.7" fill="#e3327c"/>
<circle cx="1207.7" cy="997.1" r="2.6" fill="#e3327c"/>
<circle cx="1210.9" cy="995.9" r="2.8" fill="#e3327c"/>
<circle cx="1212.5" cy="997.3" r="2.8" fill="#e3327c"/>
<circle cx="1214.2" cy="1000.4" r="2.4" fill="#e3327c"/>
</g>
<line x1="1288" y1="979" x2="1315.5" y2="979" stroke="#000" stroke-width="3.2"/>
<polygon points="1280,979 1292,972 1292,986" fill="#000"/>
<polygon points="1323.5,979 1311.5,972 1311.5,986" fill="#000"/>
<g fill="#e2f0b6">
<ellipse cx="1411" cy="1001" rx="11.2" ry="18.9" fill="#e2f0b6"/>
<circle cx="1418.7" cy="998.4" r="4.1" fill="#e2f0b6"/>
<circle cx="1419.5" cy="1004.9" r="3.5" fill="#e2f0b6"/>
<circle cx="1415.8" cy="1015.5" r="3.8" fill="#e2f0b6"/>
<circle cx="1414.3" cy="1017.1" r="4.5" fill="#e2f0b6"/>
<circle cx="1407.9" cy="1017.6" r="3.9" fill="#e2f0b6"/>
<circle cx="1405" cy="1011.2" r="3.8" fill="#e2f0b6"/>
<circle cx="1404.6" cy="1010.9" r="4.5" fill="#e2f0b6"/>
<circle cx="1402.8" cy="998.1" r="4.7" fill="#e2f0b6"/>
<circle cx="1403.4" cy="992.3" r="3.7" fill="#e2f0b6"/>
<circle cx="1406.4" cy="988.2" r="4.3" fill="#e2f0b6"/>
<circle cx="1407.9" cy="984.5" r="4.7" fill="#e2f0b6"/>
<circle cx="1412.6" cy="983.5" r="3.4" fill="#e2f0b6"/>
<circle cx="1416.7" cy="987.6" r="3.6" fill="#e2f0b6"/>
<circle cx="1419" cy="994.6" r="4.4" fill="#e2f0b6"/>
</g>
<g fill="#e2f0b6">
<ellipse cx="1441" cy="999" rx="6.9" ry="14.6" fill="#e2f0b6"/>
<circle cx="1446.4" cy="997.7" r="2.8" fill="#e2f0b6"/>
<circle cx="1446" cy="1002.8" r="2.8" fill="#e2f0b6"/>
<circle cx="1444.1" cy="1008.8" r="2.1" fill="#e2f0b6"/>
<circle cx="1442.5" cy="1010.6" r="2.4" fill="#e2f0b6"/>
<circle cx="1439.3" cy="1012.5" r="2.5" fill="#e2f0b6"/>
<circle cx="1438" cy="1009.1" r="2.5" fill="#e2f0b6"/>
<circle cx="1436.1" cy="1003.1" r="2.2" fill="#e2f0b6"/>
<circle cx="1435.8" cy="1001.2" r="2.3" fill="#e2f0b6"/>
<circle cx="1437.2" cy="991.6" r="2.4" fill="#e2f0b6"/>
<circle cx="1438.2" cy="987.1" r="2.1" fill="#e2f0b6"/>
<circle cx="1440" cy="985.9" r="2.1" fill="#e2f0b6"/>
<circle cx="1442.9" cy="985.9" r="2.2" fill="#e2f0b6"/>
<circle cx="1443.4" cy="988" r="2.7" fill="#e2f0b6"/>
<circle cx="1445.9" cy="994.5" r="2.3" fill="#e2f0b6"/>
</g>
<g fill="#e8a8b4">
<ellipse cx="1428" cy="989" rx="12.5" ry="17.2" fill="#e8a8b4"/>
<circle cx="1436.4" cy="987.5" r="5.1" fill="#e8a8b4"/>
<circle cx="1436.5" cy="993.3" r="4.2" fill="#e8a8b4"/>
<circle cx="1433.3" cy="1000.1" r="3.8" fill="#e8a8b4"/>
<circle cx="1431.1" cy="1001.4" r="5.1" fill="#e8a8b4"/>
<circle cx="1426.7" cy="1003" r="4.8" fill="#e8a8b4"/>
<circle cx="1423.5" cy="1000.8" r="5.2" fill="#e8a8b4"/>
<circle cx="1420.1" cy="995.6" r="4.5" fill="#e8a8b4"/>
<circle cx="1419.3" cy="990.4" r="4.9" fill="#e8a8b4"/>
<circle cx="1420.6" cy="982.2" r="4.6" fill="#e8a8b4"/>
<circle cx="1423.7" cy="976.3" r="5.1" fill="#e8a8b4"/>
<circle cx="1427.1" cy="974.8" r="5.1" fill="#e8a8b4"/>
<circle cx="1430.1" cy="975.2" r="3.8" fill="#e8a8b4"/>
<circle cx="1435" cy="979.5" r="5.2" fill="#e8a8b4"/>
<circle cx="1436.9" cy="984.3" r="3.9" fill="#e8a8b4"/>
</g>
<ellipse cx="1376.6" cy="975.3" rx="8.1" ry="4" fill="#4de3c9" transform="rotate(-5.3 1376.6 975.3)"/>
<ellipse cx="1391.9" cy="973.9" rx="8.1" ry="4" fill="#4de3c9" transform="rotate(-5.3 1391.9 973.9)"/>
<ellipse cx="1407.2" cy="972.4" rx="8.1" ry="4" fill="#4de3c9" transform="rotate(-5.3 1407.2 972.4)"/>
<ellipse cx="1422.5" cy="971" rx="8.1" ry="4" fill="#4de3c9" transform="rotate(-5.3 1422.5 971)"/>
<ellipse cx="1437.8" cy="969.6" rx="8.1" ry="4" fill="#4de3c9" transform="rotate(-5.3 1437.8 969.6)"/>
<ellipse cx="1453.1" cy="968.1" rx="8.1" ry="4" fill="#4de3c9" transform="rotate(-5.3 1453.1 968.1)"/>
<ellipse cx="1468.4" cy="966.7" rx="8.1" ry="4" fill="#4de3c9" transform="rotate(-5.3 1468.4 966.7)"/>
<circle cx="1369" cy="976" r="1.1" fill="#1f5f55" opacity="0.6"/>
<circle cx="1384.3" cy="974.6" r="1.1" fill="#1f5f55" opacity="0.6"/>
<circle cx="1399.6" cy="973.1" r="1.1" fill="#1f5f55" opacity="0.6"/>
<circle cx="1414.9" cy="971.7" r="1.1" fill="#1f5f55" opacity="0.6"/>
<circle cx="1430.1" cy="970.3" r="1.1" fill="#1f5f55" opacity="0.6"/>
<circle cx="1445.4" cy="968.9" r="1.1" fill="#1f5f55" opacity="0.6"/>
<circle cx="1460.7" cy="967.4" r="1.1" fill="#1f5f55" opacity="0.6"/>
<circle cx="1476" cy="966" r="1.1" fill="#1f5f55" opacity="0.6"/>
<g fill="none" stroke-linecap="round" stroke-linejoin="round">
<ellipse cx="1429" cy="955" rx="7.7" ry="8.8" fill="#e98a6e" opacity="0.85"/>
<polyline points="1429.2,949.4 1429.9,954.4 1426.6,957.9 1428.2,962.6 1430.8,966.8" fill="none" stroke="#e98a6e" stroke-width="2.3"/>
<polyline points="1418.1,960.4 1419.4,955.5 1417.3,950.9 1420.7,947.5 1424.4,950.4" fill="none" stroke="#c8644a" stroke-width="2.3"/>
<polyline points="1423.3,960.5 1424.3,965.5 1426,970.3 1424.6,968.1 1420.2,967.3" fill="none" stroke="#e98a6e" stroke-width="2.3"/>
<polyline points="1421.4,953.8 1421.8,958.9 1420.9,963.9 1420.7,963.1 1417.7,959.3" fill="none" stroke="#e98a6e" stroke-width="2.3"/>
<polyline points="1425.5,953.3 1424,958.2 1424.7,963.2 1426.6,967.8 1429.6,966.4" fill="none" stroke="#e98a6e" stroke-width="2.3"/>
<polyline points="1427.2,953.3 1430.9,956.2 1433.6,960.3 1433.6,965.4 1438.1,965.9" fill="none" stroke="#e98a6e" stroke-width="2.3"/>
<polyline points="1426.2,960.8 1430.5,959.5 1432.8,963.9 1436.7,961.3 1440.7,963.8" fill="none" stroke="#c8644a" stroke-width="2.3"/>
<polyline points="1427.4,964.4 1422.9,964.6 1421,960 1416.5,960.2 1416.1,955.1" fill="none" stroke="#e98a6e" stroke-width="2.3"/>
<polyline points="1431.8,948.7 1427.4,949 1425.2,953.5 1426.9,958.2 1424.3,962.3" fill="none" stroke="#e98a6e" stroke-width="2.3"/>
<polyline points="1429.7,942.4 1431,943 1428.6,943.6 1424.4,941.8 1422.9,944.4" fill="none" stroke="#c8644a" stroke-width="2.3"/>
<polyline points="1435.6,944.7 1435.8,945.2 1440.1,946.6 1441.2,951.6 1440.2,954.4" fill="none" stroke="#e98a6e" stroke-width="2.3"/>
<polyline points="1437.7,949.4 1433.5,951.3 1429.4,953.1 1424.9,952.8 1423,957.5" fill="none" stroke="#c8644a" stroke-width="2.3"/>
<polyline points="1422.6,962.5 1419.6,966.3 1419.8,964.9 1421,965 1423.3,969.4" fill="none" stroke="#e98a6e" stroke-width="2.3"/>
<polyline points="1428.9,943.7 1429.6,948.8 1433.8,950.5 1437.5,953.3 1435.4,957.8" fill="none" stroke="#e98a6e" stroke-width="2.3"/>
<polyline points="1423.1,946.1 1423.9,951.1 1428.3,950.4 1431.5,953.9 1431.3,959.1" fill="none" stroke="#c8644a" stroke-width="2.3"/>
<polyline points="1437.1,949.2 1434.5,953.4 1435.2,958.4 1431.9,961.9 1431.1,966.9" fill="none" stroke="#e98a6e" stroke-width="2.3"/>
<polyline points="1424.2,948.1 1422.8,953 1424.9,957.5 1427.4,961.7 1427.5,966.9" fill="none" stroke="#e98a6e" stroke-width="2.3"/>
<polyline points="1426,957.6 1422.2,954.8 1422.8,949.7 1421.5,944.8 1424.4,944.3" fill="none" stroke="#e98a6e" stroke-width="2.3"/>
</g>
<g fill="none" stroke-linecap="round" stroke-linejoin="round">
<ellipse cx="1415" cy="943" rx="6.9" ry="6.1" fill="#3f78c8" opacity="0.85"/>
<polyline points="1414,945.9 1412.4,949.2 1409.4,951.5 1405.8,950.1 1405.9,948.8" fill="none" stroke="#3f78c8" stroke-width="2.3"/>
<polyline points="1419.5,939.8 1418.7,943.2 1414.7,943.5 1412.2,940.7 1413.4,937.4" fill="none" stroke="#3f78c8" stroke-width="2.3"/>
<polyline points="1410.3,936.5 1411.6,933.1 1415.3,934.3 1419,932.8 1419.9,934.3" fill="none" stroke="#3f78c8" stroke-width="2.3"/>
<polyline points="1423.7,944.7 1420.3,946.5 1416.4,945.9 1413.3,948.2 1410,950.1" fill="none" stroke="#3f78c8" stroke-width="2.3"/>
<polyline points="1422.2,938.8 1420.6,935.5 1420.7,935.8 1424.5,936.9 1423.8,937.1" fill="none" stroke="#2b5aa6" stroke-width="2.3"/>
<polyline points="1418.7,946.4 1422.5,945.2 1423.3,941.7 1426,939.2 1423.4,937.9" fill="none" stroke="#2b5aa6" stroke-width="2.3"/>
<polyline points="1409.4,949.4 1408.4,948.2 1408.5,948.4 1408.6,951.9 1412.3,951.2" fill="none" stroke="#3f78c8" stroke-width="2.3"/>
<polyline points="1405.3,944.6 1406.7,941.3 1403.4,939.4 1407.6,938.1 1408.6,934.7" fill="none" stroke="#3f78c8" stroke-width="2.3"/>
<polyline points="1410.7,946.5 1411.1,950 1414.9,951 1418.1,948.9 1420.5,946.1" fill="none" stroke="#3f78c8" stroke-width="2.3"/>
<polyline points="1421,939.5 1417.4,941.1 1413.8,939.6 1410.1,938.3 1407.3,935.7" fill="none" stroke="#2b5aa6" stroke-width="2.3"/>
<polyline points="1414.5,942.5 1411.2,944.5 1411.5,948 1408.7,950.5 1408.7,950.1" fill="none" stroke="#3f78c8" stroke-width="2.3"/>
<polyline points="1422.1,946.9 1418.6,945.1 1420.4,941.9 1420.7,938.4 1416.7,937.8" fill="none" stroke="#2b5aa6" stroke-width="2.3"/>
<polyline points="1414.1,943.8 1410.1,944 1408.1,947 1404.5,948.6 1404.9,947.1" fill="none" stroke="#2b5aa6" stroke-width="2.3"/>
<polyline points="1412.8,937.9 1416.5,939.3 1419.5,941.7 1423.2,940.5 1426.3,942.7" fill="none" stroke="#2b5aa6" stroke-width="2.3"/>
<polyline points="1412.7,950.7 1408.7,950.4 1407.8,947 1411.7,946.2 1414.6,943.8" fill="none" stroke="#3f78c8" stroke-width="2.3"/>
<polyline points="1412.1,946.1 1414.2,949.1 1417.2,951.4 1421.2,950.8 1421.7,949.8" fill="none" stroke="#2b5aa6" stroke-width="2.3"/>
<polyline points="1414.2,935.9 1417.4,937.9 1419.2,941.1 1422.9,939.9 1425.6,942.5" fill="none" stroke="#2b5aa6" stroke-width="2.3"/>
<polyline points="1412.7,942.6 1416.3,944.2 1418.5,947.1 1421.9,945.2 1425.9,945.4" fill="none" stroke="#3f78c8" stroke-width="2.3"/>
</g>
<g fill="none" stroke-linecap="round" stroke-linejoin="round">
<ellipse cx="1408" cy="969.5" rx="6.1" ry="6.1" fill="#3f78c8" opacity="0.85"/>
<polyline points="1403,974.2 1401.9,977.6 1401.8,976.6 1401.2,975.1 1401.7,975.3" fill="none" stroke="#3f78c8" stroke-width="2.3"/>
<polyline points="1405.5,965.4 1402.4,967 1399.4,965.2 1400.1,968.1 1400,968.5" fill="none" stroke="#2b5aa6" stroke-width="2.3"/>
<polyline points="1410.3,971.5 1413.7,972.5 1416.8,970.9 1416.4,969.5 1417.2,966.1" fill="none" stroke="#3f78c8" stroke-width="2.3"/>
<polyline points="1407.5,971.3 1405.5,974.2 1402.3,972.7 1398.8,973.1 1401.9,974.5" fill="none" stroke="#3f78c8" stroke-width="2.3"/>
<polyline points="1415.1,964.8 1411.6,965 1410.9,968.4 1410.1,971.9 1407.2,973.9" fill="none" stroke="#2b5aa6" stroke-width="2.3"/>
<polyline points="1407.8,974 1410.5,971.7 1412.8,969 1411,966 1407.5,966.1" fill="none" stroke="#2b5aa6" stroke-width="2.3"/>
<polyline points="1405.9,977.6 1402.7,979 1404.6,978.6 1404.1,977.8 1406.5,980.3" fill="none" stroke="#3f78c8" stroke-width="2.3"/>
<polyline points="1406,966.2 1404.4,969.3 1401.7,971.6 1398.6,969.9 1399.7,971.5" fill="none" stroke="#3f78c8" stroke-width="2.3"/>
<polyline points="1410.4,974.9 1412.4,972 1413.3,968.6 1416.7,967.8 1415.9,970" fill="none" stroke="#3f78c8" stroke-width="2.3"/>
<polyline points="1408.9,966.5 1405.4,967.1 1404.3,963.8 1400.8,963.3 1400.5,965.4" fill="none" stroke="#3f78c8" stroke-width="2.3"/>
<polyline points="1410.5,962.2 1413,964.6 1416.4,965.7 1414.8,964.5 1414.7,964.6" fill="none" stroke="#3f78c8" stroke-width="2.3"/>
<polyline points="1411.3,968.9 1410.7,965.5 1409.2,962.3 1405.9,963.5 1404.3,966.6" fill="none" stroke="#2b5aa6" stroke-width="2.3"/>
<polyline points="1405.8,962.1 1407.1,958.8 1408.7,959.9 1411.7,961.7 1413.4,964.8" fill="none" stroke="#2b5aa6" stroke-width="2.3"/>
<polyline points="1400.3,968.4 1401.8,971.5 1405.2,972.6 1408.6,972 1411.9,973.3" fill="none" stroke="#3f78c8" stroke-width="2.3"/>
</g>
<g fill="#e3327c">
<ellipse cx="1394.5" cy="1004.8" rx="8.2" ry="8.8" fill="#e3327c"/>
<circle cx="1400.2" cy="1005.7" r="2.7" fill="#e3327c"/>
<circle cx="1399" cy="1008.5" r="3.7" fill="#e3327c"/>
<circle cx="1396.5" cy="1010.7" r="2.9" fill="#e3327c"/>
<circle cx="1393.5" cy="1010.8" r="3.4" fill="#e3327c"/>
<circle cx="1392" cy="1010.4" r="3.6" fill="#e3327c"/>
<circle cx="1389.3" cy="1008.1" r="2.8" fill="#e3327c"/>
<circle cx="1388.6" cy="1004.8" r="3.1" fill="#e3327c"/>
<circle cx="1390" cy="1001.7" r="3.4" fill="#e3327c"/>
<circle cx="1392" cy="999.1" r="2.9" fill="#e3327c"/>
<circle cx="1394.9" cy="998.6" r="2.7" fill="#e3327c"/>
<circle cx="1396.8" cy="998.9" r="3.4" fill="#e3327c"/>
<circle cx="1399.5" cy="1001.4" r="2.8" fill="#e3327c"/>
</g>
<g fill="#e3327c">
<ellipse cx="1453.4" cy="1004.8" rx="7.2" ry="8.8" fill="#e3327c"/>
<circle cx="1458.2" cy="1005.5" r="3.2" fill="#e3327c"/>
<circle cx="1457.1" cy="1009.2" r="3.1" fill="#e3327c"/>
<circle cx="1456.5" cy="1009.6" r="3.1" fill="#e3327c"/>
<circle cx="1453" cy="1011.6" r="2.5" fill="#e3327c"/>
<circle cx="1450.2" cy="1009.9" r="3.2" fill="#e3327c"/>
<circle cx="1449.1" cy="1007.6" r="3.3" fill="#e3327c"/>
<circle cx="1448.3" cy="1003.9" r="2.8" fill="#e3327c"/>
<circle cx="1448.9" cy="1001.3" r="2.9" fill="#e3327c"/>
<circle cx="1451.1" cy="998.5" r="3.2" fill="#e3327c"/>
<circle cx="1453.4" cy="997.6" r="2.5" fill="#e3327c"/>
<circle cx="1456.2" cy="999.4" r="2.8" fill="#e3327c"/>
<circle cx="1458.1" cy="1001.7" r="2.7" fill="#e3327c"/>
</g>
<g fill="#e2f0b6">
<ellipse cx="941.7" cy="1577" rx="10.3" ry="18.1" fill="#e2f0b6"/>
<circle cx="949.6" cy="1580.2" r="3.4" fill="#e2f0b6"/>
<circle cx="948.2" cy="1586.3" r="3.3" fill="#e2f0b6"/>
<circle cx="946.8" cy="1589.5" r="3.5" fill="#e2f0b6"/>
<circle cx="942.8" cy="1593.2" r="4.3" fill="#e2f0b6"/>
<circle cx="939.7" cy="1592.6" r="3.5" fill="#e2f0b6"/>
<circle cx="937.2" cy="1591" r="3.9" fill="#e2f0b6"/>
<circle cx="934.4" cy="1581.3" r="3.5" fill="#e2f0b6"/>
<circle cx="934.4" cy="1579.4" r="3.8" fill="#e2f0b6"/>
<circle cx="935.2" cy="1568.9" r="4.2" fill="#e2f0b6"/>
<circle cx="936.2" cy="1564.9" r="3.8" fill="#e2f0b6"/>
<circle cx="938.8" cy="1562.1" r="3.3" fill="#e2f0b6"/>
<circle cx="944" cy="1562.5" r="3.4" fill="#e2f0b6"/>
<circle cx="947.3" cy="1566.4" r="4.1" fill="#e2f0b6"/>
<circle cx="948.1" cy="1568.2" r="4.2" fill="#e2f0b6"/>
</g>
<g fill="#e2f0b6">
<ellipse cx="970.7" cy="1574" rx="9.5" ry="16.3" fill="#e2f0b6"/>
<circle cx="978" cy="1575.4" r="3.5" fill="#e2f0b6"/>
<circle cx="977.5" cy="1579.1" r="3.2" fill="#e2f0b6"/>
<circle cx="974.9" cy="1585.5" r="4" fill="#e2f0b6"/>
<circle cx="970.9" cy="1588.4" r="2.8" fill="#e2f0b6"/>
<circle cx="969.8" cy="1588.9" r="3.9" fill="#e2f0b6"/>
<circle cx="965.4" cy="1584.3" r="3.6" fill="#e2f0b6"/>
<circle cx="964.1" cy="1578.9" r="3.8" fill="#e2f0b6"/>
<circle cx="964.1" cy="1571.5" r="3.7" fill="#e2f0b6"/>
<circle cx="964.5" cy="1569.4" r="3.3" fill="#e2f0b6"/>
<circle cx="966.2" cy="1563.7" r="3.5" fill="#e2f0b6"/>
<circle cx="968.6" cy="1560" r="3" fill="#e2f0b6"/>
<circle cx="971.3" cy="1560.8" r="4" fill="#e2f0b6"/>
<circle cx="975.4" cy="1563.2" r="3.5" fill="#e2f0b6"/>
<circle cx="977" cy="1567.3" r="3.1" fill="#e2f0b6"/>
</g>
<g fill="#e8a8b4">
<ellipse cx="955.7" cy="1567" rx="8.6" ry="16.3" fill="#e8a8b4"/>
<circle cx="961.5" cy="1565.2" r="3" fill="#e8a8b4"/>
<circle cx="961" cy="1573.2" r="2.8" fill="#e8a8b4"/>
<circle cx="959.8" cy="1577.3" r="3.4" fill="#e8a8b4"/>
<circle cx="957.1" cy="1582" r="3.7" fill="#e8a8b4"/>
<circle cx="955.5" cy="1581.5" r="3.6" fill="#e8a8b4"/>
<circle cx="951.5" cy="1578.8" r="3.3" fill="#e8a8b4"/>
<circle cx="949.9" cy="1574.8" r="3" fill="#e8a8b4"/>
<circle cx="949.6" cy="1566.7" r="3.5" fill="#e8a8b4"/>
<circle cx="949.6" cy="1561.4" r="2.6" fill="#e8a8b4"/>
<circle cx="952.8" cy="1554.2" r="3.6" fill="#e8a8b4"/>
<circle cx="953.3" cy="1553.2" r="2.6" fill="#e8a8b4"/>
<circle cx="956" cy="1551.8" r="3.5" fill="#e8a8b4"/>
<circle cx="959.2" cy="1555.2" r="3.3" fill="#e8a8b4"/>
<circle cx="962.1" cy="1563.2" r="3.6" fill="#e8a8b4"/>
</g>
<ellipse cx="946.8" cy="1550.2" rx="7.7" ry="3" fill="#4de3c9" transform="rotate(89 946.8 1550.2)"/>
<ellipse cx="947.1" cy="1564.8" rx="7.7" ry="3" fill="#4de3c9" transform="rotate(89 947.1 1564.8)"/>
<ellipse cx="947.3" cy="1579.2" rx="7.7" ry="3" fill="#4de3c9" transform="rotate(89 947.3 1579.2)"/>
<ellipse cx="947.6" cy="1593.8" rx="7.7" ry="3" fill="#4de3c9" transform="rotate(89 947.6 1593.8)"/>
<circle cx="946.7" cy="1543" r="1.1" fill="#1f5f55" opacity="0.6"/>
<circle cx="947" cy="1557.5" r="1.1" fill="#1f5f55" opacity="0.6"/>
<circle cx="947.2" cy="1572" r="1.1" fill="#1f5f55" opacity="0.6"/>
<circle cx="947.5" cy="1586.5" r="1.1" fill="#1f5f55" opacity="0.6"/>
<circle cx="947.7" cy="1601" r="1.1" fill="#1f5f55" opacity="0.6"/>
<ellipse cx="964.8" cy="1550.2" rx="7.7" ry="3" fill="#4de3c9" transform="rotate(89 964.8 1550.2)"/>
<ellipse cx="965.1" cy="1564.8" rx="7.7" ry="3" fill="#4de3c9" transform="rotate(89 965.1 1564.8)"/>
<ellipse cx="965.3" cy="1579.2" rx="7.7" ry="3" fill="#4de3c9" transform="rotate(89 965.3 1579.2)"/>
<ellipse cx="965.6" cy="1593.8" rx="7.7" ry="3" fill="#4de3c9" transform="rotate(89 965.6 1593.8)"/>
<circle cx="964.7" cy="1543" r="1.1" fill="#1f5f55" opacity="0.6"/>
<circle cx="965" cy="1557.5" r="1.1" fill="#1f5f55" opacity="0.6"/>
<circle cx="965.2" cy="1572" r="1.1" fill="#1f5f55" opacity="0.6"/>
<circle cx="965.5" cy="1586.5" r="1.1" fill="#1f5f55" opacity="0.6"/>
<circle cx="965.7" cy="1601" r="1.1" fill="#1f5f55" opacity="0.6"/>
<ellipse cx="886.5" cy="1538.9" rx="8" ry="4" fill="#4de3c9" transform="rotate(-0.8 886.5 1538.9)"/>
<ellipse cx="901.6" cy="1538.7" rx="8" ry="4" fill="#4de3c9" transform="rotate(-0.8 901.6 1538.7)"/>
<ellipse cx="916.8" cy="1538.5" rx="8" ry="4" fill="#4de3c9" transform="rotate(-0.8 916.8 1538.5)"/>
<ellipse cx="931.9" cy="1538.3" rx="8" ry="4" fill="#4de3c9" transform="rotate(-0.8 931.9 1538.3)"/>
<ellipse cx="947" cy="1538.1" rx="8" ry="4" fill="#4de3c9" transform="rotate(-0.8 947 1538.1)"/>
<ellipse cx="962" cy="1537.9" rx="8" ry="4" fill="#4de3c9" transform="rotate(-0.8 962 1537.9)"/>
<ellipse cx="977.1" cy="1537.7" rx="8" ry="4" fill="#4de3c9" transform="rotate(-0.8 977.1 1537.7)"/>
<ellipse cx="992.2" cy="1537.5" rx="8" ry="4" fill="#4de3c9" transform="rotate(-0.8 992.2 1537.5)"/>
<ellipse cx="1007.4" cy="1537.3" rx="8" ry="4" fill="#4de3c9" transform="rotate(-0.8 1007.4 1537.3)"/>
<ellipse cx="1022.5" cy="1537.1" rx="8" ry="4" fill="#4de3c9" transform="rotate(-0.8 1022.5 1537.1)"/>
<circle cx="879" cy="1539" r="1.1" fill="#1f5f55" opacity="0.6"/>
<circle cx="894.1" cy="1538.8" r="1.1" fill="#1f5f55" opacity="0.6"/>
<circle cx="909.2" cy="1538.6" r="1.1" fill="#1f5f55" opacity="0.6"/>
<circle cx="924.3" cy="1538.4" r="1.1" fill="#1f5f55" opacity="0.6"/>
<circle cx="939.4" cy="1538.2" r="1.1" fill="#1f5f55" opacity="0.6"/>
<circle cx="954.5" cy="1538" r="1.1" fill="#1f5f55" opacity="0.6"/>
<circle cx="969.6" cy="1537.8" r="1.1" fill="#1f5f55" opacity="0.6"/>
<circle cx="984.7" cy="1537.6" r="1.1" fill="#1f5f55" opacity="0.6"/>
<circle cx="999.8" cy="1537.4" r="1.1" fill="#1f5f55" opacity="0.6"/>
<circle cx="1014.9" cy="1537.2" r="1.1" fill="#1f5f55" opacity="0.6"/>
<circle cx="1030" cy="1537" r="1.1" fill="#1f5f55" opacity="0.6"/>
<g fill="none" stroke-linecap="round" stroke-linejoin="round">
<ellipse cx="970.1" cy="1531.8" rx="10.6" ry="7.9" fill="#e98a6e" opacity="0.85"/>
<polyline points="970,1527 965.7,1530.3 968.9,1534.2 974.5,1532.4 979.8,1534.8" fill="none" stroke="#e98a6e" stroke-width="2.3"/>
<polyline points="963.2,1529.1 965,1533.5 964.3,1538.1 964.9,1542.7 971.1,1542.4" fill="none" stroke="#e98a6e" stroke-width="2.3"/>
<polyline points="957.3,1529.7 957.3,1525.1 958.9,1520.6 965.7,1522 965.1,1522" fill="none" stroke="#e98a6e" stroke-width="2.3"/>
<polyline points="981.5,1538.5 981.7,1538.2 978.9,1539.5 977.7,1540.2 978.2,1540.2" fill="none" stroke="#e98a6e" stroke-width="2.3"/>
<polyline points="958.3,1533.3 963.7,1535.5 964.4,1540.1 964.2,1544.7 961.7,1541" fill="none" stroke="#c8644a" stroke-width="2.3"/>
<polyline points="963.2,1521.3 968.4,1518.9 971.4,1520.1 976.9,1522.2 981.8,1525" fill="none" stroke="#e98a6e" stroke-width="2.3"/>
<polyline points="970.9,1532.4 966.3,1529.3 969.7,1525.5 969.5,1520.9 972.6,1521.8" fill="none" stroke="#e98a6e" stroke-width="2.3"/>
<polyline points="964.3,1538.3 960.7,1534.6 954.6,1535.2 957,1536.9 956.7,1535.2" fill="none" stroke="#c8644a" stroke-width="2.3"/>
<polyline points="976.2,1541.7 982.2,1542.6 978.6,1542.6 972.4,1542.5 966.3,1543" fill="none" stroke="#e98a6e" stroke-width="2.3"/>
<polyline points="969,1534.9 970.4,1539.4 972.1,1543.8 974.6,1542.4 980.2,1540.5" fill="none" stroke="#e98a6e" stroke-width="2.3"/>
<polyline points="980.5,1537.5 982.7,1533.2 983.9,1528.6 982.1,1526.9 981.8,1522.3" fill="none" stroke="#e98a6e" stroke-width="2.3"/>
<polyline points="961.1,1528.8 959.9,1533.4 966,1534.2 970.9,1531.4 971.2,1526.8" fill="none" stroke="#e98a6e" stroke-width="2.3"/>
<polyline points="956.3,1536.2 956.2,1540.8 956.3,1539.2 956.6,1538.4 958,1539" fill="none" stroke="#c8644a" stroke-width="2.3"/>
<polyline points="963.6,1530.2 964.8,1525.6 970.8,1524.6 971.9,1520.1 972.7,1520.5" fill="none" stroke="#c8644a" stroke-width="2.3"/>
<polyline points="973.5,1529.6 976.5,1525.5 979.6,1521.6 974.5,1519 970.4,1520.4" fill="none" stroke="#e98a6e" stroke-width="2.3"/>
<polyline points="957,1525.6 957.1,1526 960,1521.9 964.7,1521.9 970.6,1520.6" fill="none" stroke="#e98a6e" stroke-width="2.3"/>
<polyline points="972.5,1542.4 968.2,1539.1 963.4,1536.2 958.8,1533.2 953.1,1531.4" fill="none" stroke="#e98a6e" stroke-width="2.3"/>
<polyline points="962.3,1522.2 966.3,1518.7 966,1519.6 965.9,1520.2 965.2,1520.8" fill="none" stroke="#c8644a" stroke-width="2.3"/>
</g>
<g fill="none" stroke-linecap="round" stroke-linejoin="round">
<ellipse cx="936.5" cy="1518.6" rx="7.6" ry="7.9" fill="#3f78c8" opacity="0.85"/>
<polyline points="945.5,1515.5 949.3,1517.9 948.2,1519.6 947.8,1519.5 946.4,1516.8" fill="none" stroke="#3f78c8" stroke-width="2.3"/>
<polyline points="943.1,1521.5 946.5,1518.6 946,1520.5 946.2,1520.6 946.4,1520.3" fill="none" stroke="#3f78c8" stroke-width="2.3"/>
<polyline points="947.6,1522.1 943.7,1524.1 939.6,1525.8 936.1,1523 936.9,1518.4" fill="none" stroke="#2b5aa6" stroke-width="2.3"/>
<polyline points="931.8,1517.2 928,1514.8 925.7,1510.9 930.5,1510.4 932.9,1506.6" fill="none" stroke="#3f78c8" stroke-width="2.3"/>
<polyline points="943.5,1513.8 939.3,1512.6 934.9,1511.6 930.6,1510.9 926.7,1508.8" fill="none" stroke="#3f78c8" stroke-width="2.3"/>
<polyline points="939.6,1522.4 942.2,1526.1 946.6,1526.2 949,1522.4 949.7,1517.9" fill="none" stroke="#3f78c8" stroke-width="2.3"/>
<polyline points="940.6,1522.6 944.6,1520.4 948.3,1518.1 947.3,1516.4 947.5,1511.8" fill="none" stroke="#2b5aa6" stroke-width="2.3"/>
<polyline points="937.4,1517 941.2,1519.2 944.9,1516.7 949.3,1516 945.2,1513.5" fill="none" stroke="#3f78c8" stroke-width="2.3"/>
<polyline points="942.1,1520.7 938.3,1523.1 934,1524.2 929.6,1524.3 929.6,1528.9" fill="none" stroke="#3f78c8" stroke-width="2.3"/>
<polyline points="933.2,1513.1 937.3,1514.8 935.7,1519 931.3,1519.1 929.1,1523.1" fill="none" stroke="#3f78c8" stroke-width="2.3"/>
<polyline points="928.1,1512.1 928.9,1511.4 928.6,1506.8 928.7,1508.1 930.8,1508.1" fill="none" stroke="#2b5aa6" stroke-width="2.3"/>
<polyline points="927.9,1521.3 930,1525.4 934.3,1524.6 936.2,1520.4 940.6,1520.5" fill="none" stroke="#3f78c8" stroke-width="2.3"/>
<polyline points="932.5,1520.9 936.3,1523.2 939.1,1526.8 942.8,1524.3 947,1525.8" fill="none" stroke="#3f78c8" stroke-width="2.3"/>
<polyline points="942.5,1524.3 944.3,1528.5 940.2,1528.2 936,1526.7 934.4,1522.4" fill="none" stroke="#3f78c8" stroke-width="2.3"/>
<polyline points="929.4,1517.6 933.5,1519.2 937.4,1517 941.4,1519.1 942.1,1523.7" fill="none" stroke="#3f78c8" stroke-width="2.3"/>
<polyline points="927.9,1513 930.8,1509.5 930.8,1509.5 926.5,1510.4 926.5,1513.7" fill="none" stroke="#2b5aa6" stroke-width="2.3"/>
<polyline points="940.5,1513.6 942.6,1509.5 940.5,1505.5 939.8,1506.2 941.6,1508.5" fill="none" stroke="#3f78c8" stroke-width="2.3"/>
<polyline points="937.2,1519.3 937.2,1514.7 934.8,1510.9 931,1508.5 927.3,1510.9" fill="none" stroke="#3f78c8" stroke-width="2.3"/>
</g>
<g fill="none" stroke-linecap="round" stroke-linejoin="round">
<ellipse cx="932.9" cy="1541" rx="6.6" ry="6.6" fill="#3f78c8" opacity="0.85"/>
<polyline points="932.7,1550.4 931.1,1549.7 931.8,1549.8 930.8,1549.5 927.1,1550.4" fill="none" stroke="#3f78c8" stroke-width="2.3"/>
<polyline points="934.4,1534.1 931.3,1536.4 930.8,1540.2 932.5,1543.6 935.7,1545.7" fill="none" stroke="#3f78c8" stroke-width="2.3"/>
<polyline points="932.1,1531.6 932.9,1531.8 933,1531.9 934.7,1532.5 933.1,1532.6" fill="none" stroke="#2b5aa6" stroke-width="2.3"/>
<polyline points="928.1,1544.5 925.8,1541.4 926,1537.5 922.7,1535.6 926.9,1534.8" fill="none" stroke="#2b5aa6" stroke-width="2.3"/>
<polyline points="936.2,1543.1 939.2,1540.7 937.3,1537.3 933.6,1536.6 932,1540.2" fill="none" stroke="#2b5aa6" stroke-width="2.3"/>
<polyline points="925.3,1547.7 922.6,1545 922.2,1541.2 923,1537.4 926.8,1537.7" fill="none" stroke="#3f78c8" stroke-width="2.3"/>
<polyline points="928.6,1535.8 927.8,1539.5 924.3,1541 922.5,1544.4 925.8,1546.5" fill="none" stroke="#3f78c8" stroke-width="2.3"/>
<polyline points="928,1540.5 931.5,1538.9 932.7,1535.3 929,1534.2 926.4,1537" fill="none" stroke="#3f78c8" stroke-width="2.3"/>
<polyline points="934,1535 930.5,1536.5 926.8,1537.7 923.3,1536.1 921.1,1539.2" fill="none" stroke="#2b5aa6" stroke-width="2.3"/>
<polyline points="930.9,1550.1 932.9,1546.8 936.3,1548.5 940.1,1547.6 940.6,1545.8" fill="none" stroke="#2b5aa6" stroke-width="2.3"/>
<polyline points="939.9,1537.7 940.8,1541.4 944.6,1541.8 941.8,1539 940.4,1535.4" fill="none" stroke="#3f78c8" stroke-width="2.3"/>
<polyline points="936.2,1531.6 939.9,1532.4 940.2,1536.2 942,1539.6 938.8,1541.6" fill="none" stroke="#3f78c8" stroke-width="2.3"/>
<polyline points="934,1532.2 937.6,1530.8 938.5,1532.6 939.5,1534.5 938.8,1530.7" fill="none" stroke="#2b5aa6" stroke-width="2.3"/>
<polyline points="940.3,1544.3 943.6,1546.3 942.9,1543.8 941.5,1540.8 941.3,1542.2" fill="none" stroke="#3f78c8" stroke-width="2.3"/>
</g>
<g fill="#e3327c">
<ellipse cx="891.9" cy="1564.5" rx="11.1" ry="9" fill="#e3327c"/>
<circle cx="900.7" cy="1563.3" r="3.1" fill="#e3327c"/>
<circle cx="899.3" cy="1567.8" r="4.1" fill="#e3327c"/>
<circle cx="896.1" cy="1570.3" r="3.3" fill="#e3327c"/>
<circle cx="890.3" cy="1571.1" r="3.6" fill="#e3327c"/>
<circle cx="888.4" cy="1570.7" r="3.2" fill="#e3327c"/>
<circle cx="885.3" cy="1568.4" r="3.1" fill="#e3327c"/>
<circle cx="882.9" cy="1565.5" r="3.8" fill="#e3327c"/>
<circle cx="884.4" cy="1561.1" r="3" fill="#e3327c"/>
<circle cx="887.5" cy="1559.1" r="4.2" fill="#e3327c"/>
<circle cx="893.3" cy="1558.3" r="4.2" fill="#e3327c"/>
<circle cx="897.1" cy="1559.9" r="3.7" fill="#e3327c"/>
<circle cx="898.7" cy="1560.4" r="3.6" fill="#e3327c"/>
</g>
<g fill="#e3327c">
<ellipse cx="1016.5" cy="1561.3" rx="10.1" ry="10.1" fill="#e3327c"/>
<circle cx="1023.4" cy="1561.3" r="3.5" fill="#e3327c"/>
<circle cx="1022" cy="1565.9" r="4.3" fill="#e3327c"/>
<circle cx="1020.9" cy="1566.7" r="3.7" fill="#e3327c"/>
<circle cx="1016.2" cy="1568.4" r="3.6" fill="#e3327c"/>
<circle cx="1013" cy="1567.3" r="4" fill="#e3327c"/>
<circle cx="1010.7" cy="1565.4" r="4.5" fill="#e3327c"/>
<circle cx="1009.9" cy="1561.9" r="4.1" fill="#e3327c"/>
<circle cx="1010.5" cy="1558.6" r="3.6" fill="#e3327c"/>
<circle cx="1012.9" cy="1555.6" r="4.7" fill="#e3327c"/>
<circle cx="1015.5" cy="1554.7" r="4" fill="#e3327c"/>
<circle cx="1021.4" cy="1556" r="4.3" fill="#e3327c"/>
<circle cx="1022.7" cy="1558.5" r="4.1" fill="#e3327c"/>
</g>
<line x1="1057.5" y1="1557" x2="1084" y2="1557" stroke="#000" stroke-width="3.2"/>
<polygon points="1049.5,1557 1061.5,1550 1061.5,1564" fill="#000"/>
<polygon points="1092,1557 1080,1550 1080,1564" fill="#000"/>
<ellipse cx="1133.3" cy="1580.3" rx="7.7" ry="4" fill="#4de3c9" transform="rotate(-1.2 1133.3 1580.3)"/>
<ellipse cx="1147.9" cy="1580" rx="7.7" ry="4" fill="#4de3c9" transform="rotate(-1.2 1147.9 1580)"/>
<ellipse cx="1162.6" cy="1579.7" rx="7.7" ry="4" fill="#4de3c9" transform="rotate(-1.2 1162.6 1579.7)"/>
<ellipse cx="1177.2" cy="1579.4" rx="7.7" ry="4" fill="#4de3c9" transform="rotate(-1.2 1177.2 1579.4)"/>
<ellipse cx="1191.8" cy="1579.1" rx="7.7" ry="4" fill="#4de3c9" transform="rotate(-1.2 1191.8 1579.1)"/>
<ellipse cx="1206.4" cy="1578.8" rx="7.7" ry="4" fill="#4de3c9" transform="rotate(-1.2 1206.4 1578.8)"/>
<ellipse cx="1221.1" cy="1578.5" rx="7.7" ry="4" fill="#4de3c9" transform="rotate(-1.2 1221.1 1578.5)"/>
<ellipse cx="1235.7" cy="1578.2" rx="7.7" ry="4" fill="#4de3c9" transform="rotate(-1.2 1235.7 1578.2)"/>
<circle cx="1126" cy="1580.5" r="1.1" fill="#1f5f55" opacity="0.6"/>
<circle cx="1140.6" cy="1580.2" r="1.1" fill="#1f5f55" opacity="0.6"/>
<circle cx="1155.2" cy="1579.9" r="1.1" fill="#1f5f55" opacity="0.6"/>
<circle cx="1169.9" cy="1579.6" r="1.1" fill="#1f5f55" opacity="0.6"/>
<circle cx="1184.5" cy="1579.2" r="1.1" fill="#1f5f55" opacity="0.6"/>
<circle cx="1199.1" cy="1578.9" r="1.1" fill="#1f5f55" opacity="0.6"/>
<circle cx="1213.8" cy="1578.6" r="1.1" fill="#1f5f55" opacity="0.6"/>
<circle cx="1228.4" cy="1578.3" r="1.1" fill="#1f5f55" opacity="0.6"/>
<circle cx="1243" cy="1578" r="1.1" fill="#1f5f55" opacity="0.6"/>
<g fill="#e8a8b4">
<ellipse cx="1197.5" cy="1552" rx="20.6" ry="17.5" fill="#e8a8b4"/>
<circle cx="1214.1" cy="1551.5" r="7.1" fill="#e8a8b4"/>
<circle cx="1212.4" cy="1557.4" r="6" fill="#e8a8b4"/>
<circle cx="1208.4" cy="1562.2" r="5.8" fill="#e8a8b4"/>
<circle cx="1203.6" cy="1564.4" r="7.4" fill="#e8a8b4"/>
<circle cx="1195.8" cy="1565.1" r="5.6" fill="#e8a8b4"/>
<circle cx="1186.3" cy="1561.3" r="6.3" fill="#e8a8b4"/>
<circle cx="1181.4" cy="1556.4" r="5.9" fill="#e8a8b4"/>
<circle cx="1182.3" cy="1551.4" r="7.1" fill="#e8a8b4"/>
<circle cx="1182.2" cy="1547.1" r="7.2" fill="#e8a8b4"/>
<circle cx="1186.1" cy="1543.9" r="5.9" fill="#e8a8b4"/>
<circle cx="1192.8" cy="1539.5" r="5.8" fill="#e8a8b4"/>
<circle cx="1200.9" cy="1539.7" r="6.6" fill="#e8a8b4"/>
<circle cx="1209.6" cy="1544.1" r="5.3" fill="#e8a8b4"/>
<circle cx="1213" cy="1547.2" r="6.8" fill="#e8a8b4"/>
</g>
<g fill="#e2f0b6">
<ellipse cx="1194.5" cy="1559" rx="11.6" ry="21.5" fill="#e2f0b6"/>
<circle cx="1202.4" cy="1556" r="3.6" fill="#e2f0b6"/>
<circle cx="1201.6" cy="1569" r="4.1" fill="#e2f0b6"/>
<circle cx="1198.8" cy="1574.5" r="3.7" fill="#e2f0b6"/>
<circle cx="1196" cy="1577.3" r="3.8" fill="#e2f0b6"/>
<circle cx="1193.3" cy="1576.8" r="4.7" fill="#e2f0b6"/>
<circle cx="1190.4" cy="1576.9" r="3.9" fill="#e2f0b6"/>
<circle cx="1186.3" cy="1567.5" r="3.9" fill="#e2f0b6"/>
<circle cx="1185.4" cy="1559.4" r="3.7" fill="#e2f0b6"/>
<circle cx="1186.8" cy="1549.8" r="4.3" fill="#e2f0b6"/>
<circle cx="1189.1" cy="1544.4" r="4" fill="#e2f0b6"/>
<circle cx="1192.7" cy="1540.5" r="4" fill="#e2f0b6"/>
<circle cx="1195.6" cy="1541.6" r="4.7" fill="#e2f0b6"/>
<circle cx="1200.5" cy="1545.9" r="3.5" fill="#e2f0b6"/>
<circle cx="1203.3" cy="1553.7" r="3.5" fill="#e2f0b6"/>
</g>
<ellipse cx="1206" cy="1523.1" rx="9.1" ry="3.3" fill="#4de3c9" transform="rotate(14.6 1206 1523.1)"/>
<ellipse cx="1220.8" cy="1531.4" rx="9.1" ry="3.3" fill="#4de3c9" transform="rotate(44.1 1220.8 1531.4)"/>
<ellipse cx="1229.4" cy="1545.7" rx="9.1" ry="3.3" fill="#4de3c9" transform="rotate(74.6 1229.4 1545.7)"/>
<ellipse cx="1229.4" cy="1562.3" rx="9.1" ry="3.3" fill="#4de3c9" transform="rotate(105.4 1229.4 1562.3)"/>
<ellipse cx="1220.8" cy="1576.6" rx="9.1" ry="3.3" fill="#4de3c9" transform="rotate(135.9 1220.8 1576.6)"/>
<ellipse cx="1206" cy="1584.9" rx="9.1" ry="3.3" fill="#4de3c9" transform="rotate(165.4 1206 1584.9)"/>
<ellipse cx="1189" cy="1584.9" rx="9.1" ry="3.3" fill="#4de3c9" transform="rotate(-165.4 1189 1584.9)"/>
<ellipse cx="1174.2" cy="1576.6" rx="9.1" ry="3.3" fill="#4de3c9" transform="rotate(-135.9 1174.2 1576.6)"/>
<ellipse cx="1165.6" cy="1562.3" rx="9.1" ry="3.3" fill="#4de3c9" transform="rotate(-105.4 1165.6 1562.3)"/>
<ellipse cx="1165.6" cy="1545.7" rx="9.1" ry="3.3" fill="#4de3c9" transform="rotate(-74.6 1165.6 1545.7)"/>
<ellipse cx="1174.2" cy="1531.4" rx="9.1" ry="3.3" fill="#4de3c9" transform="rotate(-44.1 1174.2 1531.4)"/>
<ellipse cx="1189" cy="1523.1" rx="9.1" ry="3.3" fill="#4de3c9" transform="rotate(-14.6 1189 1523.1)"/>
<g fill="none" stroke-linecap="round" stroke-linejoin="round">
<ellipse cx="1204.1" cy="1510" rx="8.5" ry="9.1" fill="#e98a6e" opacity="0.85"/>
<polyline points="1197.7,1513.2 1202.6,1512.6 1206.8,1509.9 1210.2,1506.1 1214.2,1503" fill="none" stroke="#e98a6e" stroke-width="2.3"/>
<polyline points="1209.9,1520.3 1207.6,1525 1207.5,1524 1208.2,1523 1210.3,1519.9" fill="none" stroke="#e98a6e" stroke-width="2.3"/>
<polyline points="1214,1503.2 1209.6,1500.8 1208.1,1495.8 1209,1497.2 1208.8,1497.6" fill="none" stroke="#e98a6e" stroke-width="2.3"/>
<polyline points="1207,1516.9 1205.4,1511.9 1201.1,1509.3 1198,1505.2 1193.1,1505.7" fill="none" stroke="#c8644a" stroke-width="2.3"/>
<polyline points="1213.2,1513.1 1218.1,1512.6 1216.2,1509.1 1216,1508.8 1215.3,1511.1" fill="none" stroke="#c8644a" stroke-width="2.3"/>
<polyline points="1209.5,1518 1209.6,1523.3 1205.2,1521.5 1202.3,1517.2 1199,1513.3" fill="none" stroke="#e98a6e" stroke-width="2.3"/>
<polyline points="1198.3,1521.3 1197.5,1516.1 1200.8,1512.1 1197.9,1507.9 1194.5,1504" fill="none" stroke="#c8644a" stroke-width="2.3"/>
<polyline points="1210.5,1499.4 1207.3,1495.4 1206.8,1496.1 1203.9,1497.4 1204.6,1497.5" fill="none" stroke="#e98a6e" stroke-width="2.3"/>
<polyline points="1203.9,1507.4 1199.9,1504.4 1196.1,1501 1199.1,1496.8 1202.5,1497.7" fill="none" stroke="#e98a6e" stroke-width="2.3"/>
<polyline points="1201.3,1517.4 1197.4,1520.6 1193.7,1517 1190.4,1513.2 1191,1512.1" fill="none" stroke="#e98a6e" stroke-width="2.3"/>
<polyline points="1208,1522.5 1207.1,1517.3 1202.2,1516.6 1198,1513.8 1193.1,1513.7" fill="none" stroke="#c8644a" stroke-width="2.3"/>
<polyline points="1203.4,1514.8 1198.6,1513.5 1196.9,1518.5 1192.2,1520.1 1192.6,1518.5" fill="none" stroke="#e98a6e" stroke-width="2.3"/>
<polyline points="1201.4,1513 1206.1,1511.4 1211,1511.7 1211.6,1517 1206.7,1517.5" fill="none" stroke="#e98a6e" stroke-width="2.3"/>
<polyline points="1213.9,1514.1 1216.8,1509.9 1214.1,1505.4 1209.2,1504.6 1209.8,1499.4" fill="none" stroke="#e98a6e" stroke-width="2.3"/>
<polyline points="1204.6,1497.4 1203.6,1502.6 1200,1506.2 1198.3,1511.2 1201.9,1514.8" fill="none" stroke="#e98a6e" stroke-width="2.3"/>
<polyline points="1195.5,1510.9 1191.6,1514.1 1192,1519.4 1196.3,1521.8 1201.3,1521.8" fill="none" stroke="#e98a6e" stroke-width="2.3"/>
<polyline points="1202.2,1522.6 1206.8,1520.8 1206,1515.5 1201.3,1514 1196.6,1515.9" fill="none" stroke="#c8644a" stroke-width="2.3"/>
<polyline points="1203.9,1510.3 1199.5,1507.8 1195.2,1510.5 1197.6,1515.1 1194.6,1519.4" fill="none" stroke="#e98a6e" stroke-width="2.3"/>
</g>
<g fill="none" stroke-linecap="round" stroke-linejoin="round">
<ellipse cx="1187.6" cy="1502.3" rx="7.9" ry="7.9" fill="#3f78c8" opacity="0.85"/>
<polyline points="1188.3,1512.6 1186.3,1508.5 1183,1505.3 1179.9,1501.9 1176.8,1498.6" fill="none" stroke="#3f78c8" stroke-width="2.3"/>
<polyline points="1182.4,1497.8 1178.1,1499.4 1173.7,1500.7 1174.2,1505.3 1175.6,1506.2" fill="none" stroke="#2b5aa6" stroke-width="2.3"/>
<polyline points="1191.4,1498.4 1190.5,1502.9 1188.7,1507.1 1184.1,1507.4 1179.9,1505.5" fill="none" stroke="#3f78c8" stroke-width="2.3"/>
<polyline points="1185.7,1496.4 1181.7,1498.6 1183.1,1503 1179.1,1505.2 1178.4,1509.7" fill="none" stroke="#3f78c8" stroke-width="2.3"/>
<polyline points="1190.2,1500.1 1186.2,1498 1182.6,1495.1 1184.8,1491.1 1186.4,1491.4" fill="none" stroke="#3f78c8" stroke-width="2.3"/>
<polyline points="1184.8,1491.6 1189.2,1492.6 1190,1492.5 1188.9,1488.1 1191.5,1491.2" fill="none" stroke="#3f78c8" stroke-width="2.3"/>
<polyline points="1196.1,1508.2 1192.9,1511.5 1189.4,1514.5 1188.7,1514 1186.9,1513.4" fill="none" stroke="#2b5aa6" stroke-width="2.3"/>
<polyline points="1187.6,1494.5 1189.6,1498.6 1193.2,1501.3 1197.2,1503.6 1199.5,1507.6" fill="none" stroke="#3f78c8" stroke-width="2.3"/>
<polyline points="1190.2,1506.8 1188.3,1510.9 1191.1,1514.5 1187.5,1512.8 1184.3,1516.1" fill="none" stroke="#3f78c8" stroke-width="2.3"/>
<polyline points="1182.8,1513.4 1184,1513.3 1182.6,1512 1182.1,1511.5 1177.6,1512.3" fill="none" stroke="#3f78c8" stroke-width="2.3"/>
<polyline points="1182.4,1500.1 1187,1499.6 1189.8,1496.1 1193.6,1498.6 1197.8,1500.4" fill="none" stroke="#3f78c8" stroke-width="2.3"/>
<polyline points="1185.8,1490.4 1183.8,1492 1186.6,1488.4 1187,1489.4 1185.4,1490.6" fill="none" stroke="#2b5aa6" stroke-width="2.3"/>
<polyline points="1188.7,1500.9 1192.7,1498.6 1194.2,1494.3 1193.8,1493.9 1194,1494" fill="none" stroke="#3f78c8" stroke-width="2.3"/>
<polyline points="1188.9,1504.3 1191.1,1508.3 1194.7,1511.1 1194.5,1511 1195.7,1508.6" fill="none" stroke="#3f78c8" stroke-width="2.3"/>
<polyline points="1194,1506.5 1198.5,1507.6 1197.1,1508.6 1195.7,1512.9 1195.4,1512.1" fill="none" stroke="#3f78c8" stroke-width="2.3"/>
<polyline points="1184.2,1493.7 1188.6,1492.5 1191.4,1488.9 1193.4,1492.3 1198,1492.6" fill="none" stroke="#2b5aa6" stroke-width="2.3"/>
<polyline points="1197.6,1506 1193.1,1505.7 1188.6,1506.6 1186,1502.9 1188.5,1499" fill="none" stroke="#2b5aa6" stroke-width="2.3"/>
<polyline points="1182.2,1494.6 1184.8,1498.3 1188.6,1500.8 1193.2,1500.7 1193.5,1496.1" fill="none" stroke="#3f78c8" stroke-width="2.3"/>
</g>
<g fill="none" stroke-linecap="round" stroke-linejoin="round">
<ellipse cx="1179.9" cy="1528.7" rx="7.3" ry="7" fill="#3f78c8" opacity="0.85"/>
<polyline points="1184.6,1534.9 1188.8,1534.6 1188.4,1534.7 1188.6,1533.8 1188.9,1532.8" fill="none" stroke="#3f78c8" stroke-width="2.3"/>
<polyline points="1174.6,1528.5 1175,1532.6 1179,1533.8 1181.2,1530.3 1184.1,1527.4" fill="none" stroke="#2b5aa6" stroke-width="2.3"/>
<polyline points="1177.3,1530.6 1174.6,1527.4 1170.6,1528.6 1170.1,1532.6 1172.2,1534.2" fill="none" stroke="#3f78c8" stroke-width="2.3"/>
<polyline points="1177,1524.8 1176.7,1520.8 1173.4,1518.3 1170.1,1520.9 1170.2,1522.7" fill="none" stroke="#2b5aa6" stroke-width="2.3"/>
<polyline points="1182.9,1527.2 1180,1524.2 1176.1,1522.8 1172,1523.7 1171.4,1525" fill="none" stroke="#2b5aa6" stroke-width="2.3"/>
<polyline points="1176.1,1538.8 1178.9,1535.7 1181.1,1532.3 1178.8,1528.9 1175,1530.8" fill="none" stroke="#3f78c8" stroke-width="2.3"/>
<polyline points="1182,1534.9 1185.9,1533.4 1185.7,1529.4 1181.5,1529 1181.2,1525" fill="none" stroke="#3f78c8" stroke-width="2.3"/>
<polyline points="1186.8,1521.5 1190,1524.2 1189.5,1524.1 1188.9,1523.6 1186.3,1520.4" fill="none" stroke="#2b5aa6" stroke-width="2.3"/>
<polyline points="1175,1527.6 1171.6,1529.9 1168.3,1532.5 1168.8,1531.2 1170.8,1533" fill="none" stroke="#3f78c8" stroke-width="2.3"/>
<polyline points="1188.4,1529.6 1184.6,1531.3 1184.2,1535.4 1186.6,1538.7 1183.7,1538.4" fill="none" stroke="#3f78c8" stroke-width="2.3"/>
<polyline points="1188.5,1531.5 1192.5,1530.3 1190.2,1527.4 1190.1,1528.1 1189.5,1529.9" fill="none" stroke="#3f78c8" stroke-width="2.3"/>
<polyline points="1190.3,1529.9 1186.1,1529.6 1182,1530.8 1180.6,1527 1176.4,1527.2" fill="none" stroke="#2b5aa6" stroke-width="2.3"/>
<polyline points="1185.4,1522.9 1187,1526.6 1189.2,1530.1 1186,1532.8 1188.7,1535.9" fill="none" stroke="#2b5aa6" stroke-width="2.3"/>
<polyline points="1173.5,1527.6 1174.4,1531.5 1177,1534.7 1180.9,1536.3 1183.8,1539.2" fill="none" stroke="#2b5aa6" stroke-width="2.3"/>
</g>
<g fill="#e3327c">
<ellipse cx="1141" cy="1558" rx="11.2" ry="9.2" fill="#e3327c"/>
<circle cx="1149.4" cy="1559.3" r="3.8" fill="#e3327c"/>
<circle cx="1148.1" cy="1562.2" r="3" fill="#e3327c"/>
<circle cx="1145" cy="1563.3" r="4.2" fill="#e3327c"/>
<circle cx="1140.5" cy="1564.3" r="4.3" fill="#e3327c"/>
<circle cx="1136.3" cy="1563.2" r="3.3" fill="#e3327c"/>
<circle cx="1133.7" cy="1562.2" r="3.4" fill="#e3327c"/>
<circle cx="1132.8" cy="1557.9" r="3.7" fill="#e3327c"/>
<circle cx="1133.7" cy="1554.3" r="3.9" fill="#e3327c"/>
<circle cx="1137" cy="1551.9" r="4.3" fill="#e3327c"/>
<circle cx="1139.7" cy="1551.2" r="3.4" fill="#e3327c"/>
<circle cx="1145.8" cy="1552.8" r="3.4" fill="#e3327c"/>
<circle cx="1149.3" cy="1555.6" r="4.1" fill="#e3327c"/>
</g>
<g fill="#e3327c">
<ellipse cx="1225.3" cy="1601.8" rx="10.1" ry="10.1" fill="#e3327c"/>
<circle cx="1232.3" cy="1601.6" r="4.7" fill="#e3327c"/>
<circle cx="1231.2" cy="1606.1" r="4.4" fill="#e3327c"/>
<circle cx="1229.5" cy="1607.5" r="4.2" fill="#e3327c"/>
<circle cx="1226" cy="1608.6" r="3.6" fill="#e3327c"/>
<circle cx="1221.4" cy="1607.8" r="4" fill="#e3327c"/>
<circle cx="1219" cy="1605.5" r="3.8" fill="#e3327c"/>
<circle cx="1218.3" cy="1600.9" r="3.6" fill="#e3327c"/>
<circle cx="1218.3" cy="1599.6" r="3.7" fill="#e3327c"/>
<circle cx="1221.4" cy="1595.3" r="4.4" fill="#e3327c"/>
<circle cx="1224" cy="1594.3" r="4.6" fill="#e3327c"/>
<circle cx="1228.7" cy="1595.7" r="3.7" fill="#e3327c"/>
<circle cx="1230.9" cy="1597.9" r="3.9" fill="#e3327c"/>
</g>
<line x1="1296" y1="1557" x2="1322.6" y2="1557" stroke="#000" stroke-width="3.2"/>
<polygon points="1288,1557 1300,1550 1300,1564" fill="#000"/>
<polygon points="1330.6,1557 1318.6,1550 1318.6,1564" fill="#000"/>
<g fill="#e2f0b6">
<ellipse cx="1416.5" cy="1576" rx="11.2" ry="18.9" fill="#e2f0b6"/>
<circle cx="1424.8" cy="1574.7" r="4.2" fill="#e2f0b6"/>
<circle cx="1424.3" cy="1583.6" r="4.1" fill="#e2f0b6"/>
<circle cx="1422" cy="1587.8" r="4.8" fill="#e2f0b6"/>
<circle cx="1418.2" cy="1592.7" r="4.1" fill="#e2f0b6"/>
<circle cx="1414.6" cy="1590.9" r="3.8" fill="#e2f0b6"/>
<circle cx="1411.8" cy="1590" r="4" fill="#e2f0b6"/>
<circle cx="1409.1" cy="1583.1" r="4.1" fill="#e2f0b6"/>
<circle cx="1408" cy="1578.3" r="4.4" fill="#e2f0b6"/>
<circle cx="1408.3" cy="1570.9" r="4.3" fill="#e2f0b6"/>
<circle cx="1410.6" cy="1564.8" r="3.6" fill="#e2f0b6"/>
<circle cx="1414.9" cy="1560.6" r="4" fill="#e2f0b6"/>
<circle cx="1417.5" cy="1558.5" r="4.5" fill="#e2f0b6"/>
<circle cx="1421.8" cy="1564.8" r="4" fill="#e2f0b6"/>
<circle cx="1423.7" cy="1568.2" r="4.5" fill="#e2f0b6"/>
</g>
<g fill="#e2f0b6">
<ellipse cx="1446.5" cy="1574" rx="6.9" ry="14.6" fill="#e2f0b6"/>
<circle cx="1451.9" cy="1574.1" r="2.4" fill="#e2f0b6"/>
<circle cx="1451.1" cy="1581.1" r="2.6" fill="#e2f0b6"/>
<circle cx="1450.4" cy="1582.7" r="2.7" fill="#e2f0b6"/>
<circle cx="1447.7" cy="1587.5" r="2.4" fill="#e2f0b6"/>
<circle cx="1445.2" cy="1586.1" r="2.2" fill="#e2f0b6"/>
<circle cx="1443.3" cy="1584" r="2.8" fill="#e2f0b6"/>
<circle cx="1442.3" cy="1579.9" r="2.3" fill="#e2f0b6"/>
<circle cx="1441.5" cy="1573.5" r="2.1" fill="#e2f0b6"/>
<circle cx="1442.2" cy="1567.7" r="2.6" fill="#e2f0b6"/>
<circle cx="1443.3" cy="1564.1" r="2.2" fill="#e2f0b6"/>
<circle cx="1445.7" cy="1560.1" r="2.6" fill="#e2f0b6"/>
<circle cx="1448.2" cy="1560.6" r="2.1" fill="#e2f0b6"/>
<circle cx="1449.3" cy="1563" r="2.6" fill="#e2f0b6"/>
<circle cx="1451.3" cy="1568.9" r="2.2" fill="#e2f0b6"/>
</g>
<g fill="#e8a8b4">
<ellipse cx="1433.5" cy="1564" rx="12.5" ry="17.2" fill="#e8a8b4"/>
<circle cx="1442.7" cy="1563.7" r="3.9" fill="#e8a8b4"/>
<circle cx="1441.8" cy="1569" r="3.8" fill="#e8a8b4"/>
<circle cx="1439.4" cy="1574.5" r="3.9" fill="#e8a8b4"/>
<circle cx="1434.8" cy="1578.1" r="4.6" fill="#e8a8b4"/>
<circle cx="1430.7" cy="1576.7" r="4.9" fill="#e8a8b4"/>
<circle cx="1427" cy="1574.6" r="4.8" fill="#e8a8b4"/>
<circle cx="1424" cy="1567.7" r="4.7" fill="#e8a8b4"/>
<circle cx="1424.4" cy="1565.1" r="4.3" fill="#e8a8b4"/>
<circle cx="1424.7" cy="1559.8" r="4.7" fill="#e8a8b4"/>
<circle cx="1428.1" cy="1552.7" r="4.9" fill="#e8a8b4"/>
<circle cx="1433.2" cy="1550.9" r="4.7" fill="#e8a8b4"/>
<circle cx="1434.2" cy="1549.1" r="5.3" fill="#e8a8b4"/>
<circle cx="1438.8" cy="1552.5" r="4.7" fill="#e8a8b4"/>
<circle cx="1440.4" cy="1555.8" r="5" fill="#e8a8b4"/>
</g>
<ellipse cx="1372.3" cy="1551.3" rx="7.7" ry="4" fill="#4de3c9" transform="rotate(-5.4 1372.3 1551.3)"/>
<ellipse cx="1386.9" cy="1549.9" rx="7.7" ry="4" fill="#4de3c9" transform="rotate(-5.4 1386.9 1549.9)"/>
<ellipse cx="1401.6" cy="1548.6" rx="7.7" ry="4" fill="#4de3c9" transform="rotate(-5.4 1401.6 1548.6)"/>
<ellipse cx="1416.2" cy="1547.2" rx="7.7" ry="4" fill="#4de3c9" transform="rotate(-5.4 1416.2 1547.2)"/>
<ellipse cx="1430.8" cy="1545.8" rx="7.7" ry="4" fill="#4de3c9" transform="rotate(-5.4 1430.8 1545.8)"/>
<ellipse cx="1445.4" cy="1544.4" rx="7.7" ry="4" fill="#4de3c9" transform="rotate(-5.4 1445.4 1544.4)"/>
<ellipse cx="1460.1" cy="1543.1" rx="7.7" ry="4" fill="#4de3c9" transform="rotate(-5.4 1460.1 1543.1)"/>
<ellipse cx="1474.7" cy="1541.7" rx="7.7" ry="4" fill="#4de3c9" transform="rotate(-5.4 1474.7 1541.7)"/>
<circle cx="1365" cy="1552" r="1.1" fill="#1f5f55" opacity="0.6"/>
<circle cx="1379.6" cy="1550.6" r="1.1" fill="#1f5f55" opacity="0.6"/>
<circle cx="1394.2" cy="1549.2" r="1.1" fill="#1f5f55" opacity="0.6"/>
<circle cx="1408.9" cy="1547.9" r="1.1" fill="#1f5f55" opacity="0.6"/>
<circle cx="1423.5" cy="1546.5" r="1.1" fill="#1f5f55" opacity="0.6"/>
<circle cx="1438.1" cy="1545.1" r="1.1" fill="#1f5f55" opacity="0.6"/>
<circle cx="1452.8" cy="1543.8" r="1.1" fill="#1f5f55" opacity="0.6"/>
<circle cx="1467.4" cy="1542.4" r="1.1" fill="#1f5f55" opacity="0.6"/>
<circle cx="1482" cy="1541" r="1.1" fill="#1f5f55" opacity="0.6"/>
<g fill="none" stroke-linecap="round" stroke-linejoin="round">
<ellipse cx="1435.4" cy="1527.6" rx="8.9" ry="10.1" fill="#e98a6e" opacity="0.85"/>
<polyline points="1431.9,1538 1436.6,1540.6 1438,1540.3 1442.4,1543.3 1441.4,1542.5" fill="none" stroke="#e98a6e" stroke-width="2.3"/>
<polyline points="1441,1528.8 1441.1,1534.7 1438.5,1539.7 1433.5,1538 1431.9,1532.4" fill="none" stroke="#e98a6e" stroke-width="2.3"/>
<polyline points="1424.6,1529 1429,1525.9 1431.4,1520.7 1436.5,1519.6 1441.1,1517.1" fill="none" stroke="#e98a6e" stroke-width="2.3"/>
<polyline points="1439.2,1520.2 1435.7,1515.9 1432.7,1511.2 1429.9,1516.1 1428.6,1517.2" fill="none" stroke="#e98a6e" stroke-width="2.3"/>
<polyline points="1441.6,1521.6 1444.8,1517 1441.1,1513 1441.8,1514.3 1443.1,1516.5" fill="none" stroke="#e98a6e" stroke-width="2.3"/>
<polyline points="1427.7,1523.4 1428.7,1517.6 1433,1514.4 1438.2,1514.9 1442.7,1512.1" fill="none" stroke="#c8644a" stroke-width="2.3"/>
<polyline points="1427.1,1533.3 1428.3,1539 1427.1,1537 1428.5,1538.1 1430.2,1543.7" fill="none" stroke="#c8644a" stroke-width="2.3"/>
<polyline points="1438,1514.1 1439.9,1515.4 1436.7,1510.8 1433.9,1512.8 1432,1514.2" fill="none" stroke="#c8644a" stroke-width="2.3"/>
<polyline points="1445.8,1521.4 1443.1,1516.4 1438,1517 1435.6,1511.8 1437.4,1513" fill="none" stroke="#e98a6e" stroke-width="2.3"/>
<polyline points="1433.2,1522.5 1431.7,1516.9 1433.7,1511.4 1435.8,1512.6 1431.2,1510" fill="none" stroke="#e98a6e" stroke-width="2.3"/>
<polyline points="1431.3,1516.5 1436,1519 1438.7,1514 1439.8,1514.7 1441.8,1516.9" fill="none" stroke="#c8644a" stroke-width="2.3"/>
<polyline points="1428.6,1523.5 1430.3,1517.9 1427.1,1513.3 1426,1516.8 1421.3,1519" fill="none" stroke="#e98a6e" stroke-width="2.3"/>
<polyline points="1439.3,1531.7 1444.4,1532.7 1448.7,1535.8 1447.7,1535.7 1447.4,1531.9" fill="none" stroke="#e98a6e" stroke-width="2.3"/>
<polyline points="1433.3,1532.9 1429,1529.7 1424,1531 1424.1,1536.9 1426.3,1538" fill="none" stroke="#c8644a" stroke-width="2.3"/>
<polyline points="1430.8,1529.6 1426,1527.4 1422.7,1531.9 1426.2,1536.3 1430.5,1539.6" fill="none" stroke="#c8644a" stroke-width="2.3"/>
<polyline points="1426.7,1520.8 1431.5,1518.5 1436.6,1518.4 1440.8,1515 1445.6,1517.3" fill="none" stroke="#e98a6e" stroke-width="2.3"/>
<polyline points="1430.6,1517.6 1434.7,1521.1 1439.1,1524.2 1443.3,1520.7 1448.1,1522.8" fill="none" stroke="#e98a6e" stroke-width="2.3"/>
<polyline points="1426.3,1529.7 1427.7,1524 1428.4,1518.2 1425.1,1513.7 1424.6,1518" fill="none" stroke="#e98a6e" stroke-width="2.3"/>
</g>
<g fill="none" stroke-linecap="round" stroke-linejoin="round">
<ellipse cx="1419.3" cy="1513.8" rx="7.9" ry="7" fill="#3f78c8" opacity="0.85"/>
<polyline points="1410.6,1506.9 1410,1509.1 1410,1509.2 1409.2,1505.2 1413.3,1503.2" fill="none" stroke="#3f78c8" stroke-width="2.3"/>
<polyline points="1427.6,1515.2 1425.3,1518.7 1427.7,1522.2 1424.2,1522.4 1421.4,1525.6" fill="none" stroke="#2b5aa6" stroke-width="2.3"/>
<polyline points="1428.1,1519.7 1426.9,1515.8 1427.9,1511.8 1432.1,1510.1 1431.3,1510.4" fill="none" stroke="#3f78c8" stroke-width="2.3"/>
<polyline points="1411.1,1518.2 1412.2,1514.3 1411.6,1510.2 1408.9,1507 1413.2,1506.4" fill="none" stroke="#3f78c8" stroke-width="2.3"/>
<polyline points="1421,1506.9 1422.7,1503.1 1420.2,1503.8 1420.1,1504 1415.7,1502.9" fill="none" stroke="#3f78c8" stroke-width="2.3"/>
<polyline points="1411.7,1510.4 1407.6,1508.6 1408.5,1508.5 1412,1507.3 1411.6,1507.6" fill="none" stroke="#3f78c8" stroke-width="2.3"/>
<polyline points="1423,1515.3 1427.3,1514.1 1430.9,1511.5 1429.9,1510.4 1429.9,1510.9" fill="none" stroke="#2b5aa6" stroke-width="2.3"/>
<polyline points="1424,1504.6 1425.8,1506.8 1424.8,1502.9 1420.4,1501.9 1417.5,1505" fill="none" stroke="#3f78c8" stroke-width="2.3"/>
<polyline points="1412.1,1519 1411.1,1522.9 1414.6,1522.9 1416.4,1523 1412.1,1524.4" fill="none" stroke="#2b5aa6" stroke-width="2.3"/>
<polyline points="1426.9,1511.3 1430.6,1509 1429,1505.2 1424.7,1506.6 1423.1,1502.8" fill="none" stroke="#3f78c8" stroke-width="2.3"/>
<polyline points="1423.9,1518 1420.3,1520.5 1422.6,1524 1421.2,1523.7 1417,1525.4" fill="none" stroke="#3f78c8" stroke-width="2.3"/>
<polyline points="1426.6,1506.1 1424.2,1509.6 1423.2,1513.5 1424.9,1517.3 1428,1520.3" fill="none" stroke="#3f78c8" stroke-width="2.3"/>
<polyline points="1409.8,1511.4 1407.9,1515.1 1407.7,1519.1 1408,1518 1405.2,1514.8" fill="none" stroke="#2b5aa6" stroke-width="2.3"/>
<polyline points="1429.3,1513.7 1433.3,1511.6 1431,1508.1 1428.2,1507 1426,1506.3" fill="none" stroke="#3f78c8" stroke-width="2.3"/>
<polyline points="1422.8,1513.6 1419.1,1511.2 1415,1509.4 1414.3,1505.4 1416.4,1505.1" fill="none" stroke="#3f78c8" stroke-width="2.3"/>
<polyline points="1423,1520.7 1418.5,1520.1 1414.1,1521.2 1414.8,1521.7 1414.3,1521.7" fill="none" stroke="#3f78c8" stroke-width="2.3"/>
<polyline points="1422.7,1509.5 1418.3,1510.6 1413.7,1511.1 1409.8,1513.2 1407.2,1509.9" fill="none" stroke="#3f78c8" stroke-width="2.3"/>
<polyline points="1418.2,1510.3 1414.1,1508.4 1410.4,1510.9 1405.9,1510.5 1410.1,1508.7" fill="none" stroke="#3f78c8" stroke-width="2.3"/>
</g>
<g fill="none" stroke-linecap="round" stroke-linejoin="round">
<ellipse cx="1411.2" cy="1544.5" rx="7" ry="7" fill="#3f78c8" opacity="0.85"/>
<polyline points="1412.6,1537.3 1411.9,1541.3 1415.6,1542.9 1419.4,1544.3 1421.2,1547.9" fill="none" stroke="#3f78c8" stroke-width="2.3"/>
<polyline points="1418.8,1548.5 1417.6,1544.7 1413.6,1545.3 1410.4,1547.8 1406.5,1546.8" fill="none" stroke="#3f78c8" stroke-width="2.3"/>
<polyline points="1403.9,1543.9 1402.5,1540.1 1406.1,1538.4 1409.7,1540.3 1413.7,1539.6" fill="none" stroke="#2b5aa6" stroke-width="2.3"/>
<polyline points="1419.5,1540.2 1419.7,1536.1 1415.8,1535.2 1411.8,1534.6 1409.3,1537.9" fill="none" stroke="#2b5aa6" stroke-width="2.3"/>
<polyline points="1420.9,1543.9 1416.9,1543.5 1415.5,1547.3 1414.2,1551.1 1410.1,1551.5" fill="none" stroke="#2b5aa6" stroke-width="2.3"/>
<polyline points="1415.1,1548.7 1412,1546.1 1408.5,1548.2 1408.6,1552.3 1407.5,1556.2" fill="none" stroke="#2b5aa6" stroke-width="2.3"/>
<polyline points="1402.1,1547.7 1403,1548.9 1403.7,1549.8 1399.7,1549.6 1402.2,1545.4" fill="none" stroke="#2b5aa6" stroke-width="2.3"/>
<polyline points="1414.8,1546.6 1415,1542.5 1415.1,1538.5 1419.2,1538.7 1421.7,1541.9" fill="none" stroke="#2b5aa6" stroke-width="2.3"/>
<polyline points="1403.3,1547.7 1401.3,1551.2 1404.3,1552 1405.1,1552.3 1404.2,1550.8" fill="none" stroke="#2b5aa6" stroke-width="2.3"/>
<polyline points="1414.6,1550.4 1411,1552.2 1407.2,1550.8 1403.5,1549.1 1399.5,1548.8" fill="none" stroke="#3f78c8" stroke-width="2.3"/>
<polyline points="1407.2,1545.2 1404.3,1542.3 1406.4,1538.9 1408,1535.2 1411.3,1532.9" fill="none" stroke="#3f78c8" stroke-width="2.3"/>
<polyline points="1410.4,1542.5 1414.4,1542.2 1415.2,1546.2 1416.8,1549.9 1413.5,1552.3" fill="none" stroke="#3f78c8" stroke-width="2.3"/>
<polyline points="1408.4,1549.3 1410.2,1552.9 1413.1,1555.7 1412.4,1555.2 1409.9,1553.8" fill="none" stroke="#3f78c8" stroke-width="2.3"/>
<polyline points="1407.2,1542 1403.5,1543.6 1403,1547.6 1401.8,1551.5 1402.5,1551.3" fill="none" stroke="#3f78c8" stroke-width="2.3"/>
</g>
<g fill="#e3327c">
<ellipse cx="1381.8" cy="1576.3" rx="11" ry="10.1" fill="#e3327c"/>
<circle cx="1389.2" cy="1575" r="3.9" fill="#e3327c"/>
<circle cx="1388.9" cy="1579" r="3.3" fill="#e3327c"/>
<circle cx="1387.2" cy="1581.9" r="4.5" fill="#e3327c"/>
<circle cx="1380.3" cy="1583.5" r="3.5" fill="#e3327c"/>
<circle cx="1377.1" cy="1582" r="4.6" fill="#e3327c"/>
<circle cx="1374.2" cy="1579.9" r="4.3" fill="#e3327c"/>
<circle cx="1373.9" cy="1577" r="4.2" fill="#e3327c"/>
<circle cx="1375.9" cy="1571.8" r="4.6" fill="#e3327c"/>
<circle cx="1378.7" cy="1570.2" r="3.4" fill="#e3327c"/>
<circle cx="1382.7" cy="1569.4" r="3.4" fill="#e3327c"/>
<circle cx="1386.8" cy="1571" r="4" fill="#e3327c"/>
<circle cx="1389.5" cy="1574" r="4" fill="#e3327c"/>
</g>
<g fill="#e3327c">
<ellipse cx="1461.7" cy="1514.5" rx="10.1" ry="10.1" fill="#e3327c"/>
<circle cx="1469" cy="1513.5" r="4.2" fill="#e3327c"/>
<circle cx="1467.3" cy="1518.7" r="3.4" fill="#e3327c"/>
<circle cx="1464.9" cy="1520.6" r="4.6" fill="#e3327c"/>
<circle cx="1462.7" cy="1522" r="4.2" fill="#e3327c"/>
<circle cx="1458.7" cy="1521.3" r="4.1" fill="#e3327c"/>
<circle cx="1455.2" cy="1518" r="3.9" fill="#e3327c"/>
<circle cx="1454.4" cy="1513.5" r="4.1" fill="#e3327c"/>
<circle cx="1454.5" cy="1512.1" r="4" fill="#e3327c"/>
<circle cx="1458.1" cy="1508.5" r="4.3" fill="#e3327c"/>
<circle cx="1461.4" cy="1506.9" r="3.4" fill="#e3327c"/>
<circle cx="1465.6" cy="1508.9" r="3.9" fill="#e3327c"/>
<circle cx="1468.3" cy="1511.8" r="3.3" fill="#e3327c"/>
</g>
<g fill="#e2f0b6">
<ellipse cx="954.5" cy="2084" rx="10.3" ry="18.1" fill="#e2f0b6"/>
<circle cx="961.7" cy="2083.2" r="4.3" fill="#e2f0b6"/>
<circle cx="961" cy="2091.1" r="3.9" fill="#e2f0b6"/>
<circle cx="958.4" cy="2096.6" r="4" fill="#e2f0b6"/>
<circle cx="955.9" cy="2098.5" r="3.8" fill="#e2f0b6"/>
<circle cx="953.4" cy="2100.6" r="3.7" fill="#e2f0b6"/>
<circle cx="949.2" cy="2093.5" r="4.1" fill="#e2f0b6"/>
<circle cx="948.8" cy="2093.8" r="4" fill="#e2f0b6"/>
<circle cx="946.7" cy="2084.3" r="3.3" fill="#e2f0b6"/>
<circle cx="947.3" cy="2077.2" r="3.3" fill="#e2f0b6"/>
<circle cx="950.2" cy="2070.1" r="3.1" fill="#e2f0b6"/>
<circle cx="953.5" cy="2069.1" r="3.1" fill="#e2f0b6"/>
<circle cx="955.7" cy="2068.4" r="3.3" fill="#e2f0b6"/>
<circle cx="959.7" cy="2072.7" r="3.7" fill="#e2f0b6"/>
<circle cx="961.3" cy="2078.6" r="3.6" fill="#e2f0b6"/>
</g>
<g fill="#e2f0b6">
<ellipse cx="983.5" cy="2081" rx="9.5" ry="16.3" fill="#e2f0b6"/>
<circle cx="990.9" cy="2082.8" r="3.2" fill="#e2f0b6"/>
<circle cx="989.1" cy="2089" r="3.8" fill="#e2f0b6"/>
<circle cx="987.3" cy="2093.3" r="3.2" fill="#e2f0b6"/>
<circle cx="985.9" cy="2094.1" r="3.7" fill="#e2f0b6"/>
<circle cx="981.8" cy="2095.8" r="2.9" fill="#e2f0b6"/>
<circle cx="979.9" cy="2093.7" r="3.8" fill="#e2f0b6"/>
<circle cx="978" cy="2088.9" r="3" fill="#e2f0b6"/>
<circle cx="976.5" cy="2083.5" r="3.3" fill="#e2f0b6"/>
<circle cx="977.4" cy="2073" r="3.1" fill="#e2f0b6"/>
<circle cx="979.5" cy="2069.5" r="4" fill="#e2f0b6"/>
<circle cx="982.4" cy="2067.6" r="3.4" fill="#e2f0b6"/>
<circle cx="986.3" cy="2067.2" r="3.2" fill="#e2f0b6"/>
<circle cx="986.5" cy="2069.1" r="3.5" fill="#e2f0b6"/>
<circle cx="989" cy="2072.4" r="3.5" fill="#e2f0b6"/>
</g>
<g fill="#e8a8b4">
<ellipse cx="968.5" cy="2074" rx="8.6" ry="16.3" fill="#e8a8b4"/>
<circle cx="975" cy="2072.3" r="2.9" fill="#e8a8b4"/>
<circle cx="974.7" cy="2078.8" r="3.6" fill="#e8a8b4"/>
<circle cx="972.3" cy="2085.6" r="2.6" fill="#e8a8b4"/>
<circle cx="969.5" cy="2088.3" r="2.9" fill="#e8a8b4"/>
<circle cx="966.3" cy="2086.7" r="3.4" fill="#e8a8b4"/>
<circle cx="964" cy="2084.2" r="3.1" fill="#e8a8b4"/>
<circle cx="963" cy="2082.6" r="3.2" fill="#e8a8b4"/>
<circle cx="962.5" cy="2075" r="2.9" fill="#e8a8b4"/>
<circle cx="963.3" cy="2066.7" r="3.4" fill="#e8a8b4"/>
<circle cx="965.4" cy="2061.9" r="3.1" fill="#e8a8b4"/>
<circle cx="967" cy="2060.6" r="3.6" fill="#e8a8b4"/>
<circle cx="969.8" cy="2060.5" r="3.4" fill="#e8a8b4"/>
<circle cx="973" cy="2063.6" r="2.7" fill="#e8a8b4"/>
<circle cx="973.9" cy="2069" r="3.5" fill="#e8a8b4"/>
</g>
<ellipse cx="959.6" cy="2057.2" rx="7.7" ry="3" fill="#4de3c9" transform="rotate(89 959.6 2057.2)"/>
<ellipse cx="959.9" cy="2071.8" rx="7.7" ry="3" fill="#4de3c9" transform="rotate(89 959.9 2071.8)"/>
<ellipse cx="960.1" cy="2086.2" rx="7.7" ry="3" fill="#4de3c9" transform="rotate(89 960.1 2086.2)"/>
<ellipse cx="960.4" cy="2100.8" rx="7.7" ry="3" fill="#4de3c9" transform="rotate(89 960.4 2100.8)"/>
<circle cx="959.5" cy="2050" r="1.1" fill="#1f5f55" opacity="0.6"/>
<circle cx="959.8" cy="2064.5" r="1.1" fill="#1f5f55" opacity="0.6"/>
<circle cx="960" cy="2079" r="1.1" fill="#1f5f55" opacity="0.6"/>
<circle cx="960.2" cy="2093.5" r="1.1" fill="#1f5f55" opacity="0.6"/>
<circle cx="960.5" cy="2108" r="1.1" fill="#1f5f55" opacity="0.6"/>
<ellipse cx="977.6" cy="2057.2" rx="7.7" ry="3" fill="#4de3c9" transform="rotate(89 977.6 2057.2)"/>
<ellipse cx="977.9" cy="2071.8" rx="7.7" ry="3" fill="#4de3c9" transform="rotate(89 977.9 2071.8)"/>
<ellipse cx="978.1" cy="2086.2" rx="7.7" ry="3" fill="#4de3c9" transform="rotate(89 978.1 2086.2)"/>
<ellipse cx="978.4" cy="2100.8" rx="7.7" ry="3" fill="#4de3c9" transform="rotate(89 978.4 2100.8)"/>
<circle cx="977.5" cy="2050" r="1.1" fill="#1f5f55" opacity="0.6"/>
<circle cx="977.8" cy="2064.5" r="1.1" fill="#1f5f55" opacity="0.6"/>
<circle cx="978" cy="2079" r="1.1" fill="#1f5f55" opacity="0.6"/>
<circle cx="978.2" cy="2093.5" r="1.1" fill="#1f5f55" opacity="0.6"/>
<circle cx="978.5" cy="2108" r="1.1" fill="#1f5f55" opacity="0.6"/>
<ellipse cx="918.8" cy="2045.9" rx="8.2" ry="4" fill="#4de3c9" transform="rotate(-1.1 918.8 2045.9)"/>
<ellipse cx="934.3" cy="2045.6" rx="8.2" ry="4" fill="#4de3c9" transform="rotate(-1.1 934.3 2045.6)"/>
<ellipse cx="949.8" cy="2045.3" rx="8.2" ry="4" fill="#4de3c9" transform="rotate(-1.1 949.8 2045.3)"/>
<ellipse cx="965.4" cy="2045" rx="8.2" ry="4" fill="#4de3c9" transform="rotate(-1.1 965.4 2045)"/>
<ellipse cx="980.9" cy="2044.7" rx="8.2" ry="4" fill="#4de3c9" transform="rotate(-1.1 980.9 2044.7)"/>
<ellipse cx="996.4" cy="2044.4" rx="8.2" ry="4" fill="#4de3c9" transform="rotate(-1.1 996.4 2044.4)"/>
<ellipse cx="1011.9" cy="2044.1" rx="8.2" ry="4" fill="#4de3c9" transform="rotate(-1.1 1011.9 2044.1)"/>
<circle cx="911" cy="2046" r="1.1" fill="#1f5f55" opacity="0.6"/>
<circle cx="926.5" cy="2045.7" r="1.1" fill="#1f5f55" opacity="0.6"/>
<circle cx="942.1" cy="2045.4" r="1.1" fill="#1f5f55" opacity="0.6"/>
<circle cx="957.6" cy="2045.1" r="1.1" fill="#1f5f55" opacity="0.6"/>
<circle cx="973.1" cy="2044.9" r="1.1" fill="#1f5f55" opacity="0.6"/>
<circle cx="988.6" cy="2044.6" r="1.1" fill="#1f5f55" opacity="0.6"/>
<circle cx="1004.2" cy="2044.3" r="1.1" fill="#1f5f55" opacity="0.6"/>
<circle cx="1019.7" cy="2044" r="1.1" fill="#1f5f55" opacity="0.6"/>
<g fill="none" stroke-linecap="round" stroke-linejoin="round">
<ellipse cx="980.5" cy="2040" rx="8.8" ry="6.6" fill="#e98a6e" opacity="0.85"/>
<polyline points="975.1,2041.1 970.1,2040.1 965.8,2038 970,2035.9 971.9,2032.4" fill="none" stroke="#e98a6e" stroke-width="2.3"/>
<polyline points="987,2048.8 983.8,2045.8 986.2,2042.4 988.4,2038.9 993,2040.6" fill="none" stroke="#e98a6e" stroke-width="2.3"/>
<polyline points="984.2,2035.4 987.3,2032.3 984.6,2032 981.2,2029.1 979.3,2030" fill="none" stroke="#e98a6e" stroke-width="2.3"/>
<polyline points="976.1,2037.9 973.9,2041.3 969.2,2039.8 966.7,2043.1 969.4,2044.6" fill="none" stroke="#e98a6e" stroke-width="2.3"/>
<polyline points="990.2,2041.6 986.7,2038.7 988.1,2035.1 988.8,2031.2 984,2031.8" fill="none" stroke="#e98a6e" stroke-width="2.3"/>
<polyline points="992.1,2040.7 992.5,2036.9 989.7,2033.6 986.6,2032.9 981.6,2032.2" fill="none" stroke="#e98a6e" stroke-width="2.3"/>
<polyline points="976.6,2048.1 981.7,2047.7 981.5,2043.8 980.5,2040.1 983.7,2037.1" fill="none" stroke="#e98a6e" stroke-width="2.3"/>
<polyline points="970.5,2045.1 971.3,2045.7 970.9,2045.3 966.9,2043 968.3,2043.8" fill="none" stroke="#e98a6e" stroke-width="2.3"/>
<polyline points="979.3,2041.6 977.4,2045.2 972.4,2044.3 967.7,2043 966.3,2039.3" fill="none" stroke="#e98a6e" stroke-width="2.3"/>
<polyline points="991.6,2044.7 986.5,2044.4 986.1,2040.6 988.4,2037.2 993.5,2037.7" fill="none" stroke="#c8644a" stroke-width="2.3"/>
<polyline points="973.4,2046 975,2049.7 977.1,2049.4 982.2,2049.7 984.4,2048.6" fill="none" stroke="#c8644a" stroke-width="2.3"/>
<polyline points="987.1,2039.4 991.2,2041.7 988.8,2045.1 985.4,2048 981.3,2045.7" fill="none" stroke="#c8644a" stroke-width="2.3"/>
<polyline points="980.3,2035.2 980.8,2039 978.5,2042.4 979.6,2046.1 984.8,2045.9" fill="none" stroke="#c8644a" stroke-width="2.3"/>
<polyline points="970.7,2040.6 971.3,2044.4 969.1,2047.9 970.7,2047.8 974,2048.2" fill="none" stroke="#e98a6e" stroke-width="2.3"/>
<polyline points="984.6,2030.6 989.6,2031.4 988.2,2031.5 989.5,2034.2 990.4,2035.8" fill="none" stroke="#c8644a" stroke-width="2.3"/>
<polyline points="986.4,2036.7 986.6,2032.9 983.4,2029.9 982.4,2030.2 981.7,2030.5" fill="none" stroke="#e98a6e" stroke-width="2.3"/>
<polyline points="969.8,2039 964.8,2038.2 966.1,2037.8 968.1,2040.5 966.8,2044.2" fill="none" stroke="#e98a6e" stroke-width="2.3"/>
<polyline points="976,2035.7 975.9,2039.5 979.7,2042.1 976.9,2045.2 972.4,2047.1" fill="none" stroke="#e98a6e" stroke-width="2.3"/>
</g>
<g fill="none" stroke-linecap="round" stroke-linejoin="round">
<ellipse cx="952.5" cy="2029" rx="6.3" ry="6.6" fill="#3f78c8" opacity="0.85"/>
<polyline points="948.2,2035.8 945.6,2038.6 945.1,2036.1 942.9,2033.1 943.9,2030" fill="none" stroke="#2b5aa6" stroke-width="2.3"/>
<polyline points="958.4,2035.7 959.1,2034.5 959.6,2033.5 958.9,2037.3 955.7,2039.2" fill="none" stroke="#2b5aa6" stroke-width="2.3"/>
<polyline points="948.5,2034.5 945.8,2037.1 945.2,2034.8 945.5,2034.9 942.9,2032.2" fill="none" stroke="#3f78c8" stroke-width="2.3"/>
<polyline points="949.7,2021.2 953.3,2021.7 954.2,2017.9 952.8,2018.7 949.1,2018.7" fill="none" stroke="#2b5aa6" stroke-width="2.3"/>
<polyline points="955.4,2036 958.9,2034.6 961.2,2031.7 962.3,2028 960.4,2025.9" fill="none" stroke="#2b5aa6" stroke-width="2.3"/>
<polyline points="949.5,2038.3 948.3,2037 950,2037.3 951.5,2037.4 954.3,2039.8" fill="none" stroke="#2b5aa6" stroke-width="2.3"/>
<polyline points="951.8,2019 948.4,2020.5 945.2,2022.3 943.7,2025.8 943.8,2026" fill="none" stroke="#3f78c8" stroke-width="2.3"/>
<polyline points="949.1,2027.3 949.7,2023.5 949.5,2019.6 951.8,2020.2 955.3,2019.1" fill="none" stroke="#3f78c8" stroke-width="2.3"/>
<polyline points="957.1,2034.8 957,2038.7 953.6,2040.3 951.2,2038.4 952.4,2038.1" fill="none" stroke="#2b5aa6" stroke-width="2.3"/>
<polyline points="947.8,2023 944.3,2024.3 942.5,2027.6 945.7,2029.6 948.6,2032" fill="none" stroke="#3f78c8" stroke-width="2.3"/>
<polyline points="951.1,2026.3 948.9,2029.4 948.5,2033.2 947,2036.7 943.5,2035.7" fill="none" stroke="#3f78c8" stroke-width="2.3"/>
<polyline points="950.1,2032 950.9,2028.3 950.3,2024.5 947.5,2022 943.9,2021.1" fill="none" stroke="#3f78c8" stroke-width="2.3"/>
<polyline points="954.5,2026.9 953.4,2023.2 956.9,2022 959.8,2024.4 960.2,2025.7" fill="none" stroke="#3f78c8" stroke-width="2.3"/>
<polyline points="958.8,2027.8 957.9,2024 958.1,2020.2 954.5,2019.1 951.6,2021.4" fill="none" stroke="#3f78c8" stroke-width="2.3"/>
<polyline points="959,2021.5 957.9,2025.2 954.6,2026.8 955.2,2030.5 956.9,2034" fill="none" stroke="#3f78c8" stroke-width="2.3"/>
<polyline points="946.2,2032.9 948.2,2029.7 946.2,2026.5 942.5,2026.6 943.1,2028.4" fill="none" stroke="#3f78c8" stroke-width="2.3"/>
<polyline points="961.1,2031.4 960.7,2027.6 961.1,2023.8 958.4,2022.7 954.8,2022.5" fill="none" stroke="#2b5aa6" stroke-width="2.3"/>
<polyline points="951.7,2038.9 953.3,2035.5 956.3,2033.2 959.3,2035.4 959.7,2034.4" fill="none" stroke="#3f78c8" stroke-width="2.3"/>
</g>
<g fill="none" stroke-linecap="round" stroke-linejoin="round">
<ellipse cx="949.5" cy="2048" rx="5.5" ry="5.5" fill="#3f78c8" opacity="0.85"/>
<polyline points="947.9,2044.1 951.1,2044.2 950.9,2047.4 954.1,2048.2 955.7,2050.9" fill="none" stroke="#3f78c8" stroke-width="2.3"/>
<polyline points="942.2,2044.8 942.7,2044.3 944.3,2043.2 941.1,2042.8 941.4,2044" fill="none" stroke="#3f78c8" stroke-width="2.3"/>
<polyline points="951.4,2045.2 954.6,2044.5 956.3,2047.2 956.5,2047.1 957.5,2044" fill="none" stroke="#2b5aa6" stroke-width="2.3"/>
<polyline points="942.4,2051.9 944.5,2053 944.3,2056.2 943.6,2053.9 943.1,2052.2" fill="none" stroke="#3f78c8" stroke-width="2.3"/>
<polyline points="950.6,2050.4 951.1,2047.2 954.2,2046.5 956.4,2048.9 956.9,2052" fill="none" stroke="#2b5aa6" stroke-width="2.3"/>
<polyline points="946.7,2041.5 948.8,2043.9 947.8,2047 950.8,2048 953.8,2049.3" fill="none" stroke="#3f78c8" stroke-width="2.3"/>
<polyline points="944.6,2048.5 943.7,2045.4 940.6,2044.7 941.5,2047.1 941.9,2050.3" fill="none" stroke="#3f78c8" stroke-width="2.3"/>
<polyline points="943.6,2042.9 943.2,2043.9 943.1,2044.2 944.3,2043.2 941.1,2043.2" fill="none" stroke="#3f78c8" stroke-width="2.3"/>
<polyline points="956.3,2051.6 959.1,2049.9 957.1,2047.3 957,2044.1 956.7,2044" fill="none" stroke="#3f78c8" stroke-width="2.3"/>
<polyline points="943.4,2043.7 940.4,2044.7 941.2,2047.8 942.2,2049.5 942.6,2052.7" fill="none" stroke="#3f78c8" stroke-width="2.3"/>
<polyline points="952,2051.2 955,2049.9 954.4,2046.8 955.8,2043.9 956.1,2044.6" fill="none" stroke="#2b5aa6" stroke-width="2.3"/>
<polyline points="950.6,2040.7 951.5,2041 954.7,2040.9 955.4,2043 954,2042.3" fill="none" stroke="#2b5aa6" stroke-width="2.3"/>
<polyline points="949.5,2050.2 950.4,2047.1 953.4,2046 955.2,2048.6 958.4,2048.7" fill="none" stroke="#3f78c8" stroke-width="2.3"/>
<polyline points="951.5,2052.6 951.2,2055.8 948,2056 947.4,2052.8 945.4,2050.3" fill="none" stroke="#2b5aa6" stroke-width="2.3"/>
</g>
<g fill="#e3327c">
<ellipse cx="938.7" cy="2088.4" rx="9.2" ry="8.3" fill="#e3327c"/>
<circle cx="945.7" cy="2088.4" r="3.4" fill="#e3327c"/>
<circle cx="945.1" cy="2090.3" r="2.9" fill="#e3327c"/>
<circle cx="942.6" cy="2093.3" r="3.3" fill="#e3327c"/>
<circle cx="937.5" cy="2093.8" r="3.3" fill="#e3327c"/>
<circle cx="934.9" cy="2093.2" r="3.2" fill="#e3327c"/>
<circle cx="932.6" cy="2090.3" r="3.1" fill="#e3327c"/>
<circle cx="932.3" cy="2089" r="3.8" fill="#e3327c"/>
<circle cx="932.8" cy="2086.4" r="3.6" fill="#e3327c"/>
<circle cx="935.8" cy="2083.6" r="3.1" fill="#e3327c"/>
<circle cx="937.7" cy="2082.6" r="3.1" fill="#e3327c"/>
<circle cx="943.1" cy="2084" r="3" fill="#e3327c"/>
<circle cx="944.7" cy="2086.4" r="3.7" fill="#e3327c"/>
</g>
<g fill="#e3327c">
<ellipse cx="999.5" cy="2086.4" rx="8.2" ry="8.3" fill="#e3327c"/>
<circle cx="1005.4" cy="2086.3" r="3.8" fill="#e3327c"/>
<circle cx="1004.1" cy="2089.3" r="3.4" fill="#e3327c"/>
<circle cx="1002.9" cy="2090.9" r="3.3" fill="#e3327c"/>
<circle cx="1000.5" cy="2092.7" r="2.7" fill="#e3327c"/>
<circle cx="995.9" cy="2090.9" r="3.8" fill="#e3327c"/>
<circle cx="994.8" cy="2090.2" r="3" fill="#e3327c"/>
<circle cx="993.7" cy="2085.9" r="3.6" fill="#e3327c"/>
<circle cx="994.8" cy="2083.2" r="3.4" fill="#e3327c"/>
<circle cx="996.5" cy="2081.6" r="3.6" fill="#e3327c"/>
<circle cx="998.6" cy="2080.6" r="3.4" fill="#e3327c"/>
<circle cx="1001.5" cy="2081.3" r="2.7" fill="#e3327c"/>
<circle cx="1005" cy="2083.9" r="3.5" fill="#e3327c"/>
</g>
<line x1="1066" y1="2064" x2="1092.6" y2="2064" stroke="#000" stroke-width="3.2"/>
<polygon points="1058,2064 1070,2057 1070,2071" fill="#000"/>
<polygon points="1100.6,2064 1088.6,2057 1088.6,2071" fill="#000"/>
<ellipse cx="1161.5" cy="2100.7" rx="8" ry="4" fill="#4de3c9" transform="rotate(-1.3 1161.5 2100.7)"/>
<ellipse cx="1176.7" cy="2100.4" rx="8" ry="4" fill="#4de3c9" transform="rotate(-1.3 1176.7 2100.4)"/>
<ellipse cx="1191.9" cy="2100" rx="8" ry="4" fill="#4de3c9" transform="rotate(-1.3 1191.9 2100)"/>
<ellipse cx="1207.1" cy="2099.7" rx="8" ry="4" fill="#4de3c9" transform="rotate(-1.3 1207.1 2099.7)"/>
<ellipse cx="1222.2" cy="2099.3" rx="8" ry="4" fill="#4de3c9" transform="rotate(-1.3 1222.2 2099.3)"/>
<ellipse cx="1237.4" cy="2098.9" rx="8" ry="4" fill="#4de3c9" transform="rotate(-1.3 1237.4 2098.9)"/>
<ellipse cx="1252.6" cy="2098.6" rx="8" ry="4" fill="#4de3c9" transform="rotate(-1.3 1252.6 2098.6)"/>
<circle cx="1153.9" cy="2100.9" r="1.1" fill="#1f5f55" opacity="0.6"/>
<circle cx="1169.1" cy="2100.5" r="1.1" fill="#1f5f55" opacity="0.6"/>
<circle cx="1184.3" cy="2100.2" r="1.1" fill="#1f5f55" opacity="0.6"/>
<circle cx="1199.5" cy="2099.8" r="1.1" fill="#1f5f55" opacity="0.6"/>
<circle cx="1214.6" cy="2099.5" r="1.1" fill="#1f5f55" opacity="0.6"/>
<circle cx="1229.8" cy="2099.1" r="1.1" fill="#1f5f55" opacity="0.6"/>
<circle cx="1245" cy="2098.8" r="1.1" fill="#1f5f55" opacity="0.6"/>
<circle cx="1260.2" cy="2098.4" r="1.1" fill="#1f5f55" opacity="0.6"/>
<g fill="#e8a8b4">
<ellipse cx="1210.2" cy="2072.4" rx="20.6" ry="17.5" fill="#e8a8b4"/>
<circle cx="1226.5" cy="2070.7" r="5.4" fill="#e8a8b4"/>
<circle cx="1224.6" cy="2079.4" r="5.7" fill="#e8a8b4"/>
<circle cx="1219.4" cy="2082.5" r="6" fill="#e8a8b4"/>
<circle cx="1211.5" cy="2086.1" r="5.3" fill="#e8a8b4"/>
<circle cx="1206.8" cy="2084.7" r="5.9" fill="#e8a8b4"/>
<circle cx="1200.8" cy="2082" r="6.5" fill="#e8a8b4"/>
<circle cx="1195.3" cy="2076.4" r="6.3" fill="#e8a8b4"/>
<circle cx="1193.7" cy="2074.3" r="5.5" fill="#e8a8b4"/>
<circle cx="1195.8" cy="2065.8" r="6.5" fill="#e8a8b4"/>
<circle cx="1199.4" cy="2062.4" r="6.1" fill="#e8a8b4"/>
<circle cx="1206.3" cy="2059.7" r="6" fill="#e8a8b4"/>
<circle cx="1216.5" cy="2061.6" r="5.3" fill="#e8a8b4"/>
<circle cx="1221.6" cy="2063.2" r="5.3" fill="#e8a8b4"/>
<circle cx="1225.3" cy="2068.9" r="6" fill="#e8a8b4"/>
</g>
<g fill="#e2f0b6">
<ellipse cx="1207.2" cy="2079.4" rx="11.6" ry="21.5" fill="#e2f0b6"/>
<circle cx="1215.5" cy="2078.3" r="3.8" fill="#e2f0b6"/>
<circle cx="1214.7" cy="2089.3" r="3.6" fill="#e2f0b6"/>
<circle cx="1212.8" cy="2092.3" r="3.9" fill="#e2f0b6"/>
<circle cx="1209.3" cy="2098.2" r="4.8" fill="#e2f0b6"/>
<circle cx="1206.1" cy="2098.6" r="4.9" fill="#e2f0b6"/>
<circle cx="1202.3" cy="2095.1" r="4.7" fill="#e2f0b6"/>
<circle cx="1200" cy="2090" r="4.2" fill="#e2f0b6"/>
<circle cx="1199" cy="2077.3" r="4" fill="#e2f0b6"/>
<circle cx="1199.5" cy="2071.1" r="4.6" fill="#e2f0b6"/>
<circle cx="1202.8" cy="2063.5" r="3.5" fill="#e2f0b6"/>
<circle cx="1207" cy="2061.1" r="4.6" fill="#e2f0b6"/>
<circle cx="1207.7" cy="2061.6" r="4" fill="#e2f0b6"/>
<circle cx="1211.5" cy="2062.7" r="3.8" fill="#e2f0b6"/>
<circle cx="1215.4" cy="2073.4" r="4.7" fill="#e2f0b6"/>
</g>
<ellipse cx="1218.2" cy="2047.8" rx="8.3" ry="3.3" fill="#4de3c9" transform="rotate(13.4 1218.2 2047.8)"/>
<ellipse cx="1232.1" cy="2055" rx="8.3" ry="3.3" fill="#4de3c9" transform="rotate(41.6 1232.1 2055)"/>
<ellipse cx="1240.1" cy="2067.3" rx="8.3" ry="3.3" fill="#4de3c9" transform="rotate(73.2 1240.1 2067.3)"/>
<ellipse cx="1240.1" cy="2081.5" rx="8.3" ry="3.3" fill="#4de3c9" transform="rotate(106.8 1240.1 2081.5)"/>
<ellipse cx="1232.1" cy="2093.8" rx="8.3" ry="3.3" fill="#4de3c9" transform="rotate(138.4 1232.1 2093.8)"/>
<ellipse cx="1218.2" cy="2101" rx="8.3" ry="3.3" fill="#4de3c9" transform="rotate(166.6 1218.2 2101)"/>
<ellipse cx="1202.2" cy="2101" rx="8.3" ry="3.3" fill="#4de3c9" transform="rotate(-166.6 1202.2 2101)"/>
<ellipse cx="1188.3" cy="2093.8" rx="8.3" ry="3.3" fill="#4de3c9" transform="rotate(-138.4 1188.3 2093.8)"/>
<ellipse cx="1180.3" cy="2081.5" rx="8.3" ry="3.3" fill="#4de3c9" transform="rotate(-106.8 1180.3 2081.5)"/>
<ellipse cx="1180.3" cy="2067.3" rx="8.3" ry="3.3" fill="#4de3c9" transform="rotate(-73.2 1180.3 2067.3)"/>
<ellipse cx="1188.3" cy="2055" rx="8.3" ry="3.3" fill="#4de3c9" transform="rotate(-41.6 1188.3 2055)"/>
<ellipse cx="1202.2" cy="2047.8" rx="8.3" ry="3.3" fill="#4de3c9" transform="rotate(-13.4 1202.2 2047.8)"/>
<g fill="none" stroke-linecap="round" stroke-linejoin="round">
<ellipse cx="1216.2" cy="2034.4" rx="7.7" ry="8.2" fill="#e98a6e" opacity="0.85"/>
<polyline points="1208.2,2038.2 1210.8,2042.1 1211.9,2046.8 1214.3,2046.2 1213.5,2045.7" fill="none" stroke="#c8644a" stroke-width="2.3"/>
<polyline points="1226.1,2035.6 1229.8,2032.9 1225.8,2030 1226.1,2031.1 1229.4,2034.3" fill="none" stroke="#e98a6e" stroke-width="2.3"/>
<polyline points="1224.2,2030.8 1224.3,2026 1221.2,2025.2 1221.2,2020.4 1221,2021.6" fill="none" stroke="#e98a6e" stroke-width="2.3"/>
<polyline points="1213.2,2038.1 1213.3,2042.9 1216.1,2046.6 1218.6,2045.1 1223,2045.7" fill="none" stroke="#e98a6e" stroke-width="2.3"/>
<polyline points="1221.1,2036.7 1217.2,2034.4 1214.6,2030.5 1210.2,2029.7 1206.2,2027.4" fill="none" stroke="#e98a6e" stroke-width="2.3"/>
<polyline points="1220.1,2038.1 1216.3,2040.6 1212.8,2043.5 1208.8,2045.7 1208.6,2044.4" fill="none" stroke="#e98a6e" stroke-width="2.3"/>
<polyline points="1220.8,2035.6 1225.3,2036 1227.5,2040.2 1224.1,2041.8 1224.5,2041.3" fill="none" stroke="#e98a6e" stroke-width="2.3"/>
<polyline points="1224.3,2032.4 1225.6,2037 1225.9,2036 1226,2036.4 1226.6,2041.2" fill="none" stroke="#e98a6e" stroke-width="2.3"/>
<polyline points="1210.2,2038.6 1206,2040.2 1203.9,2035.9 1205,2031.2 1205.9,2030.1" fill="none" stroke="#c8644a" stroke-width="2.3"/>
<polyline points="1215.1,2022.1 1214.3,2022.7 1218.2,2020.3 1221.1,2024 1225.5,2024.4" fill="none" stroke="#e98a6e" stroke-width="2.3"/>
<polyline points="1216.5,2038.8 1215.7,2034.1 1216,2029.3 1214.8,2024.7 1217.1,2020.6" fill="none" stroke="#c8644a" stroke-width="2.3"/>
<polyline points="1212.2,2036.7 1208.4,2039.1 1205,2042.3 1208.2,2043.3 1209.6,2043.8" fill="none" stroke="#e98a6e" stroke-width="2.3"/>
<polyline points="1208,2043.2 1209.9,2043.9 1209.7,2043.5 1206.1,2040.5 1207.5,2035.9" fill="none" stroke="#e98a6e" stroke-width="2.3"/>
<polyline points="1209.6,2042.6 1205.7,2040.3 1207.5,2035.9 1210.5,2032.4 1214.8,2033.7" fill="none" stroke="#e98a6e" stroke-width="2.3"/>
<polyline points="1225.4,2030.6 1222.9,2026.6 1221.1,2022.2 1217.3,2019.7 1218.3,2021.1" fill="none" stroke="#e98a6e" stroke-width="2.3"/>
<polyline points="1217.8,2030.3 1222.1,2031.7 1226.5,2031.5 1227.9,2036.1 1226.3,2038.3" fill="none" stroke="#e98a6e" stroke-width="2.3"/>
<polyline points="1216.1,2038.2 1214.4,2033.8 1210,2032.6 1209.7,2027.8 1214,2026.3" fill="none" stroke="#e98a6e" stroke-width="2.3"/>
<polyline points="1223.8,2026.7 1226,2030.9 1223.2,2034.7 1218.8,2034.1 1218.6,2029.3" fill="none" stroke="#e98a6e" stroke-width="2.3"/>
</g>
<g fill="none" stroke-linecap="round" stroke-linejoin="round">
<ellipse cx="1201.2" cy="2027.4" rx="7.2" ry="7.2" fill="#3f78c8" opacity="0.85"/>
<polyline points="1192.5,2032.7 1196,2030.4 1199.8,2032.3 1200.1,2036.4 1197.9,2039.9" fill="none" stroke="#3f78c8" stroke-width="2.3"/>
<polyline points="1196.1,2034.3 1199.9,2032.6 1203.4,2030.4 1201.4,2026.8 1197.5,2028.2" fill="none" stroke="#3f78c8" stroke-width="2.3"/>
<polyline points="1194.5,2020.2 1198.1,2022.4 1200.5,2025.7 1204.4,2027.2 1206.7,2023.7" fill="none" stroke="#2b5aa6" stroke-width="2.3"/>
<polyline points="1190.4,2026.3 1194.4,2025.4 1197.1,2028.6 1197.4,2032.7 1194.3,2035.5" fill="none" stroke="#2b5aa6" stroke-width="2.3"/>
<polyline points="1191.8,2028.7 1189.2,2032 1189.9,2030.2 1192,2026.7 1191.9,2026.5" fill="none" stroke="#3f78c8" stroke-width="2.3"/>
<polyline points="1205.5,2036.8 1206.1,2036.2 1210.2,2036.2 1207.9,2036.5 1204,2037.9" fill="none" stroke="#3f78c8" stroke-width="2.3"/>
<polyline points="1193.8,2019.9 1195.6,2016.1 1199.9,2018.2 1200.3,2018 1199.8,2018" fill="none" stroke="#3f78c8" stroke-width="2.3"/>
<polyline points="1201,2030.7 1197.6,2028.3 1194.2,2030.8 1190,2030.4 1190.5,2029.9" fill="none" stroke="#3f78c8" stroke-width="2.3"/>
<polyline points="1192.5,2030 1193.1,2034.1 1196.9,2035.9 1198.1,2036.2 1196.7,2035.3" fill="none" stroke="#2b5aa6" stroke-width="2.3"/>
<polyline points="1197.2,2027.5 1200.7,2025.3 1202.9,2028.8 1206.9,2030 1209.6,2033.2" fill="none" stroke="#3f78c8" stroke-width="2.3"/>
<polyline points="1197.7,2029.7 1199.7,2033.3 1200.2,2037.4 1196.4,2039.1 1195.9,2037.7" fill="none" stroke="#3f78c8" stroke-width="2.3"/>
<polyline points="1200.1,2027.7 1204.1,2028.8 1206.7,2032 1207.1,2036.2 1204.7,2039.6" fill="none" stroke="#3f78c8" stroke-width="2.3"/>
<polyline points="1200.7,2021.8 1203.6,2018.8 1203.5,2018.5 1201.1,2015.2 1202.9,2016.6" fill="none" stroke="#3f78c8" stroke-width="2.3"/>
<polyline points="1211.3,2023.4 1210.6,2019.2 1206.5,2019.4 1203.7,2022.5 1199.9,2024.3" fill="none" stroke="#2b5aa6" stroke-width="2.3"/>
<polyline points="1195.9,2031.5 1200.1,2031.5 1204.1,2032.5 1207.7,2030.4 1211.3,2028.4" fill="none" stroke="#3f78c8" stroke-width="2.3"/>
<polyline points="1204.1,2024.6 1202,2028.2 1204.5,2031.6 1208.5,2030.4 1207.8,2026.3" fill="none" stroke="#2b5aa6" stroke-width="2.3"/>
<polyline points="1208.2,2020.1 1208.9,2021.7 1208.4,2021.1 1212.4,2022.3 1211.3,2025.6" fill="none" stroke="#3f78c8" stroke-width="2.3"/>
<polyline points="1200.7,2033.6 1201.9,2029.6 1205.9,2030.9 1207.5,2034.7 1211.7,2034.9" fill="none" stroke="#3f78c8" stroke-width="2.3"/>
</g>
<g fill="none" stroke-linecap="round" stroke-linejoin="round">
<ellipse cx="1194.2" cy="2051.4" rx="6.6" ry="6.3" fill="#3f78c8" opacity="0.85"/>
<polyline points="1189.2,2044.1 1191.9,2041.5 1192.4,2041.9 1188.5,2041.9 1185.8,2044.4" fill="none" stroke="#3f78c8" stroke-width="2.3"/>
<polyline points="1184.8,2055.2 1183.5,2051.7 1184.7,2049.9 1184.2,2046.2 1186.7,2045.3" fill="none" stroke="#3f78c8" stroke-width="2.3"/>
<polyline points="1199.6,2043.9 1200.3,2044.9 1203.3,2047.1 1203.1,2047.5 1200.8,2046.1" fill="none" stroke="#3f78c8" stroke-width="2.3"/>
<polyline points="1192.8,2060.5 1190.2,2057.9 1192.8,2055.2 1195.6,2052.7 1198.9,2050.9" fill="none" stroke="#3f78c8" stroke-width="2.3"/>
<polyline points="1202.1,2055.4 1204.8,2052.8 1202.2,2050 1201.6,2046.4 1200.5,2045.6" fill="none" stroke="#3f78c8" stroke-width="2.3"/>
<polyline points="1185.8,2046.3 1186.9,2045.6 1183.3,2046.8 1184.5,2046.5 1186.6,2045.5" fill="none" stroke="#3f78c8" stroke-width="2.3"/>
<polyline points="1201.8,2049.3 1201.9,2053 1200.1,2056.3 1196.5,2055 1192.8,2055.8" fill="none" stroke="#3f78c8" stroke-width="2.3"/>
<polyline points="1193.2,2041.9 1189.8,2043.6 1191.2,2047.1 1190.8,2050.7 1192.6,2054" fill="none" stroke="#2b5aa6" stroke-width="2.3"/>
<polyline points="1203.2,2055.5 1201.3,2058.7 1200.6,2058.8 1197.4,2060.9 1194.2,2058.9" fill="none" stroke="#2b5aa6" stroke-width="2.3"/>
<polyline points="1196.7,2048.2 1194.8,2045 1196,2041.5 1197.4,2042.7 1195.3,2042.9" fill="none" stroke="#3f78c8" stroke-width="2.3"/>
<polyline points="1185.9,2055 1186.1,2055.4 1186.9,2059 1188.3,2059.2 1187.4,2057.3" fill="none" stroke="#3f78c8" stroke-width="2.3"/>
<polyline points="1184.6,2052 1184.8,2051.7 1185,2052.1 1185.6,2050.4 1185.8,2046.7" fill="none" stroke="#3f78c8" stroke-width="2.3"/>
<polyline points="1188.1,2054 1191.8,2053 1195.4,2051.7 1196.6,2048.2 1199.7,2046" fill="none" stroke="#2b5aa6" stroke-width="2.3"/>
<polyline points="1186.1,2051.6 1182.8,2053.4 1184.2,2054.5 1184.9,2052.2 1185.4,2050.7" fill="none" stroke="#2b5aa6" stroke-width="2.3"/>
</g>
<g fill="#e3327c">
<ellipse cx="1182.5" cy="2088.4" rx="8.2" ry="8.3" fill="#e3327c"/>
<circle cx="1188.5" cy="2087.5" r="3.3" fill="#e3327c"/>
<circle cx="1187.3" cy="2090.7" r="2.7" fill="#e3327c"/>
<circle cx="1186.1" cy="2092.6" r="3.4" fill="#e3327c"/>
<circle cx="1182.3" cy="2094" r="2.8" fill="#e3327c"/>
<circle cx="1179.8" cy="2093.6" r="2.9" fill="#e3327c"/>
<circle cx="1178" cy="2091.7" r="3.7" fill="#e3327c"/>
<circle cx="1176.7" cy="2088.9" r="3.4" fill="#e3327c"/>
<circle cx="1177.9" cy="2085" r="3.7" fill="#e3327c"/>
<circle cx="1179.2" cy="2083.6" r="3.4" fill="#e3327c"/>
<circle cx="1183.3" cy="2082.6" r="2.7" fill="#e3327c"/>
<circle cx="1184.5" cy="2083" r="3.5" fill="#e3327c"/>
<circle cx="1188.2" cy="2086.2" r="3.2" fill="#e3327c"/>
</g>
<g fill="#e3327c">
<ellipse cx="1235.8" cy="2084" rx="4.6" ry="8.3" fill="#e3327c"/>
<circle cx="1239.2" cy="2084.3" r="1.9" fill="#e3327c"/>
<circle cx="1238.4" cy="2087.9" r="1.6" fill="#e3327c"/>
<circle cx="1237.8" cy="2089" r="2.1" fill="#e3327c"/>
<circle cx="1235.4" cy="2091.3" r="1.9" fill="#e3327c"/>
<circle cx="1234.2" cy="2090.6" r="1.6" fill="#e3327c"/>
<circle cx="1233.2" cy="2088" r="1.5" fill="#e3327c"/>
<circle cx="1232.8" cy="2085" r="2.1" fill="#e3327c"/>
<circle cx="1232.9" cy="2080.4" r="1.6" fill="#e3327c"/>
<circle cx="1234.2" cy="2078.2" r="1.5" fill="#e3327c"/>
<circle cx="1236" cy="2076.3" r="2" fill="#e3327c"/>
<circle cx="1237.7" cy="2078.1" r="1.7" fill="#e3327c"/>
<circle cx="1238.5" cy="2080.3" r="1.9" fill="#e3327c"/>
</g>
<line x1="1298" y1="2064" x2="1324.7" y2="2064" stroke="#000" stroke-width="3.2"/>
<polygon points="1290,2064 1302,2057 1302,2071" fill="#000"/>
<polygon points="1332.7,2064 1320.7,2057 1320.7,2071" fill="#000"/>
<g fill="#e2f0b6">
<ellipse cx="1419.7" cy="2089" rx="11.2" ry="18.9" fill="#e2f0b6"/>
<circle cx="1428.3" cy="2090.2" r="4.4" fill="#e2f0b6"/>
<circle cx="1426.9" cy="2096.1" r="3.4" fill="#e2f0b6"/>
<circle cx="1423.7" cy="2103.3" r="4" fill="#e2f0b6"/>
<circle cx="1420.1" cy="2106" r="3.4" fill="#e2f0b6"/>
<circle cx="1418.6" cy="2104.9" r="3.7" fill="#e2f0b6"/>
<circle cx="1415.1" cy="2102.6" r="4.2" fill="#e2f0b6"/>
<circle cx="1411.7" cy="2093.8" r="3.8" fill="#e2f0b6"/>
<circle cx="1410.9" cy="2087.5" r="4.3" fill="#e2f0b6"/>
<circle cx="1412.4" cy="2080.1" r="4.6" fill="#e2f0b6"/>
<circle cx="1415.1" cy="2075.1" r="4.3" fill="#e2f0b6"/>
<circle cx="1416.9" cy="2073.4" r="3.5" fill="#e2f0b6"/>
<circle cx="1421.4" cy="2073.3" r="3.6" fill="#e2f0b6"/>
<circle cx="1423.3" cy="2073.6" r="3.8" fill="#e2f0b6"/>
<circle cx="1426.9" cy="2079.3" r="3.4" fill="#e2f0b6"/>
</g>
<g fill="#e2f0b6">
<ellipse cx="1449.7" cy="2087" rx="6.9" ry="14.6" fill="#e2f0b6"/>
<circle cx="1454.6" cy="2084.6" r="2.2" fill="#e2f0b6"/>
<circle cx="1454.3" cy="2091.3" r="2.4" fill="#e2f0b6"/>
<circle cx="1453.7" cy="2095.4" r="2.2" fill="#e2f0b6"/>
<circle cx="1450.4" cy="2100.6" r="2.7" fill="#e2f0b6"/>
<circle cx="1447.8" cy="2099.2" r="2.8" fill="#e2f0b6"/>
<circle cx="1447.4" cy="2098.8" r="2.7" fill="#e2f0b6"/>
<circle cx="1444.6" cy="2090.3" r="2.1" fill="#e2f0b6"/>
<circle cx="1444.4" cy="2086.3" r="2.2" fill="#e2f0b6"/>
<circle cx="1445" cy="2082.2" r="2.7" fill="#e2f0b6"/>
<circle cx="1445.9" cy="2078.3" r="2.2" fill="#e2f0b6"/>
<circle cx="1449.3" cy="2073.9" r="2.7" fill="#e2f0b6"/>
<circle cx="1450.3" cy="2074.1" r="2.5" fill="#e2f0b6"/>
<circle cx="1452.1" cy="2074.8" r="2.4" fill="#e2f0b6"/>
<circle cx="1454.1" cy="2081.8" r="2.4" fill="#e2f0b6"/>
</g>
<g fill="#e8a8b4">
<ellipse cx="1436.7" cy="2077" rx="12.5" ry="17.2" fill="#e8a8b4"/>
<circle cx="1446.2" cy="2075.5" r="4.4" fill="#e8a8b4"/>
<circle cx="1445.5" cy="2083.2" r="4.3" fill="#e8a8b4"/>
<circle cx="1443.2" cy="2085.5" r="5" fill="#e8a8b4"/>
<circle cx="1437.1" cy="2090.8" r="5.3" fill="#e8a8b4"/>
<circle cx="1435.9" cy="2091.7" r="4.8" fill="#e8a8b4"/>
<circle cx="1430.2" cy="2086.8" r="4.7" fill="#e8a8b4"/>
<circle cx="1428" cy="2082.1" r="4.2" fill="#e8a8b4"/>
<circle cx="1427.3" cy="2077.6" r="4.2" fill="#e8a8b4"/>
<circle cx="1428.4" cy="2070.2" r="4.2" fill="#e8a8b4"/>
<circle cx="1430.7" cy="2065.4" r="4.4" fill="#e8a8b4"/>
<circle cx="1433.6" cy="2063" r="4.8" fill="#e8a8b4"/>
<circle cx="1439.6" cy="2062.8" r="4.4" fill="#e8a8b4"/>
<circle cx="1441.3" cy="2065.8" r="4.3" fill="#e8a8b4"/>
<circle cx="1445.6" cy="2072.3" r="5.3" fill="#e8a8b4"/>
</g>
<ellipse cx="1380.8" cy="2065.1" rx="8.2" ry="4" fill="#4de3c9" transform="rotate(-6.8 1380.8 2065.1)"/>
<ellipse cx="1396.3" cy="2063.2" rx="8.2" ry="4" fill="#4de3c9" transform="rotate(-6.8 1396.3 2063.2)"/>
<ellipse cx="1411.8" cy="2061.4" rx="8.2" ry="4" fill="#4de3c9" transform="rotate(-6.8 1411.8 2061.4)"/>
<ellipse cx="1427.3" cy="2059.5" rx="8.2" ry="4" fill="#4de3c9" transform="rotate(-6.8 1427.3 2059.5)"/>
<ellipse cx="1442.9" cy="2057.6" rx="8.2" ry="4" fill="#4de3c9" transform="rotate(-6.8 1442.9 2057.6)"/>
<ellipse cx="1458.4" cy="2055.8" rx="8.2" ry="4" fill="#4de3c9" transform="rotate(-6.8 1458.4 2055.8)"/>
<ellipse cx="1473.9" cy="2053.9" rx="8.2" ry="4" fill="#4de3c9" transform="rotate(-6.8 1473.9 2053.9)"/>
<circle cx="1373" cy="2066" r="1.1" fill="#1f5f55" opacity="0.6"/>
<circle cx="1388.5" cy="2064.1" r="1.1" fill="#1f5f55" opacity="0.6"/>
<circle cx="1404.1" cy="2062.3" r="1.1" fill="#1f5f55" opacity="0.6"/>
<circle cx="1419.6" cy="2060.4" r="1.1" fill="#1f5f55" opacity="0.6"/>
<circle cx="1435.1" cy="2058.6" r="1.1" fill="#1f5f55" opacity="0.6"/>
<circle cx="1450.6" cy="2056.7" r="1.1" fill="#1f5f55" opacity="0.6"/>
<circle cx="1466.2" cy="2054.9" r="1.1" fill="#1f5f55" opacity="0.6"/>
<circle cx="1481.7" cy="2053" r="1.1" fill="#1f5f55" opacity="0.6"/>
<g fill="none" stroke-linecap="round" stroke-linejoin="round">
<ellipse cx="1437.7" cy="2043" rx="7.7" ry="8.8" fill="#e98a6e" opacity="0.85"/>
<polyline points="1436.9,2047 1432.8,2045.1 1431.2,2040.3 1426.8,2039.6 1426,2044.7" fill="none" stroke="#e98a6e" stroke-width="2.3"/>
<polyline points="1432.8,2039.3 1436.3,2036.1 1439.2,2039.9 1443.3,2038 1442.3,2033" fill="none" stroke="#e98a6e" stroke-width="2.3"/>
<polyline points="1432.8,2037.2 1435.9,2040.8 1440,2038.7 1442.2,2034.3 1446.5,2032.7" fill="none" stroke="#e98a6e" stroke-width="2.3"/>
<polyline points="1448.3,2041.7 1448.2,2042.6 1449,2047.6 1447.9,2052.6 1443.8,2053.1" fill="none" stroke="#e98a6e" stroke-width="2.3"/>
<polyline points="1434,2048.9 1437.5,2045.7 1441.9,2045.1 1445.7,2047.9 1449.3,2050.9" fill="none" stroke="#c8644a" stroke-width="2.3"/>
<polyline points="1433.4,2052.2 1433.5,2047 1429.2,2045.5 1426.7,2041.3 1428.7,2036.7" fill="none" stroke="#c8644a" stroke-width="2.3"/>
<polyline points="1448.1,2047.9 1443.8,2049.5 1440.5,2053 1437,2056.1 1432.8,2057.9" fill="none" stroke="#e98a6e" stroke-width="2.3"/>
<polyline points="1432.9,2047.3 1428.5,2048.6 1428.5,2048.4 1425.8,2044.3 1427.4,2041.1" fill="none" stroke="#e98a6e" stroke-width="2.3"/>
<polyline points="1439.7,2038.4 1440.2,2043.5 1444.4,2044.9 1447.1,2049.1 1444.8,2053.5" fill="none" stroke="#c8644a" stroke-width="2.3"/>
<polyline points="1439.6,2052.1 1444,2051.2 1447.7,2048.4 1446.8,2049.5 1445.3,2050.8" fill="none" stroke="#e98a6e" stroke-width="2.3"/>
<polyline points="1444.2,2050.1 1447.2,2046.2 1448.5,2041.3 1448.3,2042.9 1448.1,2041.8" fill="none" stroke="#e98a6e" stroke-width="2.3"/>
<polyline points="1438.8,2038 1436,2042 1431.8,2040.1 1432.1,2035 1428.7,2031.6" fill="none" stroke="#e98a6e" stroke-width="2.3"/>
<polyline points="1433.5,2043.3 1429.2,2042.1 1424.7,2042.3 1425.5,2041.8 1426.3,2040.7" fill="none" stroke="#e98a6e" stroke-width="2.3"/>
<polyline points="1439.3,2033.8 1440,2028.7 1441.9,2031 1443.3,2032.7 1444,2033.5" fill="none" stroke="#e98a6e" stroke-width="2.3"/>
<polyline points="1427.2,2047 1427.2,2046.3 1427.5,2043.9 1427.4,2043.3 1424.2,2046.8" fill="none" stroke="#e98a6e" stroke-width="2.3"/>
<polyline points="1426.4,2039.6 1430.9,2039.9 1434.8,2042.5 1434.2,2047.6 1431,2051.2" fill="none" stroke="#e98a6e" stroke-width="2.3"/>
<polyline points="1440.6,2032 1437.5,2035.8 1433.9,2038.8 1434.1,2043.9 1432.6,2048.8" fill="none" stroke="#e98a6e" stroke-width="2.3"/>
<polyline points="1446.2,2046.3 1448.2,2050.9 1444.9,2054.5 1444,2054.3 1440.2,2057.1" fill="none" stroke="#c8644a" stroke-width="2.3"/>
</g>
<g fill="none" stroke-linecap="round" stroke-linejoin="round">
<ellipse cx="1423.7" cy="2031" rx="6.9" ry="6.1" fill="#3f78c8" opacity="0.85"/>
<polyline points="1433.1,2032 1430.7,2034.8 1426.9,2033.8 1422.9,2033.4 1421.1,2030.2" fill="none" stroke="#3f78c8" stroke-width="2.3"/>
<polyline points="1421.9,2032.1 1418.9,2029.8 1415.5,2027.9 1415.3,2028.2 1414.7,2024.7" fill="none" stroke="#2b5aa6" stroke-width="2.3"/>
<polyline points="1423.5,2034.2 1427.2,2032.7 1427.1,2029.2 1424.3,2026.7 1420.8,2028.5" fill="none" stroke="#2b5aa6" stroke-width="2.3"/>
<polyline points="1420.1,2033.1 1416.1,2032.6 1415.2,2036 1419,2037.3 1423,2037.4" fill="none" stroke="#2b5aa6" stroke-width="2.3"/>
<polyline points="1418.5,2033.8 1414.7,2032.8 1415.7,2034.3 1417,2037.6 1417.7,2037.8" fill="none" stroke="#3f78c8" stroke-width="2.3"/>
<polyline points="1414.5,2031.4 1416,2034.6 1419.9,2033.9 1423.7,2032.7 1426.9,2030.6" fill="none" stroke="#3f78c8" stroke-width="2.3"/>
<polyline points="1419.4,2033.5 1419.9,2030 1423.9,2030.1 1427.2,2032 1431.1,2031.3" fill="none" stroke="#3f78c8" stroke-width="2.3"/>
<polyline points="1425,2026 1426.3,2029.3 1426,2032.8 1429,2035.1 1426.7,2037.9" fill="none" stroke="#3f78c8" stroke-width="2.3"/>
<polyline points="1433.1,2030.2 1429.1,2030.3 1428,2026.9 1426.4,2023.6 1422.8,2025.2" fill="none" stroke="#3f78c8" stroke-width="2.3"/>
<polyline points="1426.4,2026.6 1425.6,2023.1 1429.3,2021.8 1430.2,2023.5 1431,2025.4" fill="none" stroke="#3f78c8" stroke-width="2.3"/>
<polyline points="1419.1,2034.8 1417.3,2031.6 1415.6,2028.5 1411.8,2029.6 1412.9,2028.9" fill="none" stroke="#3f78c8" stroke-width="2.3"/>
<polyline points="1421.6,2036.6 1425.3,2035.3 1429.2,2034.6 1431.7,2031.8 1433.4,2028.6" fill="none" stroke="#3f78c8" stroke-width="2.3"/>
<polyline points="1429.5,2029.6 1426.3,2027.5 1422.3,2027.9 1419.2,2025.7 1415.8,2023.9" fill="none" stroke="#2b5aa6" stroke-width="2.3"/>
<polyline points="1429.9,2030.4 1425.9,2030.2 1425.5,2033.7 1423,2036.4 1419.3,2037.8" fill="none" stroke="#2b5aa6" stroke-width="2.3"/>
<polyline points="1413.7,2032.3 1414.8,2030.1 1416.7,2027 1420.4,2025.6 1424,2027.1" fill="none" stroke="#3f78c8" stroke-width="2.3"/>
<polyline points="1425.7,2023.7 1427.8,2020.7 1429.4,2023.9 1432.7,2025.9 1434.3,2029.1" fill="none" stroke="#3f78c8" stroke-width="2.3"/>
<polyline points="1427.4,2023.1 1428.8,2026.4 1426.9,2029.5 1423.3,2031 1425,2034.2" fill="none" stroke="#3f78c8" stroke-width="2.3"/>
<polyline points="1430.2,2028.6 1434.2,2028.1 1432.9,2027.1 1432.6,2029.5 1432.7,2030" fill="none" stroke="#2b5aa6" stroke-width="2.3"/>
</g>
<g fill="none" stroke-linecap="round" stroke-linejoin="round">
<ellipse cx="1416.7" cy="2057.5" rx="6.1" ry="6.1" fill="#3f78c8" opacity="0.85"/>
<polyline points="1412.8,2054.1 1409.7,2052.4 1409.7,2052.7 1409.3,2054 1406.5,2056.1" fill="none" stroke="#3f78c8" stroke-width="2.3"/>
<polyline points="1415.6,2053.4 1413.3,2056.1 1412.1,2059.4 1408.6,2059.5 1408.6,2058.4" fill="none" stroke="#3f78c8" stroke-width="2.3"/>
<polyline points="1409.5,2055.1 1407.6,2052.1 1409.4,2051.4 1409.2,2053.7 1408.5,2057.2" fill="none" stroke="#2b5aa6" stroke-width="2.3"/>
<polyline points="1416.3,2064.5 1416.5,2068.1 1414.7,2066.5 1415.7,2066.3 1415,2065.9" fill="none" stroke="#3f78c8" stroke-width="2.3"/>
<polyline points="1414.3,2051.1 1413.6,2054.5 1413.3,2058.1 1409.8,2058.4 1406.5,2057.2" fill="none" stroke="#3f78c8" stroke-width="2.3"/>
<polyline points="1425.3,2060.4 1423.9,2057.2 1420.7,2055.7 1418.8,2052.7 1416.7,2049.9" fill="none" stroke="#3f78c8" stroke-width="2.3"/>
<polyline points="1417.2,2048.7 1419.9,2051 1423.1,2052.5 1426.4,2053.5 1424.2,2052.3" fill="none" stroke="#2b5aa6" stroke-width="2.3"/>
<polyline points="1422.9,2061 1425,2063.8 1422.3,2066 1419.1,2065.5 1420.1,2064.9" fill="none" stroke="#2b5aa6" stroke-width="2.3"/>
<polyline points="1419.4,2062 1416.3,2063.7 1413.3,2065.5 1410.1,2064.1 1407.4,2061.8" fill="none" stroke="#3f78c8" stroke-width="2.3"/>
<polyline points="1414.3,2061.5 1417.8,2061 1420.6,2058.8 1418.8,2055.7 1415.7,2054" fill="none" stroke="#3f78c8" stroke-width="2.3"/>
<polyline points="1424.4,2054.6 1424.5,2051.1 1423.2,2050.8 1422.8,2050.9 1420.7,2048.1" fill="none" stroke="#2b5aa6" stroke-width="2.3"/>
<polyline points="1421.8,2058.6 1419.3,2056.1 1416.1,2057.4 1414,2054.6 1411.5,2052.2" fill="none" stroke="#2b5aa6" stroke-width="2.3"/>
<polyline points="1415,2055.8 1414.1,2052.4 1411.3,2050.3 1410.5,2051.8 1408.7,2054.8" fill="none" stroke="#3f78c8" stroke-width="2.3"/>
<polyline points="1417.5,2064.7 1414.5,2066.6 1413.7,2065.8 1410.2,2065.8 1409,2062.5" fill="none" stroke="#3f78c8" stroke-width="2.3"/>
</g>
<g fill="#e3327c">
<ellipse cx="1400.8" cy="2093.7" rx="9.3" ry="9.2" fill="#e3327c"/>
<circle cx="1407.8" cy="2093.3" r="3.6" fill="#e3327c"/>
<circle cx="1406.4" cy="2096.3" r="3.8" fill="#e3327c"/>
<circle cx="1405.2" cy="2098.4" r="3.7" fill="#e3327c"/>
<circle cx="1400.5" cy="2100" r="3.9" fill="#e3327c"/>
<circle cx="1397.8" cy="2099.6" r="3.1" fill="#e3327c"/>
<circle cx="1395.5" cy="2097.6" r="4" fill="#e3327c"/>
<circle cx="1393.9" cy="2094.2" r="3.2" fill="#e3327c"/>
<circle cx="1395.1" cy="2091" r="3" fill="#e3327c"/>
<circle cx="1397.6" cy="2088.4" r="3.7" fill="#e3327c"/>
<circle cx="1401.7" cy="2087.4" r="3.3" fill="#e3327c"/>
<circle cx="1403.5" cy="2087.5" r="3.4" fill="#e3327c"/>
<circle cx="1406.8" cy="2090.6" r="3.8" fill="#e3327c"/>
</g>
<g fill="#e3327c">
<ellipse cx="1458.4" cy="2093.7" rx="9.2" ry="9.2" fill="#e3327c"/>
<circle cx="1464.9" cy="2093.2" r="3.8" fill="#e3327c"/>
<circle cx="1463.8" cy="2096.7" r="4" fill="#e3327c"/>
<circle cx="1462.4" cy="2098.2" r="3.3" fill="#e3327c"/>
<circle cx="1459.1" cy="2099.8" r="4" fill="#e3327c"/>
<circle cx="1454.3" cy="2098.8" r="3.3" fill="#e3327c"/>
<circle cx="1452.9" cy="2097.5" r="3.1" fill="#e3327c"/>
<circle cx="1452.5" cy="2094.9" r="3.3" fill="#e3327c"/>
<circle cx="1452.7" cy="2090.5" r="3" fill="#e3327c"/>
<circle cx="1454.7" cy="2088.2" r="3.9" fill="#e3327c"/>
<circle cx="1458" cy="2087.6" r="3" fill="#e3327c"/>
<circle cx="1462.6" cy="2089" r="3.9" fill="#e3327c"/>
<circle cx="1464.1" cy="2090.4" r="4.2" fill="#e3327c"/>
</g>
</svg>
</body></html>
